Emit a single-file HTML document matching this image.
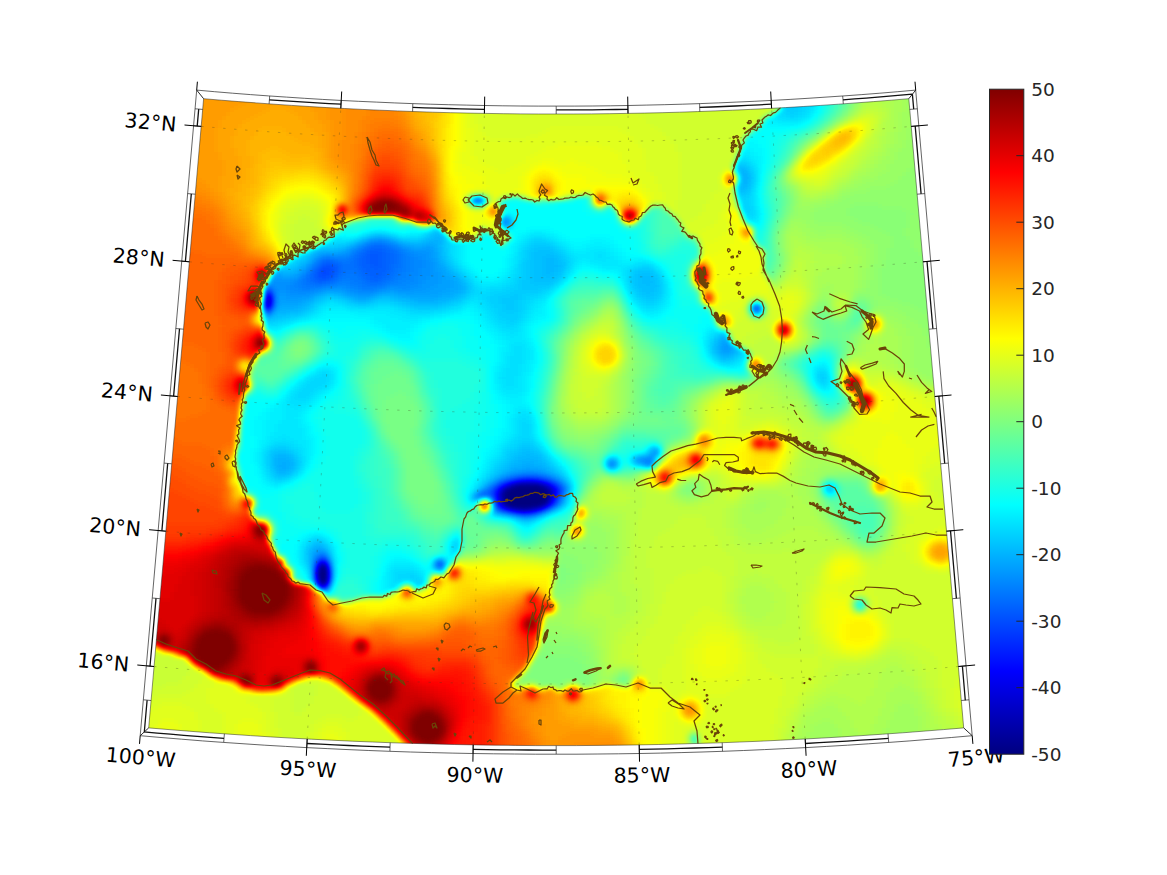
<!DOCTYPE html>
<html><head><meta charset="utf-8"><title>map</title><style>html,body{margin:0;padding:0;background:#fff;overflow:hidden}body{width:1167px;height:875px;position:relative}</style></head><body>
<svg width="1167" height="875" viewBox="0 0 1167 875" style="position:absolute;left:0;top:0">
<defs>
<filter id="jet" x="0" y="0" width="1167" height="875" filterUnits="userSpaceOnUse" color-interpolation-filters="sRGB">
<feGaussianBlur stdDeviation="2.6"/>
<feComponentTransfer>
<feFuncR type="table" tableValues="0 0 0 0 .5 1 1 1 .5"/>
<feFuncG type="table" tableValues="0 0 .5 1 1 1 .5 0 0"/>
<feFuncB type="table" tableValues=".5 1 1 1 .5 0 0 0 0"/>
<feFuncA type="linear" slope="100" intercept="0"/>
</feComponentTransfer>
</filter>
<clipPath id="mc"><path d="M203.6 98.7L221.2 100.2L238.8 101.6L256.4 102.9L274 104.2L291.6 105.4L309.2 106.5L326.9 107.6L344.5 108.5L362.1 109.4L379.7 110.2L397.4 110.9L415 111.6L432.7 112.2L450.3 112.7L468 113.1L485.6 113.4L503.2 113.7L520.9 113.9L538.5 114L556.2 114L573.9 114L591.5 113.9L609.2 113.7L626.8 113.4L644.4 113.1L662.1 112.7L679.7 112.2L697.4 111.6L715 110.9L732.7 110.2L750.3 109.4L767.9 108.5L785.5 107.6L803.2 106.5L820.8 105.4L838.4 104.2L856 102.9L873.6 101.6L891.2 100.2L908.8 98.7L963.7 727.9L943.4 729.6L923.1 731.2L902.7 732.8L882.4 734.2L862 735.6L841.7 736.9L821.3 738.1L800.9 739.2L780.5 740.2L760.2 741.2L739.8 742L719.4 742.8L699 743.4L678.6 744L658.2 744.5L637.8 744.9L617.4 745.2L597 745.4L576.6 745.6L556.2 745.6L535.8 745.6L515.4 745.4L495 745.2L474.6 744.9L454.2 744.5L433.8 744L413.4 743.4L393 742.8L372.6 742L352.2 741.2L331.9 740.2L311.5 739.2L291.1 738.1L270.7 736.9L250.4 735.6L230 734.2L209.7 732.8L189.3 731.2L169 729.6L148.7 727.9Z"/></clipPath>
<linearGradient id="cb" x1="0" y1="1" x2="0" y2="0">
<stop offset="0" stop-color="#000080"/><stop offset=".125" stop-color="#0000ff"/><stop offset=".375" stop-color="#00ffff"/>
<stop offset=".625" stop-color="#ffff00"/><stop offset=".875" stop-color="#ff0000"/><stop offset="1" stop-color="#800000"/>
</linearGradient>
</defs>
<rect width="1167" height="875" fill="#fff"/>
<g clip-path="url(#mc)"><g filter="url(#jet)" shape-rendering="crispEdges"><rect x="100" y="60" width="920" height="730" fill="#999"/>
<path fill="#000000" d="M516 484h24v4h-24zM508 488h40v4h-40zM504 492h44v4h-44zM504 496h44v4h-44zM504 500h44v4h-44zM508 504h32v4h-32zM320 564h4v4h-4zM320 568h8v4h-8zM320 572h8v4h-8zM320 576h8v4h-8zM320 580h8v4h-8z"/>
<path fill="#040404" d="M504 488h4v4h-4z"/>
<path fill="#060606" d="M512 484h4v4h-4zM540 484h4v4h-4zM540 504h4v4h-4zM316 572h4v4h-4z"/>
<path fill="#080808" d="M548 492h4v4h-4z"/>
<path fill="#0a0a0a" d="M548 488h4v4h-4zM500 492h4v4h-4zM504 504h4v4h-4zM520 508h8v4h-8zM316 576h4v4h-4z"/>
<path fill="#0c0c0c" d="M500 496h4v4h-4zM324 564h4v4h-4z"/>
<path fill="#0e0e0e" d="M508 484h4v4h-4zM544 484h4v4h-4zM548 496h4v4h-4zM516 508h4v4h-4zM528 508h4v4h-4zM316 568h4v4h-4z"/>
<path fill="#101010" d="M268 300h4v4h-4z"/>
<path fill="#121212" d="M268 296h4v4h-4zM264 304h4v4h-4zM500 488h4v4h-4zM500 500h4v4h-4zM548 500h4v4h-4zM320 584h4v4h-4z"/>
<path fill="#141414" d="M512 508h4v4h-4zM532 508h4v4h-4z"/>
<path fill="#161616" d="M264 300h4v4h-4zM524 480h8v4h-8zM552 492h4v4h-4zM544 504h4v4h-4z"/>
<path fill="#181818" d="M520 480h4v4h-4zM532 480h4v4h-4zM552 488h4v4h-4zM500 504h4v4h-4zM316 580h4v4h-4z"/>
<path fill="#1a1a1a" d="M264 296h4v4h-4zM268 304h4v4h-4zM536 480h4v4h-4zM504 484h4v4h-4zM548 484h4v4h-4z"/>
<path fill="#1c1c1c" d="M516 480h4v4h-4zM496 492h4v4h-4zM496 496h4v4h-4zM508 508h4v4h-4zM536 508h4v4h-4zM320 560h4v4h-4zM316 564h4v4h-4z"/>
<path fill="#1e1e1e" d="M324 584h4v4h-4z"/>
<path fill="#202020" d="M264 292h4v4h-4zM540 480h4v4h-4zM552 496h4v4h-4z"/>
<path fill="#222222" d="M512 480h4v4h-4zM496 488h4v4h-4zM496 500h4v4h-4z"/>
<path fill="#242424" d="M268 292h4v4h-4zM500 484h4v4h-4zM552 484h4v4h-4zM552 500h4v4h-4zM324 560h4v4h-4z"/>
<path fill="#262626" d="M544 480h4v4h-4zM556 488h4v4h-4zM556 492h4v4h-4zM496 504h4v4h-4zM548 504h4v4h-4zM504 508h4v4h-4zM328 572h4v4h-4z"/>
<path fill="#282828" d="M264 308h4v4h-4zM508 480h4v4h-4zM540 508h4v4h-4z"/>
<path fill="#2a2a2a" d="M328 576h4v4h-4z"/>
<path fill="#2c2c2c" d="M548 480h4v4h-4zM492 492h4v4h-4zM328 568h4v4h-4z"/>
<path fill="#2e2e2e" d="M556 484h4v4h-4zM492 488h4v4h-4zM492 496h4v4h-4zM500 508h4v4h-4zM520 512h8v4h-8zM316 560h4v4h-4zM316 584h4v4h-4z"/>
<path fill="#303030" d="M268 308h4v4h-4zM524 476h12v4h-12zM504 480h4v4h-4zM496 484h4v4h-4zM528 512h4v4h-4z"/>
<path fill="#323232" d="M320 268h12v4h-12zM320 272h8v4h-8zM520 476h4v4h-4zM536 476h4v4h-4zM556 496h4v4h-4zM516 512h4v4h-4zM320 556h4v4h-4z"/>
<path fill="#343434" d="M324 264h8v4h-8zM316 272h4v4h-4zM328 272h4v4h-4zM320 276h8v4h-8zM264 288h4v4h-4zM756 304h4v4h-4zM752 308h8v4h-8zM516 476h4v4h-4zM552 480h4v4h-4zM560 488h4v4h-4zM480 492h12v4h-12zM560 492h4v4h-4zM544 508h4v4h-4zM532 512h4v4h-4zM328 580h4v4h-4z"/>
<path fill="#363636" d="M368 252h12v4h-12zM368 256h12v4h-12zM368 260h12v4h-12zM320 264h4v4h-4zM332 264h4v4h-4zM372 264h8v4h-8zM316 268h4v4h-4zM332 268h4v4h-4zM332 272h4v4h-4zM316 276h4v4h-4zM328 276h4v4h-4zM268 288h4v4h-4zM540 476h4v4h-4zM500 480h4v4h-4zM556 500h4v4h-4zM552 504h4v4h-4zM328 564h4v4h-4z"/>
<path fill="#383838" d="M472 200h12v4h-12zM368 248h16v4h-16zM364 252h4v4h-4zM380 252h8v4h-8zM360 256h8v4h-8zM380 256h8v4h-8zM324 260h8v4h-8zM360 260h8v4h-8zM380 260h8v4h-8zM336 264h4v4h-4zM360 264h12v4h-12zM380 264h8v4h-8zM336 268h4v4h-4zM364 268h24v4h-24zM312 272h4v4h-4zM368 272h16v4h-16zM312 276h4v4h-4zM332 276h4v4h-4zM372 276h8v4h-8zM316 280h8v4h-8zM272 296h4v4h-4zM272 300h4v4h-4zM512 476h4v4h-4zM544 476h4v4h-4zM488 488h4v4h-4zM496 508h4v4h-4zM512 512h4v4h-4zM324 556h4v4h-4zM436 560h8v4h-8zM436 564h8v4h-8zM320 588h4v4h-4z"/>
<path fill="#3a3a3a" d="M372 244h12v4h-12zM364 248h4v4h-4zM384 248h8v4h-8zM360 252h4v4h-4zM388 252h8v4h-8zM356 256h4v4h-4zM388 256h8v4h-8zM320 260h4v4h-4zM332 260h4v4h-4zM356 260h4v4h-4zM388 260h8v4h-8zM316 264h4v4h-4zM356 264h4v4h-4zM388 264h4v4h-4zM312 268h4v4h-4zM340 268h4v4h-4zM360 268h4v4h-4zM388 268h4v4h-4zM336 272h4v4h-4zM360 272h8v4h-8zM384 272h4v4h-4zM308 276h4v4h-4zM364 276h8v4h-8zM380 276h8v4h-8zM312 280h4v4h-4zM324 280h8v4h-8zM368 280h12v4h-12zM492 484h4v4h-4zM560 484h4v4h-4zM492 500h4v4h-4zM316 556h4v4h-4z"/>
<path fill="#3c3c3c" d="M476 196h4v4h-4zM368 244h4v4h-4zM384 244h4v4h-4zM360 248h4v4h-4zM392 248h4v4h-4zM356 252h4v4h-4zM396 252h4v4h-4zM352 256h4v4h-4zM396 256h4v4h-4zM336 260h8v4h-8zM348 260h8v4h-8zM396 260h4v4h-4zM340 264h16v4h-16zM392 264h8v4h-8zM344 268h16v4h-16zM392 268h4v4h-4zM308 272h4v4h-4zM340 272h4v4h-4zM356 272h4v4h-4zM388 272h8v4h-8zM336 276h4v4h-4zM360 276h4v4h-4zM388 276h4v4h-4zM304 280h8v4h-8zM332 280h4v4h-4zM364 280h4v4h-4zM380 280h4v4h-4zM272 292h4v4h-4zM272 304h4v4h-4zM752 304h4v4h-4zM508 476h4v4h-4zM556 480h4v4h-4zM476 496h4v4h-4zM536 512h4v4h-4zM312 568h4v4h-4zM312 572h4v4h-4zM324 588h4v4h-4z"/>
<path fill="#3e3e3e" d="M364 244h4v4h-4zM388 244h4v4h-4zM356 248h4v4h-4zM396 248h4v4h-4zM352 252h4v4h-4zM400 252h4v4h-4zM324 256h8v4h-8zM348 256h4v4h-4zM400 256h4v4h-4zM316 260h4v4h-4zM344 260h4v4h-4zM400 260h4v4h-4zM312 264h4v4h-4zM400 264h4v4h-4zM396 268h8v4h-8zM344 272h12v4h-12zM396 272h4v4h-4zM304 276h4v4h-4zM340 276h20v4h-20zM392 276h4v4h-4zM300 280h4v4h-4zM336 280h4v4h-4zM352 280h12v4h-12zM384 280h8v4h-8zM304 284h20v4h-20zM360 284h24v4h-24zM548 476h4v4h-4zM496 480h4v4h-4zM508 512h4v4h-4zM312 564h4v4h-4zM312 576h4v4h-4z"/>
<path fill="#404040" d="M504 220h4v4h-4zM372 240h12v4h-12zM392 244h4v4h-4zM400 248h4v4h-4zM404 252h4v4h-4zM320 256h4v4h-4zM332 256h16v4h-16zM404 256h8v4h-8zM404 260h8v4h-8zM404 264h8v4h-8zM308 268h4v4h-4zM404 268h8v4h-8zM304 272h4v4h-4zM400 272h8v4h-8zM300 276h4v4h-4zM396 276h12v4h-12zM296 280h4v4h-4zM340 280h12v4h-12zM392 280h8v4h-8zM268 284h4v4h-4zM296 284h8v4h-8zM324 284h8v4h-8zM348 284h12v4h-12zM384 284h4v4h-4zM272 288h4v4h-4zM300 288h12v4h-12zM360 288h16v4h-16zM264 312h4v4h-4zM648 456h4v4h-4zM644 460h8v4h-8zM648 464h4v4h-4zM524 472h12v4h-12zM504 476h4v4h-4zM484 488h4v4h-4zM564 488h4v4h-4zM476 492h4v4h-4zM488 496h4v4h-4zM560 496h4v4h-4zM492 504h4v4h-4zM548 508h4v4h-4zM320 552h4v4h-4zM328 560h4v4h-4z"/>
<path fill="#424242" d="M368 240h4v4h-4zM384 240h4v4h-4zM360 244h4v4h-4zM396 244h4v4h-4zM352 248h4v4h-4zM404 248h4v4h-4zM348 252h4v4h-4zM408 252h8v4h-8zM412 256h8v4h-8zM412 260h12v4h-12zM412 264h12v4h-12zM412 268h8v4h-8zM408 272h12v4h-12zM408 276h8v4h-8zM292 280h4v4h-4zM400 280h16v4h-16zM264 284h4v4h-4zM288 284h8v4h-8zM332 284h16v4h-16zM388 284h20v4h-20zM288 288h12v4h-12zM312 288h8v4h-8zM352 288h8v4h-8zM376 288h4v4h-4zM268 312h4v4h-4zM644 456h4v4h-4zM608 460h8v4h-8zM608 464h8v4h-8zM516 472h8v4h-8zM536 472h8v4h-8zM552 476h4v4h-4zM488 484h4v4h-4zM556 504h4v4h-4zM312 560h4v4h-4z"/>
<path fill="#444444" d="M388 240h4v4h-4zM408 248h4v4h-4zM344 252h4v4h-4zM416 252h12v4h-12zM316 256h4v4h-4zM420 256h8v4h-8zM312 260h4v4h-4zM424 260h8v4h-8zM308 264h4v4h-4zM424 264h8v4h-8zM304 268h4v4h-4zM420 268h12v4h-12zM300 272h4v4h-4zM420 272h12v4h-12zM296 276h4v4h-4zM416 276h12v4h-12zM272 280h20v4h-20zM416 280h8v4h-8zM272 284h16v4h-16zM408 284h12v4h-12zM276 288h12v4h-12zM320 288h4v4h-4zM344 288h8v4h-8zM380 288h8v4h-8zM400 288h12v4h-12zM288 292h24v4h-24zM356 292h16v4h-16zM272 308h4v4h-4zM640 456h4v4h-4zM640 460h4v4h-4zM512 472h4v4h-4zM500 476h4v4h-4zM560 480h4v4h-4zM564 484h4v4h-4zM560 500h4v4h-4zM504 512h4v4h-4zM540 512h4v4h-4zM316 552h4v4h-4zM324 552h4v4h-4zM328 584h4v4h-4z"/>
<path fill="#464646" d="M504 216h4v4h-4zM500 220h4v4h-4zM508 220h4v4h-4zM504 224h4v4h-4zM364 240h4v4h-4zM392 240h4v4h-4zM356 244h4v4h-4zM400 244h4v4h-4zM348 248h4v4h-4zM412 248h20v4h-20zM324 252h8v4h-8zM336 252h8v4h-8zM428 252h4v4h-4zM428 256h4v4h-4zM432 260h4v4h-4zM432 264h4v4h-4zM432 268h4v4h-4zM432 272h8v4h-8zM272 276h12v4h-12zM288 276h8v4h-8zM428 276h12v4h-12zM268 280h4v4h-4zM424 280h16v4h-16zM420 284h16v4h-16zM324 288h20v4h-20zM388 288h12v4h-12zM412 288h16v4h-16zM276 292h12v4h-12zM312 292h4v4h-4zM348 292h8v4h-8zM372 292h4v4h-4zM276 296h4v4h-4zM284 296h20v4h-20zM724 340h4v4h-4zM724 344h8v4h-8zM724 348h4v4h-4zM652 452h8v4h-8zM636 456h4v4h-4zM636 460h4v4h-4zM644 464h4v4h-4zM508 472h4v4h-4zM544 472h4v4h-4zM492 480h4v4h-4zM524 516h4v4h-4zM312 556h4v4h-4zM312 580h4v4h-4z"/>
<path fill="#484848" d="M376 236h8v4h-8zM404 244h8v4h-8zM424 244h8v4h-8zM344 248h4v4h-4zM432 248h4v4h-4zM320 252h4v4h-4zM332 252h4v4h-4zM432 252h4v4h-4zM312 256h4v4h-4zM432 256h4v4h-4zM436 260h4v4h-4zM304 264h4v4h-4zM436 264h4v4h-4zM300 268h4v4h-4zM436 268h8v4h-8zM272 272h8v4h-8zM296 272h4v4h-4zM440 272h4v4h-4zM284 276h4v4h-4zM440 276h8v4h-8zM440 280h12v4h-12zM436 284h16v4h-16zM428 288h20v4h-20zM316 292h4v4h-4zM344 292h4v4h-4zM376 292h4v4h-4zM396 292h44v4h-44zM280 296h4v4h-4zM304 296h8v4h-8zM356 296h12v4h-12zM276 300h24v4h-24zM276 304h4v4h-4zM720 344h4v4h-4zM720 348h4v4h-4zM728 348h4v4h-4zM652 448h8v4h-8zM652 460h4v4h-4zM520 468h20v4h-20zM548 472h4v4h-4zM556 476h4v4h-4zM480 488h4v4h-4zM564 492h4v4h-4zM472 496h4v4h-4zM480 496h4v4h-4zM492 508h4v4h-4zM500 512h4v4h-4zM520 516h4v4h-4zM528 516h4v4h-4zM316 548h8v4h-8zM312 552h4v4h-4z"/>
<path fill="#4a4a4a" d="M372 236h4v4h-4zM384 236h4v4h-4zM360 240h4v4h-4zM396 240h4v4h-4zM352 244h4v4h-4zM412 244h12v4h-12zM432 244h4v4h-4zM316 252h4v4h-4zM436 252h4v4h-4zM436 256h4v4h-4zM308 260h4v4h-4zM440 264h4v4h-4zM444 268h4v4h-4zM280 272h4v4h-4zM292 272h4v4h-4zM444 272h8v4h-8zM448 276h8v4h-8zM452 280h8v4h-8zM452 284h8v4h-8zM448 288h12v4h-12zM320 292h4v4h-4zM340 292h4v4h-4zM380 292h16v4h-16zM440 292h12v4h-12zM352 296h4v4h-4zM368 296h4v4h-4zM408 296h32v4h-32zM300 300h8v4h-8zM280 304h20v4h-20zM756 312h4v4h-4zM724 336h4v4h-4zM720 340h4v4h-4zM732 348h4v4h-4zM720 352h12v4h-12zM652 456h4v4h-4zM280 464h8v4h-8zM524 464h8v4h-8zM512 468h8v4h-8zM540 468h4v4h-4zM504 472h4v4h-4zM496 476h4v4h-4zM484 484h4v4h-4zM552 508h4v4h-4zM328 556h4v4h-4zM436 568h8v4h-8z"/>
<path fill="#4c4c4c" d="M740 168h4v4h-4zM740 172h8v4h-8zM740 176h8v4h-8zM740 180h8v4h-8zM740 184h4v4h-4zM368 236h4v4h-4zM388 236h4v4h-4zM436 236h4v4h-4zM400 240h4v4h-4zM424 240h16v4h-16zM348 244h4v4h-4zM436 244h4v4h-4zM336 248h8v4h-8zM436 248h4v4h-4zM440 260h4v4h-4zM300 264h4v4h-4zM444 264h4v4h-4zM276 268h4v4h-4zM296 268h4v4h-4zM284 272h8v4h-8zM456 276h4v4h-4zM460 284h4v4h-4zM460 288h4v4h-4zM324 292h4v4h-4zM332 292h8v4h-8zM452 292h8v4h-8zM312 296h4v4h-4zM348 296h4v4h-4zM372 296h4v4h-4zM400 296h8v4h-8zM440 296h12v4h-12zM308 300h4v4h-4zM416 300h20v4h-20zM300 304h4v4h-4zM276 308h20v4h-20zM760 308h4v4h-4zM272 312h4v4h-4zM264 316h4v4h-4zM720 336h4v4h-4zM716 344h4v4h-4zM716 348h4v4h-4zM736 348h4v4h-4zM648 452h4v4h-4zM276 456h12v4h-12zM276 460h16v4h-16zM520 460h16v4h-16zM276 464h4v4h-4zM288 464h4v4h-4zM512 464h12v4h-12zM532 464h12v4h-12zM276 468h12v4h-12zM508 468h4v4h-4zM544 468h4v4h-4zM500 472h4v4h-4zM552 472h4v4h-4zM560 476h4v4h-4zM488 480h4v4h-4zM564 480h4v4h-4zM496 512h4v4h-4zM516 516h4v4h-4zM532 516h4v4h-4zM316 544h4v4h-4zM312 548h4v4h-4zM324 548h4v4h-4zM432 564h4v4h-4z"/>
<path fill="#4e4e4e" d="M736 168h4v4h-4zM744 168h4v4h-4zM748 176h4v4h-4zM744 184h4v4h-4zM740 188h4v4h-4zM472 196h4v4h-4zM480 196h4v4h-4zM436 228h4v4h-4zM436 232h8v4h-8zM428 236h8v4h-8zM440 236h4v4h-4zM356 240h4v4h-4zM404 240h4v4h-4zM420 240h4v4h-4zM440 240h4v4h-4zM316 248h20v4h-20zM440 248h4v4h-4zM312 252h4v4h-4zM440 252h4v4h-4zM308 256h4v4h-4zM440 256h4v4h-4zM544 256h12v4h-12zM304 260h4v4h-4zM544 260h12v4h-12zM544 264h16v4h-16zM292 268h4v4h-4zM448 268h4v4h-4zM544 268h12v4h-12zM452 272h4v4h-4zM544 272h8v4h-8zM644 276h4v4h-4zM460 280h4v4h-4zM644 280h8v4h-8zM464 284h4v4h-4zM464 288h4v4h-4zM328 292h4v4h-4zM460 292h4v4h-4zM316 296h4v4h-4zM344 296h4v4h-4zM376 296h4v4h-4zM392 296h8v4h-8zM452 296h4v4h-4zM356 300h12v4h-12zM408 300h8v4h-8zM436 300h12v4h-12zM304 304h4v4h-4zM296 308h8v4h-8zM276 312h12v4h-12zM268 316h4v4h-4zM724 332h4v4h-4zM716 340h4v4h-4zM732 344h4v4h-4zM716 352h4v4h-4zM732 352h4v4h-4zM720 356h8v4h-8zM276 452h12v4h-12zM524 452h8v4h-8zM272 456h4v4h-4zM288 456h4v4h-4zM516 456h24v4h-24zM272 460h4v4h-4zM292 460h4v4h-4zM512 460h8v4h-8zM536 460h8v4h-8zM632 460h4v4h-4zM272 464h4v4h-4zM292 464h4v4h-4zM508 464h4v4h-4zM544 464h4v4h-4zM288 468h4v4h-4zM504 468h4v4h-4zM548 468h4v4h-4zM276 472h12v4h-12zM556 472h4v4h-4zM492 476h4v4h-4zM568 488h4v4h-4zM484 496h4v4h-4zM564 496h4v4h-4zM560 504h4v4h-4zM544 512h4v4h-4zM312 544h4v4h-4zM320 544h4v4h-4zM308 548h4v4h-4zM308 552h4v4h-4zM308 556h4v4h-4zM308 560h4v4h-4z"/>
<path fill="#505050" d="M736 164h8v4h-8zM748 172h4v4h-4zM748 180h4v4h-4zM748 184h4v4h-4zM736 188h4v4h-4zM744 188h4v4h-4zM508 216h4v4h-4zM508 224h4v4h-4zM432 232h4v4h-4zM364 236h4v4h-4zM392 236h4v4h-4zM408 240h12v4h-12zM344 244h4v4h-4zM440 244h4v4h-4zM312 248h4v4h-4zM536 248h16v4h-16zM308 252h4v4h-4zM532 252h24v4h-24zM304 256h4v4h-4zM444 256h4v4h-4zM532 256h12v4h-12zM556 256h4v4h-4zM300 260h4v4h-4zM444 260h4v4h-4zM532 260h12v4h-12zM556 260h8v4h-8zM296 264h4v4h-4zM448 264h4v4h-4zM532 264h12v4h-12zM560 264h4v4h-4zM280 268h12v4h-12zM452 268h4v4h-4zM532 268h12v4h-12zM556 268h8v4h-8zM456 272h4v4h-4zM532 272h12v4h-12zM552 272h8v4h-8zM636 272h16v4h-16zM460 276h4v4h-4zM532 276h24v4h-24zM636 276h8v4h-8zM648 276h8v4h-8zM464 280h4v4h-4zM532 280h20v4h-20zM636 280h8v4h-8zM652 280h4v4h-4zM636 284h24v4h-24zM640 288h16v4h-16zM464 292h4v4h-4zM644 292h8v4h-8zM320 296h4v4h-4zM340 296h4v4h-4zM380 296h12v4h-12zM456 296h4v4h-4zM312 300h4v4h-4zM352 300h4v4h-4zM368 300h4v4h-4zM400 300h8v4h-8zM448 300h4v4h-4zM308 304h4v4h-4zM416 304h24v4h-24zM304 308h4v4h-4zM288 312h12v4h-12zM272 316h4v4h-4zM716 336h4v4h-4zM728 340h4v4h-4zM712 344h4v4h-4zM712 348h4v4h-4zM736 352h4v4h-4zM728 356h4v4h-4zM520 448h12v4h-12zM648 448h4v4h-4zM272 452h4v4h-4zM288 452h4v4h-4zM516 452h8v4h-8zM532 452h8v4h-8zM292 456h4v4h-4zM512 456h4v4h-4zM540 456h4v4h-4zM508 460h4v4h-4zM544 460h4v4h-4zM504 464h4v4h-4zM548 464h4v4h-4zM272 468h4v4h-4zM292 468h4v4h-4zM500 468h4v4h-4zM552 468h4v4h-4zM288 472h4v4h-4zM496 472h4v4h-4zM568 484h4v4h-4zM472 492h4v4h-4zM564 500h4v4h-4zM328 552h4v4h-4zM308 564h4v4h-4z"/>
<path fill="#525252" d="M784 80h8v4h-8zM784 84h8v4h-8zM784 88h12v4h-12zM784 92h12v4h-12zM784 96h12v4h-12zM784 100h12v4h-12zM784 104h12v4h-12zM744 164h4v4h-4zM748 168h4v4h-4zM736 184h4v4h-4zM748 188h4v4h-4zM736 192h12v4h-12zM500 224h4v4h-4zM428 232h4v4h-4zM424 236h4v4h-4zM444 236h4v4h-4zM352 240h4v4h-4zM444 240h4v4h-4zM320 244h4v4h-4zM336 244h8v4h-8zM444 244h4v4h-4zM532 244h20v4h-20zM444 248h4v4h-4zM528 248h8v4h-8zM552 248h4v4h-4zM444 252h4v4h-4zM528 252h4v4h-4zM556 252h8v4h-8zM528 256h4v4h-4zM560 256h4v4h-4zM296 260h4v4h-4zM448 260h4v4h-4zM524 260h8v4h-8zM564 260h4v4h-4zM292 264h4v4h-4zM524 264h8v4h-8zM564 264h4v4h-4zM524 268h8v4h-8zM636 268h16v4h-16zM524 272h8v4h-8zM560 272h4v4h-4zM632 272h4v4h-4zM652 272h4v4h-4zM524 276h8v4h-8zM556 276h4v4h-4zM632 276h4v4h-4zM656 276h4v4h-4zM520 280h12v4h-12zM552 280h4v4h-4zM632 280h4v4h-4zM656 280h4v4h-4zM468 284h4v4h-4zM520 284h32v4h-32zM632 284h4v4h-4zM468 288h4v4h-4zM520 288h20v4h-20zM636 288h4v4h-4zM656 288h4v4h-4zM512 292h8v4h-8zM636 292h8v4h-8zM652 292h8v4h-8zM324 296h4v4h-4zM332 296h8v4h-8zM460 296h4v4h-4zM500 296h20v4h-20zM644 296h12v4h-12zM316 300h4v4h-4zM348 300h4v4h-4zM372 300h4v4h-4zM392 300h8v4h-8zM452 300h8v4h-8zM500 300h16v4h-16zM312 304h4v4h-4zM408 304h8v4h-8zM440 304h8v4h-8zM504 304h12v4h-12zM308 308h4v4h-4zM504 308h12v4h-12zM300 312h4v4h-4zM276 316h12v4h-12zM720 332h4v4h-4zM712 340h4v4h-4zM712 352h4v4h-4zM716 356h4v4h-4zM732 356h4v4h-4zM520 444h12v4h-12zM272 448h16v4h-16zM516 448h4v4h-4zM532 448h8v4h-8zM268 452h4v4h-4zM292 452h4v4h-4zM508 452h8v4h-8zM540 452h4v4h-4zM268 456h4v4h-4zM508 456h4v4h-4zM612 456h4v4h-4zM632 456h4v4h-4zM268 460h4v4h-4zM296 460h4v4h-4zM504 460h4v4h-4zM616 460h4v4h-4zM268 464h4v4h-4zM296 464h4v4h-4zM500 464h4v4h-4zM616 464h4v4h-4zM640 464h4v4h-4zM496 468h4v4h-4zM272 472h4v4h-4zM492 472h4v4h-4zM276 476h8v4h-8zM488 476h4v4h-4zM484 480h4v4h-4zM480 484h4v4h-4zM828 484h4v4h-4zM476 488h4v4h-4zM824 488h12v4h-12zM492 512h4v4h-4zM512 516h4v4h-4zM536 516h4v4h-4zM312 540h12v4h-12zM308 544h4v4h-4zM324 544h4v4h-4zM456 544h4v4h-4zM304 552h4v4h-4zM432 560h4v4h-4zM444 560h4v4h-4zM444 564h4v4h-4zM308 568h4v4h-4zM332 568h4v4h-4zM332 572h4v4h-4z"/>
<path fill="#545454" d="M784 76h16v4h-16zM792 80h8v4h-8zM792 84h12v4h-12zM796 88h8v4h-8zM796 92h8v4h-8zM796 96h8v4h-8zM796 100h8v4h-8zM796 104h8v4h-8zM784 108h16v4h-16zM788 112h8v4h-8zM740 160h4v4h-4zM748 164h4v4h-4zM752 172h4v4h-4zM752 176h4v4h-4zM752 180h4v4h-4zM748 192h4v4h-4zM740 196h8v4h-8zM740 200h8v4h-8zM744 204h4v4h-4zM744 208h8v4h-8zM744 212h4v4h-4zM500 216h4v4h-4zM432 228h4v4h-4zM372 232h12v4h-12zM360 236h4v4h-4zM396 236h4v4h-4zM420 236h4v4h-4zM348 240h4v4h-4zM532 240h16v4h-16zM324 244h12v4h-12zM528 244h4v4h-4zM552 244h4v4h-4zM524 248h4v4h-4zM556 248h4v4h-4zM304 252h4v4h-4zM524 252h4v4h-4zM296 256h8v4h-8zM448 256h4v4h-4zM524 256h4v4h-4zM564 256h4v4h-4zM292 260h4v4h-4zM520 260h4v4h-4zM280 264h12v4h-12zM452 264h4v4h-4zM520 264h4v4h-4zM644 264h4v4h-4zM456 268h4v4h-4zM520 268h4v4h-4zM564 268h4v4h-4zM632 268h4v4h-4zM652 268h4v4h-4zM460 272h4v4h-4zM520 272h4v4h-4zM656 272h4v4h-4zM464 276h4v4h-4zM516 276h8v4h-8zM560 276h4v4h-4zM628 276h4v4h-4zM468 280h4v4h-4zM516 280h4v4h-4zM556 280h4v4h-4zM628 280h4v4h-4zM660 280h4v4h-4zM512 284h8v4h-8zM660 284h4v4h-4zM472 288h4v4h-4zM504 288h16v4h-16zM540 288h8v4h-8zM632 288h4v4h-4zM660 288h4v4h-4zM468 292h4v4h-4zM492 292h20v4h-20zM520 292h20v4h-20zM660 292h4v4h-4zM328 296h4v4h-4zM464 296h4v4h-4zM488 296h12v4h-12zM520 296h8v4h-8zM636 296h8v4h-8zM656 296h4v4h-4zM320 300h4v4h-4zM344 300h4v4h-4zM376 300h16v4h-16zM460 300h4v4h-4zM488 300h12v4h-12zM516 300h8v4h-8zM644 300h12v4h-12zM356 304h12v4h-12zM400 304h8v4h-8zM448 304h4v4h-4zM492 304h12v4h-12zM516 304h8v4h-8zM412 308h24v4h-24zM496 308h8v4h-8zM516 308h8v4h-8zM304 312h4v4h-4zM496 312h24v4h-24zM288 316h8v4h-8zM500 316h20v4h-20zM264 320h16v4h-16zM508 320h8v4h-8zM716 332h4v4h-4zM712 336h4v4h-4zM740 352h4v4h-4zM720 360h12v4h-12zM820 372h4v4h-4zM820 376h8v4h-8zM820 380h4v4h-4zM520 440h12v4h-12zM276 444h12v4h-12zM516 444h4v4h-4zM532 444h4v4h-4zM268 448h4v4h-4zM288 448h4v4h-4zM508 448h8v4h-8zM504 452h4v4h-4zM296 456h4v4h-4zM504 456h4v4h-4zM544 456h4v4h-4zM608 456h4v4h-4zM500 460h4v4h-4zM548 460h4v4h-4zM496 464h4v4h-4zM552 464h4v4h-4zM268 468h4v4h-4zM296 468h4v4h-4zM492 468h4v4h-4zM556 468h4v4h-4zM292 472h4v4h-4zM560 472h4v4h-4zM272 476h4v4h-4zM284 476h4v4h-4zM564 476h4v4h-4zM556 508h4v4h-4zM524 520h4v4h-4zM456 540h4v4h-4zM304 548h4v4h-4zM328 548h4v4h-4zM456 548h4v4h-4zM304 556h4v4h-4zM304 560h4v4h-4zM332 564h4v4h-4zM332 576h4v4h-4zM408 576h8v4h-8zM416 580h4v4h-4zM328 588h4v4h-4z"/>
<path fill="#565656" d="M800 76h8v4h-8zM800 80h8v4h-8zM804 84h4v4h-4zM804 88h4v4h-4zM804 92h4v4h-4zM804 96h4v4h-4zM804 100h4v4h-4zM804 104h4v4h-4zM780 108h4v4h-4zM800 108h8v4h-8zM776 112h12v4h-12zM796 112h8v4h-8zM788 116h8v4h-8zM736 160h4v4h-4zM744 160h4v4h-4zM752 168h4v4h-4zM752 184h4v4h-4zM748 196h4v4h-4zM748 200h4v4h-4zM740 204h4v4h-4zM748 204h4v4h-4zM740 208h4v4h-4zM752 208h4v4h-4zM748 212h8v4h-8zM744 216h8v4h-8zM384 232h4v4h-4zM424 232h4v4h-4zM400 236h20v4h-20zM532 236h12v4h-12zM336 240h12v4h-12zM448 240h4v4h-4zM528 240h4v4h-4zM548 240h4v4h-4zM448 244h4v4h-4zM524 244h4v4h-4zM556 244h4v4h-4zM448 248h4v4h-4zM520 248h4v4h-4zM560 248h4v4h-4zM300 252h4v4h-4zM448 252h4v4h-4zM520 252h4v4h-4zM564 252h4v4h-4zM520 256h4v4h-4zM568 256h4v4h-4zM288 260h4v4h-4zM452 260h4v4h-4zM568 260h4v4h-4zM456 264h4v4h-4zM516 264h4v4h-4zM568 264h4v4h-4zM636 264h8v4h-8zM648 264h4v4h-4zM460 268h4v4h-4zM516 268h4v4h-4zM628 268h4v4h-4zM464 272h4v4h-4zM516 272h4v4h-4zM564 272h4v4h-4zM628 272h4v4h-4zM468 276h4v4h-4zM512 276h4v4h-4zM660 276h4v4h-4zM512 280h4v4h-4zM472 284h4v4h-4zM504 284h8v4h-8zM552 284h4v4h-4zM628 284h4v4h-4zM476 288h4v4h-4zM488 288h16v4h-16zM548 288h4v4h-4zM628 288h4v4h-4zM472 292h20v4h-20zM540 292h4v4h-4zM632 292h4v4h-4zM468 296h4v4h-4zM480 296h8v4h-8zM528 296h8v4h-8zM660 296h4v4h-4zM324 300h4v4h-4zM336 300h8v4h-8zM484 300h4v4h-4zM524 300h8v4h-8zM640 300h4v4h-4zM656 300h4v4h-4zM316 304h4v4h-4zM348 304h8v4h-8zM368 304h8v4h-8zM392 304h8v4h-8zM452 304h8v4h-8zM488 304h4v4h-4zM524 304h4v4h-4zM644 304h12v4h-12zM312 308h4v4h-4zM404 308h8v4h-8zM436 308h8v4h-8zM488 308h8v4h-8zM524 308h4v4h-4zM308 312h4v4h-4zM492 312h4v4h-4zM520 312h4v4h-4zM296 316h4v4h-4zM496 316h4v4h-4zM520 316h4v4h-4zM280 320h8v4h-8zM496 320h12v4h-12zM516 320h4v4h-4zM504 324h12v4h-12zM708 340h4v4h-4zM708 344h4v4h-4zM708 348h4v4h-4zM740 348h4v4h-4zM712 356h4v4h-4zM736 356h4v4h-4zM732 360h4v4h-4zM320 372h8v4h-8zM816 372h4v4h-4zM824 372h4v4h-4zM312 376h16v4h-16zM816 376h4v4h-4zM308 380h20v4h-20zM824 380h4v4h-4zM304 384h20v4h-20zM300 388h16v4h-16zM296 392h16v4h-16zM296 396h12v4h-12zM520 420h8v4h-8zM520 424h12v4h-12zM520 428h12v4h-12zM520 432h12v4h-12zM516 436h16v4h-16zM512 440h8v4h-8zM532 440h4v4h-4zM272 444h4v4h-4zM288 444h4v4h-4zM508 444h8v4h-8zM536 444h4v4h-4zM292 448h8v4h-8zM504 448h4v4h-4zM540 448h4v4h-4zM264 452h4v4h-4zM296 452h4v4h-4zM544 452h4v4h-4zM644 452h4v4h-4zM264 456h4v4h-4zM300 456h4v4h-4zM500 456h4v4h-4zM548 456h4v4h-4zM264 460h4v4h-4zM300 460h4v4h-4zM496 460h4v4h-4zM604 460h4v4h-4zM264 464h4v4h-4zM300 464h4v4h-4zM492 464h4v4h-4zM604 464h4v4h-4zM636 464h4v4h-4zM612 468h4v4h-4zM268 472h4v4h-4zM488 472h4v4h-4zM288 476h4v4h-4zM484 476h4v4h-4zM480 480h4v4h-4zM568 480h4v4h-4zM468 496h4v4h-4zM548 512h4v4h-4zM508 516h4v4h-4zM520 520h4v4h-4zM528 520h4v4h-4zM316 536h4v4h-4zM308 540h4v4h-4zM324 540h4v4h-4zM304 544h4v4h-4zM452 544h4v4h-4zM452 548h4v4h-4zM440 556h4v4h-4zM332 560h4v4h-4zM308 572h4v4h-4zM396 572h20v4h-20zM396 576h12v4h-12zM416 576h4v4h-4zM396 580h4v4h-4zM412 580h4v4h-4zM420 580h4v4h-4zM416 584h8v4h-8z"/>
<path fill="#585858" d="M808 76h4v4h-4zM808 80h4v4h-4zM808 84h4v4h-4zM808 88h4v4h-4zM808 92h4v4h-4zM808 96h4v4h-4zM808 100h4v4h-4zM808 104h4v4h-4zM808 108h4v4h-4zM804 112h4v4h-4zM776 116h12v4h-12zM796 116h8v4h-8zM740 156h8v4h-8zM748 160h4v4h-4zM752 164h4v4h-4zM736 172h4v4h-4zM752 188h4v4h-4zM752 192h4v4h-4zM752 196h4v4h-4zM752 200h4v4h-4zM752 204h4v4h-4zM752 216h4v4h-4zM368 232h4v4h-4zM388 232h4v4h-4zM356 236h4v4h-4zM528 236h4v4h-4zM544 236h4v4h-4zM328 240h8v4h-8zM524 240h4v4h-4zM552 240h4v4h-4zM452 244h4v4h-4zM520 244h4v4h-4zM560 244h4v4h-4zM452 248h4v4h-4zM564 248h4v4h-4zM452 252h4v4h-4zM516 252h4v4h-4zM568 252h4v4h-4zM596 252h8v4h-8zM452 256h4v4h-4zM516 256h4v4h-4zM572 256h4v4h-4zM596 256h12v4h-12zM456 260h4v4h-4zM516 260h4v4h-4zM572 260h4v4h-4zM632 264h4v4h-4zM652 264h4v4h-4zM512 268h4v4h-4zM568 268h4v4h-4zM624 268h4v4h-4zM656 268h4v4h-4zM512 272h4v4h-4zM624 272h4v4h-4zM660 272h4v4h-4zM268 276h4v4h-4zM508 276h4v4h-4zM564 276h4v4h-4zM624 276h4v4h-4zM472 280h4v4h-4zM504 280h8v4h-8zM560 280h4v4h-4zM624 280h4v4h-4zM476 284h8v4h-8zM488 284h16v4h-16zM556 284h4v4h-4zM664 284h4v4h-4zM480 288h8v4h-8zM664 288h4v4h-4zM544 292h4v4h-4zM664 292h4v4h-4zM472 296h8v4h-8zM536 296h8v4h-8zM632 296h4v4h-4zM328 300h8v4h-8zM464 300h8v4h-8zM476 300h8v4h-8zM532 300h4v4h-4zM636 300h4v4h-4zM660 300h4v4h-4zM320 304h4v4h-4zM344 304h4v4h-4zM376 304h16v4h-16zM460 304h4v4h-4zM480 304h8v4h-8zM528 304h4v4h-4zM640 304h4v4h-4zM656 304h4v4h-4zM760 304h4v4h-4zM316 308h4v4h-4zM396 308h8v4h-8zM444 308h8v4h-8zM484 308h4v4h-4zM528 308h4v4h-4zM648 308h4v4h-4zM312 312h4v4h-4zM408 312h24v4h-24zM488 312h4v4h-4zM524 312h4v4h-4zM752 312h4v4h-4zM300 316h8v4h-8zM488 316h8v4h-8zM524 316h4v4h-4zM288 320h4v4h-4zM492 320h4v4h-4zM520 320h4v4h-4zM264 324h16v4h-16zM496 324h8v4h-8zM516 324h4v4h-4zM500 328h20v4h-20zM508 332h8v4h-8zM712 332h4v4h-4zM708 336h4v4h-4zM512 344h12v4h-12zM512 348h12v4h-12zM512 352h12v4h-12zM708 352h4v4h-4zM744 352h4v4h-4zM508 356h16v4h-16zM740 356h4v4h-4zM508 360h16v4h-16zM716 360h4v4h-4zM736 360h4v4h-4zM508 364h12v4h-12zM324 368h4v4h-4zM504 368h16v4h-16zM816 368h12v4h-12zM316 372h4v4h-4zM328 372h4v4h-4zM504 372h16v4h-16zM308 376h4v4h-4zM328 376h4v4h-4zM500 376h16v4h-16zM304 380h4v4h-4zM328 380h4v4h-4zM504 380h12v4h-12zM816 380h4v4h-4zM300 384h4v4h-4zM324 384h4v4h-4zM504 384h12v4h-12zM820 384h8v4h-8zM296 388h4v4h-4zM316 388h8v4h-8zM292 392h4v4h-4zM312 392h4v4h-4zM288 396h8v4h-8zM308 396h4v4h-4zM288 400h20v4h-20zM292 404h8v4h-8zM520 412h8v4h-8zM516 416h16v4h-16zM516 420h4v4h-4zM528 420h4v4h-4zM516 424h4v4h-4zM516 428h4v4h-4zM516 432h4v4h-4zM280 436h8v4h-8zM512 436h4v4h-4zM532 436h4v4h-4zM272 440h24v4h-24zM508 440h4v4h-4zM268 444h4v4h-4zM292 444h8v4h-8zM504 444h4v4h-4zM652 444h4v4h-4zM264 448h4v4h-4zM300 448h4v4h-4zM500 448h4v4h-4zM300 452h4v4h-4zM500 452h4v4h-4zM496 456h4v4h-4zM492 460h4v4h-4zM552 460h4v4h-4zM556 464h4v4h-4zM264 468h4v4h-4zM488 468h4v4h-4zM560 468h4v4h-4zM608 468h4v4h-4zM264 472h4v4h-4zM296 472h4v4h-4zM484 472h4v4h-4zM564 472h4v4h-4zM268 476h4v4h-4zM272 480h12v4h-12zM476 484h4v4h-4zM824 484h4v4h-4zM832 484h4v4h-4zM828 492h4v4h-4zM472 500h4v4h-4zM564 504h4v4h-4zM540 516h4v4h-4zM532 520h4v4h-4zM312 536h4v4h-4zM320 536h4v4h-4zM452 540h4v4h-4zM328 544h4v4h-4zM300 552h4v4h-4zM452 552h4v4h-4zM300 556h4v4h-4zM332 556h4v4h-4zM436 556h4v4h-4zM304 564h4v4h-4zM392 568h24v4h-24zM432 568h4v4h-4zM392 572h4v4h-4zM416 572h4v4h-4zM308 576h4v4h-4zM392 576h4v4h-4zM420 576h4v4h-4zM332 580h4v4h-4zM392 580h4v4h-4zM400 580h4v4h-4zM392 584h4v4h-4zM324 592h4v4h-4z"/>
<path fill="#5a5a5a" d="M812 76h4v4h-4zM812 80h4v4h-4zM812 84h4v4h-4zM812 88h4v4h-4zM812 92h4v4h-4zM812 96h4v4h-4zM812 100h4v4h-4zM812 104h4v4h-4zM808 112h4v4h-4zM772 116h4v4h-4zM804 116h4v4h-4zM780 120h20v4h-20zM740 152h8v4h-8zM748 156h4v4h-4zM752 160h4v4h-4zM756 168h4v4h-4zM756 172h4v4h-4zM756 176h4v4h-4zM756 180h4v4h-4zM756 208h4v4h-4zM756 212h4v4h-4zM756 216h4v4h-4zM752 220h4v4h-4zM364 232h4v4h-4zM392 232h4v4h-4zM420 232h4v4h-4zM532 232h12v4h-12zM332 236h8v4h-8zM352 236h4v4h-4zM524 236h4v4h-4zM548 236h8v4h-8zM452 240h8v4h-8zM520 240h4v4h-4zM556 240h4v4h-4zM456 244h4v4h-4zM516 244h4v4h-4zM564 244h4v4h-4zM456 248h4v4h-4zM516 248h4v4h-4zM568 248h4v4h-4zM588 248h20v4h-20zM456 252h4v4h-4zM572 252h24v4h-24zM604 252h8v4h-8zM292 256h4v4h-4zM456 256h4v4h-4zM512 256h4v4h-4zM576 256h20v4h-20zM608 256h8v4h-8zM512 260h4v4h-4zM576 260h4v4h-4zM588 260h32v4h-32zM636 260h12v4h-12zM460 264h4v4h-4zM512 264h4v4h-4zM572 264h4v4h-4zM600 264h32v4h-32zM464 268h4v4h-4zM508 268h4v4h-4zM620 268h4v4h-4zM468 272h4v4h-4zM508 272h4v4h-4zM568 272h4v4h-4zM620 272h4v4h-4zM472 276h4v4h-4zM504 276h4v4h-4zM476 280h4v4h-4zM496 280h8v4h-8zM664 280h4v4h-4zM484 284h4v4h-4zM624 284h4v4h-4zM552 288h4v4h-4zM548 292h4v4h-4zM628 292h4v4h-4zM544 296h4v4h-4zM664 296h4v4h-4zM472 300h4v4h-4zM536 300h8v4h-8zM632 300h4v4h-4zM664 300h4v4h-4zM324 304h20v4h-20zM464 304h4v4h-4zM476 304h4v4h-4zM532 304h8v4h-8zM636 304h4v4h-4zM660 304h4v4h-4zM320 308h4v4h-4zM348 308h48v4h-48zM452 308h8v4h-8zM480 308h4v4h-4zM532 308h4v4h-4zM640 308h8v4h-8zM652 308h8v4h-8zM316 312h4v4h-4zM388 312h20v4h-20zM432 312h12v4h-12zM484 312h4v4h-4zM528 312h4v4h-4zM308 316h4v4h-4zM400 316h20v4h-20zM484 316h4v4h-4zM528 316h4v4h-4zM292 320h4v4h-4zM488 320h4v4h-4zM524 320h4v4h-4zM280 324h4v4h-4zM492 324h4v4h-4zM520 324h4v4h-4zM496 328h4v4h-4zM520 328h4v4h-4zM712 328h4v4h-4zM500 332h8v4h-8zM516 332h8v4h-8zM708 332h4v4h-4zM504 336h20v4h-20zM508 340h20v4h-20zM704 340h4v4h-4zM508 344h4v4h-4zM524 344h4v4h-4zM704 344h4v4h-4zM508 348h4v4h-4zM524 348h8v4h-8zM504 352h8v4h-8zM524 352h8v4h-8zM504 356h4v4h-4zM524 356h8v4h-8zM504 360h4v4h-4zM524 360h4v4h-4zM740 360h4v4h-4zM500 364h8v4h-8zM520 364h8v4h-8zM724 364h12v4h-12zM820 364h4v4h-4zM316 368h8v4h-8zM328 368h4v4h-4zM500 368h4v4h-4zM520 368h8v4h-8zM312 372h4v4h-4zM332 372h4v4h-4zM496 372h8v4h-8zM520 372h4v4h-4zM304 376h4v4h-4zM332 376h4v4h-4zM496 376h4v4h-4zM516 376h8v4h-8zM828 376h4v4h-4zM300 380h4v4h-4zM496 380h8v4h-8zM516 380h8v4h-8zM828 380h4v4h-4zM296 384h4v4h-4zM328 384h4v4h-4zM500 384h4v4h-4zM516 384h8v4h-8zM292 388h4v4h-4zM324 388h4v4h-4zM500 388h24v4h-24zM288 392h4v4h-4zM316 392h4v4h-4zM504 392h16v4h-16zM312 396h4v4h-4zM284 400h4v4h-4zM308 400h4v4h-4zM284 404h8v4h-8zM300 404h8v4h-8zM284 408h20v4h-20zM516 408h12v4h-12zM284 412h16v4h-16zM516 412h4v4h-4zM528 412h4v4h-4zM284 416h12v4h-12zM512 416h4v4h-4zM280 420h20v4h-20zM512 420h4v4h-4zM532 420h4v4h-4zM276 424h24v4h-24zM512 424h4v4h-4zM532 424h4v4h-4zM276 428h28v4h-28zM512 428h4v4h-4zM532 428h4v4h-4zM272 432h32v4h-32zM512 432h4v4h-4zM532 432h4v4h-4zM268 436h12v4h-12zM288 436h16v4h-16zM508 436h4v4h-4zM268 440h4v4h-4zM296 440h12v4h-12zM504 440h4v4h-4zM536 440h4v4h-4zM264 444h4v4h-4zM300 444h8v4h-8zM500 444h4v4h-4zM540 444h4v4h-4zM260 448h4v4h-4zM304 448h4v4h-4zM544 448h4v4h-4zM260 452h4v4h-4zM304 452h4v4h-4zM496 452h4v4h-4zM640 452h4v4h-4zM260 456h4v4h-4zM304 456h4v4h-4zM492 456h4v4h-4zM260 460h4v4h-4zM304 460h4v4h-4zM488 460h4v4h-4zM260 464h4v4h-4zM488 464h4v4h-4zM300 468h4v4h-4zM484 468h4v4h-4zM264 476h4v4h-4zM292 476h4v4h-4zM480 476h4v4h-4zM568 476h4v4h-4zM268 480h4v4h-4zM284 480h4v4h-4zM476 480h4v4h-4zM472 488h4v4h-4zM568 492h4v4h-4zM568 496h4v4h-4zM568 500h4v4h-4zM560 508h4v4h-4zM504 516h4v4h-4zM516 520h4v4h-4zM308 536h4v4h-4zM456 536h4v4h-4zM304 540h4v4h-4zM328 540h4v4h-4zM300 544h4v4h-4zM300 548h4v4h-4zM332 548h4v4h-4zM332 552h4v4h-4zM300 560h4v4h-4zM392 564h20v4h-20zM304 568h4v4h-4zM388 568h4v4h-4zM416 568h4v4h-4zM388 572h4v4h-4zM420 572h4v4h-4zM388 576h4v4h-4zM388 580h4v4h-4zM404 580h8v4h-8zM388 584h4v4h-4zM396 584h4v4h-4zM388 588h8v4h-8z"/>
<path fill="#5c5c5c" d="M816 88h4v4h-4zM816 92h4v4h-4zM812 108h4v4h-4zM768 116h4v4h-4zM808 116h4v4h-4zM768 120h12v4h-12zM800 120h4v4h-4zM744 148h8v4h-8zM748 152h8v4h-8zM752 156h8v4h-8zM756 160h4v4h-4zM756 164h4v4h-4zM756 184h4v4h-4zM756 188h4v4h-4zM736 196h4v4h-4zM756 196h4v4h-4zM756 200h4v4h-4zM756 204h4v4h-4zM504 212h4v4h-4zM512 220h4v4h-4zM748 220h4v4h-4zM756 220h4v4h-4zM428 228h4v4h-4zM504 228h4v4h-4zM396 232h4v4h-4zM408 232h12v4h-12zM524 232h8v4h-8zM544 232h8v4h-8zM340 236h12v4h-12zM520 236h4v4h-4zM556 236h4v4h-4zM460 240h4v4h-4zM516 240h4v4h-4zM560 240h8v4h-8zM592 240h12v4h-12zM460 244h4v4h-4zM512 244h4v4h-4zM568 244h4v4h-4zM584 244h28v4h-28zM308 248h4v4h-4zM460 248h4v4h-4zM512 248h4v4h-4zM572 248h16v4h-16zM608 248h8v4h-8zM460 252h4v4h-4zM512 252h4v4h-4zM612 252h8v4h-8zM460 256h4v4h-4zM508 256h4v4h-4zM616 256h8v4h-8zM460 260h4v4h-4zM508 260h4v4h-4zM580 260h8v4h-8zM620 260h16v4h-16zM648 260h4v4h-4zM464 264h4v4h-4zM508 264h4v4h-4zM576 264h4v4h-4zM592 264h8v4h-8zM656 264h4v4h-4zM468 268h4v4h-4zM572 268h4v4h-4zM604 268h16v4h-16zM660 268h4v4h-4zM472 272h4v4h-4zM504 272h4v4h-4zM476 276h4v4h-4zM500 276h4v4h-4zM620 276h4v4h-4zM664 276h4v4h-4zM480 280h16v4h-16zM624 288h4v4h-4zM668 288h4v4h-4zM668 292h4v4h-4zM628 296h4v4h-4zM544 300h4v4h-4zM468 304h8v4h-8zM540 304h4v4h-4zM664 304h4v4h-4zM324 308h24v4h-24zM460 308h4v4h-4zM472 308h8v4h-8zM536 308h8v4h-8zM660 308h4v4h-4zM320 312h4v4h-4zM356 312h32v4h-32zM444 312h8v4h-8zM476 312h8v4h-8zM532 312h12v4h-12zM644 312h16v4h-16zM312 316h4v4h-4zM372 316h28v4h-28zM420 316h12v4h-12zM480 316h4v4h-4zM532 316h4v4h-4zM296 320h4v4h-4zM376 320h44v4h-44zM484 320h4v4h-4zM528 320h4v4h-4zM284 324h4v4h-4zM384 324h28v4h-28zM484 324h8v4h-8zM524 324h4v4h-4zM268 328h12v4h-12zM388 328h20v4h-20zM488 328h8v4h-8zM524 328h4v4h-4zM708 328h4v4h-4zM492 332h8v4h-8zM524 332h4v4h-4zM704 332h4v4h-4zM496 336h8v4h-8zM524 336h4v4h-4zM704 336h4v4h-4zM500 340h8v4h-8zM528 340h4v4h-4zM504 344h4v4h-4zM528 344h4v4h-4zM500 348h8v4h-8zM532 348h4v4h-4zM704 348h4v4h-4zM500 352h4v4h-4zM532 352h4v4h-4zM500 356h4v4h-4zM532 356h4v4h-4zM708 356h4v4h-4zM744 356h4v4h-4zM500 360h4v4h-4zM528 360h8v4h-8zM712 360h4v4h-4zM324 364h4v4h-4zM496 364h4v4h-4zM528 364h4v4h-4zM720 364h4v4h-4zM736 364h4v4h-4zM816 364h4v4h-4zM824 364h4v4h-4zM332 368h4v4h-4zM496 368h4v4h-4zM528 368h4v4h-4zM812 368h4v4h-4zM308 372h4v4h-4zM524 372h8v4h-8zM812 372h4v4h-4zM828 372h4v4h-4zM524 376h4v4h-4zM812 376h4v4h-4zM296 380h4v4h-4zM332 380h4v4h-4zM524 380h4v4h-4zM292 384h4v4h-4zM332 384h4v4h-4zM496 384h4v4h-4zM524 384h4v4h-4zM816 384h4v4h-4zM828 384h4v4h-4zM288 388h4v4h-4zM328 388h4v4h-4zM496 388h4v4h-4zM524 388h4v4h-4zM820 388h8v4h-8zM320 392h4v4h-4zM500 392h4v4h-4zM520 392h8v4h-8zM284 396h4v4h-4zM316 396h4v4h-4zM504 396h20v4h-20zM280 400h4v4h-4zM312 400h4v4h-4zM508 400h16v4h-16zM276 404h8v4h-8zM308 404h4v4h-4zM512 404h16v4h-16zM272 408h12v4h-12zM304 408h4v4h-4zM512 408h4v4h-4zM528 408h4v4h-4zM268 412h16v4h-16zM300 412h4v4h-4zM512 412h4v4h-4zM268 416h16v4h-16zM296 416h8v4h-8zM508 416h4v4h-4zM532 416h4v4h-4zM264 420h16v4h-16zM300 420h4v4h-4zM508 420h4v4h-4zM264 424h12v4h-12zM300 424h8v4h-8zM508 424h4v4h-4zM264 428h12v4h-12zM304 428h4v4h-4zM508 428h4v4h-4zM264 432h8v4h-8zM304 432h4v4h-4zM504 432h8v4h-8zM264 436h4v4h-4zM304 436h8v4h-8zM504 436h4v4h-4zM536 436h4v4h-4zM260 440h8v4h-8zM308 440h4v4h-4zM500 440h4v4h-4zM260 444h4v4h-4zM308 444h4v4h-4zM496 444h4v4h-4zM308 448h4v4h-4zM492 448h8v4h-8zM256 452h4v4h-4zM308 452h4v4h-4zM492 452h4v4h-4zM548 452h4v4h-4zM256 456h4v4h-4zM308 456h4v4h-4zM488 456h4v4h-4zM552 456h4v4h-4zM616 456h4v4h-4zM256 460h4v4h-4zM484 460h4v4h-4zM556 460h4v4h-4zM628 460h4v4h-4zM304 464h4v4h-4zM484 464h4v4h-4zM560 464h4v4h-4zM260 468h4v4h-4zM564 468h4v4h-4zM260 472h4v4h-4zM300 472h4v4h-4zM480 472h4v4h-4zM264 480h4v4h-4zM288 480h4v4h-4zM272 484h8v4h-8zM472 484h4v4h-4zM572 484h4v4h-4zM572 488h4v4h-4zM468 492h4v4h-4zM552 512h4v4h-4zM500 516h4v4h-4zM524 524h8v4h-8zM312 532h8v4h-8zM304 536h4v4h-4zM324 536h4v4h-4zM300 540h4v4h-4zM332 544h4v4h-4zM448 544h4v4h-4zM448 548h4v4h-4zM296 552h4v4h-4zM392 560h20v4h-20zM300 564h4v4h-4zM388 564h4v4h-4zM412 564h8v4h-8zM420 568h4v4h-4zM384 572h4v4h-4zM424 572h4v4h-4zM384 576h4v4h-4zM424 576h4v4h-4zM308 580h4v4h-4zM384 580h4v4h-4zM424 580h4v4h-4zM312 584h4v4h-4zM384 584h4v4h-4zM384 588h4v4h-4z"/>
<path fill="#5e5e5e" d="M816 76h4v4h-4zM816 80h4v4h-4zM816 84h4v4h-4zM816 96h4v4h-4zM816 100h4v4h-4zM816 104h4v4h-4zM816 108h4v4h-4zM812 112h4v4h-4zM764 120h4v4h-4zM804 120h4v4h-4zM768 124h32v4h-32zM748 136h4v4h-4zM744 140h12v4h-12zM744 144h16v4h-16zM752 148h12v4h-12zM756 152h8v4h-8zM760 156h4v4h-4zM760 160h4v4h-4zM760 164h4v4h-4zM760 168h4v4h-4zM756 192h4v4h-4zM508 212h4v4h-4zM760 212h4v4h-4zM512 216h4v4h-4zM512 224h4v4h-4zM756 224h4v4h-4zM372 228h16v4h-16zM508 228h4v4h-4zM528 228h24v4h-24zM336 232h4v4h-4zM360 232h4v4h-4zM400 232h8v4h-8zM444 232h4v4h-4zM516 232h8v4h-8zM552 232h8v4h-8zM512 236h8v4h-8zM560 236h8v4h-8zM588 236h24v4h-24zM464 240h8v4h-8zM512 240h4v4h-4zM568 240h24v4h-24zM604 240h12v4h-12zM464 244h4v4h-4zM508 244h4v4h-4zM572 244h12v4h-12zM612 244h8v4h-8zM464 248h4v4h-4zM508 248h4v4h-4zM616 248h8v4h-8zM464 252h4v4h-4zM508 252h4v4h-4zM620 252h8v4h-8zM464 256h4v4h-4zM504 256h4v4h-4zM624 256h24v4h-24zM464 260h4v4h-4zM504 260h4v4h-4zM652 260h4v4h-4zM468 264h4v4h-4zM504 264h4v4h-4zM580 264h12v4h-12zM472 268h4v4h-4zM500 268h8v4h-8zM576 268h4v4h-4zM596 268h8v4h-8zM476 272h4v4h-4zM496 272h8v4h-8zM572 272h4v4h-4zM612 272h8v4h-8zM664 272h4v4h-4zM480 276h20v4h-20zM568 276h4v4h-4zM564 280h4v4h-4zM620 280h4v4h-4zM668 280h4v4h-4zM560 284h4v4h-4zM668 284h4v4h-4zM556 288h4v4h-4zM552 292h4v4h-4zM548 296h4v4h-4zM668 296h4v4h-4zM668 300h4v4h-4zM544 304h4v4h-4zM632 304h4v4h-4zM668 304h4v4h-4zM464 308h8v4h-8zM544 308h4v4h-4zM636 308h4v4h-4zM664 308h4v4h-4zM324 312h32v4h-32zM452 312h12v4h-12zM468 312h8v4h-8zM544 312h4v4h-4zM640 312h4v4h-4zM660 312h4v4h-4zM316 316h56v4h-56zM432 316h12v4h-12zM472 316h8v4h-8zM536 316h12v4h-12zM648 316h8v4h-8zM300 320h8v4h-8zM368 320h8v4h-8zM420 320h8v4h-8zM476 320h8v4h-8zM532 320h8v4h-8zM288 324h4v4h-4zM372 324h12v4h-12zM412 324h8v4h-8zM480 324h4v4h-4zM528 324h4v4h-4zM708 324h4v4h-4zM380 328h8v4h-8zM408 328h8v4h-8zM484 328h4v4h-4zM528 328h4v4h-4zM704 328h4v4h-4zM716 328h4v4h-4zM388 332h24v4h-24zM488 332h4v4h-4zM528 332h4v4h-4zM396 336h16v4h-16zM492 336h4v4h-4zM528 336h4v4h-4zM700 336h4v4h-4zM492 340h8v4h-8zM532 340h4v4h-4zM496 344h8v4h-8zM532 344h4v4h-4zM496 348h4v4h-4zM496 352h4v4h-4zM704 352h4v4h-4zM496 356h4v4h-4zM496 360h4v4h-4zM820 360h8v4h-8zM320 364h4v4h-4zM328 364h8v4h-8zM492 364h4v4h-4zM532 364h4v4h-4zM716 364h4v4h-4zM740 364h4v4h-4zM812 364h4v4h-4zM312 368h4v4h-4zM336 368h4v4h-4zM492 368h4v4h-4zM532 368h4v4h-4zM828 368h4v4h-4zM336 372h4v4h-4zM492 372h4v4h-4zM300 376h4v4h-4zM336 376h4v4h-4zM492 376h4v4h-4zM528 376h4v4h-4zM336 380h4v4h-4zM492 380h4v4h-4zM528 380h4v4h-4zM812 380h4v4h-4zM492 384h4v4h-4zM528 384h4v4h-4zM492 388h4v4h-4zM528 388h4v4h-4zM828 388h4v4h-4zM284 392h4v4h-4zM324 392h4v4h-4zM496 392h4v4h-4zM280 396h4v4h-4zM320 396h4v4h-4zM496 396h8v4h-8zM524 396h4v4h-4zM276 400h4v4h-4zM316 400h4v4h-4zM500 400h8v4h-8zM524 400h4v4h-4zM268 404h8v4h-8zM312 404h4v4h-4zM504 404h8v4h-8zM528 404h4v4h-4zM264 408h8v4h-8zM308 408h4v4h-4zM504 408h8v4h-8zM260 412h8v4h-8zM304 412h4v4h-4zM504 412h8v4h-8zM532 412h4v4h-4zM256 416h12v4h-12zM304 416h4v4h-4zM504 416h4v4h-4zM252 420h12v4h-12zM304 420h4v4h-4zM504 420h4v4h-4zM252 424h12v4h-12zM308 424h4v4h-4zM504 424h4v4h-4zM536 424h4v4h-4zM252 428h12v4h-12zM308 428h4v4h-4zM500 428h8v4h-8zM536 428h4v4h-4zM252 432h12v4h-12zM308 432h4v4h-4zM500 432h4v4h-4zM536 432h4v4h-4zM256 436h8v4h-8zM312 436h4v4h-4zM496 436h8v4h-8zM256 440h4v4h-4zM312 440h4v4h-4zM492 440h8v4h-8zM540 440h4v4h-4zM256 444h4v4h-4zM312 444h4v4h-4zM492 444h4v4h-4zM656 444h4v4h-4zM252 448h8v4h-8zM312 448h4v4h-4zM488 448h4v4h-4zM252 452h4v4h-4zM312 452h4v4h-4zM484 452h8v4h-8zM636 452h4v4h-4zM252 456h4v4h-4zM484 456h4v4h-4zM628 456h4v4h-4zM656 456h4v4h-4zM252 460h4v4h-4zM308 460h4v4h-4zM256 464h4v4h-4zM308 464h4v4h-4zM480 464h4v4h-4zM632 464h4v4h-4zM256 468h4v4h-4zM304 468h4v4h-4zM480 468h4v4h-4zM256 472h4v4h-4zM476 472h4v4h-4zM260 476h4v4h-4zM296 476h4v4h-4zM476 476h4v4h-4zM260 480h4v4h-4zM472 480h4v4h-4zM264 484h8v4h-8zM280 484h4v4h-4zM468 488h4v4h-4zM468 500h4v4h-4zM488 512h4v4h-4zM496 516h4v4h-4zM544 516h4v4h-4zM536 520h4v4h-4zM520 524h4v4h-4zM308 532h4v4h-4zM320 532h4v4h-4zM300 536h4v4h-4zM328 536h4v4h-4zM452 536h4v4h-4zM448 540h4v4h-4zM296 544h4v4h-4zM296 548h4v4h-4zM448 552h4v4h-4zM296 556h4v4h-4zM336 556h4v4h-4zM392 556h16v4h-16zM444 556h4v4h-4zM452 556h4v4h-4zM296 560h4v4h-4zM336 560h4v4h-4zM388 560h4v4h-4zM412 560h4v4h-4zM384 564h4v4h-4zM384 568h4v4h-4zM424 568h4v4h-4zM304 572h4v4h-4zM380 576h4v4h-4zM380 580h4v4h-4zM332 584h4v4h-4zM380 584h4v4h-4zM412 584h4v4h-4zM380 588h4v4h-4zM380 592h4v4h-4z"/>
<path fill="#606060" d="M820 76h4v4h-4zM820 80h4v4h-4zM820 84h4v4h-4zM820 88h4v4h-4zM820 92h4v4h-4zM820 96h4v4h-4zM820 100h4v4h-4zM816 112h4v4h-4zM812 116h4v4h-4zM808 120h4v4h-4zM760 124h8v4h-8zM800 124h4v4h-4zM756 128h32v4h-32zM752 132h20v4h-20zM752 136h16v4h-16zM756 140h12v4h-12zM760 144h8v4h-8zM740 148h4v4h-4zM764 148h4v4h-4zM764 152h4v4h-4zM764 156h4v4h-4zM764 160h4v4h-4zM760 172h4v4h-4zM760 176h4v4h-4zM760 180h4v4h-4zM508 200h20v4h-20zM560 200h20v4h-20zM508 204h28v4h-28zM556 204h28v4h-28zM760 204h4v4h-4zM508 208h76v4h-76zM760 208h4v4h-4zM512 212h76v4h-76zM516 216h96v4h-96zM760 216h4v4h-4zM516 220h96v4h-96zM760 220h4v4h-4zM432 224h4v4h-4zM516 224h100v4h-100zM368 228h4v4h-4zM388 228h4v4h-4zM412 228h8v4h-8zM424 228h4v4h-4zM512 228h16v4h-16zM552 228h68v4h-68zM340 232h8v4h-8zM356 232h4v4h-4zM484 232h4v4h-4zM508 232h8v4h-8zM560 232h68v4h-68zM480 236h12v4h-12zM568 236h20v4h-20zM612 236h16v4h-16zM324 240h4v4h-4zM472 240h24v4h-24zM508 240h4v4h-4zM616 240h16v4h-16zM468 244h32v4h-32zM504 244h4v4h-4zM620 244h12v4h-12zM468 248h40v4h-40zM624 248h12v4h-12zM468 252h40v4h-40zM628 252h12v4h-12zM468 256h36v4h-36zM648 256h4v4h-4zM468 260h36v4h-36zM656 260h4v4h-4zM472 264h32v4h-32zM660 264h4v4h-4zM476 268h24v4h-24zM580 268h16v4h-16zM664 268h4v4h-4zM480 272h16v4h-16zM600 272h12v4h-12zM616 276h4v4h-4zM668 276h4v4h-4zM620 284h4v4h-4zM624 292h4v4h-4zM672 292h4v4h-4zM672 296h4v4h-4zM548 300h4v4h-4zM628 300h4v4h-4zM672 300h4v4h-4zM548 304h4v4h-4zM672 304h4v4h-4zM548 308h4v4h-4zM668 308h4v4h-4zM464 312h4v4h-4zM548 312h4v4h-4zM664 312h8v4h-8zM708 312h4v4h-4zM444 316h28v4h-28zM548 316h4v4h-4zM644 316h4v4h-4zM656 316h8v4h-8zM700 316h12v4h-12zM308 320h60v4h-60zM428 320h12v4h-12zM468 320h8v4h-8zM540 320h8v4h-8zM700 320h12v4h-12zM292 324h4v4h-4zM328 324h44v4h-44zM420 324h8v4h-8zM472 324h8v4h-8zM532 324h8v4h-8zM696 324h12v4h-12zM712 324h4v4h-4zM264 328h4v4h-4zM280 328h4v4h-4zM336 328h8v4h-8zM372 328h8v4h-8zM416 328h8v4h-8zM472 328h12v4h-12zM532 328h4v4h-4zM696 328h8v4h-8zM380 332h8v4h-8zM412 332h8v4h-8zM472 332h16v4h-16zM532 332h4v4h-4zM700 332h4v4h-4zM388 336h8v4h-8zM412 336h4v4h-4zM476 336h16v4h-16zM532 336h4v4h-4zM400 340h16v4h-16zM480 340h12v4h-12zM700 340h4v4h-4zM480 344h16v4h-16zM536 344h4v4h-4zM700 344h4v4h-4zM488 348h8v4h-8zM536 348h4v4h-4zM488 352h8v4h-8zM536 352h4v4h-4zM488 356h8v4h-8zM536 356h4v4h-4zM704 356h4v4h-4zM328 360h4v4h-4zM492 360h4v4h-4zM536 360h4v4h-4zM708 360h4v4h-4zM816 360h4v4h-4zM316 364h4v4h-4zM336 364h4v4h-4zM488 364h4v4h-4zM536 364h4v4h-4zM828 364h4v4h-4zM488 368h4v4h-4zM728 368h16v4h-16zM304 372h4v4h-4zM488 372h4v4h-4zM532 372h4v4h-4zM488 376h4v4h-4zM532 376h4v4h-4zM292 380h4v4h-4zM488 380h4v4h-4zM532 380h4v4h-4zM288 384h4v4h-4zM336 384h4v4h-4zM488 384h4v4h-4zM532 384h4v4h-4zM284 388h4v4h-4zM332 388h4v4h-4zM488 388h4v4h-4zM280 392h4v4h-4zM328 392h4v4h-4zM492 392h4v4h-4zM528 392h4v4h-4zM276 396h4v4h-4zM324 396h4v4h-4zM492 396h4v4h-4zM528 396h4v4h-4zM248 400h28v4h-28zM320 400h4v4h-4zM492 400h8v4h-8zM528 400h4v4h-4zM244 404h24v4h-24zM316 404h4v4h-4zM496 404h8v4h-8zM244 408h20v4h-20zM312 408h4v4h-4zM496 408h8v4h-8zM532 408h4v4h-4zM244 412h16v4h-16zM308 412h4v4h-4zM496 412h8v4h-8zM244 416h12v4h-12zM308 416h4v4h-4zM496 416h8v4h-8zM240 420h12v4h-12zM308 420h4v4h-4zM496 420h8v4h-8zM536 420h4v4h-4zM240 424h12v4h-12zM312 424h4v4h-4zM496 424h8v4h-8zM240 428h12v4h-12zM312 428h4v4h-4zM492 428h8v4h-8zM240 432h12v4h-12zM312 432h8v4h-8zM492 432h8v4h-8zM240 436h16v4h-16zM316 436h4v4h-4zM488 436h8v4h-8zM240 440h16v4h-16zM316 440h4v4h-4zM484 440h8v4h-8zM240 444h16v4h-16zM316 444h4v4h-4zM484 444h8v4h-8zM544 444h4v4h-4zM648 444h4v4h-4zM240 448h12v4h-12zM316 448h4v4h-4zM480 448h8v4h-8zM644 448h4v4h-4zM240 452h12v4h-12zM316 452h4v4h-4zM480 452h4v4h-4zM632 452h4v4h-4zM236 456h16v4h-16zM312 456h4v4h-4zM480 456h4v4h-4zM556 456h4v4h-4zM240 460h12v4h-12zM312 460h4v4h-4zM480 460h4v4h-4zM560 460h4v4h-4zM240 464h16v4h-16zM476 464h4v4h-4zM564 464h4v4h-4zM652 464h4v4h-4zM240 468h16v4h-16zM308 468h4v4h-4zM476 468h4v4h-4zM240 472h16v4h-16zM304 472h4v4h-4zM568 472h4v4h-4zM240 476h20v4h-20zM300 476h4v4h-4zM472 476h4v4h-4zM244 480h16v4h-16zM292 480h4v4h-4zM572 480h4v4h-4zM244 484h20v4h-20zM284 484h4v4h-4zM468 484h4v4h-4zM256 488h24v4h-24zM260 492h12v4h-12zM832 492h4v4h-4zM568 504h4v4h-4zM564 508h4v4h-4zM556 512h4v4h-4zM492 516h4v4h-4zM512 520h4v4h-4zM532 524h4v4h-4zM524 528h4v4h-4zM300 532h8v4h-8zM324 532h4v4h-4zM456 532h4v4h-4zM292 536h8v4h-8zM284 540h16v4h-16zM332 540h4v4h-4zM280 544h16v4h-16zM336 544h4v4h-4zM280 548h16v4h-16zM336 548h4v4h-4zM288 552h8v4h-8zM336 552h4v4h-4zM388 552h16v4h-16zM288 556h8v4h-8zM384 556h8v4h-8zM408 556h4v4h-4zM448 556h4v4h-4zM292 560h4v4h-4zM384 560h4v4h-4zM416 560h4v4h-4zM296 564h4v4h-4zM336 564h4v4h-4zM380 564h4v4h-4zM420 564h4v4h-4zM428 564h4v4h-4zM300 568h4v4h-4zM336 568h4v4h-4zM380 568h4v4h-4zM428 568h4v4h-4zM336 572h4v4h-4zM380 572h4v4h-4zM304 576h4v4h-4zM376 580h4v4h-4zM376 584h4v4h-4zM376 588h4v4h-4zM328 592h4v4h-4zM376 592h4v4h-4z"/>
<path fill="#626262" d="M820 104h4v4h-4zM820 108h4v4h-4zM804 124h4v4h-4zM788 128h8v4h-8zM772 132h12v4h-12zM768 136h8v4h-8zM768 140h4v4h-4zM768 144h4v4h-4zM768 148h4v4h-4zM768 152h4v4h-4zM768 156h4v4h-4zM764 164h4v4h-4zM764 168h4v4h-4zM760 184h4v4h-4zM760 188h4v4h-4zM580 196h8v4h-8zM760 196h4v4h-4zM504 200h4v4h-4zM528 200h4v4h-4zM556 200h4v4h-4zM580 200h8v4h-8zM760 200h4v4h-4zM504 204h4v4h-4zM536 204h20v4h-20zM584 204h4v4h-4zM504 208h4v4h-4zM584 208h8v4h-8zM608 208h4v4h-4zM588 212h28v4h-28zM612 216h4v4h-4zM612 220h4v4h-4zM616 224h4v4h-4zM760 224h4v4h-4zM340 228h4v4h-4zM364 228h4v4h-4zM392 228h8v4h-8zM404 228h8v4h-8zM420 228h4v4h-4zM620 228h8v4h-8zM756 228h4v4h-4zM348 232h8v4h-8zM628 232h8v4h-8zM448 236h4v4h-4zM492 236h4v4h-4zM628 236h8v4h-8zM632 240h8v4h-8zM632 244h8v4h-8zM636 248h4v4h-4zM640 252h4v4h-4zM664 264h4v4h-4zM576 272h4v4h-4zM592 272h8v4h-8zM668 272h4v4h-4zM572 276h4v4h-4zM612 276h4v4h-4zM568 280h4v4h-4zM616 280h4v4h-4zM672 280h4v4h-4zM564 284h4v4h-4zM672 284h4v4h-4zM672 288h4v4h-4zM556 292h4v4h-4zM552 296h4v4h-4zM676 300h4v4h-4zM260 304h4v4h-4zM552 304h4v4h-4zM676 304h4v4h-4zM692 304h4v4h-4zM552 308h4v4h-4zM632 308h4v4h-4zM672 308h36v4h-36zM552 312h4v4h-4zM636 312h4v4h-4zM672 312h36v4h-36zM552 316h4v4h-4zM640 316h4v4h-4zM664 316h36v4h-36zM440 320h28v4h-28zM548 320h4v4h-4zM648 320h20v4h-20zM680 320h20v4h-20zM320 324h8v4h-8zM428 324h12v4h-12zM456 324h16v4h-16zM540 324h4v4h-4zM684 324h12v4h-12zM284 328h4v4h-4zM328 328h8v4h-8zM344 328h28v4h-28zM424 328h4v4h-4zM460 328h12v4h-12zM536 328h4v4h-4zM688 328h8v4h-8zM272 332h8v4h-8zM332 332h28v4h-28zM368 332h12v4h-12zM420 332h4v4h-4zM460 332h12v4h-12zM692 332h8v4h-8zM336 336h16v4h-16zM384 336h4v4h-4zM416 336h8v4h-8zM464 336h12v4h-12zM536 336h4v4h-4zM696 336h4v4h-4zM392 340h8v4h-8zM416 340h4v4h-4zM464 340h16v4h-16zM536 340h4v4h-4zM696 340h4v4h-4zM404 344h16v4h-16zM464 344h16v4h-16zM468 348h20v4h-20zM700 348h4v4h-4zM472 352h16v4h-16zM540 352h4v4h-4zM700 352h4v4h-4zM480 356h8v4h-8zM540 356h4v4h-4zM820 356h8v4h-8zM324 360h4v4h-4zM332 360h8v4h-8zM484 360h8v4h-8zM540 360h4v4h-4zM812 360h4v4h-4zM828 360h4v4h-4zM340 364h4v4h-4zM712 364h4v4h-4zM808 364h4v4h-4zM308 368h4v4h-4zM340 368h4v4h-4zM536 368h4v4h-4zM724 368h4v4h-4zM808 368h4v4h-4zM340 372h4v4h-4zM536 372h4v4h-4zM808 372h4v4h-4zM296 376h4v4h-4zM340 376h4v4h-4zM536 376h4v4h-4zM340 380h4v4h-4zM340 384h4v4h-4zM812 384h4v4h-4zM832 384h4v4h-4zM336 388h4v4h-4zM532 388h4v4h-4zM816 388h4v4h-4zM832 388h4v4h-4zM256 392h4v4h-4zM332 392h8v4h-8zM488 392h4v4h-4zM532 392h4v4h-4zM824 392h8v4h-8zM248 396h28v4h-28zM328 396h8v4h-8zM488 396h4v4h-4zM532 396h4v4h-4zM244 400h4v4h-4zM324 400h4v4h-4zM488 400h4v4h-4zM532 400h4v4h-4zM320 404h4v4h-4zM488 404h8v4h-8zM532 404h4v4h-4zM316 408h4v4h-4zM488 408h8v4h-8zM312 412h8v4h-8zM488 412h8v4h-8zM312 416h4v4h-4zM484 416h12v4h-12zM536 416h4v4h-4zM312 420h8v4h-8zM484 420h12v4h-12zM316 424h4v4h-4zM484 424h12v4h-12zM316 428h8v4h-8zM484 428h8v4h-8zM320 432h4v4h-4zM480 432h12v4h-12zM320 436h8v4h-8zM476 436h12v4h-12zM540 436h4v4h-4zM320 440h8v4h-8zM476 440h8v4h-8zM320 444h8v4h-8zM476 444h8v4h-8zM320 448h8v4h-8zM476 448h4v4h-4zM548 448h4v4h-4zM236 452h4v4h-4zM320 452h8v4h-8zM476 452h4v4h-4zM552 452h4v4h-4zM316 456h8v4h-8zM476 456h4v4h-4zM316 460h8v4h-8zM472 460h8v4h-8zM620 460h4v4h-4zM312 464h8v4h-8zM472 464h4v4h-4zM312 468h4v4h-4zM472 468h4v4h-4zM568 468h4v4h-4zM308 472h4v4h-4zM472 472h4v4h-4zM304 476h4v4h-4zM468 476h4v4h-4zM572 476h4v4h-4zM296 480h4v4h-4zM468 480h4v4h-4zM288 484h8v4h-8zM244 488h12v4h-12zM280 488h8v4h-8zM464 488h4v4h-4zM256 492h4v4h-4zM272 492h8v4h-8zM464 492h4v4h-4zM572 492h4v4h-4zM260 496h20v4h-20zM464 496h4v4h-4zM260 500h20v4h-20zM260 504h20v4h-20zM260 508h20v4h-20zM272 512h12v4h-12zM276 516h8v4h-8zM280 520h8v4h-8zM540 520h4v4h-4zM280 524h16v4h-16zM516 524h4v4h-4zM280 528h48v4h-48zM520 528h4v4h-4zM528 528h4v4h-4zM280 532h20v4h-20zM328 532h4v4h-4zM276 536h16v4h-16zM332 536h4v4h-4zM276 540h8v4h-8zM336 540h4v4h-4zM276 544h4v4h-4zM276 548h4v4h-4zM388 548h16v4h-16zM284 552h4v4h-4zM340 552h4v4h-4zM384 552h4v4h-4zM404 552h8v4h-8zM444 552h4v4h-4zM340 556h4v4h-4zM380 556h4v4h-4zM412 556h4v4h-4zM432 556h4v4h-4zM288 560h4v4h-4zM340 560h4v4h-4zM380 560h4v4h-4zM420 560h4v4h-4zM428 560h4v4h-4zM448 560h4v4h-4zM292 564h4v4h-4zM424 564h4v4h-4zM296 568h4v4h-4zM376 568h4v4h-4zM300 572h4v4h-4zM376 572h4v4h-4zM336 576h4v4h-4zM376 576h4v4h-4zM304 580h4v4h-4zM372 580h4v4h-4zM372 584h4v4h-4zM372 588h4v4h-4zM372 592h4v4h-4zM384 592h4v4h-4z"/>
<path fill="#646464" d="M824 76h4v4h-4zM824 80h4v4h-4zM824 84h4v4h-4zM824 88h4v4h-4zM824 92h4v4h-4zM824 96h4v4h-4zM824 100h4v4h-4zM820 112h4v4h-4zM816 116h4v4h-4zM812 120h4v4h-4zM796 128h4v4h-4zM784 132h4v4h-4zM776 136h4v4h-4zM772 140h8v4h-8zM772 144h4v4h-4zM772 148h4v4h-4zM772 152h4v4h-4zM768 160h4v4h-4zM768 164h4v4h-4zM764 172h4v4h-4zM736 180h4v4h-4zM760 192h4v4h-4zM576 196h4v4h-4zM500 200h4v4h-4zM552 200h4v4h-4zM764 208h4v4h-4zM764 212h4v4h-4zM764 216h4v4h-4zM616 220h4v4h-4zM380 224h4v4h-4zM752 224h4v4h-4zM344 228h8v4h-8zM360 228h4v4h-4zM400 228h4v4h-4zM628 228h12v4h-12zM760 228h4v4h-4zM636 232h4v4h-4zM756 232h4v4h-4zM636 236h4v4h-4zM756 236h4v4h-4zM640 240h4v4h-4zM756 240h4v4h-4zM640 244h4v4h-4zM640 248h4v4h-4zM644 252h4v4h-4zM652 256h4v4h-4zM660 260h8v4h-8zM668 264h4v4h-4zM668 268h4v4h-4zM580 272h12v4h-12zM672 272h4v4h-4zM600 276h12v4h-12zM672 276h4v4h-4zM676 280h4v4h-4zM676 284h4v4h-4zM560 288h4v4h-4zM620 288h4v4h-4zM676 288h4v4h-4zM676 292h4v4h-4zM624 296h4v4h-4zM676 296h12v4h-12zM552 300h4v4h-4zM680 300h16v4h-16zM628 304h4v4h-4zM680 304h12v4h-12zM696 304h4v4h-4zM552 320h4v4h-4zM644 320h4v4h-4zM668 320h12v4h-12zM712 320h4v4h-4zM296 324h8v4h-8zM312 324h8v4h-8zM440 324h16v4h-16zM544 324h4v4h-4zM656 324h28v4h-28zM320 328h8v4h-8zM428 328h32v4h-32zM540 328h4v4h-4zM676 328h12v4h-12zM280 332h4v4h-4zM328 332h4v4h-4zM360 332h8v4h-8zM424 332h36v4h-36zM536 332h4v4h-4zM684 332h8v4h-8zM328 336h8v4h-8zM352 336h16v4h-16zM376 336h8v4h-8zM424 336h12v4h-12zM448 336h16v4h-16zM692 336h4v4h-4zM332 340h28v4h-28zM388 340h4v4h-4zM420 340h12v4h-12zM452 340h12v4h-12zM692 340h4v4h-4zM336 344h20v4h-20zM396 344h8v4h-8zM420 344h8v4h-8zM452 344h12v4h-12zM540 344h4v4h-4zM696 344h4v4h-4zM336 348h16v4h-16zM408 348h20v4h-20zM456 348h12v4h-12zM540 348h4v4h-4zM336 352h12v4h-12zM460 352h12v4h-12zM328 356h16v4h-16zM468 356h12v4h-12zM700 356h4v4h-4zM816 356h4v4h-4zM828 356h4v4h-4zM320 360h4v4h-4zM340 360h4v4h-4zM476 360h8v4h-8zM704 360h4v4h-4zM744 360h4v4h-4zM808 360h4v4h-4zM312 364h4v4h-4zM480 364h8v4h-8zM540 364h4v4h-4zM708 364h4v4h-4zM484 368h4v4h-4zM540 368h4v4h-4zM716 368h8v4h-8zM300 372h4v4h-4zM484 372h4v4h-4zM484 376h4v4h-4zM808 376h4v4h-4zM288 380h4v4h-4zM484 380h4v4h-4zM536 380h4v4h-4zM832 380h4v4h-4zM284 384h4v4h-4zM484 384h4v4h-4zM536 384h4v4h-4zM280 388h4v4h-4zM340 388h4v4h-4zM484 388h4v4h-4zM536 388h4v4h-4zM252 392h4v4h-4zM260 392h4v4h-4zM276 392h4v4h-4zM340 392h4v4h-4zM480 392h8v4h-8zM820 392h4v4h-4zM832 392h4v4h-4zM244 396h4v4h-4zM336 396h8v4h-8zM480 396h8v4h-8zM328 400h12v4h-12zM480 400h8v4h-8zM324 404h12v4h-12zM476 404h12v4h-12zM320 408h12v4h-12zM476 408h12v4h-12zM320 412h28v4h-28zM476 412h12v4h-12zM536 412h4v4h-4zM316 416h40v4h-40zM476 416h8v4h-8zM320 420h40v4h-40zM472 420h12v4h-12zM320 424h40v4h-40zM472 424h12v4h-12zM324 428h40v4h-40zM472 428h12v4h-12zM324 432h40v4h-40zM468 432h12v4h-12zM540 432h4v4h-4zM328 436h36v4h-36zM468 436h8v4h-8zM328 440h36v4h-36zM468 440h8v4h-8zM544 440h4v4h-4zM328 444h32v4h-32zM468 444h8v4h-8zM328 448h28v4h-28zM468 448h8v4h-8zM328 452h28v4h-28zM468 452h8v4h-8zM628 452h4v4h-4zM324 456h28v4h-28zM468 456h8v4h-8zM604 456h4v4h-4zM620 456h8v4h-8zM236 460h4v4h-4zM324 460h28v4h-28zM468 460h4v4h-4zM564 460h4v4h-4zM624 460h4v4h-4zM320 464h32v4h-32zM468 464h4v4h-4zM620 464h4v4h-4zM316 468h36v4h-36zM468 468h4v4h-4zM616 468h4v4h-4zM312 472h40v4h-40zM468 472h4v4h-4zM308 476h44v4h-44zM464 476h4v4h-4zM300 480h56v4h-56zM464 480h4v4h-4zM296 484h8v4h-8zM312 484h44v4h-44zM464 484h4v4h-4zM288 488h8v4h-8zM312 488h48v4h-48zM252 492h4v4h-4zM280 492h12v4h-12zM316 492h44v4h-44zM824 492h4v4h-4zM256 496h4v4h-4zM280 496h8v4h-8zM316 496h44v4h-44zM280 500h8v4h-8zM320 500h40v4h-40zM464 500h4v4h-4zM476 500h4v4h-4zM572 500h4v4h-4zM280 504h12v4h-12zM320 504h36v4h-36zM468 504h8v4h-8zM256 508h4v4h-4zM280 508h12v4h-12zM324 508h28v4h-28zM268 512h4v4h-4zM284 512h8v4h-8zM560 512h4v4h-4zM272 516h4v4h-4zM284 516h16v4h-16zM488 516h4v4h-4zM548 516h4v4h-4zM276 520h4v4h-4zM288 520h24v4h-24zM276 524h4v4h-4zM296 524h32v4h-32zM536 524h4v4h-4zM328 528h8v4h-8zM532 528h4v4h-4zM276 532h4v4h-4zM332 532h8v4h-8zM452 532h4v4h-4zM524 532h4v4h-4zM336 536h4v4h-4zM448 536h4v4h-4zM272 540h4v4h-4zM340 540h4v4h-4zM340 544h4v4h-4zM384 544h20v4h-20zM444 544h4v4h-4zM340 548h8v4h-8zM380 548h8v4h-8zM404 548h8v4h-8zM444 548h4v4h-4zM344 552h4v4h-4zM376 552h8v4h-8zM412 552h4v4h-4zM344 556h4v4h-4zM372 556h8v4h-8zM416 556h4v4h-4zM344 560h4v4h-4zM372 560h8v4h-8zM424 560h4v4h-4zM340 564h8v4h-8zM372 564h8v4h-8zM340 568h4v4h-4zM372 568h4v4h-4zM296 572h4v4h-4zM340 572h4v4h-4zM372 572h4v4h-4zM296 576h8v4h-8zM368 576h8v4h-8zM336 580h4v4h-4zM368 580h4v4h-4zM368 584h4v4h-4zM332 588h4v4h-4zM368 588h4v4h-4zM368 592h4v4h-4z"/>
<path fill="#666666" d="M824 104h4v4h-4zM824 108h4v4h-4zM808 124h4v4h-4zM800 128h4v4h-4zM788 132h4v4h-4zM780 136h8v4h-8zM780 140h4v4h-4zM776 144h4v4h-4zM776 148h4v4h-4zM776 152h4v4h-4zM772 156h4v4h-4zM772 160h4v4h-4zM768 168h4v4h-4zM764 176h4v4h-4zM764 180h4v4h-4zM468 200h4v4h-4zM484 200h4v4h-4zM548 200h4v4h-4zM764 200h4v4h-4zM588 204h4v4h-4zM764 204h4v4h-4zM592 208h4v4h-4zM604 208h4v4h-4zM744 220h4v4h-4zM764 220h4v4h-4zM344 224h4v4h-4zM364 224h16v4h-16zM384 224h12v4h-12zM408 224h4v4h-4zM620 224h4v4h-4zM640 224h4v4h-4zM352 228h8v4h-8zM640 228h4v4h-4zM488 232h4v4h-4zM640 232h4v4h-4zM760 232h4v4h-4zM640 236h4v4h-4zM760 236h4v4h-4zM644 244h4v4h-4zM644 248h4v4h-4zM648 252h4v4h-4zM676 252h16v4h-16zM656 256h32v4h-32zM284 260h4v4h-4zM668 260h20v4h-20zM672 264h12v4h-12zM672 268h12v4h-12zM676 272h8v4h-8zM576 276h4v4h-4zM592 276h8v4h-8zM676 276h8v4h-8zM572 280h4v4h-4zM612 280h4v4h-4zM680 280h4v4h-4zM616 284h4v4h-4zM680 284h8v4h-8zM680 288h8v4h-8zM680 292h12v4h-12zM556 296h4v4h-4zM688 296h8v4h-8zM260 300h4v4h-4zM556 308h4v4h-4zM556 312h4v4h-4zM632 312h4v4h-4zM556 316h4v4h-4zM636 316h4v4h-4zM640 320h4v4h-4zM304 324h8v4h-8zM548 324h4v4h-4zM648 324h8v4h-8zM288 328h4v4h-4zM544 328h4v4h-4zM660 328h16v4h-16zM720 328h4v4h-4zM324 332h4v4h-4zM540 332h4v4h-4zM668 332h16v4h-16zM276 336h4v4h-4zM368 336h8v4h-8zM436 336h12v4h-12zM540 336h4v4h-4zM680 336h12v4h-12zM328 340h4v4h-4zM360 340h8v4h-8zM384 340h4v4h-4zM432 340h20v4h-20zM540 340h4v4h-4zM688 340h4v4h-4zM332 344h4v4h-4zM356 344h4v4h-4zM428 344h24v4h-24zM692 344h4v4h-4zM332 348h4v4h-4zM352 348h4v4h-4zM404 348h4v4h-4zM428 348h28v4h-28zM696 348h4v4h-4zM328 352h8v4h-8zM348 352h8v4h-8zM412 352h48v4h-48zM696 352h4v4h-4zM820 352h8v4h-8zM324 356h4v4h-4zM344 356h8v4h-8zM420 356h48v4h-48zM812 356h4v4h-4zM316 360h4v4h-4zM344 360h4v4h-4zM460 360h16v4h-16zM700 360h4v4h-4zM344 364h4v4h-4zM468 364h12v4h-12zM704 364h4v4h-4zM804 364h4v4h-4zM304 368h4v4h-4zM344 368h4v4h-4zM476 368h8v4h-8zM712 368h4v4h-4zM744 368h4v4h-4zM344 372h4v4h-4zM480 372h4v4h-4zM540 372h4v4h-4zM736 372h8v4h-8zM292 376h4v4h-4zM344 376h4v4h-4zM480 376h4v4h-4zM540 376h4v4h-4zM832 376h4v4h-4zM344 380h4v4h-4zM480 380h4v4h-4zM808 380h4v4h-4zM344 384h4v4h-4zM476 384h8v4h-8zM256 388h4v4h-4zM344 388h4v4h-4zM476 388h8v4h-8zM264 392h12v4h-12zM344 392h4v4h-4zM472 392h8v4h-8zM536 392h4v4h-4zM344 396h4v4h-4zM472 396h8v4h-8zM536 396h4v4h-4zM824 396h12v4h-12zM340 400h12v4h-12zM464 400h16v4h-16zM536 400h4v4h-4zM336 404h16v4h-16zM460 404h16v4h-16zM536 404h4v4h-4zM332 408h24v4h-24zM452 408h24v4h-24zM536 408h4v4h-4zM348 412h12v4h-12zM448 412h28v4h-28zM356 416h4v4h-4zM448 416h28v4h-28zM360 420h4v4h-4zM444 420h28v4h-28zM360 424h4v4h-4zM444 424h28v4h-28zM540 424h4v4h-4zM364 428h4v4h-4zM448 428h24v4h-24zM540 428h4v4h-4zM364 432h4v4h-4zM448 432h20v4h-20zM364 436h4v4h-4zM452 436h16v4h-16zM364 440h4v4h-4zM452 440h16v4h-16zM360 444h8v4h-8zM456 444h12v4h-12zM548 444h4v4h-4zM356 448h8v4h-8zM456 448h12v4h-12zM632 448h12v4h-12zM660 448h4v4h-4zM356 452h4v4h-4zM460 452h8v4h-8zM612 452h8v4h-8zM624 452h4v4h-4zM352 456h8v4h-8zM460 456h8v4h-8zM560 456h4v4h-4zM352 460h4v4h-4zM460 460h8v4h-8zM352 464h4v4h-4zM460 464h8v4h-8zM568 464h4v4h-4zM628 464h4v4h-4zM352 468h4v4h-4zM460 468h8v4h-8zM352 472h4v4h-4zM460 472h8v4h-8zM572 472h4v4h-4zM352 476h8v4h-8zM460 476h4v4h-4zM356 480h4v4h-4zM460 480h4v4h-4zM304 484h8v4h-8zM356 484h8v4h-8zM460 484h4v4h-4zM296 488h16v4h-16zM360 488h4v4h-4zM460 488h4v4h-4zM292 492h24v4h-24zM360 492h8v4h-8zM460 492h4v4h-4zM288 496h28v4h-28zM360 496h8v4h-8zM572 496h4v4h-4zM288 500h32v4h-32zM360 500h8v4h-8zM256 504h4v4h-4zM292 504h28v4h-28zM356 504h8v4h-8zM572 504h4v4h-4zM292 508h32v4h-32zM352 508h12v4h-12zM568 508h4v4h-4zM256 512h4v4h-4zM264 512h4v4h-4zM292 512h72v4h-72zM300 516h64v4h-64zM552 516h4v4h-4zM312 520h52v4h-52zM508 520h4v4h-4zM328 524h36v4h-36zM276 528h4v4h-4zM336 528h28v4h-28zM516 528h4v4h-4zM340 532h24v4h-24zM520 532h4v4h-4zM528 532h4v4h-4zM340 536h28v4h-28zM344 540h28v4h-28zM384 540h24v4h-24zM444 540h4v4h-4zM272 544h4v4h-4zM344 544h40v4h-40zM404 544h8v4h-8zM348 548h32v4h-32zM412 548h4v4h-4zM280 552h4v4h-4zM348 552h28v4h-28zM416 552h4v4h-4zM440 552h4v4h-4zM348 556h24v4h-24zM420 556h4v4h-4zM348 560h24v4h-24zM348 564h24v4h-24zM344 568h28v4h-28zM344 572h28v4h-28zM428 572h4v4h-4zM340 576h4v4h-4zM360 576h8v4h-8zM300 580h4v4h-4zM360 580h8v4h-8zM364 584h4v4h-4zM364 588h4v4h-4zM364 592h4v4h-4zM856 600h8v4h-8zM856 604h8v4h-8zM692 736h4v4h-4z"/>
<path fill="#686868" d="M828 80h4v4h-4zM828 84h4v4h-4zM828 88h4v4h-4zM828 92h4v4h-4zM828 96h4v4h-4zM828 100h4v4h-4zM780 104h4v4h-4zM772 112h4v4h-4zM820 116h4v4h-4zM816 120h4v4h-4zM804 128h4v4h-4zM792 132h4v4h-4zM788 136h4v4h-4zM784 140h4v4h-4zM780 144h4v4h-4zM780 148h4v4h-4zM776 156h4v4h-4zM772 164h4v4h-4zM768 172h4v4h-4zM764 184h4v4h-4zM764 188h4v4h-4zM764 192h4v4h-4zM512 196h4v4h-4zM764 196h4v4h-4zM532 200h4v4h-4zM540 200h8v4h-8zM500 204h4v4h-4zM612 208h4v4h-4zM616 216h4v4h-4zM644 216h4v4h-4zM368 220h24v4h-24zM640 220h8v4h-8zM348 224h16v4h-16zM396 224h4v4h-4zM404 224h4v4h-4zM412 224h4v4h-4zM636 224h4v4h-4zM644 224h4v4h-4zM764 224h4v4h-4zM480 228h4v4h-4zM644 228h4v4h-4zM764 228h4v4h-4zM644 232h4v4h-4zM644 236h4v4h-4zM644 240h4v4h-4zM760 240h4v4h-4zM316 244h4v4h-4zM680 244h12v4h-12zM760 244h4v4h-4zM648 248h4v4h-4zM672 248h24v4h-24zM652 252h4v4h-4zM664 252h12v4h-12zM692 252h4v4h-4zM688 256h4v4h-4zM684 264h4v4h-4zM684 268h4v4h-4zM684 272h4v4h-4zM580 276h12v4h-12zM684 276h4v4h-4zM600 280h12v4h-12zM684 280h4v4h-4zM568 284h4v4h-4zM564 288h4v4h-4zM688 288h4v4h-4zM560 292h4v4h-4zM620 292h4v4h-4zM692 292h4v4h-4zM556 300h4v4h-4zM624 300h4v4h-4zM696 300h4v4h-4zM556 304h4v4h-4zM700 304h4v4h-4zM628 308h4v4h-4zM556 320h4v4h-4zM552 324h4v4h-4zM644 324h4v4h-4zM292 328h4v4h-4zM316 328h4v4h-4zM548 328h4v4h-4zM652 328h8v4h-8zM284 332h4v4h-4zM320 332h4v4h-4zM544 332h4v4h-4zM660 332h8v4h-8zM324 336h4v4h-4zM668 336h12v4h-12zM368 340h16v4h-16zM676 340h12v4h-12zM328 344h4v4h-4zM360 344h4v4h-4zM392 344h4v4h-4zM688 344h4v4h-4zM328 348h4v4h-4zM356 348h4v4h-4zM400 348h4v4h-4zM544 348h4v4h-4zM692 348h4v4h-4zM324 352h4v4h-4zM356 352h4v4h-4zM408 352h4v4h-4zM544 352h4v4h-4zM692 352h4v4h-4zM816 352h4v4h-4zM828 352h4v4h-4zM320 356h4v4h-4zM352 356h4v4h-4zM416 356h4v4h-4zM544 356h4v4h-4zM696 356h4v4h-4zM808 356h4v4h-4zM348 360h4v4h-4zM420 360h40v4h-40zM544 360h4v4h-4zM696 360h4v4h-4zM804 360h4v4h-4zM308 364h4v4h-4zM348 364h4v4h-4zM424 364h44v4h-44zM544 364h4v4h-4zM700 364h4v4h-4zM744 364h4v4h-4zM348 368h4v4h-4zM428 368h48v4h-48zM704 368h8v4h-8zM804 368h4v4h-4zM296 372h4v4h-4zM432 372h48v4h-48zM728 372h8v4h-8zM744 372h4v4h-4zM804 372h4v4h-4zM432 376h48v4h-48zM284 380h4v4h-4zM436 380h44v4h-44zM540 380h4v4h-4zM280 384h4v4h-4zM348 384h4v4h-4zM436 384h40v4h-40zM540 384h4v4h-4zM260 388h4v4h-4zM276 388h4v4h-4zM348 388h4v4h-4zM440 388h36v4h-36zM812 388h4v4h-4zM348 392h4v4h-4zM440 392h32v4h-32zM816 392h4v4h-4zM836 392h4v4h-4zM348 396h4v4h-4zM440 396h32v4h-32zM820 396h4v4h-4zM352 400h4v4h-4zM440 400h24v4h-24zM352 404h4v4h-4zM440 404h20v4h-20zM356 408h4v4h-4zM440 408h12v4h-12zM440 412h8v4h-8zM360 416h4v4h-4zM440 416h8v4h-8zM540 416h4v4h-4zM440 420h4v4h-4zM540 420h4v4h-4zM364 424h4v4h-4zM440 424h4v4h-4zM440 428h8v4h-8zM368 432h4v4h-4zM440 432h8v4h-8zM368 436h4v4h-4zM444 436h8v4h-8zM544 436h4v4h-4zM368 440h4v4h-4zM444 440h8v4h-8zM368 444h4v4h-4zM448 444h8v4h-8zM644 444h4v4h-4zM364 448h4v4h-4zM448 448h8v4h-8zM552 448h4v4h-4zM624 448h8v4h-8zM360 452h8v4h-8zM452 452h8v4h-8zM556 452h4v4h-4zM620 452h4v4h-4zM360 456h4v4h-4zM452 456h8v4h-8zM356 460h8v4h-8zM456 460h4v4h-4zM568 460h4v4h-4zM356 464h4v4h-4zM456 464h4v4h-4zM624 464h4v4h-4zM356 468h4v4h-4zM456 468h4v4h-4zM572 468h4v4h-4zM356 472h8v4h-8zM456 472h4v4h-4zM360 476h4v4h-4zM456 476h4v4h-4zM360 480h8v4h-8zM576 480h4v4h-4zM828 480h4v4h-4zM364 484h4v4h-4zM576 484h4v4h-4zM364 488h8v4h-8zM368 492h4v4h-4zM368 496h4v4h-4zM460 496h4v4h-4zM256 500h4v4h-4zM368 500h4v4h-4zM460 500h4v4h-4zM364 504h8v4h-8zM464 504h4v4h-4zM364 508h8v4h-8zM260 512h4v4h-4zM364 512h4v4h-4zM564 512h4v4h-4zM364 516h4v4h-4zM484 516h4v4h-4zM364 520h4v4h-4zM504 520h4v4h-4zM544 520h4v4h-4zM364 524h8v4h-8zM512 524h4v4h-4zM364 528h8v4h-8zM456 528h4v4h-4zM364 532h8v4h-8zM368 536h40v4h-40zM460 536h4v4h-4zM372 540h12v4h-12zM408 540h4v4h-4zM460 540h4v4h-4zM412 544h4v4h-4zM416 548h4v4h-4zM276 552h4v4h-4zM420 552h4v4h-4zM456 552h4v4h-4zM424 556h8v4h-8zM292 576h4v4h-4zM344 576h16v4h-16zM340 580h8v4h-8zM352 580h8v4h-8zM336 584h4v4h-4zM356 584h8v4h-8zM360 588h4v4h-4zM332 592h4v4h-4zM360 592h4v4h-4z"/>
<path fill="#6a6a6a" d="M828 76h4v4h-4zM780 88h4v4h-4zM780 92h4v4h-4zM780 96h4v4h-4zM828 104h4v4h-4zM824 112h4v4h-4zM812 124h4v4h-4zM796 132h4v4h-4zM784 144h4v4h-4zM780 152h4v4h-4zM776 160h4v4h-4zM736 176h4v4h-4zM768 176h4v4h-4zM476 204h4v4h-4zM768 204h4v4h-4zM768 208h4v4h-4zM768 212h4v4h-4zM372 216h20v4h-20zM768 216h4v4h-4zM356 220h12v4h-12zM392 220h4v4h-4zM400 224h4v4h-4zM440 228h4v4h-4zM480 232h4v4h-4zM648 232h4v4h-4zM764 232h4v4h-4zM648 236h4v4h-4zM496 240h4v4h-4zM648 240h4v4h-4zM680 240h8v4h-8zM500 244h4v4h-4zM648 244h4v4h-4zM676 244h4v4h-4zM692 244h4v4h-4zM652 248h4v4h-4zM668 248h4v4h-4zM696 248h4v4h-4zM656 252h8v4h-8zM696 252h4v4h-4zM692 256h4v4h-4zM688 260h4v4h-4zM576 280h24v4h-24zM560 308h4v4h-4zM560 312h4v4h-4zM632 316h4v4h-4zM636 320h4v4h-4zM640 324h4v4h-4zM312 328h4v4h-4zM648 328h4v4h-4zM724 328h4v4h-4zM268 332h4v4h-4zM316 332h4v4h-4zM656 332h4v4h-4zM272 336h4v4h-4zM280 336h4v4h-4zM320 336h4v4h-4zM544 336h4v4h-4zM660 336h8v4h-8zM324 340h4v4h-4zM544 340h4v4h-4zM668 340h8v4h-8zM324 344h4v4h-4zM364 344h8v4h-8zM388 344h4v4h-4zM544 344h4v4h-4zM676 344h12v4h-12zM324 348h4v4h-4zM360 348h4v4h-4zM396 348h4v4h-4zM680 348h12v4h-12zM404 352h4v4h-4zM688 352h4v4h-4zM356 356h4v4h-4zM412 356h4v4h-4zM688 356h8v4h-8zM832 356h4v4h-4zM312 360h4v4h-4zM352 360h4v4h-4zM416 360h4v4h-4zM688 360h8v4h-8zM832 360h4v4h-4zM352 364h4v4h-4zM420 364h4v4h-4zM692 364h8v4h-8zM800 364h4v4h-4zM832 364h4v4h-4zM300 368h4v4h-4zM424 368h4v4h-4zM544 368h4v4h-4zM692 368h12v4h-12zM832 368h4v4h-4zM348 372h4v4h-4zM424 372h8v4h-8zM544 372h4v4h-4zM724 372h4v4h-4zM832 372h4v4h-4zM288 376h4v4h-4zM348 376h4v4h-4zM428 376h4v4h-4zM348 380h4v4h-4zM428 380h8v4h-8zM256 384h4v4h-4zM428 384h8v4h-8zM252 388h4v4h-4zM264 388h12v4h-12zM432 388h8v4h-8zM540 388h4v4h-4zM352 392h4v4h-4zM432 392h8v4h-8zM540 392h4v4h-4zM352 396h4v4h-4zM436 396h4v4h-4zM836 396h4v4h-4zM436 400h4v4h-4zM824 400h12v4h-12zM356 404h4v4h-4zM436 404h4v4h-4zM436 408h4v4h-4zM360 412h4v4h-4zM436 412h4v4h-4zM540 412h4v4h-4zM436 416h4v4h-4zM364 420h4v4h-4zM436 420h4v4h-4zM436 424h4v4h-4zM368 428h4v4h-4zM436 428h4v4h-4zM436 432h4v4h-4zM440 436h4v4h-4zM440 440h4v4h-4zM652 440h4v4h-4zM444 444h4v4h-4zM624 444h20v4h-20zM368 448h4v4h-4zM444 448h4v4h-4zM620 448h4v4h-4zM368 452h4v4h-4zM448 452h4v4h-4zM608 452h4v4h-4zM660 452h4v4h-4zM364 456h4v4h-4zM448 456h4v4h-4zM564 456h4v4h-4zM364 460h4v4h-4zM448 460h8v4h-8zM360 464h8v4h-8zM452 464h4v4h-4zM572 464h4v4h-4zM360 468h8v4h-8zM452 468h4v4h-4zM604 468h4v4h-4zM364 472h4v4h-4zM452 472h4v4h-4zM576 472h4v4h-4zM364 476h4v4h-4zM576 476h4v4h-4zM368 480h4v4h-4zM456 480h4v4h-4zM368 484h4v4h-4zM456 484h4v4h-4zM372 488h4v4h-4zM456 488h4v4h-4zM576 488h4v4h-4zM836 488h4v4h-4zM372 492h4v4h-4zM456 492h4v4h-4zM372 496h4v4h-4zM372 500h4v4h-4zM372 504h4v4h-4zM460 504h4v4h-4zM372 508h4v4h-4zM464 508h8v4h-8zM572 508h4v4h-4zM368 512h8v4h-8zM568 512h4v4h-4zM268 516h4v4h-4zM368 516h8v4h-8zM556 516h8v4h-8zM272 520h4v4h-4zM368 520h8v4h-8zM496 520h8v4h-8zM548 520h4v4h-4zM372 524h4v4h-4zM540 524h4v4h-4zM372 528h8v4h-8zM536 528h4v4h-4zM372 532h36v4h-36zM448 532h4v4h-4zM532 532h4v4h-4zM272 536h4v4h-4zM408 536h8v4h-8zM444 536h4v4h-4zM524 536h4v4h-4zM412 540h8v4h-8zM416 544h8v4h-8zM440 544h4v4h-4zM420 548h4v4h-4zM440 548h4v4h-4zM424 552h4v4h-4zM436 552h4v4h-4zM284 556h4v4h-4zM292 568h4v4h-4zM440 572h4v4h-4zM348 580h4v4h-4zM340 584h16v4h-16zM336 588h24v4h-24zM336 592h24v4h-24zM352 596h4v4h-4zM692 740h4v4h-4z"/>
<path fill="#6c6c6c" d="M780 76h4v4h-4zM780 80h4v4h-4zM780 84h4v4h-4zM832 84h4v4h-4zM832 88h4v4h-4zM832 92h4v4h-4zM832 96h4v4h-4zM780 100h4v4h-4zM832 100h4v4h-4zM828 108h4v4h-4zM764 116h4v4h-4zM808 128h4v4h-4zM748 132h4v4h-4zM800 132h4v4h-4zM792 136h4v4h-4zM788 140h4v4h-4zM784 148h4v4h-4zM736 156h4v4h-4zM780 156h4v4h-4zM776 164h4v4h-4zM772 168h4v4h-4zM768 180h4v4h-4zM516 196h4v4h-4zM768 196h4v4h-4zM736 200h4v4h-4zM768 200h4v4h-4zM608 204h4v4h-4zM644 212h8v4h-8zM368 216h4v4h-4zM640 216h4v4h-4zM648 216h4v4h-4zM352 220h4v4h-4zM648 220h4v4h-4zM768 220h4v4h-4zM648 224h4v4h-4zM648 228h4v4h-4zM328 236h4v4h-4zM764 236h4v4h-4zM676 240h4v4h-4zM688 240h4v4h-4zM764 240h4v4h-4zM652 244h4v4h-4zM668 244h8v4h-8zM656 248h12v4h-12zM572 284h8v4h-8zM596 284h4v4h-4zM608 284h8v4h-8zM688 284h4v4h-4zM568 288h4v4h-4zM616 288h4v4h-4zM564 292h4v4h-4zM560 296h4v4h-4zM620 296h4v4h-4zM696 296h4v4h-4zM560 300h4v4h-4zM756 300h4v4h-4zM560 304h4v4h-4zM624 304h4v4h-4zM260 308h4v4h-4zM748 308h4v4h-4zM628 312h4v4h-4zM760 312h4v4h-4zM560 316h4v4h-4zM560 320h4v4h-4zM556 324h4v4h-4zM296 328h16v4h-16zM552 328h4v4h-4zM644 328h4v4h-4zM288 332h4v4h-4zM548 332h4v4h-4zM652 332h4v4h-4zM656 336h4v4h-4zM276 340h4v4h-4zM320 340h4v4h-4zM664 340h4v4h-4zM372 344h16v4h-16zM668 344h8v4h-8zM364 348h4v4h-4zM392 348h4v4h-4zM672 348h8v4h-8zM820 348h8v4h-8zM320 352h4v4h-4zM360 352h4v4h-4zM400 352h4v4h-4zM548 352h4v4h-4zM676 352h12v4h-12zM812 352h4v4h-4zM832 352h4v4h-4zM316 356h4v4h-4zM408 356h4v4h-4zM548 356h4v4h-4zM680 356h8v4h-8zM804 356h4v4h-4zM356 360h4v4h-4zM412 360h4v4h-4zM548 360h4v4h-4zM680 360h8v4h-8zM800 360h4v4h-4zM304 364h4v4h-4zM416 364h4v4h-4zM680 364h12v4h-12zM352 368h4v4h-4zM420 368h4v4h-4zM684 368h8v4h-8zM800 368h4v4h-4zM292 372h4v4h-4zM352 372h4v4h-4zM692 372h32v4h-32zM424 376h4v4h-4zM544 376h4v4h-4zM804 376h4v4h-4zM424 380h4v4h-4zM544 380h4v4h-4zM260 384h4v4h-4zM276 384h4v4h-4zM352 384h4v4h-4zM808 384h4v4h-4zM352 388h4v4h-4zM428 388h4v4h-4zM836 388h4v4h-4zM248 392h4v4h-4zM428 392h4v4h-4zM356 396h4v4h-4zM432 396h4v4h-4zM540 396h4v4h-4zM356 400h4v4h-4zM432 400h4v4h-4zM540 400h4v4h-4zM836 400h4v4h-4zM432 404h4v4h-4zM540 404h4v4h-4zM828 404h8v4h-8zM360 408h4v4h-4zM540 408h4v4h-4zM240 416h4v4h-4zM364 416h4v4h-4zM432 420h4v4h-4zM368 424h4v4h-4zM432 424h4v4h-4zM432 428h4v4h-4zM544 428h4v4h-4zM544 432h4v4h-4zM372 436h4v4h-4zM436 436h4v4h-4zM372 440h4v4h-4zM548 440h4v4h-4zM624 440h28v4h-28zM372 444h4v4h-4zM440 444h4v4h-4zM620 444h4v4h-4zM372 448h4v4h-4zM440 448h4v4h-4zM616 448h4v4h-4zM372 452h4v4h-4zM444 452h4v4h-4zM560 452h4v4h-4zM368 456h8v4h-8zM444 456h4v4h-4zM368 460h8v4h-8zM572 460h4v4h-4zM368 464h8v4h-8zM448 464h4v4h-4zM576 464h4v4h-4zM368 468h8v4h-8zM448 468h4v4h-4zM576 468h4v4h-4zM620 468h4v4h-4zM368 472h8v4h-8zM368 476h12v4h-12zM452 476h4v4h-4zM372 480h8v4h-8zM452 480h4v4h-4zM372 484h8v4h-8zM376 488h8v4h-8zM248 492h4v4h-4zM376 492h8v4h-8zM376 496h8v4h-8zM456 496h4v4h-4zM376 500h8v4h-8zM376 504h8v4h-8zM252 508h4v4h-4zM376 508h8v4h-8zM252 512h4v4h-4zM376 512h8v4h-8zM376 516h8v4h-8zM564 516h4v4h-4zM376 520h12v4h-12zM492 520h4v4h-4zM552 520h4v4h-4zM376 524h24v4h-24zM544 524h4v4h-4zM380 528h28v4h-28zM452 528h4v4h-4zM512 528h4v4h-4zM408 532h8v4h-8zM460 532h4v4h-4zM516 532h4v4h-4zM416 536h4v4h-4zM520 536h4v4h-4zM528 536h4v4h-4zM420 540h4v4h-4zM440 540h4v4h-4zM424 544h4v4h-4zM424 548h4v4h-4zM428 552h8v4h-8zM444 568h4v4h-4zM400 584h4v4h-4zM340 596h12v4h-12z"/>
<path fill="#6e6e6e" d="M832 76h4v4h-4zM832 80h4v4h-4zM832 104h4v4h-4zM828 112h4v4h-4zM824 116h4v4h-4zM820 120h4v4h-4zM816 124h4v4h-4zM744 136h4v4h-4zM796 136h4v4h-4zM788 144h4v4h-4zM784 152h4v4h-4zM780 160h4v4h-4zM772 172h4v4h-4zM768 184h4v4h-4zM768 188h4v4h-4zM768 192h4v4h-4zM508 196h4v4h-4zM572 196h4v4h-4zM588 196h4v4h-4zM588 200h4v4h-4zM772 204h4v4h-4zM596 208h8v4h-8zM652 208h4v4h-4zM772 208h4v4h-4zM652 212h4v4h-4zM740 212h4v4h-4zM772 212h4v4h-4zM652 216h4v4h-4zM652 220h4v4h-4zM624 224h4v4h-4zM652 224h4v4h-4zM768 224h4v4h-4zM652 228h4v4h-4zM652 232h4v4h-4zM652 236h4v4h-4zM676 236h12v4h-12zM652 240h8v4h-8zM668 240h8v4h-8zM692 240h4v4h-4zM656 244h12v4h-12zM764 244h4v4h-4zM764 248h4v4h-4zM296 252h4v4h-4zM688 264h4v4h-4zM580 284h16v4h-16zM600 284h8v4h-8zM572 288h4v4h-4zM692 288h4v4h-4zM696 292h4v4h-4zM712 316h4v4h-4zM632 320h4v4h-4zM636 324h4v4h-4zM640 328h4v4h-4zM312 332h4v4h-4zM648 332h4v4h-4zM284 336h4v4h-4zM316 336h4v4h-4zM548 336h4v4h-4zM652 336h4v4h-4zM656 340h8v4h-8zM320 344h4v4h-4zM548 344h4v4h-4zM664 344h4v4h-4zM320 348h4v4h-4zM368 348h4v4h-4zM388 348h4v4h-4zM548 348h4v4h-4zM668 348h4v4h-4zM816 348h4v4h-4zM828 348h4v4h-4zM364 352h4v4h-4zM672 352h4v4h-4zM360 356h4v4h-4zM404 356h4v4h-4zM672 356h8v4h-8zM748 356h4v4h-4zM672 360h8v4h-8zM356 364h4v4h-4zM548 364h4v4h-4zM676 364h4v4h-4zM796 364h4v4h-4zM296 368h4v4h-4zM548 368h4v4h-4zM676 368h8v4h-8zM420 372h4v4h-4zM676 372h16v4h-16zM284 376h4v4h-4zM352 376h4v4h-4zM692 376h12v4h-12zM256 380h4v4h-4zM280 380h4v4h-4zM352 380h4v4h-4zM264 384h4v4h-4zM424 384h4v4h-4zM544 384h4v4h-4zM424 388h4v4h-4zM544 388h4v4h-4zM356 392h4v4h-4zM812 392h4v4h-4zM428 396h4v4h-4zM816 396h4v4h-4zM840 396h4v4h-4zM820 400h4v4h-4zM360 404h4v4h-4zM824 404h4v4h-4zM432 408h4v4h-4zM364 412h4v4h-4zM432 412h4v4h-4zM432 416h4v4h-4zM368 420h4v4h-4zM544 424h4v4h-4zM372 428h4v4h-4zM372 432h4v4h-4zM432 432h4v4h-4zM432 436h4v4h-4zM376 440h4v4h-4zM436 440h4v4h-4zM620 440h4v4h-4zM656 440h4v4h-4zM376 444h4v4h-4zM436 444h4v4h-4zM552 444h4v4h-4zM616 444h4v4h-4zM660 444h4v4h-4zM376 448h4v4h-4zM556 448h4v4h-4zM612 448h4v4h-4zM376 452h4v4h-4zM440 452h4v4h-4zM376 456h8v4h-8zM568 456h4v4h-4zM376 460h8v4h-8zM444 460h4v4h-4zM600 460h4v4h-4zM236 464h4v4h-4zM376 464h8v4h-8zM444 464h4v4h-4zM376 468h12v4h-12zM580 468h4v4h-4zM376 472h12v4h-12zM448 472h4v4h-4zM580 472h4v4h-4zM380 476h8v4h-8zM448 476h4v4h-4zM580 476h4v4h-4zM380 480h8v4h-8zM832 480h4v4h-4zM380 484h8v4h-8zM452 484h4v4h-4zM836 484h4v4h-4zM384 488h4v4h-4zM452 488h4v4h-4zM384 492h4v4h-4zM576 492h4v4h-4zM836 492h4v4h-4zM384 496h8v4h-8zM384 500h8v4h-8zM456 500h4v4h-4zM384 504h8v4h-8zM384 508h12v4h-12zM460 508h4v4h-4zM384 512h16v4h-16zM384 516h16v4h-16zM480 516h4v4h-4zM568 516h4v4h-4zM388 520h16v4h-16zM488 520h4v4h-4zM556 520h12v4h-12zM400 524h8v4h-8zM508 524h4v4h-4zM408 528h8v4h-8zM540 528h4v4h-4zM416 532h4v4h-4zM444 532h4v4h-4zM536 532h4v4h-4zM420 536h4v4h-4zM440 536h4v4h-4zM424 540h4v4h-4zM428 544h4v4h-4zM436 544h4v4h-4zM460 544h4v4h-4zM428 548h12v4h-12zM288 564h4v4h-4zM316 588h4v4h-4zM396 588h4v4h-4z"/>
<path fill="#707070" d="M836 88h4v4h-4zM836 92h4v4h-4zM836 96h4v4h-4zM836 100h4v4h-4zM832 108h4v4h-4zM752 128h4v4h-4zM812 128h4v4h-4zM804 132h4v4h-4zM792 140h4v4h-4zM788 148h4v4h-4zM784 156h4v4h-4zM732 168h4v4h-4zM776 168h4v4h-4zM772 176h4v4h-4zM772 192h4v4h-4zM772 196h4v4h-4zM772 200h4v4h-4zM648 208h4v4h-4zM656 208h4v4h-4zM656 212h4v4h-4zM392 216h4v4h-4zM656 216h4v4h-4zM772 216h4v4h-4zM656 220h4v4h-4zM632 224h4v4h-4zM656 224h4v4h-4zM656 228h4v4h-4zM768 228h4v4h-4zM656 232h4v4h-4zM676 232h8v4h-8zM768 232h4v4h-4zM476 236h4v4h-4zM656 236h20v4h-20zM504 240h4v4h-4zM660 240h8v4h-8zM696 244h4v4h-4zM696 256h4v4h-4zM764 256h4v4h-4zM576 288h24v4h-24zM612 288h4v4h-4zM568 292h4v4h-4zM616 292h4v4h-4zM564 296h4v4h-4zM564 300h4v4h-4zM564 304h4v4h-4zM564 308h4v4h-4zM708 308h4v4h-4zM564 312h4v4h-4zM564 316h4v4h-4zM560 324h4v4h-4zM556 328h4v4h-4zM292 332h4v4h-4zM552 332h4v4h-4zM644 332h4v4h-4zM648 336h4v4h-4zM280 340h4v4h-4zM548 340h4v4h-4zM652 340h4v4h-4zM276 344h4v4h-4zM660 344h4v4h-4zM372 348h8v4h-8zM384 348h4v4h-4zM664 348h4v4h-4zM832 348h4v4h-4zM316 352h4v4h-4zM368 352h4v4h-4zM396 352h4v4h-4zM664 352h8v4h-8zM808 352h4v4h-4zM312 356h4v4h-4zM364 356h4v4h-4zM668 356h4v4h-4zM800 356h4v4h-4zM308 360h4v4h-4zM360 360h4v4h-4zM408 360h4v4h-4zM668 360h4v4h-4zM796 360h4v4h-4zM412 364h4v4h-4zM668 364h8v4h-8zM356 368h4v4h-4zM416 368h4v4h-4zM668 368h8v4h-8zM288 372h4v4h-4zM356 372h4v4h-4zM548 372h4v4h-4zM668 372h8v4h-8zM748 372h4v4h-4zM800 372h4v4h-4zM420 376h4v4h-4zM668 376h24v4h-24zM704 376h8v4h-8zM736 376h8v4h-8zM260 380h4v4h-4zM276 380h4v4h-4zM420 380h4v4h-4zM804 380h4v4h-4zM268 384h8v4h-8zM356 384h4v4h-4zM836 384h4v4h-4zM356 388h4v4h-4zM808 388h4v4h-4zM424 392h4v4h-4zM544 392h4v4h-4zM360 396h4v4h-4zM360 400h4v4h-4zM428 400h4v4h-4zM840 400h4v4h-4zM428 404h4v4h-4zM836 404h4v4h-4zM364 408h4v4h-4zM828 408h4v4h-4zM368 416h4v4h-4zM544 416h4v4h-4zM428 420h4v4h-4zM544 420h4v4h-4zM372 424h4v4h-4zM428 424h4v4h-4zM428 428h4v4h-4zM428 432h4v4h-4zM376 436h4v4h-4zM548 436h4v4h-4zM624 436h24v4h-24zM432 440h4v4h-4zM236 448h4v4h-4zM380 448h4v4h-4zM436 448h4v4h-4zM380 452h4v4h-4zM564 452h4v4h-4zM384 456h4v4h-4zM440 456h4v4h-4zM572 456h4v4h-4zM384 460h4v4h-4zM440 460h4v4h-4zM576 460h4v4h-4zM384 464h8v4h-8zM580 464h4v4h-4zM600 464h4v4h-4zM388 468h4v4h-4zM444 468h4v4h-4zM624 468h12v4h-12zM388 472h4v4h-4zM388 476h4v4h-4zM388 480h4v4h-4zM448 480h4v4h-4zM580 480h4v4h-4zM824 480h4v4h-4zM388 484h4v4h-4zM388 488h4v4h-4zM820 488h4v4h-4zM388 492h4v4h-4zM452 492h4v4h-4zM392 496h4v4h-4zM452 496h4v4h-4zM828 496h8v4h-8zM392 500h4v4h-4zM392 504h8v4h-8zM456 504h4v4h-4zM396 508h4v4h-4zM400 512h4v4h-4zM460 512h8v4h-8zM484 512h4v4h-4zM572 512h4v4h-4zM400 516h4v4h-4zM460 516h4v4h-4zM404 520h4v4h-4zM484 520h4v4h-4zM568 520h4v4h-4zM864 520h4v4h-4zM408 524h8v4h-8zM456 524h4v4h-4zM548 524h20v4h-20zM864 524h4v4h-4zM416 528h4v4h-4zM448 528h4v4h-4zM460 528h4v4h-4zM420 532h4v4h-4zM424 536h8v4h-8zM516 536h4v4h-4zM532 536h4v4h-4zM428 540h12v4h-12zM432 544h4v4h-4zM292 572h4v4h-4zM424 584h4v4h-4z"/>
<path fill="#727272" d="M836 84h4v4h-4zM836 104h4v4h-4zM832 112h4v4h-4zM828 116h4v4h-4zM760 120h4v4h-4zM824 120h4v4h-4zM800 136h4v4h-4zM792 144h4v4h-4zM788 152h4v4h-4zM780 164h4v4h-4zM772 180h4v4h-4zM772 184h4v4h-4zM772 188h4v4h-4zM536 200h4v4h-4zM776 200h4v4h-4zM776 204h4v4h-4zM660 208h4v4h-4zM500 212h4v4h-4zM660 212h8v4h-8zM660 216h12v4h-12zM396 220h4v4h-4zM660 220h16v4h-16zM772 220h4v4h-4zM660 224h20v4h-20zM660 228h20v4h-20zM660 232h16v4h-16zM752 236h4v4h-4zM768 236h4v4h-4zM768 240h4v4h-4zM768 244h4v4h-4zM768 248h4v4h-4zM768 252h4v4h-4zM768 256h4v4h-4zM768 260h4v4h-4zM764 264h4v4h-4zM764 268h4v4h-4zM688 280h4v4h-4zM600 288h12v4h-12zM572 292h16v4h-16zM568 296h4v4h-4zM620 300h4v4h-4zM624 308h4v4h-4zM628 316h4v4h-4zM564 320h4v4h-4zM636 328h4v4h-4zM308 332h4v4h-4zM640 332h4v4h-4zM552 336h4v4h-4zM644 336h4v4h-4zM728 336h4v4h-4zM316 340h4v4h-4zM280 344h4v4h-4zM656 344h4v4h-4zM736 344h4v4h-4zM824 344h8v4h-8zM276 348h4v4h-4zM380 348h4v4h-4zM660 348h4v4h-4zM812 348h4v4h-4zM372 352h4v4h-4zM392 352h4v4h-4zM552 352h4v4h-4zM836 352h4v4h-4zM368 356h4v4h-4zM400 356h4v4h-4zM552 356h4v4h-4zM664 356h4v4h-4zM836 356h4v4h-4zM364 360h4v4h-4zM404 360h4v4h-4zM552 360h4v4h-4zM664 360h4v4h-4zM300 364h4v4h-4zM360 364h4v4h-4zM664 364h4v4h-4zM792 364h4v4h-4zM292 368h4v4h-4zM360 368h4v4h-4zM664 368h4v4h-4zM796 368h4v4h-4zM284 372h4v4h-4zM416 372h4v4h-4zM664 372h4v4h-4zM256 376h4v4h-4zM280 376h4v4h-4zM356 376h4v4h-4zM548 376h4v4h-4zM660 376h8v4h-8zM712 376h4v4h-4zM732 376h4v4h-4zM744 376h4v4h-4zM264 380h4v4h-4zM272 380h4v4h-4zM356 380h4v4h-4zM548 380h4v4h-4zM660 380h40v4h-40zM252 384h4v4h-4zM420 384h4v4h-4zM660 384h16v4h-16zM420 388h4v4h-4zM656 388h16v4h-16zM360 392h4v4h-4zM660 392h8v4h-8zM840 392h4v4h-4zM424 396h4v4h-4zM544 396h4v4h-4zM544 400h4v4h-4zM364 404h4v4h-4zM544 404h4v4h-4zM820 404h4v4h-4zM428 408h4v4h-4zM544 408h4v4h-4zM824 408h4v4h-4zM832 408h4v4h-4zM368 412h4v4h-4zM428 412h4v4h-4zM544 412h4v4h-4zM428 416h4v4h-4zM376 432h4v4h-4zM548 432h4v4h-4zM428 436h4v4h-4zM620 436h4v4h-4zM648 436h8v4h-8zM552 440h4v4h-4zM616 440h4v4h-4zM660 440h4v4h-4zM380 444h4v4h-4zM432 444h4v4h-4zM612 444h4v4h-4zM384 448h4v4h-4zM560 448h4v4h-4zM608 448h4v4h-4zM384 452h4v4h-4zM436 452h4v4h-4zM604 452h4v4h-4zM388 456h4v4h-4zM576 456h4v4h-4zM388 460h4v4h-4zM580 460h4v4h-4zM440 464h4v4h-4zM584 464h4v4h-4zM392 468h4v4h-4zM584 468h4v4h-4zM636 468h4v4h-4zM644 468h4v4h-4zM392 472h4v4h-4zM444 472h4v4h-4zM584 472h4v4h-4zM392 476h4v4h-4zM444 476h4v4h-4zM240 480h4v4h-4zM392 480h4v4h-4zM392 484h4v4h-4zM448 484h4v4h-4zM580 484h4v4h-4zM392 488h4v4h-4zM448 488h4v4h-4zM392 492h4v4h-4zM396 500h4v4h-4zM452 500h4v4h-4zM488 500h4v4h-4zM400 508h4v4h-4zM456 508h4v4h-4zM472 508h4v4h-4zM404 512h4v4h-4zM456 512h4v4h-4zM476 512h8v4h-8zM860 512h12v4h-12zM404 516h4v4h-4zM860 516h16v4h-16zM408 520h4v4h-4zM460 520h4v4h-4zM856 520h8v4h-8zM868 520h8v4h-8zM272 524h4v4h-4zM416 524h4v4h-4zM452 524h4v4h-4zM460 524h4v4h-4zM500 524h8v4h-8zM860 524h4v4h-4zM868 524h8v4h-8zM420 528h4v4h-4zM444 528h4v4h-4zM508 528h4v4h-4zM544 528h8v4h-8zM556 528h8v4h-8zM860 528h12v4h-12zM272 532h4v4h-4zM424 532h8v4h-8zM440 532h4v4h-4zM512 532h4v4h-4zM432 536h8v4h-8zM520 540h12v4h-12zM452 560h4v4h-4zM416 588h4v4h-4zM336 596h4v4h-4zM356 596h4v4h-4z"/>
<path fill="#747474" d="M836 76h4v4h-4zM836 80h4v4h-4zM840 92h4v4h-4zM840 96h4v4h-4zM840 100h4v4h-4zM836 108h4v4h-4zM820 124h4v4h-4zM808 132h4v4h-4zM796 140h4v4h-4zM784 160h4v4h-4zM776 172h4v4h-4zM776 192h4v4h-4zM484 196h4v4h-4zM776 196h4v4h-4zM472 204h4v4h-4zM480 204h4v4h-4zM500 208h4v4h-4zM776 208h4v4h-4zM776 212h4v4h-4zM416 224h4v4h-4zM628 224h4v4h-4zM772 224h4v4h-4zM752 228h4v4h-4zM692 260h4v4h-4zM764 260h4v4h-4zM768 264h4v4h-4zM272 268h4v4h-4zM688 268h4v4h-4zM588 292h12v4h-12zM572 296h8v4h-8zM568 300h4v4h-4zM752 300h4v4h-4zM568 304h4v4h-4zM704 304h4v4h-4zM748 304h4v4h-4zM568 308h4v4h-4zM568 312h4v4h-4zM856 316h4v4h-4zM564 324h4v4h-4zM632 324h4v4h-4zM560 328h4v4h-4zM296 332h12v4h-12zM556 332h4v4h-4zM288 336h4v4h-4zM312 336h4v4h-4zM272 340h4v4h-4zM284 340h4v4h-4zM552 340h4v4h-4zM648 340h4v4h-4zM316 344h4v4h-4zM552 344h4v4h-4zM652 344h4v4h-4zM820 344h4v4h-4zM832 344h4v4h-4zM272 348h4v4h-4zM316 348h4v4h-4zM552 348h4v4h-4zM656 348h4v4h-4zM836 348h4v4h-4zM272 352h8v4h-8zM376 352h16v4h-16zM660 352h4v4h-4zM804 352h4v4h-4zM260 356h16v4h-16zM372 356h4v4h-4zM396 356h4v4h-4zM660 356h4v4h-4zM796 356h4v4h-4zM256 360h12v4h-12zM304 360h4v4h-4zM368 360h4v4h-4zM660 360h4v4h-4zM792 360h4v4h-4zM836 360h4v4h-4zM296 364h4v4h-4zM364 364h4v4h-4zM408 364h4v4h-4zM552 364h4v4h-4zM660 364h4v4h-4zM288 368h4v4h-4zM412 368h4v4h-4zM552 368h4v4h-4zM660 368h4v4h-4zM252 372h8v4h-8zM280 372h4v4h-4zM360 372h4v4h-4zM660 372h4v4h-4zM252 376h4v4h-4zM260 376h8v4h-8zM272 376h8v4h-8zM360 376h4v4h-4zM416 376h4v4h-4zM656 376h4v4h-4zM716 376h16v4h-16zM800 376h4v4h-4zM252 380h4v4h-4zM268 380h4v4h-4zM360 380h4v4h-4zM416 380h4v4h-4zM656 380h4v4h-4zM700 380h8v4h-8zM360 384h4v4h-4zM548 384h4v4h-4zM652 384h8v4h-8zM676 384h8v4h-8zM804 384h4v4h-4zM360 388h4v4h-4zM652 388h4v4h-4zM672 388h4v4h-4zM420 392h4v4h-4zM652 392h8v4h-8zM668 392h8v4h-8zM656 396h16v4h-16zM812 396h4v4h-4zM844 396h4v4h-4zM364 400h4v4h-4zM424 400h4v4h-4zM660 400h8v4h-8zM816 400h4v4h-4zM844 400h4v4h-4zM840 404h4v4h-4zM368 408h4v4h-4zM836 408h4v4h-4zM372 420h4v4h-4zM424 424h4v4h-4zM376 428h4v4h-4zM424 428h4v4h-4zM548 428h4v4h-4zM424 432h4v4h-4zM624 432h24v4h-24zM656 436h4v4h-4zM380 440h4v4h-4zM428 440h4v4h-4zM384 444h4v4h-4zM556 444h4v4h-4zM432 448h4v4h-4zM388 452h4v4h-4zM568 452h4v4h-4zM436 456h4v4h-4zM580 456h4v4h-4zM600 456h4v4h-4zM392 460h4v4h-4zM436 460h4v4h-4zM584 460h4v4h-4zM656 460h4v4h-4zM392 464h4v4h-4zM588 464h4v4h-4zM440 468h4v4h-4zM588 468h4v4h-4zM640 468h4v4h-4zM612 472h4v4h-4zM584 476h4v4h-4zM444 480h4v4h-4zM820 484h4v4h-4zM580 488h4v4h-4zM840 488h4v4h-4zM396 492h4v4h-4zM448 492h4v4h-4zM840 492h4v4h-4zM396 496h4v4h-4zM836 496h4v4h-4zM400 500h4v4h-4zM400 504h4v4h-4zM452 504h4v4h-4zM856 504h12v4h-12zM404 508h4v4h-4zM852 508h24v4h-24zM852 512h8v4h-8zM872 512h4v4h-4zM408 516h4v4h-4zM456 516h4v4h-4zM476 516h4v4h-4zM852 516h8v4h-8zM412 520h4v4h-4zM456 520h4v4h-4zM480 520h4v4h-4zM852 520h4v4h-4zM420 524h4v4h-4zM448 524h4v4h-4zM488 524h12v4h-12zM856 524h4v4h-4zM424 528h8v4h-8zM440 528h4v4h-4zM552 528h4v4h-4zM856 528h4v4h-4zM872 528h4v4h-4zM432 532h8v4h-8zM540 532h4v4h-4zM860 532h12v4h-12zM536 536h4v4h-4zM328 596h4v4h-4z"/>
<path fill="#767676" d="M840 84h4v4h-4zM840 88h4v4h-4zM840 104h4v4h-4zM816 128h4v4h-4zM804 136h4v4h-4zM792 148h4v4h-4zM788 156h4v4h-4zM776 188h4v4h-4zM468 196h4v4h-4zM780 196h4v4h-4zM780 200h4v4h-4zM780 204h4v4h-4zM776 216h4v4h-4zM620 220h4v4h-4zM636 220h4v4h-4zM680 228h4v4h-4zM772 228h4v4h-4zM332 232h4v4h-4zM752 232h4v4h-4zM304 248h4v4h-4zM772 252h4v4h-4zM772 256h4v4h-4zM772 260h4v4h-4zM768 268h4v4h-4zM688 276h4v4h-4zM600 292h8v4h-8zM612 292h4v4h-4zM580 296h16v4h-16zM616 296h4v4h-4zM572 300h8v4h-8zM572 304h4v4h-4zM620 304h4v4h-4zM572 308h4v4h-4zM856 308h4v4h-4zM624 312h4v4h-4zM856 312h8v4h-8zM568 316h4v4h-4zM852 316h4v4h-4zM568 320h4v4h-4zM628 320h4v4h-4zM852 320h8v4h-8zM716 324h4v4h-4zM632 328h4v4h-4zM636 332h4v4h-4zM292 336h4v4h-4zM308 336h4v4h-4zM556 336h4v4h-4zM640 336h4v4h-4zM312 340h4v4h-4zM644 340h4v4h-4zM824 340h8v4h-8zM272 344h4v4h-4zM648 344h4v4h-4zM816 344h4v4h-4zM836 344h4v4h-4zM280 348h4v4h-4zM652 348h4v4h-4zM268 352h4v4h-4zM312 352h4v4h-4zM656 352h4v4h-4zM748 352h4v4h-4zM276 356h4v4h-4zM308 356h4v4h-4zM376 356h20v4h-20zM656 356h4v4h-4zM268 360h12v4h-12zM372 360h4v4h-4zM396 360h8v4h-8zM788 360h4v4h-4zM256 364h24v4h-24zM292 364h4v4h-4zM368 364h4v4h-4zM404 364h4v4h-4zM788 364h4v4h-4zM252 368h36v4h-36zM364 368h4v4h-4zM408 368h4v4h-4zM656 368h4v4h-4zM792 368h4v4h-4zM260 372h20v4h-20zM364 372h4v4h-4zM412 372h4v4h-4zM552 372h4v4h-4zM656 372h4v4h-4zM796 372h4v4h-4zM268 376h4v4h-4zM364 376h4v4h-4zM412 376h4v4h-4zM652 376h4v4h-4zM748 376h4v4h-4zM652 380h4v4h-4zM708 380h4v4h-4zM836 380h4v4h-4zM416 384h4v4h-4zM648 384h4v4h-4zM684 384h12v4h-12zM364 388h4v4h-4zM548 388h4v4h-4zM648 388h4v4h-4zM676 388h8v4h-8zM364 392h4v4h-4zM548 392h4v4h-4zM648 392h4v4h-4zM676 392h4v4h-4zM808 392h4v4h-4zM364 396h4v4h-4zM420 396h4v4h-4zM648 396h8v4h-8zM672 396h4v4h-4zM652 400h8v4h-8zM668 400h4v4h-4zM368 404h4v4h-4zM424 404h4v4h-4zM656 404h12v4h-12zM424 408h4v4h-4zM820 408h4v4h-4zM424 412h4v4h-4zM824 412h8v4h-8zM372 416h4v4h-4zM424 416h4v4h-4zM424 420h4v4h-4zM376 424h4v4h-4zM548 424h4v4h-4zM620 432h4v4h-4zM648 432h20v4h-20zM380 436h4v4h-4zM424 436h4v4h-4zM552 436h4v4h-4zM616 436h4v4h-4zM660 436h8v4h-8zM384 440h4v4h-4zM424 440h4v4h-4zM612 440h4v4h-4zM428 444h4v4h-4zM608 444h4v4h-4zM388 448h4v4h-4zM564 448h4v4h-4zM392 452h4v4h-4zM432 452h4v4h-4zM572 452h8v4h-8zM392 456h4v4h-4zM432 456h4v4h-4zM584 456h4v4h-4zM588 460h4v4h-4zM396 464h4v4h-4zM436 464h4v4h-4zM592 464h4v4h-4zM396 468h4v4h-4zM648 468h4v4h-4zM396 472h4v4h-4zM440 472h4v4h-4zM588 472h4v4h-4zM608 472h4v4h-4zM616 472h4v4h-4zM396 476h4v4h-4zM440 476h4v4h-4zM396 480h4v4h-4zM584 480h4v4h-4zM396 484h4v4h-4zM444 484h4v4h-4zM840 484h4v4h-4zM396 488h4v4h-4zM444 488h4v4h-4zM844 488h16v4h-16zM820 492h4v4h-4zM844 492h20v4h-20zM400 496h4v4h-4zM448 496h4v4h-4zM576 496h4v4h-4zM824 496h4v4h-4zM840 496h28v4h-28zM448 500h4v4h-4zM832 500h40v4h-40zM404 504h4v4h-4zM836 504h20v4h-20zM868 504h8v4h-8zM408 508h4v4h-4zM452 508h4v4h-4zM840 508h12v4h-12zM408 512h4v4h-4zM452 512h4v4h-4zM472 512h4v4h-4zM844 512h8v4h-8zM876 512h4v4h-4zM264 516h4v4h-4zM412 516h4v4h-4zM848 516h4v4h-4zM876 516h4v4h-4zM416 520h8v4h-8zM452 520h4v4h-4zM848 520h4v4h-4zM876 520h4v4h-4zM424 524h8v4h-8zM444 524h4v4h-4zM484 524h4v4h-4zM852 524h4v4h-4zM876 524h4v4h-4zM272 528h4v4h-4zM432 528h8v4h-8zM504 528h4v4h-4zM544 532h4v4h-4zM552 532h12v4h-12zM856 532h4v4h-4zM872 532h4v4h-4zM512 536h4v4h-4zM860 536h12v4h-12zM516 540h4v4h-4zM532 540h4v4h-4zM432 572h8v4h-8zM856 608h8v4h-8z"/>
<path fill="#787878" d="M840 80h4v4h-4zM844 92h4v4h-4zM844 96h4v4h-4zM844 100h4v4h-4zM776 108h4v4h-4zM840 108h4v4h-4zM836 112h4v4h-4zM832 116h4v4h-4zM828 120h4v4h-4zM812 132h4v4h-4zM800 140h4v4h-4zM740 144h4v4h-4zM796 144h4v4h-4zM732 164h4v4h-4zM780 168h4v4h-4zM776 176h4v4h-4zM776 180h4v4h-4zM776 184h4v4h-4zM780 192h4v4h-4zM520 196h4v4h-4zM780 208h4v4h-4zM616 212h4v4h-4zM780 212h4v4h-4zM672 216h4v4h-4zM496 220h4v4h-4zM776 220h4v4h-4zM772 232h4v4h-4zM688 236h4v4h-4zM772 236h4v4h-4zM772 240h4v4h-4zM772 244h4v4h-4zM772 248h4v4h-4zM764 252h4v4h-4zM772 264h4v4h-4zM688 272h4v4h-4zM768 272h4v4h-4zM608 292h4v4h-4zM596 296h4v4h-4zM580 300h12v4h-12zM576 304h8v4h-8zM576 308h4v4h-4zM860 308h4v4h-4zM260 312h4v4h-4zM572 312h4v4h-4zM852 312h4v4h-4zM860 316h4v4h-4zM848 320h4v4h-4zM628 324h4v4h-4zM852 324h4v4h-4zM564 328h4v4h-4zM560 332h4v4h-4zM636 336h4v4h-4zM288 340h4v4h-4zM556 340h4v4h-4zM640 340h4v4h-4zM820 340h4v4h-4zM832 340h8v4h-8zM284 344h4v4h-4zM312 344h4v4h-4zM644 344h4v4h-4zM312 348h4v4h-4zM648 348h4v4h-4zM808 348h4v4h-4zM840 348h4v4h-4zM280 352h4v4h-4zM556 352h4v4h-4zM652 352h4v4h-4zM800 352h4v4h-4zM840 352h4v4h-4zM280 356h4v4h-4zM556 356h4v4h-4zM652 356h4v4h-4zM792 356h4v4h-4zM280 360h8v4h-8zM300 360h4v4h-4zM376 360h20v4h-20zM656 360h4v4h-4zM280 364h12v4h-12zM372 364h8v4h-8zM396 364h8v4h-8zM656 364h4v4h-4zM836 364h4v4h-4zM368 368h8v4h-8zM404 368h4v4h-4zM652 368h4v4h-4zM368 372h4v4h-4zM408 372h4v4h-4zM652 372h4v4h-4zM368 376h4v4h-4zM552 376h4v4h-4zM648 376h4v4h-4zM364 380h8v4h-8zM412 380h4v4h-4zM648 380h4v4h-4zM800 380h4v4h-4zM364 384h4v4h-4zM644 384h4v4h-4zM696 384h4v4h-4zM416 388h4v4h-4zM644 388h4v4h-4zM684 388h4v4h-4zM416 392h4v4h-4zM644 392h4v4h-4zM368 396h4v4h-4zM548 396h4v4h-4zM644 396h4v4h-4zM676 396h4v4h-4zM368 400h4v4h-4zM420 400h4v4h-4zM548 400h4v4h-4zM648 400h4v4h-4zM672 400h4v4h-4zM420 404h4v4h-4zM648 404h8v4h-8zM668 404h8v4h-8zM816 404h4v4h-4zM844 404h4v4h-4zM372 408h4v4h-4zM652 408h20v4h-20zM840 408h4v4h-4zM372 412h4v4h-4zM832 412h4v4h-4zM548 416h4v4h-4zM376 420h4v4h-4zM420 420h4v4h-4zM548 420h4v4h-4zM420 424h4v4h-4zM420 428h4v4h-4zM628 428h52v4h-52zM380 432h4v4h-4zM420 432h4v4h-4zM552 432h4v4h-4zM668 432h12v4h-12zM384 436h4v4h-4zM420 436h4v4h-4zM612 436h4v4h-4zM668 436h4v4h-4zM556 440h4v4h-4zM664 440h4v4h-4zM388 444h4v4h-4zM424 444h4v4h-4zM560 444h4v4h-4zM392 448h4v4h-4zM428 448h4v4h-4zM568 448h4v4h-4zM604 448h4v4h-4zM428 452h4v4h-4zM580 452h4v4h-4zM600 452h4v4h-4zM396 456h4v4h-4zM588 456h12v4h-12zM396 460h4v4h-4zM432 460h4v4h-4zM592 460h8v4h-8zM596 464h4v4h-4zM400 468h4v4h-4zM436 468h4v4h-4zM592 468h4v4h-4zM600 468h4v4h-4zM400 472h4v4h-4zM436 472h4v4h-4zM620 472h12v4h-12zM400 476h4v4h-4zM588 476h4v4h-4zM400 480h4v4h-4zM440 480h4v4h-4zM836 480h4v4h-4zM400 484h4v4h-4zM844 484h16v4h-16zM400 488h4v4h-4zM860 488h4v4h-4zM400 492h4v4h-4zM444 492h4v4h-4zM864 492h4v4h-4zM444 496h4v4h-4zM868 496h4v4h-4zM404 500h4v4h-4zM576 500h4v4h-4zM828 500h4v4h-4zM872 500h4v4h-4zM408 504h4v4h-4zM448 504h4v4h-4zM832 504h4v4h-4zM448 508h4v4h-4zM476 508h4v4h-4zM836 508h4v4h-4zM876 508h4v4h-4zM412 512h4v4h-4zM840 512h4v4h-4zM416 516h8v4h-8zM452 516h4v4h-4zM472 516h4v4h-4zM844 516h4v4h-4zM424 520h8v4h-8zM448 520h4v4h-4zM476 520h4v4h-4zM844 520h4v4h-4zM432 524h12v4h-12zM480 524h4v4h-4zM848 524h4v4h-4zM500 528h4v4h-4zM564 528h4v4h-4zM852 528h4v4h-4zM876 528h4v4h-4zM508 532h4v4h-4zM548 532h4v4h-4zM464 536h8v4h-8zM540 536h4v4h-4zM872 536h4v4h-4zM464 540h4v4h-4zM460 548h4v4h-4zM448 564h4v4h-4zM412 588h4v4h-4z"/>
<path fill="#7a7a7a" d="M840 76h4v4h-4zM844 88h4v4h-4zM844 104h4v4h-4zM824 124h4v4h-4zM792 152h4v4h-4zM784 164h4v4h-4zM780 188h4v4h-4zM504 196h4v4h-4zM568 196h4v4h-4zM784 196h4v4h-4zM784 200h4v4h-4zM668 212h4v4h-4zM780 216h4v4h-4zM748 224h4v4h-4zM776 224h4v4h-4zM508 236h4v4h-4zM692 236h4v4h-4zM772 268h4v4h-4zM696 288h4v4h-4zM600 296h4v4h-4zM612 296h4v4h-4zM592 300h4v4h-4zM616 300h4v4h-4zM584 304h4v4h-4zM856 304h8v4h-8zM580 308h4v4h-4zM620 308h4v4h-4zM852 308h4v4h-4zM864 308h4v4h-4zM576 312h4v4h-4zM572 316h4v4h-4zM624 316h4v4h-4zM848 316h4v4h-4zM824 320h4v4h-4zM568 324h4v4h-4zM824 324h8v4h-8zM844 324h8v4h-8zM856 324h4v4h-4zM824 328h16v4h-16zM844 328h8v4h-8zM632 332h4v4h-4zM824 332h16v4h-16zM296 336h12v4h-12zM560 336h4v4h-4zM824 336h16v4h-16zM308 340h4v4h-4zM636 340h4v4h-4zM840 340h4v4h-4zM556 344h4v4h-4zM640 344h4v4h-4zM812 344h4v4h-4zM840 344h4v4h-4zM284 348h4v4h-4zM556 348h4v4h-4zM644 348h4v4h-4zM744 348h4v4h-4zM284 352h4v4h-4zM308 352h4v4h-4zM648 352h4v4h-4zM284 356h4v4h-4zM304 356h4v4h-4zM840 356h4v4h-4zM288 360h12v4h-12zM556 360h4v4h-4zM652 360h4v4h-4zM784 360h4v4h-4zM252 364h4v4h-4zM380 364h16v4h-16zM556 364h4v4h-4zM652 364h4v4h-4zM784 364h4v4h-4zM376 368h28v4h-28zM648 368h4v4h-4zM788 368h4v4h-4zM372 372h20v4h-20zM400 372h8v4h-8zM648 372h4v4h-4zM792 372h4v4h-4zM372 376h12v4h-12zM408 376h4v4h-4zM644 376h4v4h-4zM796 376h4v4h-4zM836 376h4v4h-4zM372 380h8v4h-8zM408 380h4v4h-4zM552 380h4v4h-4zM644 380h4v4h-4zM712 380h4v4h-4zM368 384h8v4h-8zM412 384h4v4h-4zM552 384h4v4h-4zM700 384h4v4h-4zM368 388h8v4h-8zM412 388h4v4h-4zM688 388h4v4h-4zM804 388h4v4h-4zM368 392h8v4h-8zM412 392h4v4h-4zM680 392h4v4h-4zM372 396h4v4h-4zM416 396h4v4h-4zM372 400h4v4h-4zM416 400h4v4h-4zM644 400h4v4h-4zM676 400h4v4h-4zM812 400h4v4h-4zM372 404h4v4h-4zM548 404h4v4h-4zM644 404h4v4h-4zM420 408h4v4h-4zM548 408h4v4h-4zM644 408h8v4h-8zM672 408h4v4h-4zM240 412h4v4h-4zM376 412h4v4h-4zM420 412h4v4h-4zM548 412h4v4h-4zM648 412h28v4h-28zM820 412h4v4h-4zM836 412h4v4h-4zM376 416h4v4h-4zM420 416h4v4h-4zM660 416h12v4h-12zM664 420h12v4h-12zM380 424h4v4h-4zM632 424h52v4h-52zM380 428h4v4h-4zM416 428h4v4h-4zM552 428h4v4h-4zM620 428h8v4h-8zM680 428h4v4h-4zM384 432h4v4h-4zM416 432h4v4h-4zM616 432h4v4h-4zM680 432h4v4h-4zM556 436h4v4h-4zM672 436h8v4h-8zM388 440h4v4h-4zM420 440h4v4h-4zM608 440h4v4h-4zM668 440h4v4h-4zM392 444h4v4h-4zM420 444h4v4h-4zM604 444h4v4h-4zM664 444h4v4h-4zM424 448h4v4h-4zM572 448h8v4h-8zM600 448h4v4h-4zM396 452h4v4h-4zM424 452h4v4h-4zM584 452h8v4h-8zM596 452h4v4h-4zM428 456h4v4h-4zM400 460h4v4h-4zM428 460h4v4h-4zM400 464h4v4h-4zM432 464h4v4h-4zM236 468h4v4h-4zM432 468h4v4h-4zM596 468h4v4h-4zM592 472h4v4h-4zM436 476h4v4h-4zM840 480h20v4h-20zM440 484h4v4h-4zM584 484h4v4h-4zM860 484h4v4h-4zM440 488h4v4h-4zM864 488h4v4h-4zM244 492h4v4h-4zM404 492h4v4h-4zM580 492h4v4h-4zM252 496h4v4h-4zM404 496h4v4h-4zM408 500h4v4h-4zM444 500h4v4h-4zM412 504h4v4h-4zM444 504h4v4h-4zM876 504h4v4h-4zM412 508h8v4h-8zM444 508h4v4h-4zM488 508h4v4h-4zM832 508h4v4h-4zM416 512h8v4h-8zM444 512h8v4h-8zM468 512h4v4h-4zM836 512h4v4h-4zM880 512h4v4h-4zM424 516h28v4h-28zM464 516h8v4h-8zM840 516h4v4h-4zM880 516h4v4h-4zM432 520h16v4h-16zM472 520h4v4h-4zM880 520h4v4h-4zM464 524h16v4h-16zM880 524h4v4h-4zM464 528h36v4h-36zM848 528h4v4h-4zM464 532h16v4h-16zM852 532h4v4h-4zM876 532h4v4h-4zM472 536h8v4h-8zM544 536h4v4h-4zM556 536h4v4h-4zM856 536h4v4h-4zM468 540h8v4h-8zM536 540h4v4h-4zM864 540h8v4h-8zM464 544h12v4h-12zM520 544h12v4h-12zM284 560h4v4h-4zM332 596h4v4h-4z"/>
<path fill="#7c7c7c" d="M844 84h4v4h-4zM848 96h4v4h-4zM844 108h4v4h-4zM840 112h4v4h-4zM836 116h4v4h-4zM820 128h4v4h-4zM808 136h4v4h-4zM796 148h4v4h-4zM788 160h4v4h-4zM780 172h4v4h-4zM780 184h4v4h-4zM784 192h4v4h-4zM592 204h4v4h-4zM604 204h4v4h-4zM784 204h4v4h-4zM784 208h4v4h-4zM676 220h4v4h-4zM428 224h4v4h-4zM776 228h4v4h-4zM776 252h4v4h-4zM288 256h4v4h-4zM776 256h4v4h-4zM776 260h4v4h-4zM776 264h4v4h-4zM772 272h4v4h-4zM692 284h4v4h-4zM604 296h8v4h-8zM596 300h4v4h-4zM588 304h8v4h-8zM864 304h4v4h-4zM584 308h4v4h-4zM580 312h4v4h-4zM820 312h4v4h-4zM864 312h4v4h-4zM576 316h4v4h-4zM816 316h12v4h-12zM572 320h4v4h-4zM624 320h4v4h-4zM816 320h8v4h-8zM828 320h4v4h-4zM844 320h4v4h-4zM860 320h4v4h-4zM820 324h4v4h-4zM832 324h12v4h-12zM628 328h4v4h-4zM820 328h4v4h-4zM840 328h4v4h-4zM852 328h4v4h-4zM564 332h4v4h-4zM820 332h4v4h-4zM840 332h8v4h-8zM632 336h4v4h-4zM820 336h4v4h-4zM840 336h8v4h-8zM292 340h4v4h-4zM816 340h4v4h-4zM844 340h4v4h-4zM288 344h4v4h-4zM308 344h4v4h-4zM636 344h4v4h-4zM844 344h4v4h-4zM288 348h4v4h-4zM308 348h4v4h-4zM640 348h4v4h-4zM804 348h4v4h-4zM844 348h4v4h-4zM288 352h4v4h-4zM644 352h4v4h-4zM796 352h4v4h-4zM288 356h8v4h-8zM300 356h4v4h-4zM644 356h8v4h-8zM788 356h4v4h-4zM648 360h4v4h-4zM780 360h4v4h-4zM648 364h4v4h-4zM780 364h4v4h-4zM556 368h4v4h-4zM644 368h4v4h-4zM784 368h4v4h-4zM836 368h4v4h-4zM392 372h8v4h-8zM644 372h4v4h-4zM788 372h4v4h-4zM836 372h4v4h-4zM384 376h24v4h-24zM640 376h4v4h-4zM380 380h28v4h-28zM640 380h4v4h-4zM716 380h4v4h-4zM376 384h36v4h-36zM640 384h4v4h-4zM704 384h4v4h-4zM800 384h4v4h-4zM376 388h36v4h-36zM552 388h4v4h-4zM640 388h4v4h-4zM692 388h4v4h-4zM244 392h4v4h-4zM376 392h20v4h-20zM404 392h8v4h-8zM552 392h4v4h-4zM640 392h4v4h-4zM684 392h4v4h-4zM376 396h12v4h-12zM408 396h8v4h-8zM640 396h4v4h-4zM680 396h4v4h-4zM808 396h4v4h-4zM376 400h8v4h-8zM412 400h4v4h-4zM640 400h4v4h-4zM680 400h4v4h-4zM376 404h8v4h-8zM416 404h4v4h-4zM640 404h4v4h-4zM676 404h4v4h-4zM376 408h8v4h-8zM416 408h4v4h-4zM640 408h4v4h-4zM676 408h4v4h-4zM816 408h4v4h-4zM380 412h4v4h-4zM416 412h4v4h-4zM640 412h8v4h-8zM676 412h4v4h-4zM380 416h4v4h-4zM416 416h4v4h-4zM640 416h20v4h-20zM672 416h8v4h-8zM824 416h8v4h-8zM380 420h4v4h-4zM416 420h4v4h-4zM636 420h28v4h-28zM676 420h8v4h-8zM384 424h4v4h-4zM416 424h4v4h-4zM552 424h4v4h-4zM624 424h8v4h-8zM384 428h4v4h-4zM412 428h4v4h-4zM684 428h4v4h-4zM412 432h4v4h-4zM612 432h4v4h-4zM684 432h4v4h-4zM388 436h4v4h-4zM412 436h8v4h-8zM608 436h4v4h-4zM392 440h4v4h-4zM416 440h4v4h-4zM560 440h4v4h-4zM604 440h4v4h-4zM396 444h4v4h-4zM416 444h4v4h-4zM564 444h8v4h-8zM600 444h4v4h-4zM396 448h8v4h-8zM420 448h4v4h-4zM580 448h8v4h-8zM596 448h4v4h-4zM400 452h4v4h-4zM420 452h4v4h-4zM592 452h4v4h-4zM400 456h4v4h-4zM424 456h4v4h-4zM404 460h4v4h-4zM424 460h4v4h-4zM404 464h4v4h-4zM428 464h4v4h-4zM404 468h4v4h-4zM428 468h4v4h-4zM404 472h4v4h-4zM432 472h4v4h-4zM604 472h4v4h-4zM632 472h4v4h-4zM404 476h4v4h-4zM432 476h4v4h-4zM404 480h4v4h-4zM436 480h4v4h-4zM588 480h4v4h-4zM860 480h4v4h-4zM404 484h4v4h-4zM436 484h4v4h-4zM864 484h4v4h-4zM404 488h4v4h-4zM436 488h4v4h-4zM408 492h4v4h-4zM436 492h8v4h-8zM868 492h4v4h-4zM408 496h8v4h-8zM436 496h8v4h-8zM872 496h4v4h-4zM412 500h8v4h-8zM436 500h8v4h-8zM824 500h4v4h-4zM876 500h4v4h-4zM416 504h12v4h-12zM432 504h12v4h-12zM828 504h4v4h-4zM420 508h24v4h-24zM880 508h4v4h-4zM424 512h20v4h-20zM832 512h4v4h-4zM256 516h4v4h-4zM836 516h4v4h-4zM464 520h8v4h-8zM840 520h4v4h-4zM844 524h4v4h-4zM880 528h4v4h-4zM480 532h12v4h-12zM500 532h8v4h-8zM480 536h4v4h-4zM508 536h4v4h-4zM548 536h8v4h-8zM876 536h4v4h-4zM476 540h4v4h-4zM512 540h4v4h-4zM540 540h4v4h-4zM860 540h4v4h-4zM872 540h4v4h-4zM476 544h4v4h-4zM532 544h4v4h-4zM464 548h8v4h-8zM428 576h4v4h-4zM408 584h4v4h-4zM340 600h4v4h-4zM864 604h4v4h-4zM620 680h8v4h-8zM692 732h4v4h-4zM696 740h4v4h-4z"/>
<path fill="#7e7e7e" d="M844 80h4v4h-4zM848 88h4v4h-4zM848 92h4v4h-4zM848 100h4v4h-4zM848 104h4v4h-4zM832 120h4v4h-4zM816 132h4v4h-4zM804 140h4v4h-4zM800 144h4v4h-4zM780 176h4v4h-4zM780 180h4v4h-4zM784 188h4v4h-4zM788 196h4v4h-4zM788 200h4v4h-4zM656 204h4v4h-4zM736 204h4v4h-4zM664 208h4v4h-4zM784 212h4v4h-4zM364 216h4v4h-4zM780 220h4v4h-4zM436 224h4v4h-4zM684 232h4v4h-4zM776 232h4v4h-4zM756 244h4v4h-4zM776 244h4v4h-4zM776 248h4v4h-4zM776 268h4v4h-4zM768 276h4v4h-4zM600 300h4v4h-4zM856 300h12v4h-12zM852 304h4v4h-4zM588 308h4v4h-4zM820 308h4v4h-4zM584 312h4v4h-4zM620 312h4v4h-4zM748 312h4v4h-4zM816 312h4v4h-4zM824 312h4v4h-4zM848 312h4v4h-4zM828 316h4v4h-4zM832 320h12v4h-12zM572 324h4v4h-4zM816 324h4v4h-4zM568 328h4v4h-4zM856 328h4v4h-4zM628 332h4v4h-4zM848 332h4v4h-4zM848 336h4v4h-4zM296 340h12v4h-12zM560 340h4v4h-4zM632 340h4v4h-4zM292 344h4v4h-4zM304 344h4v4h-4zM560 344h4v4h-4zM304 348h4v4h-4zM560 348h4v4h-4zM636 348h4v4h-4zM264 352h4v4h-4zM292 352h4v4h-4zM300 352h8v4h-8zM640 352h4v4h-4zM844 352h4v4h-4zM256 356h4v4h-4zM296 356h4v4h-4zM640 356h4v4h-4zM784 356h4v4h-4zM644 360h4v4h-4zM640 364h8v4h-8zM640 368h4v4h-4zM780 368h4v4h-4zM556 372h4v4h-4zM640 372h4v4h-4zM556 376h4v4h-4zM636 376h4v4h-4zM752 376h4v4h-4zM792 376h4v4h-4zM636 380h4v4h-4zM720 380h4v4h-4zM732 380h16v4h-16zM796 380h4v4h-4zM636 384h4v4h-4zM708 384h4v4h-4zM636 388h4v4h-4zM696 388h4v4h-4zM840 388h4v4h-4zM396 392h8v4h-8zM636 392h4v4h-4zM688 392h4v4h-4zM804 392h4v4h-4zM388 396h20v4h-20zM552 396h4v4h-4zM636 396h4v4h-4zM684 396h4v4h-4zM384 400h28v4h-28zM552 400h4v4h-4zM636 400h4v4h-4zM384 404h32v4h-32zM636 404h4v4h-4zM680 404h4v4h-4zM812 404h4v4h-4zM384 408h32v4h-32zM636 408h4v4h-4zM680 408h4v4h-4zM844 408h4v4h-4zM384 412h32v4h-32zM636 412h4v4h-4zM680 412h4v4h-4zM384 416h32v4h-32zM552 416h4v4h-4zM632 416h8v4h-8zM680 416h4v4h-4zM832 416h4v4h-4zM384 420h32v4h-32zM552 420h4v4h-4zM628 420h8v4h-8zM684 420h4v4h-4zM388 424h28v4h-28zM620 424h4v4h-4zM684 424h4v4h-4zM388 428h24v4h-24zM556 428h4v4h-4zM616 428h4v4h-4zM388 432h24v4h-24zM556 432h4v4h-4zM392 436h20v4h-20zM560 436h4v4h-4zM604 436h4v4h-4zM680 436h4v4h-4zM396 440h20v4h-20zM564 440h4v4h-4zM600 440h4v4h-4zM672 440h4v4h-4zM400 444h16v4h-16zM572 444h12v4h-12zM596 444h4v4h-4zM404 448h16v4h-16zM588 448h8v4h-8zM664 448h4v4h-4zM404 452h16v4h-16zM404 456h20v4h-20zM660 456h4v4h-4zM408 460h16v4h-16zM408 464h20v4h-20zM408 468h20v4h-20zM408 472h24v4h-24zM596 472h4v4h-4zM408 476h24v4h-24zM592 476h4v4h-4zM828 476h32v4h-32zM408 480h28v4h-28zM820 480h4v4h-4zM408 484h28v4h-28zM408 488h28v4h-28zM584 488h4v4h-4zM412 492h24v4h-24zM416 496h20v4h-20zM820 496h4v4h-4zM420 500h16v4h-16zM428 504h4v4h-4zM476 504h4v4h-4zM824 504h4v4h-4zM880 504h4v4h-4zM828 508h4v4h-4zM260 516h4v4h-4zM832 516h4v4h-4zM268 520h4v4h-4zM836 520h4v4h-4zM840 524h4v4h-4zM844 528h4v4h-4zM492 532h8v4h-8zM848 532h4v4h-4zM880 532h4v4h-4zM484 536h4v4h-4zM504 536h4v4h-4zM560 536h4v4h-4zM852 536h4v4h-4zM480 540h4v4h-4zM544 540h4v4h-4zM556 540h4v4h-4zM856 540h4v4h-4zM480 544h4v4h-4zM516 544h4v4h-4zM536 544h4v4h-4zM472 548h4v4h-4zM852 604h4v4h-4zM620 676h8v4h-8zM616 680h4v4h-4zM696 736h4v4h-4z"/>
<path fill="#808080" d="M844 76h4v4h-4zM848 84h4v4h-4zM844 112h4v4h-4zM828 124h4v4h-4zM812 136h4v4h-4zM792 156h4v4h-4zM784 168h4v4h-4zM784 184h4v4h-4zM788 192h4v4h-4zM652 204h4v4h-4zM788 204h4v4h-4zM788 208h4v4h-4zM784 216h4v4h-4zM348 220h4v4h-4zM400 220h4v4h-4zM408 220h4v4h-4zM780 224h4v4h-4zM500 228h4v4h-4zM776 236h4v4h-4zM696 240h4v4h-4zM776 240h4v4h-4zM780 256h4v4h-4zM780 260h4v4h-4zM772 276h4v4h-4zM860 296h4v4h-4zM604 300h4v4h-4zM612 300h4v4h-4zM760 300h4v4h-4zM596 304h4v4h-4zM616 304h4v4h-4zM820 304h4v4h-4zM868 304h4v4h-4zM592 308h4v4h-4zM816 308h4v4h-4zM824 308h4v4h-4zM868 308h4v4h-4zM588 312h4v4h-4zM828 312h4v4h-4zM580 316h4v4h-4zM756 316h4v4h-4zM812 316h4v4h-4zM844 316h4v4h-4zM576 320h4v4h-4zM812 320h4v4h-4zM624 324h4v4h-4zM812 324h4v4h-4zM860 324h4v4h-4zM816 328h4v4h-4zM568 332h4v4h-4zM816 332h4v4h-4zM852 332h4v4h-4zM564 336h4v4h-4zM628 336h4v4h-4zM816 336h4v4h-4zM812 340h4v4h-4zM848 340h4v4h-4zM296 344h8v4h-8zM632 344h4v4h-4zM808 344h4v4h-4zM848 344h4v4h-4zM292 348h12v4h-12zM848 348h4v4h-4zM296 352h4v4h-4zM560 352h4v4h-4zM636 352h4v4h-4zM792 352h4v4h-4zM560 356h4v4h-4zM636 356h4v4h-4zM780 356h4v4h-4zM560 360h4v4h-4zM636 360h8v4h-8zM776 360h4v4h-4zM840 360h4v4h-4zM636 364h4v4h-4zM776 364h4v4h-4zM636 368h4v4h-4zM636 372h4v4h-4zM784 372h4v4h-4zM632 376h4v4h-4zM788 376h4v4h-4zM556 380h4v4h-4zM632 380h4v4h-4zM724 380h8v4h-8zM632 384h4v4h-4zM796 384h4v4h-4zM632 388h4v4h-4zM700 388h4v4h-4zM800 388h4v4h-4zM632 392h4v4h-4zM692 392h4v4h-4zM632 396h4v4h-4zM688 396h4v4h-4zM848 396h4v4h-4zM632 400h4v4h-4zM684 400h4v4h-4zM808 400h4v4h-4zM848 400h4v4h-4zM552 404h4v4h-4zM632 404h4v4h-4zM684 404h4v4h-4zM552 408h4v4h-4zM632 408h4v4h-4zM552 412h4v4h-4zM632 412h4v4h-4zM816 412h4v4h-4zM840 412h4v4h-4zM628 416h4v4h-4zM684 416h4v4h-4zM820 416h4v4h-4zM624 420h4v4h-4zM556 424h4v4h-4zM688 424h4v4h-4zM612 428h4v4h-4zM688 428h4v4h-4zM560 432h4v4h-4zM608 432h4v4h-4zM688 432h4v4h-4zM564 436h4v4h-4zM600 436h4v4h-4zM684 436h4v4h-4zM568 440h8v4h-8zM596 440h4v4h-4zM676 440h4v4h-4zM236 444h4v4h-4zM584 444h12v4h-12zM668 444h4v4h-4zM600 472h4v4h-4zM636 472h4v4h-4zM624 476h8v4h-8zM824 476h4v4h-4zM860 476h4v4h-4zM864 480h4v4h-4zM588 484h4v4h-4zM688 484h8v4h-8zM684 488h12v4h-12zM580 496h4v4h-4zM880 500h4v4h-4zM576 504h4v4h-4zM824 508h4v4h-4zM828 512h4v4h-4zM884 512h4v4h-4zM572 516h4v4h-4zM884 516h4v4h-4zM884 520h4v4h-4zM884 524h4v4h-4zM488 536h16v4h-16zM484 540h4v4h-4zM508 540h4v4h-4zM548 540h8v4h-8zM876 540h4v4h-4zM540 544h4v4h-4zM864 544h8v4h-8zM476 548h4v4h-4zM460 552h4v4h-4zM560 564h4v4h-4zM556 568h12v4h-12zM556 572h16v4h-16zM556 576h12v4h-12zM556 580h8v4h-8zM388 592h4v4h-4zM360 596h4v4h-4zM344 600h4v4h-4zM864 600h4v4h-4zM544 652h8v4h-8zM536 656h36v4h-36zM532 660h48v4h-48zM532 664h52v4h-52zM528 668h56v4h-56zM528 672h60v4h-60zM528 676h60v4h-60zM616 676h4v4h-4zM536 680h28v4h-28zM580 680h8v4h-8zM544 684h4v4h-4zM556 684h4v4h-4z"/>
<path fill="#828282" d="M848 80h4v4h-4zM852 92h4v4h-4zM852 96h4v4h-4zM852 100h4v4h-4zM848 108h4v4h-4zM840 116h4v4h-4zM824 128h4v4h-4zM796 152h4v4h-4zM788 188h4v4h-4zM496 200h4v4h-4zM792 200h4v4h-4zM852 204h28v4h-28zM848 208h56v4h-56zM788 212h4v4h-4zM848 212h64v4h-64zM852 216h56v4h-56zM784 220h4v4h-4zM860 220h48v4h-48zM420 224h4v4h-4zM872 224h36v4h-36zM780 228h4v4h-4zM880 228h24v4h-24zM504 232h4v4h-4zM888 232h16v4h-16zM892 236h16v4h-16zM892 240h20v4h-20zM312 244h4v4h-4zM892 244h20v4h-20zM780 248h4v4h-4zM888 248h28v4h-28zM780 252h4v4h-4zM888 252h32v4h-32zM888 256h36v4h-36zM884 260h44v4h-44zM780 264h4v4h-4zM884 264h52v4h-52zM880 268h60v4h-60zM776 272h4v4h-4zM880 272h64v4h-64zM880 276h68v4h-68zM880 280h72v4h-72zM880 284h76v4h-76zM880 288h80v4h-80zM880 292h80v4h-80zM260 296h4v4h-4zM856 296h4v4h-4zM864 296h8v4h-8zM888 296h76v4h-76zM608 300h4v4h-4zM700 300h4v4h-4zM852 300h4v4h-4zM868 300h8v4h-8zM900 300h64v4h-64zM600 304h4v4h-4zM816 304h4v4h-4zM824 304h4v4h-4zM872 304h4v4h-4zM912 304h48v4h-48zM596 308h4v4h-4zM764 308h4v4h-4zM848 308h4v4h-4zM920 308h32v4h-32zM812 312h4v4h-4zM260 316h4v4h-4zM584 316h4v4h-4zM620 316h4v4h-4zM832 316h4v4h-4zM580 320h4v4h-4zM576 324h4v4h-4zM572 328h4v4h-4zM624 328h4v4h-4zM812 328h4v4h-4zM860 328h4v4h-4zM856 332h4v4h-4zM852 336h4v4h-4zM564 340h4v4h-4zM628 340h4v4h-4zM852 340h4v4h-4zM632 348h4v4h-4zM800 348h4v4h-4zM260 352h4v4h-4zM632 352h4v4h-4zM788 352h4v4h-4zM632 356h4v4h-4zM844 356h4v4h-4zM560 364h4v4h-4zM632 364h4v4h-4zM560 368h4v4h-4zM632 368h4v4h-4zM748 368h4v4h-4zM776 368h4v4h-4zM632 372h4v4h-4zM780 372h4v4h-4zM248 376h4v4h-4zM784 376h4v4h-4zM748 380h4v4h-4zM792 380h4v4h-4zM556 384h4v4h-4zM712 384h4v4h-4zM556 388h4v4h-4zM704 388h4v4h-4zM696 392h4v4h-4zM800 392h4v4h-4zM844 392h4v4h-4zM804 396h4v4h-4zM628 400h4v4h-4zM688 400h4v4h-4zM628 404h4v4h-4zM848 404h4v4h-4zM628 408h4v4h-4zM684 408h4v4h-4zM812 408h4v4h-4zM628 412h4v4h-4zM684 412h4v4h-4zM556 416h4v4h-4zM624 416h4v4h-4zM836 416h4v4h-4zM556 420h4v4h-4zM620 420h4v4h-4zM688 420h4v4h-4zM616 424h4v4h-4zM560 428h4v4h-4zM608 428h4v4h-4zM564 432h4v4h-4zM604 432h4v4h-4zM568 436h8v4h-8zM592 436h8v4h-8zM576 440h20v4h-20zM840 472h12v4h-12zM596 476h4v4h-4zM616 476h8v4h-8zM632 476h4v4h-4zM592 480h4v4h-4zM684 484h4v4h-4zM696 484h4v4h-4zM816 484h4v4h-4zM680 488h4v4h-4zM696 488h4v4h-4zM816 488h4v4h-4zM584 492h4v4h-4zM684 492h12v4h-12zM816 492h4v4h-4zM876 496h4v4h-4zM820 500h4v4h-4zM820 504h4v4h-4zM884 508h4v4h-4zM828 516h4v4h-4zM832 520h4v4h-4zM568 524h4v4h-4zM836 524h4v4h-4zM840 528h4v4h-4zM884 528h4v4h-4zM844 532h4v4h-4zM268 536h4v4h-4zM848 536h4v4h-4zM880 536h4v4h-4zM488 540h8v4h-8zM504 540h4v4h-4zM560 540h4v4h-4zM484 544h4v4h-4zM512 544h4v4h-4zM544 544h16v4h-16zM860 544h4v4h-4zM872 544h4v4h-4zM480 548h4v4h-4zM524 548h12v4h-12zM464 552h8v4h-8zM560 552h8v4h-8zM560 556h16v4h-16zM560 560h20v4h-20zM556 564h4v4h-4zM564 564h20v4h-20zM568 568h16v4h-16zM572 572h8v4h-8zM568 576h12v4h-12zM564 580h12v4h-12zM556 584h16v4h-16zM552 588h16v4h-16zM852 600h4v4h-4zM540 644h36v4h-36zM540 648h40v4h-40zM536 652h8v4h-8zM552 652h32v4h-32zM572 656h16v4h-16zM580 660h8v4h-8zM528 664h4v4h-4zM584 664h8v4h-8zM584 668h8v4h-8zM524 672h4v4h-4zM588 672h4v4h-4zM620 672h8v4h-8zM520 676h8v4h-8zM588 676h4v4h-4zM628 676h4v4h-4zM520 680h8v4h-8zM532 680h4v4h-4zM564 680h4v4h-4zM576 680h4v4h-4zM588 680h4v4h-4zM612 680h4v4h-4zM540 684h4v4h-4zM548 684h4v4h-4zM560 684h4v4h-4zM584 684h8v4h-8zM688 736h4v4h-4z"/>
<path fill="#848484" d="M848 76h4v4h-4zM852 84h4v4h-4zM852 88h4v4h-4zM852 104h4v4h-4zM956 116h36v4h-36zM836 120h4v4h-4zM948 120h52v4h-52zM940 124h60v4h-60zM936 128h64v4h-64zM932 132h68v4h-68zM928 136h72v4h-72zM808 140h4v4h-4zM928 140h72v4h-72zM804 144h4v4h-4zM924 144h76v4h-76zM800 148h4v4h-4zM920 148h80v4h-80zM736 152h4v4h-4zM920 152h80v4h-80zM916 156h84v4h-84zM912 160h88v4h-88zM788 164h4v4h-4zM912 164h88v4h-88zM908 168h92v4h-92zM904 172h96v4h-96zM900 176h100v4h-100zM784 180h4v4h-4zM896 180h104v4h-104zM788 184h4v4h-4zM888 184h112v4h-112zM868 188h132v4h-132zM792 192h4v4h-4zM852 192h148v4h-148zM792 196h4v4h-4zM844 196h156v4h-156zM836 200h164v4h-164zM792 204h4v4h-4zM828 204h24v4h-24zM880 204h120v4h-120zM792 208h4v4h-4zM816 208h32v4h-32zM904 208h96v4h-96zM792 212h4v4h-4zM812 212h36v4h-36zM912 212h88v4h-88zM788 216h4v4h-4zM812 216h40v4h-40zM908 216h92v4h-92zM404 220h4v4h-4zM816 220h44v4h-44zM908 220h92v4h-92zM784 224h4v4h-4zM844 224h28v4h-28zM908 224h92v4h-92zM852 228h28v4h-28zM904 228h96v4h-96zM492 232h4v4h-4zM780 232h4v4h-4zM860 232h28v4h-28zM904 232h96v4h-96zM780 236h4v4h-4zM868 236h24v4h-24zM908 236h92v4h-92zM320 240h4v4h-4zM780 240h4v4h-4zM872 240h20v4h-20zM912 240h88v4h-88zM780 244h4v4h-4zM876 244h16v4h-16zM912 244h88v4h-88zM876 248h12v4h-12zM916 248h84v4h-84zM876 252h12v4h-12zM920 252h80v4h-80zM876 256h12v4h-12zM924 256h76v4h-76zM876 260h8v4h-8zM928 260h72v4h-72zM872 264h12v4h-12zM936 264h64v4h-64zM780 268h4v4h-4zM872 268h8v4h-8zM940 268h60v4h-60zM764 272h4v4h-4zM872 272h8v4h-8zM944 272h56v4h-56zM776 276h4v4h-4zM872 276h8v4h-8zM948 276h52v4h-52zM772 280h4v4h-4zM868 280h12v4h-12zM952 280h48v4h-48zM868 284h12v4h-12zM956 284h44v4h-44zM864 288h16v4h-16zM960 288h40v4h-40zM856 292h24v4h-24zM960 292h40v4h-40zM852 296h4v4h-4zM872 296h16v4h-16zM964 296h36v4h-36zM820 300h8v4h-8zM876 300h24v4h-24zM964 300h36v4h-36zM612 304h4v4h-4zM876 304h36v4h-36zM960 304h40v4h-40zM616 308h4v4h-4zM812 308h4v4h-4zM828 308h4v4h-4zM872 308h4v4h-4zM896 308h24v4h-24zM952 308h48v4h-48zM592 312h4v4h-4zM844 312h4v4h-4zM868 312h4v4h-4zM904 312h96v4h-96zM588 316h4v4h-4zM752 316h4v4h-4zM808 316h4v4h-4zM836 316h8v4h-8zM864 316h4v4h-4zM908 316h92v4h-92zM584 320h4v4h-4zM620 320h4v4h-4zM808 320h4v4h-4zM916 320h84v4h-84zM808 324h4v4h-4zM920 324h80v4h-80zM924 328h76v4h-76zM624 332h4v4h-4zM812 332h4v4h-4zM860 332h4v4h-4zM924 332h76v4h-76zM568 336h4v4h-4zM812 336h4v4h-4zM856 336h4v4h-4zM928 336h68v4h-68zM928 340h64v4h-64zM564 344h4v4h-4zM628 344h4v4h-4zM852 344h4v4h-4zM928 344h64v4h-64zM268 348h4v4h-4zM564 348h4v4h-4zM852 348h4v4h-4zM932 348h56v4h-56zM564 352h4v4h-4zM848 352h4v4h-4zM932 352h52v4h-52zM932 356h52v4h-52zM632 360h4v4h-4zM932 360h48v4h-48zM932 364h44v4h-44zM628 368h4v4h-4zM772 368h4v4h-4zM936 368h36v4h-36zM560 372h4v4h-4zM628 372h4v4h-4zM776 372h4v4h-4zM628 376h4v4h-4zM780 376h4v4h-4zM628 380h4v4h-4zM788 380h4v4h-4zM628 384h4v4h-4zM716 384h4v4h-4zM792 384h4v4h-4zM628 388h4v4h-4zM796 388h4v4h-4zM556 392h4v4h-4zM628 392h4v4h-4zM700 392h4v4h-4zM556 396h4v4h-4zM628 396h4v4h-4zM692 396h4v4h-4zM556 400h4v4h-4zM804 400h4v4h-4zM556 404h4v4h-4zM688 404h4v4h-4zM808 404h4v4h-4zM556 408h4v4h-4zM624 408h4v4h-4zM688 408h4v4h-4zM556 412h4v4h-4zM624 412h4v4h-4zM688 412h4v4h-4zM812 412h4v4h-4zM620 416h4v4h-4zM688 416h4v4h-4zM816 416h4v4h-4zM560 420h4v4h-4zM616 420h4v4h-4zM820 420h12v4h-12zM560 424h4v4h-4zM612 424h4v4h-4zM692 424h4v4h-4zM564 428h8v4h-8zM604 428h4v4h-4zM692 428h4v4h-4zM568 432h8v4h-8zM592 432h12v4h-12zM576 436h16v4h-16zM688 436h4v4h-4zM680 440h4v4h-4zM828 472h12v4h-12zM852 472h8v4h-8zM612 476h4v4h-4zM820 476h4v4h-4zM864 476h4v4h-4zM692 480h4v4h-4zM588 488h4v4h-4zM868 488h4v4h-4zM680 492h4v4h-4zM816 496h4v4h-4zM884 504h4v4h-4zM820 508h4v4h-4zM824 512h4v4h-4zM832 524h4v4h-4zM564 532h4v4h-4zM884 532h4v4h-4zM564 536h4v4h-4zM496 540h8v4h-8zM564 540h8v4h-8zM584 540h4v4h-4zM852 540h4v4h-4zM488 544h4v4h-4zM508 544h4v4h-4zM560 544h36v4h-36zM856 544h4v4h-4zM520 548h4v4h-4zM536 548h60v4h-60zM472 552h4v4h-4zM568 552h32v4h-32zM576 556h24v4h-24zM556 560h4v4h-4zM580 560h16v4h-16zM584 564h12v4h-12zM584 568h8v4h-8zM580 572h8v4h-8zM580 576h8v4h-8zM576 580h8v4h-8zM572 584h8v4h-8zM568 588h8v4h-8zM552 592h20v4h-20zM556 596h12v4h-12zM860 596h4v4h-4zM552 632h8v4h-8zM544 636h32v4h-32zM540 640h44v4h-44zM576 644h12v4h-12zM580 648h8v4h-8zM584 652h8v4h-8zM588 656h4v4h-4zM588 660h8v4h-8zM592 664h4v4h-4zM592 668h4v4h-4zM592 672h4v4h-4zM616 672h4v4h-4zM592 676h4v4h-4zM612 676h4v4h-4zM516 680h4v4h-4zM528 680h4v4h-4zM568 680h8v4h-8zM592 680h4v4h-4zM628 680h4v4h-4zM516 684h4v4h-4zM552 684h4v4h-4zM580 684h4v4h-4z"/>
<path fill="#868686" d="M852 80h4v4h-4zM856 92h4v4h-4zM856 96h4v4h-4zM972 96h28v4h-28zM856 100h4v4h-4zM932 100h68v4h-68zM924 104h76v4h-76zM852 108h4v4h-4zM920 108h80v4h-80zM848 112h4v4h-4zM916 112h84v4h-84zM844 116h4v4h-4zM916 116h40v4h-40zM992 116h8v4h-8zM912 120h36v4h-36zM832 124h4v4h-4zM912 124h28v4h-28zM908 128h28v4h-28zM820 132h4v4h-4zM908 132h24v4h-24zM908 136h20v4h-20zM904 140h24v4h-24zM904 144h20v4h-20zM900 148h20v4h-20zM896 152h24v4h-24zM896 156h20v4h-20zM892 160h20v4h-20zM888 164h24v4h-24zM888 168h20v4h-20zM784 172h4v4h-4zM880 172h24v4h-24zM784 176h4v4h-4zM876 176h24v4h-24zM864 180h32v4h-32zM856 184h32v4h-32zM732 188h4v4h-4zM792 188h4v4h-4zM848 188h20v4h-20zM840 192h12v4h-12zM540 196h4v4h-4zM796 196h4v4h-4zM836 196h8v4h-8zM796 200h4v4h-4zM824 200h12v4h-12zM660 204h4v4h-4zM796 204h4v4h-4zM812 204h16v4h-16zM796 208h20v4h-20zM796 212h16v4h-16zM792 216h20v4h-20zM788 220h4v4h-4zM804 220h12v4h-12zM808 224h36v4h-36zM784 228h4v4h-4zM812 228h40v4h-40zM820 232h4v4h-4zM844 232h16v4h-16zM472 236h4v4h-4zM852 236h16v4h-16zM860 240h12v4h-12zM864 244h12v4h-12zM868 248h8v4h-8zM784 252h4v4h-4zM868 252h8v4h-8zM784 256h4v4h-4zM868 256h8v4h-8zM784 260h4v4h-4zM868 260h8v4h-8zM868 264h4v4h-4zM864 268h8v4h-8zM780 272h4v4h-4zM864 272h8v4h-8zM864 276h8v4h-8zM860 280h8v4h-8zM860 284h8v4h-8zM856 288h8v4h-8zM824 292h4v4h-4zM852 292h4v4h-4zM820 296h8v4h-8zM816 300h4v4h-4zM828 300h4v4h-4zM604 304h8v4h-8zM764 304h4v4h-4zM812 304h4v4h-4zM828 304h4v4h-4zM848 304h4v4h-4zM600 308h4v4h-4zM876 308h20v4h-20zM596 312h4v4h-4zM616 312h4v4h-4zM808 312h4v4h-4zM832 312h4v4h-4zM884 312h20v4h-20zM592 316h4v4h-4zM892 316h16v4h-16zM900 320h16v4h-16zM580 324h4v4h-4zM620 324h4v4h-4zM904 324h16v4h-16zM576 328h4v4h-4zM808 328h4v4h-4zM908 328h16v4h-16zM264 332h4v4h-4zM572 332h4v4h-4zM908 332h16v4h-16zM268 336h4v4h-4zM624 336h4v4h-4zM912 336h16v4h-16zM996 336h4v4h-4zM568 340h4v4h-4zM624 340h4v4h-4zM808 340h4v4h-4zM856 340h4v4h-4zM912 340h16v4h-16zM992 340h8v4h-8zM804 344h4v4h-4zM912 344h16v4h-16zM992 344h8v4h-8zM628 348h4v4h-4zM796 348h4v4h-4zM912 348h20v4h-20zM988 348h12v4h-12zM628 352h4v4h-4zM780 352h8v4h-8zM912 352h20v4h-20zM984 352h16v4h-16zM564 356h4v4h-4zM628 356h4v4h-4zM912 356h20v4h-20zM984 356h16v4h-16zM564 360h4v4h-4zM628 360h4v4h-4zM912 360h20v4h-20zM980 360h20v4h-20zM628 364h4v4h-4zM912 364h20v4h-20zM976 364h24v4h-24zM916 368h20v4h-20zM972 368h28v4h-28zM624 372h4v4h-4zM768 372h8v4h-8zM920 372h72v4h-72zM560 376h4v4h-4zM624 376h4v4h-4zM776 376h4v4h-4zM928 376h60v4h-60zM560 380h4v4h-4zM624 380h4v4h-4zM752 380h4v4h-4zM780 380h8v4h-8zM948 380h28v4h-28zM624 384h4v4h-4zM784 384h8v4h-8zM248 388h4v4h-4zM624 388h4v4h-4zM708 388h4v4h-4zM792 388h4v4h-4zM624 392h4v4h-4zM796 392h4v4h-4zM624 396h4v4h-4zM696 396h4v4h-4zM800 396h4v4h-4zM624 400h4v4h-4zM692 400h4v4h-4zM624 404h4v4h-4zM804 404h4v4h-4zM240 408h4v4h-4zM808 408h4v4h-4zM848 408h4v4h-4zM620 412h4v4h-4zM844 412h4v4h-4zM560 416h4v4h-4zM616 416h4v4h-4zM564 420h4v4h-4zM612 420h4v4h-4zM692 420h4v4h-4zM832 420h4v4h-4zM564 424h8v4h-8zM608 424h4v4h-4zM572 428h4v4h-4zM596 428h8v4h-8zM576 432h16v4h-16zM684 440h4v4h-4zM672 444h4v4h-4zM664 452h4v4h-4zM832 468h8v4h-8zM824 472h4v4h-4zM600 476h4v4h-4zM608 476h4v4h-4zM596 480h4v4h-4zM688 480h4v4h-4zM696 480h4v4h-4zM816 480h4v4h-4zM592 484h4v4h-4zM680 484h4v4h-4zM700 484h4v4h-4zM676 488h4v4h-4zM700 488h4v4h-4zM812 488h4v4h-4zM676 492h4v4h-4zM696 492h4v4h-4zM812 492h4v4h-4zM584 496h4v4h-4zM684 496h12v4h-12zM880 496h4v4h-4zM580 500h4v4h-4zM816 500h4v4h-4zM884 500h4v4h-4zM816 504h4v4h-4zM820 512h4v4h-4zM888 512h4v4h-4zM824 516h4v4h-4zM888 516h4v4h-4zM828 520h4v4h-4zM888 520h4v4h-4zM588 524h12v4h-12zM888 524h4v4h-4zM588 528h16v4h-16zM836 528h4v4h-4zM588 532h20v4h-20zM840 532h4v4h-4zM584 536h24v4h-24zM844 536h4v4h-4zM884 536h4v4h-4zM572 540h12v4h-12zM588 540h20v4h-20zM880 540h4v4h-4zM492 544h16v4h-16zM596 544h12v4h-12zM876 544h4v4h-4zM484 548h4v4h-4zM516 548h4v4h-4zM596 548h12v4h-12zM864 548h8v4h-8zM476 552h4v4h-4zM556 552h4v4h-4zM600 552h8v4h-8zM556 556h4v4h-4zM600 556h8v4h-8zM596 560h12v4h-12zM596 564h8v4h-8zM592 568h12v4h-12zM588 572h12v4h-12zM588 576h8v4h-8zM584 580h4v4h-4zM552 584h4v4h-4zM580 584h4v4h-4zM576 588h4v4h-4zM572 592h8v4h-8zM364 596h4v4h-4zM568 596h8v4h-8zM856 596h4v4h-4zM560 600h12v4h-12zM560 604h8v4h-8zM548 624h16v4h-16zM544 628h28v4h-28zM540 632h12v4h-12zM560 632h20v4h-20zM540 636h4v4h-4zM576 636h12v4h-12zM584 640h8v4h-8zM588 644h4v4h-4zM536 648h4v4h-4zM588 648h8v4h-8zM592 652h4v4h-4zM532 656h4v4h-4zM592 656h4v4h-4zM596 660h4v4h-4zM596 664h4v4h-4zM596 668h4v4h-4zM596 672h4v4h-4zM628 672h4v4h-4zM596 676h4v4h-4zM596 680h4v4h-4zM608 680h4v4h-4zM512 684h4v4h-4zM592 684h4v4h-4zM624 684h4v4h-4zM900 732h8v4h-8zM900 736h12v4h-12zM896 740h20v4h-20zM896 744h24v4h-24zM892 748h32v4h-32zM892 752h36v4h-36zM888 756h84v4h-84zM888 760h88v4h-88zM888 764h88v4h-88zM888 768h84v4h-84z"/>
<path fill="#888888" d="M852 76h4v4h-4zM856 84h4v4h-4zM912 84h16v4h-16zM856 88h4v4h-4zM908 88h36v4h-36zM984 88h16v4h-16zM904 92h96v4h-96zM904 96h68v4h-68zM904 100h28v4h-28zM856 104h4v4h-4zM904 104h20v4h-20zM904 108h16v4h-16zM900 112h16v4h-16zM900 116h16v4h-16zM900 120h12v4h-12zM756 124h4v4h-4zM900 124h12v4h-12zM900 128h8v4h-8zM896 132h12v4h-12zM816 136h4v4h-4zM896 136h12v4h-12zM740 140h4v4h-4zM896 140h8v4h-8zM892 144h12v4h-12zM888 148h12v4h-12zM888 152h8v4h-8zM884 156h12v4h-12zM792 160h4v4h-4zM880 160h12v4h-12zM876 164h12v4h-12zM872 168h16v4h-16zM868 172h12v4h-12zM860 176h16v4h-16zM852 180h12v4h-12zM732 184h4v4h-4zM792 184h4v4h-4zM848 184h8v4h-8zM840 188h8v4h-8zM796 192h4v4h-4zM836 192h4v4h-4zM824 196h12v4h-12zM800 200h24v4h-24zM468 204h4v4h-4zM800 204h12v4h-12zM792 220h12v4h-12zM788 224h20v4h-20zM484 228h4v4h-4zM788 228h4v4h-4zM800 228h12v4h-12zM784 232h4v4h-4zM804 232h16v4h-16zM824 232h20v4h-20zM784 236h4v4h-4zM808 236h44v4h-44zM784 240h4v4h-4zM844 240h16v4h-16zM784 244h4v4h-4zM852 244h12v4h-12zM784 248h4v4h-4zM856 248h12v4h-12zM856 252h12v4h-12zM860 256h8v4h-8zM696 260h4v4h-4zM860 260h8v4h-8zM692 264h4v4h-4zM784 264h4v4h-4zM856 264h12v4h-12zM784 268h4v4h-4zM856 268h8v4h-8zM856 272h8v4h-8zM856 276h8v4h-8zM264 280h4v4h-4zM776 280h4v4h-4zM852 280h8v4h-8zM824 284h8v4h-8zM852 284h8v4h-8zM820 288h12v4h-12zM852 288h4v4h-4zM820 292h4v4h-4zM828 292h4v4h-4zM816 296h4v4h-4zM828 296h4v4h-4zM848 300h4v4h-4zM604 308h4v4h-4zM612 308h4v4h-4zM808 308h4v4h-4zM832 308h4v4h-4zM880 312h4v4h-4zM616 316h4v4h-4zM804 316h4v4h-4zM884 316h8v4h-8zM588 320h4v4h-4zM804 320h4v4h-4zM888 320h12v4h-12zM584 324h4v4h-4zM892 324h12v4h-12zM620 328h4v4h-4zM896 328h12v4h-12zM620 332h4v4h-4zM808 332h4v4h-4zM864 332h4v4h-4zM896 332h12v4h-12zM572 336h4v4h-4zM808 336h4v4h-4zM860 336h4v4h-4zM900 336h12v4h-12zM860 340h4v4h-4zM900 340h12v4h-12zM568 344h4v4h-4zM624 344h4v4h-4zM856 344h4v4h-4zM900 344h12v4h-12zM792 348h4v4h-4zM856 348h4v4h-4zM900 348h12v4h-12zM852 352h4v4h-4zM900 352h12v4h-12zM848 356h4v4h-4zM900 356h12v4h-12zM900 360h12v4h-12zM564 364h4v4h-4zM624 364h4v4h-4zM772 364h4v4h-4zM840 364h4v4h-4zM904 364h8v4h-8zM564 368h4v4h-4zM624 368h4v4h-4zM908 368h8v4h-8zM248 372h4v4h-4zM912 372h8v4h-8zM992 372h8v4h-8zM620 376h4v4h-4zM756 376h4v4h-4zM764 376h12v4h-12zM920 376h8v4h-8zM988 376h12v4h-12zM620 380h4v4h-4zM756 380h4v4h-4zM776 380h4v4h-4zM928 380h20v4h-20zM976 380h24v4h-24zM560 384h4v4h-4zM620 384h4v4h-4zM720 384h4v4h-4zM780 384h4v4h-4zM952 384h48v4h-48zM560 388h4v4h-4zM620 388h4v4h-4zM712 388h4v4h-4zM784 388h8v4h-8zM560 392h4v4h-4zM620 392h4v4h-4zM704 392h4v4h-4zM788 392h8v4h-8zM620 396h4v4h-4zM792 396h8v4h-8zM620 400h4v4h-4zM800 400h4v4h-4zM620 404h4v4h-4zM692 404h4v4h-4zM560 408h4v4h-4zM620 408h4v4h-4zM692 408h4v4h-4zM560 412h4v4h-4zM616 412h4v4h-4zM692 412h4v4h-4zM808 412h4v4h-4zM564 416h4v4h-4zM612 416h4v4h-4zM692 416h4v4h-4zM812 416h4v4h-4zM840 416h4v4h-4zM568 420h4v4h-4zM608 420h4v4h-4zM816 420h4v4h-4zM572 424h4v4h-4zM600 424h8v4h-8zM576 428h20v4h-20zM692 432h4v4h-4zM668 448h4v4h-4zM820 464h12v4h-12zM816 468h16v4h-16zM840 468h12v4h-12zM640 472h4v4h-4zM812 472h12v4h-12zM860 472h4v4h-4zM604 476h4v4h-4zM636 476h4v4h-4zM812 476h8v4h-8zM620 480h16v4h-16zM684 480h4v4h-4zM700 480h4v4h-4zM808 480h8v4h-8zM808 484h8v4h-8zM868 484h4v4h-4zM808 488h4v4h-4zM588 492h4v4h-4zM700 492h4v4h-4zM808 492h4v4h-4zM872 492h4v4h-4zM680 496h4v4h-4zM696 496h4v4h-4zM812 496h4v4h-4zM584 500h4v4h-4zM756 500h12v4h-12zM812 500h4v4h-4zM752 504h16v4h-16zM812 504h4v4h-4zM752 508h12v4h-12zM816 508h4v4h-4zM888 508h4v4h-4zM592 516h8v4h-8zM820 516h4v4h-4zM584 520h24v4h-24zM824 520h4v4h-4zM584 524h4v4h-4zM600 524h12v4h-12zM828 524h4v4h-4zM604 528h12v4h-12zM832 528h4v4h-4zM888 528h4v4h-4zM608 532h8v4h-8zM836 532h4v4h-4zM568 536h4v4h-4zM608 536h8v4h-8zM608 540h8v4h-8zM848 540h4v4h-4zM608 544h8v4h-8zM852 544h4v4h-4zM488 548h4v4h-4zM512 548h4v4h-4zM608 548h8v4h-8zM860 548h4v4h-4zM872 548h4v4h-4zM480 552h4v4h-4zM536 552h20v4h-20zM608 552h8v4h-8zM608 556h8v4h-8zM608 560h4v4h-4zM284 564h4v4h-4zM604 564h8v4h-8zM604 568h4v4h-4zM600 572h8v4h-8zM596 576h8v4h-8zM428 580h4v4h-4zM588 580h8v4h-8zM404 584h4v4h-4zM584 584h8v4h-8zM580 588h4v4h-4zM580 592h4v4h-4zM552 596h4v4h-4zM576 596h4v4h-4zM572 600h8v4h-8zM568 604h8v4h-8zM560 608h12v4h-12zM560 612h12v4h-12zM552 616h20v4h-20zM544 620h28v4h-28zM544 624h4v4h-4zM564 624h12v4h-12zM572 628h16v4h-16zM580 632h12v4h-12zM588 636h4v4h-4zM592 640h4v4h-4zM592 644h4v4h-4zM596 648h4v4h-4zM596 652h4v4h-4zM596 656h4v4h-4zM600 664h4v4h-4zM600 668h4v4h-4zM620 668h8v4h-8zM600 672h4v4h-4zM612 672h4v4h-4zM600 676h12v4h-12zM600 680h8v4h-8zM536 684h4v4h-4zM904 700h4v4h-4zM896 704h16v4h-16zM896 708h20v4h-20zM892 712h24v4h-24zM892 716h28v4h-28zM820 720h12v4h-12zM888 720h32v4h-32zM812 724h24v4h-24zM888 724h32v4h-32zM812 728h28v4h-28zM884 728h36v4h-36zM808 732h32v4h-32zM884 732h16v4h-16zM908 732h16v4h-16zM808 736h32v4h-32zM884 736h16v4h-16zM912 736h12v4h-12zM688 740h4v4h-4zM804 740h40v4h-40zM880 740h16v4h-16zM916 740h12v4h-12zM804 744h40v4h-40zM880 744h16v4h-16zM920 744h12v4h-12zM804 748h40v4h-40zM876 748h16v4h-16zM924 748h56v4h-56zM800 752h44v4h-44zM876 752h16v4h-16zM928 752h60v4h-60zM800 756h44v4h-44zM872 756h16v4h-16zM972 756h16v4h-16zM800 760h44v4h-44zM872 760h16v4h-16zM976 760h12v4h-12zM800 764h44v4h-44zM872 764h16v4h-16zM976 764h12v4h-12zM804 768h40v4h-40zM868 768h20v4h-20zM972 768h12v4h-12z"/>
<path fill="#8a8a8a" d="M856 76h4v4h-4zM888 76h52v4h-52zM996 76h4v4h-4zM856 80h4v4h-4zM888 80h56v4h-56zM988 80h12v4h-12zM888 84h24v4h-24zM928 84h28v4h-28zM976 84h24v4h-24zM860 88h4v4h-4zM888 88h20v4h-20zM944 88h40v4h-40zM860 92h4v4h-4zM888 92h16v4h-16zM860 96h4v4h-4zM888 96h16v4h-16zM860 100h4v4h-4zM892 100h12v4h-12zM892 104h12v4h-12zM856 108h4v4h-4zM892 108h12v4h-12zM768 112h4v4h-4zM852 112h4v4h-4zM892 112h8v4h-8zM892 116h8v4h-8zM840 120h4v4h-4zM892 120h8v4h-8zM892 124h8v4h-8zM828 128h4v4h-4zM892 128h8v4h-8zM888 132h8v4h-8zM888 136h8v4h-8zM812 140h4v4h-4zM888 140h8v4h-8zM884 144h8v4h-8zM884 148h4v4h-4zM880 152h8v4h-8zM796 156h4v4h-4zM876 156h8v4h-8zM872 160h8v4h-8zM868 164h8v4h-8zM864 168h8v4h-8zM856 172h12v4h-12zM852 176h8v4h-8zM788 180h4v4h-4zM848 180h4v4h-4zM840 184h8v4h-8zM796 188h4v4h-4zM836 188h4v4h-4zM476 192h4v4h-4zM588 192h4v4h-4zM828 192h8v4h-8zM564 196h4v4h-4zM800 196h8v4h-8zM816 196h8v4h-8zM484 204h4v4h-4zM496 204h4v4h-4zM424 224h4v4h-4zM496 224h4v4h-4zM680 224h4v4h-4zM336 228h4v4h-4zM792 228h8v4h-8zM788 232h16v4h-16zM788 236h4v4h-4zM796 236h12v4h-12zM788 240h4v4h-4zM804 240h40v4h-40zM788 244h4v4h-4zM812 244h40v4h-40zM788 248h4v4h-4zM820 248h36v4h-36zM788 252h4v4h-4zM840 252h16v4h-16zM788 256h4v4h-4zM844 256h16v4h-16zM788 260h4v4h-4zM844 260h16v4h-16zM276 264h4v4h-4zM840 264h16v4h-16zM824 268h32v4h-32zM820 272h36v4h-36zM780 276h4v4h-4zM816 276h40v4h-40zM816 280h36v4h-36zM772 284h4v4h-4zM816 284h8v4h-8zM832 284h20v4h-20zM816 288h4v4h-4zM832 288h20v4h-20zM816 292h4v4h-4zM832 292h4v4h-4zM848 292h4v4h-4zM832 296h4v4h-4zM848 296h4v4h-4zM748 300h4v4h-4zM812 300h4v4h-4zM608 308h4v4h-4zM844 308h4v4h-4zM600 312h4v4h-4zM612 312h4v4h-4zM712 312h4v4h-4zM764 312h4v4h-4zM804 312h4v4h-4zM836 312h8v4h-8zM872 312h8v4h-8zM596 316h4v4h-4zM760 316h4v4h-4zM592 320h4v4h-4zM616 320h4v4h-4zM884 320h4v4h-4zM804 324h4v4h-4zM888 324h4v4h-4zM580 328h4v4h-4zM884 328h12v4h-12zM576 332h4v4h-4zM884 332h12v4h-12zM620 336h4v4h-4zM864 336h8v4h-8zM880 336h20v4h-20zM572 340h4v4h-4zM804 340h4v4h-4zM864 340h8v4h-8zM880 340h20v4h-20zM800 344h4v4h-4zM860 344h8v4h-8zM884 344h16v4h-16zM568 348h4v4h-4zM624 348h4v4h-4zM860 348h8v4h-8zM884 348h16v4h-16zM568 352h4v4h-4zM856 352h8v4h-8zM888 352h12v4h-12zM568 356h4v4h-4zM776 356h4v4h-4zM888 356h12v4h-12zM624 360h4v4h-4zM844 360h4v4h-4zM892 360h8v4h-8zM896 364h8v4h-8zM900 368h8v4h-8zM564 372h4v4h-4zM620 372h4v4h-4zM752 372h4v4h-4zM904 372h8v4h-8zM564 376h4v4h-4zM760 376h4v4h-4zM912 376h8v4h-8zM616 380h4v4h-4zM760 380h4v4h-4zM768 380h8v4h-8zM920 380h8v4h-8zM616 384h4v4h-4zM724 384h28v4h-28zM772 384h8v4h-8zM932 384h20v4h-20zM616 388h4v4h-4zM776 388h8v4h-8zM964 388h36v4h-36zM616 392h4v4h-4zM780 392h8v4h-8zM984 392h16v4h-16zM560 396h4v4h-4zM616 396h4v4h-4zM700 396h4v4h-4zM784 396h8v4h-8zM992 396h8v4h-8zM560 400h4v4h-4zM616 400h4v4h-4zM696 400h4v4h-4zM792 400h8v4h-8zM560 404h4v4h-4zM616 404h4v4h-4zM796 404h8v4h-8zM616 408h4v4h-4zM800 408h8v4h-8zM564 412h4v4h-4zM612 412h4v4h-4zM804 412h4v4h-4zM568 416h4v4h-4zM608 416h4v4h-4zM808 416h4v4h-4zM572 420h4v4h-4zM604 420h4v4h-4zM812 420h4v4h-4zM836 420h4v4h-4zM576 424h24v4h-24zM696 424h4v4h-4zM820 424h8v4h-8zM688 440h4v4h-4zM676 444h4v4h-4zM812 456h16v4h-16zM808 460h24v4h-24zM656 464h4v4h-4zM808 464h12v4h-12zM832 464h8v4h-8zM652 468h4v4h-4zM804 468h12v4h-12zM852 468h4v4h-4zM804 472h8v4h-8zM864 472h4v4h-4zM800 476h12v4h-12zM868 476h4v4h-4zM600 480h4v4h-4zM616 480h4v4h-4zM704 480h4v4h-4zM800 480h8v4h-8zM868 480h4v4h-4zM240 484h4v4h-4zM596 484h4v4h-4zM676 484h4v4h-4zM704 484h4v4h-4zM800 484h8v4h-8zM592 488h4v4h-4zM704 488h4v4h-4zM796 488h12v4h-12zM672 492h4v4h-4zM704 492h4v4h-4zM756 492h24v4h-24zM796 492h12v4h-12zM588 496h4v4h-4zM676 496h4v4h-4zM700 496h4v4h-4zM752 496h36v4h-36zM800 496h12v4h-12zM884 496h4v4h-4zM684 500h8v4h-8zM748 500h8v4h-8zM768 500h20v4h-20zM804 500h8v4h-8zM744 504h8v4h-8zM768 504h20v4h-20zM808 504h4v4h-4zM888 504h4v4h-4zM740 508h12v4h-12zM764 508h20v4h-20zM812 508h4v4h-4zM592 512h12v4h-12zM740 512h44v4h-44zM812 512h8v4h-8zM588 516h4v4h-4zM600 516h16v4h-16zM740 516h40v4h-40zM816 516h4v4h-4zM572 520h4v4h-4zM608 520h12v4h-12zM740 520h36v4h-36zM820 520h4v4h-4zM612 524h8v4h-8zM744 524h28v4h-28zM824 524h4v4h-4zM616 528h4v4h-4zM748 528h16v4h-16zM828 528h4v4h-4zM584 532h4v4h-4zM616 532h4v4h-4zM832 532h4v4h-4zM888 532h4v4h-4zM616 536h4v4h-4zM836 536h8v4h-8zM616 540h4v4h-4zM844 540h4v4h-4zM884 540h4v4h-4zM616 544h4v4h-4zM880 544h4v4h-4zM492 548h20v4h-20zM616 548h4v4h-4zM876 548h4v4h-4zM484 552h4v4h-4zM524 552h12v4h-12zM616 552h4v4h-4zM456 556h12v4h-12zM616 556h4v4h-4zM612 560h8v4h-8zM612 564h4v4h-4zM608 568h8v4h-8zM608 572h4v4h-4zM604 576h8v4h-8zM296 580h4v4h-4zM596 580h12v4h-12zM592 584h8v4h-8zM584 588h8v4h-8zM584 592h4v4h-4zM580 596h4v4h-4zM348 600h4v4h-4zM556 600h4v4h-4zM580 600h4v4h-4zM576 604h4v4h-4zM572 608h8v4h-8zM556 612h4v4h-4zM572 612h8v4h-8zM544 616h8v4h-8zM572 616h8v4h-8zM572 620h16v4h-16zM576 624h20v4h-20zM588 628h12v4h-12zM592 632h8v4h-8zM592 636h8v4h-8zM596 640h4v4h-4zM596 644h4v4h-4zM600 648h4v4h-4zM600 652h4v4h-4zM600 656h4v4h-4zM600 660h4v4h-4zM604 664h4v4h-4zM604 668h4v4h-4zM612 668h8v4h-8zM628 668h4v4h-4zM604 672h8v4h-8zM632 672h4v4h-4zM524 684h4v4h-4zM564 684h4v4h-4zM896 684h8v4h-8zM892 688h20v4h-20zM888 692h28v4h-28zM888 696h32v4h-32zM884 700h20v4h-20zM908 700h12v4h-12zM824 704h12v4h-12zM884 704h12v4h-12zM912 704h12v4h-12zM816 708h24v4h-24zM880 708h16v4h-16zM916 708h8v4h-8zM812 712h32v4h-32zM880 712h12v4h-12zM916 712h12v4h-12zM808 716h40v4h-40zM876 716h16v4h-16zM920 716h8v4h-8zM804 720h16v4h-16zM832 720h20v4h-20zM876 720h12v4h-12zM920 720h8v4h-8zM804 724h8v4h-8zM836 724h16v4h-16zM872 724h16v4h-16zM920 724h8v4h-8zM800 728h12v4h-12zM840 728h16v4h-16zM872 728h12v4h-12zM920 728h12v4h-12zM800 732h8v4h-8zM840 732h20v4h-20zM864 732h20v4h-20zM924 732h8v4h-8zM796 736h12v4h-12zM840 736h44v4h-44zM924 736h12v4h-12zM796 740h8v4h-8zM844 740h36v4h-36zM928 740h28v4h-28zM692 744h4v4h-4zM796 744h8v4h-8zM844 744h36v4h-36zM932 744h60v4h-60zM796 748h8v4h-8zM844 748h32v4h-32zM980 748h20v4h-20zM796 752h4v4h-4zM844 752h32v4h-32zM988 752h12v4h-12zM792 756h8v4h-8zM844 756h28v4h-28zM988 756h12v4h-12zM792 760h8v4h-8zM844 760h28v4h-28zM988 760h12v4h-12zM796 764h4v4h-4zM844 764h28v4h-28zM988 764h8v4h-8zM796 768h8v4h-8zM844 768h24v4h-24zM984 768h12v4h-12z"/>
<path fill="#8c8c8c" d="M860 76h28v4h-28zM940 76h12v4h-12zM980 76h16v4h-16zM860 80h28v4h-28zM944 80h44v4h-44zM860 84h28v4h-28zM956 84h20v4h-20zM864 88h24v4h-24zM864 92h24v4h-24zM864 96h4v4h-4zM876 96h12v4h-12zM864 100h4v4h-4zM880 100h12v4h-12zM860 104h4v4h-4zM884 104h8v4h-8zM888 108h4v4h-4zM888 112h4v4h-4zM848 116h4v4h-4zM888 116h4v4h-4zM884 120h8v4h-8zM884 124h8v4h-8zM884 128h8v4h-8zM884 132h4v4h-4zM880 136h8v4h-8zM880 140h8v4h-8zM808 144h4v4h-4zM880 144h4v4h-4zM876 148h8v4h-8zM800 152h4v4h-4zM872 152h8v4h-8zM868 156h8v4h-8zM864 160h8v4h-8zM860 164h8v4h-8zM788 168h4v4h-4zM856 168h8v4h-8zM852 172h4v4h-4zM848 176h4v4h-4zM840 180h8v4h-8zM796 184h4v4h-4zM836 184h4v4h-4zM800 188h4v4h-4zM832 188h4v4h-4zM480 192h4v4h-4zM584 192h4v4h-4zM800 192h8v4h-8zM820 192h8v4h-8zM524 196h4v4h-4zM808 196h8v4h-8zM464 200h4v4h-4zM488 200h4v4h-4zM740 216h4v4h-4zM496 236h4v4h-4zM792 236h4v4h-4zM792 240h12v4h-12zM792 244h20v4h-20zM300 248h4v4h-4zM760 248h4v4h-4zM792 248h4v4h-4zM804 248h16v4h-16zM792 252h4v4h-4zM812 252h28v4h-28zM812 256h32v4h-32zM816 260h28v4h-28zM788 264h4v4h-4zM812 264h28v4h-28zM788 268h4v4h-4zM812 268h12v4h-12zM784 272h4v4h-4zM812 272h8v4h-8zM812 276h4v4h-4zM812 280h4v4h-4zM812 284h4v4h-4zM812 288h4v4h-4zM812 292h4v4h-4zM836 292h12v4h-12zM812 296h4v4h-4zM832 300h4v4h-4zM808 304h4v4h-4zM832 304h4v4h-4zM844 304h4v4h-4zM604 312h8v4h-8zM600 316h4v4h-4zM612 316h4v4h-4zM800 320h4v4h-4zM588 324h4v4h-4zM616 324h4v4h-4zM884 324h4v4h-4zM584 328h4v4h-4zM616 328h4v4h-4zM804 328h4v4h-4zM864 328h4v4h-4zM728 332h4v4h-4zM880 332h4v4h-4zM576 336h4v4h-4zM872 336h8v4h-8zM620 340h4v4h-4zM872 340h8v4h-8zM572 344h4v4h-4zM868 344h16v4h-16zM784 348h8v4h-8zM868 348h16v4h-16zM624 352h4v4h-4zM864 352h24v4h-24zM624 356h4v4h-4zM852 356h36v4h-36zM568 360h4v4h-4zM868 360h24v4h-24zM568 364h4v4h-4zM884 364h12v4h-12zM620 368h4v4h-4zM768 368h4v4h-4zM840 368h4v4h-4zM892 368h8v4h-8zM616 372h4v4h-4zM764 372h4v4h-4zM900 372h4v4h-4zM616 376h4v4h-4zM908 376h4v4h-4zM564 380h4v4h-4zM612 380h4v4h-4zM764 380h4v4h-4zM916 380h4v4h-4zM564 384h4v4h-4zM612 384h4v4h-4zM752 384h8v4h-8zM764 384h8v4h-8zM840 384h4v4h-4zM924 384h8v4h-8zM564 388h4v4h-4zM612 388h4v4h-4zM716 388h4v4h-4zM768 388h8v4h-8zM944 388h20v4h-20zM564 392h4v4h-4zM612 392h4v4h-4zM708 392h4v4h-4zM772 392h8v4h-8zM972 392h12v4h-12zM564 396h4v4h-4zM612 396h4v4h-4zM704 396h4v4h-4zM776 396h8v4h-8zM980 396h12v4h-12zM564 400h4v4h-4zM612 400h4v4h-4zM700 400h4v4h-4zM780 400h12v4h-12zM988 400h12v4h-12zM564 404h4v4h-4zM612 404h4v4h-4zM696 404h4v4h-4zM788 404h8v4h-8zM992 404h8v4h-8zM564 408h4v4h-4zM612 408h4v4h-4zM696 408h4v4h-4zM792 408h8v4h-8zM996 408h4v4h-4zM568 412h4v4h-4zM608 412h4v4h-4zM696 412h4v4h-4zM800 412h4v4h-4zM848 412h4v4h-4zM572 416h4v4h-4zM604 416h4v4h-4zM696 416h4v4h-4zM804 416h4v4h-4zM844 416h4v4h-4zM576 420h28v4h-28zM696 420h4v4h-4zM808 420h4v4h-4zM812 424h8v4h-8zM828 424h4v4h-4zM696 428h4v4h-4zM236 440h4v4h-4zM808 448h16v4h-16zM808 452h20v4h-20zM804 456h8v4h-8zM828 456h4v4h-4zM800 460h8v4h-8zM832 460h4v4h-4zM800 464h8v4h-8zM840 464h4v4h-4zM796 468h8v4h-8zM856 468h4v4h-4zM796 472h8v4h-8zM692 476h12v4h-12zM792 476h8v4h-8zM604 480h12v4h-12zM636 480h4v4h-4zM680 480h4v4h-4zM708 480h4v4h-4zM792 480h8v4h-8zM620 484h16v4h-16zM708 484h4v4h-4zM788 484h12v4h-12zM596 488h4v4h-4zM672 488h4v4h-4zM708 488h4v4h-4zM756 488h40v4h-40zM592 492h4v4h-4zM708 492h4v4h-4zM748 492h8v4h-8zM780 492h16v4h-16zM592 496h4v4h-4zM672 496h4v4h-4zM704 496h4v4h-4zM744 496h8v4h-8zM788 496h12v4h-12zM588 500h4v4h-4zM676 500h8v4h-8zM692 500h8v4h-8zM740 500h8v4h-8zM788 500h16v4h-16zM888 500h4v4h-4zM252 504h4v4h-4zM588 504h8v4h-8zM736 504h8v4h-8zM788 504h20v4h-20zM588 508h24v4h-24zM732 508h8v4h-8zM784 508h28v4h-28zM892 508h4v4h-4zM588 512h4v4h-4zM604 512h20v4h-20zM732 512h8v4h-8zM784 512h28v4h-28zM892 512h4v4h-4zM616 516h8v4h-8zM732 516h8v4h-8zM780 516h36v4h-36zM892 516h4v4h-4zM620 520h8v4h-8zM732 520h8v4h-8zM776 520h44v4h-44zM892 520h4v4h-4zM620 524h8v4h-8zM732 524h12v4h-12zM772 524h52v4h-52zM892 524h4v4h-4zM584 528h4v4h-4zM620 528h8v4h-8zM736 528h12v4h-12zM764 528h28v4h-28zM816 528h12v4h-12zM620 532h8v4h-8zM736 532h48v4h-48zM820 532h12v4h-12zM580 536h4v4h-4zM620 536h8v4h-8zM740 536h36v4h-36zM828 536h8v4h-8zM888 536h4v4h-4zM620 540h8v4h-8zM748 540h16v4h-16zM836 540h8v4h-8zM620 544h8v4h-8zM848 544h4v4h-4zM884 544h4v4h-4zM620 548h8v4h-8zM856 548h4v4h-4zM880 548h4v4h-4zM488 552h4v4h-4zM520 552h4v4h-4zM620 552h8v4h-8zM864 552h12v4h-12zM468 556h8v4h-8zM620 556h4v4h-4zM620 560h4v4h-4zM616 564h8v4h-8zM616 568h8v4h-8zM444 572h4v4h-4zM612 572h8v4h-8zM612 576h8v4h-8zM552 580h4v4h-4zM608 580h12v4h-12zM600 584h20v4h-20zM748 584h16v4h-16zM592 588h28v4h-28zM744 588h24v4h-24zM588 592h8v4h-8zM608 592h16v4h-16zM744 592h28v4h-28zM368 596h4v4h-4zM584 596h8v4h-8zM612 596h16v4h-16zM740 596h32v4h-32zM584 600h4v4h-4zM612 600h16v4h-16zM740 600h36v4h-36zM580 604h8v4h-8zM612 604h16v4h-16zM744 604h28v4h-28zM580 608h8v4h-8zM612 608h16v4h-16zM744 608h28v4h-28zM852 608h4v4h-4zM864 608h4v4h-4zM580 612h12v4h-12zM612 612h12v4h-12zM748 612h20v4h-20zM580 616h24v4h-24zM752 616h12v4h-12zM588 620h20v4h-20zM596 624h12v4h-12zM600 628h8v4h-8zM600 632h8v4h-8zM600 636h8v4h-8zM600 640h8v4h-8zM600 644h8v4h-8zM604 648h4v4h-4zM604 652h4v4h-4zM604 656h4v4h-4zM604 660h4v4h-4zM608 664h4v4h-4zM888 664h12v4h-12zM608 668h4v4h-4zM632 668h4v4h-4zM884 668h20v4h-20zM880 672h28v4h-28zM880 676h32v4h-32zM876 680h40v4h-40zM620 684h4v4h-4zM876 684h20v4h-20zM904 684h12v4h-12zM872 688h20v4h-20zM912 688h8v4h-8zM832 692h4v4h-4zM872 692h16v4h-16zM916 692h8v4h-8zM824 696h24v4h-24zM868 696h20v4h-20zM920 696h4v4h-4zM816 700h40v4h-40zM864 700h20v4h-20zM920 700h8v4h-8zM812 704h12v4h-12zM836 704h48v4h-48zM924 704h4v4h-4zM808 708h8v4h-8zM840 708h40v4h-40zM924 708h8v4h-8zM804 712h8v4h-8zM844 712h36v4h-36zM928 712h4v4h-4zM800 716h8v4h-8zM848 716h28v4h-28zM928 716h8v4h-8zM800 720h4v4h-4zM852 720h24v4h-24zM928 720h8v4h-8zM796 724h8v4h-8zM852 724h20v4h-20zM928 724h12v4h-12zM796 728h4v4h-4zM856 728h16v4h-16zM932 728h12v4h-12zM696 732h4v4h-4zM792 732h8v4h-8zM860 732h4v4h-4zM932 732h20v4h-20zM792 736h4v4h-4zM936 736h32v4h-32zM792 740h4v4h-4zM956 740h44v4h-44zM792 744h4v4h-4zM992 744h8v4h-8zM788 748h8v4h-8zM788 752h8v4h-8zM788 756h4v4h-4zM788 760h4v4h-4zM788 764h8v4h-8zM996 764h4v4h-4zM788 768h8v4h-8zM996 768h4v4h-4z"/>
<path fill="#8e8e8e" d="M952 76h28v4h-28zM868 96h8v4h-8zM868 100h12v4h-12zM864 104h20v4h-20zM860 108h4v4h-4zM880 108h8v4h-8zM856 112h4v4h-4zM884 112h4v4h-4zM884 116h4v4h-4zM844 120h4v4h-4zM880 120h4v4h-4zM836 124h4v4h-4zM880 124h4v4h-4zM880 128h4v4h-4zM824 132h4v4h-4zM876 132h8v4h-8zM876 136h4v4h-4zM876 140h4v4h-4zM872 144h8v4h-8zM804 148h4v4h-4zM868 148h8v4h-8zM868 152h4v4h-4zM864 156h4v4h-4zM860 160h4v4h-4zM856 164h4v4h-4zM852 168h4v4h-4zM788 172h4v4h-4zM848 172h4v4h-4zM788 176h4v4h-4zM844 176h4v4h-4zM792 180h4v4h-4zM836 180h4v4h-4zM800 184h4v4h-4zM832 184h4v4h-4zM824 188h8v4h-8zM472 192h4v4h-4zM808 192h12v4h-12zM488 196h4v4h-4zM500 196h4v4h-4zM468 236h4v4h-4zM752 240h4v4h-4zM796 248h8v4h-8zM292 252h4v4h-4zM796 252h16v4h-16zM792 256h20v4h-20zM792 260h4v4h-4zM804 260h12v4h-12zM792 264h4v4h-4zM804 264h8v4h-8zM804 268h8v4h-8zM788 272h4v4h-4zM804 272h8v4h-8zM784 276h4v4h-4zM804 276h8v4h-8zM768 280h4v4h-4zM780 280h4v4h-4zM808 280h4v4h-4zM776 284h4v4h-4zM808 284h4v4h-4zM808 288h4v4h-4zM260 292h4v4h-4zM836 296h12v4h-12zM808 300h4v4h-4zM844 300h4v4h-4zM744 308h4v4h-4zM804 308h4v4h-4zM836 308h8v4h-8zM604 316h8v4h-8zM748 316h4v4h-4zM800 316h4v4h-4zM880 316h4v4h-4zM596 320h4v4h-4zM612 320h4v4h-4zM592 324h4v4h-4zM800 324h4v4h-4zM580 332h4v4h-4zM616 332h4v4h-4zM804 332h4v4h-4zM868 332h4v4h-4zM804 336h4v4h-4zM576 340h4v4h-4zM800 340h4v4h-4zM796 344h4v4h-4zM572 348h4v4h-4zM780 348h4v4h-4zM572 352h4v4h-4zM776 352h4v4h-4zM772 356h4v4h-4zM772 360h4v4h-4zM860 360h8v4h-8zM620 364h4v4h-4zM864 364h20v4h-20zM568 368h4v4h-4zM884 368h8v4h-8zM568 372h4v4h-4zM840 372h4v4h-4zM896 372h4v4h-4zM568 376h4v4h-4zM612 376h4v4h-4zM904 376h4v4h-4zM568 380h4v4h-4zM912 380h4v4h-4zM608 384h4v4h-4zM760 384h4v4h-4zM920 384h4v4h-4zM608 388h4v4h-4zM720 388h4v4h-4zM748 388h20v4h-20zM932 388h12v4h-12zM608 392h4v4h-4zM712 392h4v4h-4zM760 392h12v4h-12zM956 392h16v4h-16zM608 396h4v4h-4zM760 396h16v4h-16zM972 396h8v4h-8zM608 400h4v4h-4zM768 400h12v4h-12zM980 400h8v4h-8zM568 404h4v4h-4zM608 404h4v4h-4zM700 404h4v4h-4zM772 404h16v4h-16zM984 404h8v4h-8zM568 408h4v4h-4zM608 408h4v4h-4zM780 408h12v4h-12zM988 408h8v4h-8zM572 412h4v4h-4zM604 412h4v4h-4zM788 412h12v4h-12zM992 412h8v4h-8zM576 416h28v4h-28zM792 416h12v4h-12zM992 416h8v4h-8zM800 420h8v4h-8zM840 420h4v4h-4zM996 420h4v4h-4zM804 424h8v4h-8zM832 424h4v4h-4zM996 424h4v4h-4zM808 428h20v4h-20zM812 432h8v4h-8zM692 436h4v4h-4zM812 436h4v4h-4zM808 440h12v4h-12zM680 444h4v4h-4zM804 444h20v4h-20zM804 448h4v4h-4zM824 448h4v4h-4zM800 452h8v4h-8zM828 452h4v4h-4zM800 456h4v4h-4zM832 456h4v4h-4zM796 460h4v4h-4zM836 460h4v4h-4zM796 464h4v4h-4zM844 464h8v4h-8zM792 468h4v4h-4zM860 468h4v4h-4zM792 472h4v4h-4zM868 472h4v4h-4zM640 476h4v4h-4zM688 476h4v4h-4zM704 476h8v4h-8zM788 476h4v4h-4zM712 480h4v4h-4zM788 480h4v4h-4zM600 484h8v4h-8zM612 484h8v4h-8zM636 484h4v4h-4zM712 484h4v4h-4zM780 484h8v4h-8zM600 488h4v4h-4zM620 488h20v4h-20zM712 488h4v4h-4zM752 488h4v4h-4zM596 492h4v4h-4zM628 492h16v4h-16zM668 492h4v4h-4zM712 492h4v4h-4zM744 492h4v4h-4zM596 496h4v4h-4zM632 496h12v4h-12zM668 496h4v4h-4zM708 496h8v4h-8zM740 496h4v4h-4zM888 496h4v4h-4zM592 500h12v4h-12zM628 500h16v4h-16zM668 500h8v4h-8zM700 500h12v4h-12zM736 500h4v4h-4zM584 504h4v4h-4zM596 504h48v4h-48zM676 504h24v4h-24zM728 504h8v4h-8zM892 504h4v4h-4zM612 508h28v4h-28zM724 508h8v4h-8zM624 512h16v4h-16zM724 512h8v4h-8zM624 516h16v4h-16zM724 516h8v4h-8zM580 520h4v4h-4zM628 520h8v4h-8zM724 520h8v4h-8zM628 524h8v4h-8zM724 524h8v4h-8zM628 528h8v4h-8zM728 528h8v4h-8zM792 528h24v4h-24zM892 528h4v4h-4zM628 532h8v4h-8zM728 532h8v4h-8zM784 532h36v4h-36zM892 532h4v4h-4zM628 536h8v4h-8zM732 536h8v4h-8zM776 536h52v4h-52zM628 540h4v4h-4zM732 540h16v4h-16zM764 540h72v4h-72zM888 540h4v4h-4zM628 544h4v4h-4zM736 544h100v4h-100zM840 544h8v4h-8zM628 548h4v4h-4zM744 548h40v4h-40zM788 548h36v4h-36zM852 548h4v4h-4zM492 552h8v4h-8zM512 552h8v4h-8zM628 552h4v4h-4zM860 552h4v4h-4zM876 552h4v4h-4zM476 556h4v4h-4zM540 556h16v4h-16zM624 556h8v4h-8zM624 560h8v4h-8zM624 564h8v4h-8zM624 568h8v4h-8zM620 572h12v4h-12zM752 572h8v4h-8zM620 576h12v4h-12zM744 576h28v4h-28zM620 580h12v4h-12zM740 580h36v4h-36zM620 584h16v4h-16zM740 584h8v4h-8zM764 584h16v4h-16zM620 588h20v4h-20zM736 588h8v4h-8zM768 588h16v4h-16zM596 592h12v4h-12zM624 592h16v4h-16zM736 592h8v4h-8zM772 592h16v4h-16zM376 596h8v4h-8zM592 596h20v4h-20zM628 596h12v4h-12zM736 596h4v4h-4zM772 596h16v4h-16zM864 596h4v4h-4zM588 600h24v4h-24zM628 600h12v4h-12zM736 600h4v4h-4zM776 600h12v4h-12zM556 604h4v4h-4zM588 604h24v4h-24zM628 604h12v4h-12zM736 604h8v4h-8zM772 604h16v4h-16zM556 608h4v4h-4zM588 608h24v4h-24zM628 608h12v4h-12zM736 608h8v4h-8zM772 608h16v4h-16zM592 612h20v4h-20zM624 612h12v4h-12zM740 612h8v4h-8zM768 612h20v4h-20zM604 616h28v4h-28zM744 616h8v4h-8zM764 616h24v4h-24zM608 620h20v4h-20zM748 620h36v4h-36zM608 624h16v4h-16zM752 624h28v4h-28zM540 628h4v4h-4zM608 628h12v4h-12zM608 632h8v4h-8zM608 636h8v4h-8zM608 640h4v4h-4zM608 644h4v4h-4zM608 648h4v4h-4zM608 652h4v4h-4zM892 652h4v4h-4zM608 656h4v4h-4zM884 656h20v4h-20zM608 660h8v4h-8zM876 660h32v4h-32zM612 664h20v4h-20zM868 664h20v4h-20zM900 664h12v4h-12zM860 668h24v4h-24zM904 668h12v4h-12zM844 672h36v4h-36zM908 672h8v4h-8zM840 676h40v4h-40zM912 676h8v4h-8zM836 680h40v4h-40zM916 680h8v4h-8zM828 684h48v4h-48zM916 684h8v4h-8zM824 688h48v4h-48zM920 688h8v4h-8zM816 692h16v4h-16zM836 692h36v4h-36zM924 692h4v4h-4zM812 696h12v4h-12zM848 696h20v4h-20zM924 696h8v4h-8zM808 700h8v4h-8zM856 700h8v4h-8zM928 700h4v4h-4zM804 704h8v4h-8zM928 704h8v4h-8zM800 708h8v4h-8zM932 708h4v4h-4zM800 712h4v4h-4zM932 712h8v4h-8zM796 716h4v4h-4zM936 716h8v4h-8zM796 720h4v4h-4zM936 720h12v4h-12zM792 724h4v4h-4zM940 724h12v4h-12zM792 728h4v4h-4zM944 728h12v4h-12zM688 732h4v4h-4zM788 732h4v4h-4zM952 732h16v4h-16zM996 732h4v4h-4zM788 736h4v4h-4zM968 736h32v4h-32zM788 740h4v4h-4zM788 744h4v4h-4zM784 748h4v4h-4zM784 752h4v4h-4zM784 756h4v4h-4zM784 760h4v4h-4zM784 764h4v4h-4zM784 768h4v4h-4z"/>
<path fill="#909090" d="M864 108h16v4h-16zM860 112h4v4h-4zM876 112h8v4h-8zM852 116h4v4h-4zM880 116h4v4h-4zM876 124h4v4h-4zM876 128h4v4h-4zM872 132h4v4h-4zM820 136h4v4h-4zM872 136h4v4h-4zM868 140h8v4h-8zM868 144h4v4h-4zM864 148h4v4h-4zM860 152h8v4h-8zM856 156h8v4h-8zM732 160h4v4h-4zM856 160h4v4h-4zM792 164h4v4h-4zM852 164h4v4h-4zM848 168h4v4h-4zM844 172h4v4h-4zM836 176h8v4h-8zM796 180h4v4h-4zM832 180h4v4h-4zM828 184h4v4h-4zM804 188h20v4h-20zM732 192h4v4h-4zM360 216h4v4h-4zM496 216h4v4h-4zM324 236h4v4h-4zM796 260h8v4h-8zM796 264h8v4h-8zM792 268h12v4h-12zM792 272h12v4h-12zM788 276h4v4h-4zM800 276h4v4h-4zM784 280h4v4h-4zM804 280h4v4h-4zM780 284h4v4h-4zM804 284h4v4h-4zM808 292h4v4h-4zM756 296h4v4h-4zM808 296h4v4h-4zM836 300h8v4h-8zM804 304h4v4h-4zM836 304h8v4h-8zM800 312h4v4h-4zM600 320h12v4h-12zM864 320h4v4h-4zM596 324h4v4h-4zM612 324h4v4h-4zM588 328h4v4h-4zM612 328h4v4h-4zM800 328h4v4h-4zM880 328h4v4h-4zM584 332h4v4h-4zM800 332h4v4h-4zM876 332h4v4h-4zM580 336h4v4h-4zM616 336h4v4h-4zM764 336h8v4h-8zM800 336h4v4h-4zM756 340h20v4h-20zM576 344h4v4h-4zM620 344h4v4h-4zM740 344h4v4h-4zM752 344h28v4h-28zM792 344h4v4h-4zM748 348h32v4h-32zM756 352h20v4h-20zM572 356h4v4h-4zM764 356h8v4h-8zM572 360h4v4h-4zM620 360h4v4h-4zM764 360h8v4h-8zM848 360h4v4h-4zM856 360h4v4h-4zM572 364h4v4h-4zM764 364h8v4h-8zM572 368h4v4h-4zM616 368h4v4h-4zM764 368h4v4h-4zM864 368h20v4h-20zM572 372h4v4h-4zM612 372h4v4h-4zM760 372h4v4h-4zM888 372h8v4h-8zM608 376h4v4h-4zM896 376h8v4h-8zM608 380h4v4h-4zM908 380h4v4h-4zM568 384h4v4h-4zM604 384h4v4h-4zM916 384h4v4h-4zM568 388h4v4h-4zM604 388h4v4h-4zM724 388h4v4h-4zM740 388h8v4h-8zM924 388h8v4h-8zM568 392h4v4h-4zM604 392h4v4h-4zM748 392h12v4h-12zM944 392h12v4h-12zM568 396h4v4h-4zM604 396h4v4h-4zM708 396h4v4h-4zM748 396h12v4h-12zM964 396h8v4h-8zM568 400h8v4h-8zM604 400h4v4h-4zM704 400h4v4h-4zM752 400h16v4h-16zM976 400h4v4h-4zM572 404h4v4h-4zM604 404h4v4h-4zM752 404h20v4h-20zM980 404h4v4h-4zM572 408h8v4h-8zM600 408h8v4h-8zM700 408h4v4h-4zM752 408h28v4h-28zM984 408h4v4h-4zM576 412h28v4h-28zM700 412h4v4h-4zM772 412h16v4h-16zM984 412h8v4h-8zM700 416h4v4h-4zM784 416h8v4h-8zM848 416h4v4h-4zM988 416h4v4h-4zM700 420h4v4h-4zM788 420h12v4h-12zM988 420h8v4h-8zM700 424h4v4h-4zM792 424h12v4h-12zM836 424h4v4h-4zM992 424h4v4h-4zM800 428h8v4h-8zM828 428h4v4h-4zM992 428h8v4h-8zM800 432h12v4h-12zM820 432h4v4h-4zM992 432h8v4h-8zM804 436h8v4h-8zM816 436h8v4h-8zM996 436h4v4h-4zM800 440h8v4h-8zM820 440h4v4h-4zM996 440h4v4h-4zM684 444h4v4h-4zM800 444h4v4h-4zM824 444h4v4h-4zM996 444h4v4h-4zM672 448h4v4h-4zM800 448h4v4h-4zM828 448h4v4h-4zM996 448h4v4h-4zM796 452h4v4h-4zM832 452h4v4h-4zM996 452h4v4h-4zM796 456h4v4h-4zM836 456h4v4h-4zM996 456h4v4h-4zM660 460h4v4h-4zM792 460h4v4h-4zM840 460h4v4h-4zM992 460h8v4h-8zM792 464h4v4h-4zM852 464h4v4h-4zM992 464h8v4h-8zM788 468h4v4h-4zM864 468h4v4h-4zM992 468h8v4h-8zM644 472h4v4h-4zM788 472h4v4h-4zM992 472h8v4h-8zM712 476h8v4h-8zM784 476h4v4h-4zM988 476h12v4h-12zM640 480h4v4h-4zM716 480h4v4h-4zM780 480h8v4h-8zM988 480h12v4h-12zM608 484h4v4h-4zM640 484h4v4h-4zM716 484h4v4h-4zM756 484h24v4h-24zM988 484h12v4h-12zM604 488h16v4h-16zM640 488h8v4h-8zM716 488h4v4h-4zM744 488h8v4h-8zM984 488h16v4h-16zM600 492h28v4h-28zM644 492h24v4h-24zM716 492h8v4h-8zM740 492h4v4h-4zM984 492h16v4h-16zM600 496h32v4h-32zM644 496h24v4h-24zM716 496h8v4h-8zM736 496h4v4h-4zM984 496h16v4h-16zM604 500h24v4h-24zM644 500h24v4h-24zM712 500h24v4h-24zM892 500h4v4h-4zM984 500h16v4h-16zM644 504h32v4h-32zM700 504h28v4h-28zM984 504h16v4h-16zM640 508h84v4h-84zM896 508h4v4h-4zM984 508h16v4h-16zM640 512h84v4h-84zM896 512h4v4h-4zM984 512h16v4h-16zM640 516h40v4h-40zM704 516h20v4h-20zM896 516h4v4h-4zM984 516h16v4h-16zM576 520h4v4h-4zM636 520h40v4h-40zM708 520h16v4h-16zM896 520h4v4h-4zM984 520h16v4h-16zM636 524h36v4h-36zM708 524h16v4h-16zM896 524h4v4h-4zM984 524h16v4h-16zM636 528h32v4h-32zM712 528h16v4h-16zM980 528h20v4h-20zM636 532h24v4h-24zM712 532h16v4h-16zM980 532h20v4h-20zM572 536h4v4h-4zM636 536h20v4h-20zM716 536h16v4h-16zM892 536h4v4h-4zM980 536h20v4h-20zM632 540h20v4h-20zM720 540h12v4h-12zM980 540h20v4h-20zM632 544h20v4h-20zM720 544h16v4h-16zM836 544h4v4h-4zM888 544h4v4h-4zM976 544h24v4h-24zM632 548h16v4h-16zM724 548h20v4h-20zM784 548h4v4h-4zM824 548h12v4h-12zM848 548h4v4h-4zM884 548h4v4h-4zM976 548h24v4h-24zM500 552h12v4h-12zM632 552h16v4h-16zM728 552h100v4h-100zM856 552h4v4h-4zM880 552h4v4h-4zM976 552h24v4h-24zM280 556h4v4h-4zM480 556h4v4h-4zM532 556h8v4h-8zM632 556h16v4h-16zM732 556h92v4h-92zM864 556h16v4h-16zM976 556h24v4h-24zM632 560h16v4h-16zM736 560h84v4h-84zM976 560h24v4h-24zM632 564h16v4h-16zM736 564h80v4h-80zM980 564h20v4h-20zM632 568h20v4h-20zM736 568h76v4h-76zM984 568h16v4h-16zM632 572h20v4h-20zM736 572h16v4h-16zM760 572h52v4h-52zM988 572h12v4h-12zM552 576h4v4h-4zM632 576h20v4h-20zM732 576h12v4h-12zM772 576h36v4h-36zM988 576h12v4h-12zM632 580h20v4h-20zM732 580h8v4h-8zM776 580h28v4h-28zM992 580h8v4h-8zM636 584h16v4h-16zM732 584h8v4h-8zM780 584h24v4h-24zM996 584h4v4h-4zM640 588h12v4h-12zM732 588h4v4h-4zM784 588h20v4h-20zM640 592h12v4h-12zM728 592h8v4h-8zM788 592h12v4h-12zM372 596h4v4h-4zM640 596h12v4h-12zM728 596h8v4h-8zM788 596h12v4h-12zM852 596h4v4h-4zM336 600h4v4h-4zM640 600h12v4h-12zM728 600h8v4h-8zM788 600h12v4h-12zM640 604h8v4h-8zM732 604h4v4h-4zM788 604h12v4h-12zM640 608h8v4h-8zM732 608h4v4h-4zM788 608h12v4h-12zM636 612h12v4h-12zM732 612h8v4h-8zM788 612h12v4h-12zM632 616h12v4h-12zM736 616h8v4h-8zM788 616h12v4h-12zM628 620h12v4h-12zM740 620h8v4h-8zM784 620h16v4h-16zM624 624h12v4h-12zM744 624h8v4h-8zM780 624h20v4h-20zM620 628h12v4h-12zM748 628h52v4h-52zM616 632h12v4h-12zM756 632h44v4h-44zM616 636h8v4h-8zM760 636h40v4h-40zM120 640h4v4h-4zM612 640h12v4h-12zM776 640h16v4h-16zM612 644h8v4h-8zM612 648h8v4h-8zM888 648h16v4h-16zM612 652h8v4h-8zM884 652h8v4h-8zM896 652h16v4h-16zM612 656h8v4h-8zM876 656h8v4h-8zM904 656h12v4h-12zM616 660h12v4h-12zM868 660h8v4h-8zM908 660h12v4h-12zM632 664h4v4h-4zM836 664h32v4h-32zM912 664h12v4h-12zM524 668h4v4h-4zM636 668h4v4h-4zM832 668h28v4h-28zM916 668h8v4h-8zM636 672h4v4h-4zM828 672h16v4h-16zM916 672h12v4h-12zM632 676h4v4h-4zM824 676h16v4h-16zM920 676h8v4h-8zM820 680h16v4h-16zM924 680h8v4h-8zM596 684h4v4h-4zM816 684h12v4h-12zM924 684h8v4h-8zM556 688h4v4h-4zM812 688h12v4h-12zM928 688h8v4h-8zM808 692h8v4h-8zM928 692h8v4h-8zM804 696h8v4h-8zM932 696h4v4h-4zM800 700h8v4h-8zM932 700h8v4h-8zM800 704h4v4h-4zM936 704h4v4h-4zM796 708h4v4h-4zM936 708h8v4h-8zM792 712h8v4h-8zM940 712h8v4h-8zM792 716h4v4h-4zM944 716h8v4h-8zM788 720h8v4h-8zM948 720h8v4h-8zM788 724h4v4h-4zM952 724h8v4h-8zM788 728h4v4h-4zM956 728h16v4h-16zM992 728h8v4h-8zM784 732h4v4h-4zM968 732h28v4h-28zM784 736h4v4h-4zM784 740h4v4h-4zM696 744h4v4h-4zM784 744h4v4h-4zM780 748h4v4h-4zM780 752h4v4h-4zM780 756h4v4h-4zM780 760h4v4h-4zM780 764h4v4h-4zM780 768h4v4h-4z"/>
<path fill="#929292" d="M864 112h12v4h-12zM760 116h4v4h-4zM856 116h4v4h-4zM876 116h4v4h-4zM876 120h4v4h-4zM748 128h4v4h-4zM832 128h4v4h-4zM872 128h4v4h-4zM744 132h4v4h-4zM868 136h4v4h-4zM816 140h4v4h-4zM864 140h4v4h-4zM864 144h4v4h-4zM860 148h4v4h-4zM856 152h4v4h-4zM852 156h4v4h-4zM848 160h8v4h-8zM844 164h8v4h-8zM840 168h8v4h-8zM732 172h4v4h-4zM836 172h8v4h-8zM792 176h4v4h-4zM832 176h4v4h-4zM800 180h4v4h-4zM828 180h4v4h-4zM804 184h8v4h-8zM824 184h4v4h-4zM464 196h4v4h-4zM672 212h4v4h-4zM300 216h8v4h-8zM676 216h4v4h-4zM296 220h20v4h-20zM292 224h24v4h-24zM340 224h4v4h-4zM292 228h28v4h-28zM292 232h32v4h-32zM292 236h32v4h-32zM696 236h4v4h-4zM292 240h28v4h-28zM292 244h20v4h-20zM292 248h8v4h-8zM700 248h4v4h-4zM700 252h4v4h-4zM792 276h8v4h-8zM788 280h16v4h-16zM800 284h4v4h-4zM772 288h8v4h-8zM804 288h4v4h-4zM700 292h4v4h-4zM804 292h4v4h-4zM752 296h4v4h-4zM804 296h4v4h-4zM764 300h4v4h-4zM804 300h4v4h-4zM744 304h4v4h-4zM800 308h4v4h-4zM744 312h4v4h-4zM764 316h4v4h-4zM796 316h4v4h-4zM752 320h12v4h-12zM796 320h4v4h-4zM600 324h12v4h-12zM796 324h4v4h-4zM864 324h4v4h-4zM592 328h4v4h-4zM608 328h4v4h-4zM756 328h12v4h-12zM588 332h4v4h-4zM612 332h4v4h-4zM748 332h24v4h-24zM872 332h4v4h-4zM584 336h4v4h-4zM744 336h20v4h-20zM580 340h4v4h-4zM732 340h4v4h-4zM740 340h16v4h-16zM776 340h4v4h-4zM796 340h4v4h-4zM744 344h8v4h-8zM780 344h12v4h-12zM576 348h4v4h-4zM620 348h4v4h-4zM576 352h4v4h-4zM752 352h4v4h-4zM576 356h4v4h-4zM760 356h4v4h-4zM576 360h4v4h-4zM852 360h4v4h-4zM576 364h4v4h-4zM844 364h4v4h-4zM860 364h4v4h-4zM576 372h4v4h-4zM864 372h24v4h-24zM572 376h8v4h-8zM604 376h4v4h-4zM840 376h4v4h-4zM892 376h4v4h-4zM572 380h8v4h-8zM600 380h8v4h-8zM900 380h8v4h-8zM572 384h8v4h-8zM600 384h4v4h-4zM908 384h8v4h-8zM572 388h8v4h-8zM596 388h8v4h-8zM728 388h12v4h-12zM920 388h4v4h-4zM572 392h12v4h-12zM596 392h8v4h-8zM716 392h4v4h-4zM744 392h4v4h-4zM932 392h12v4h-12zM572 396h12v4h-12zM592 396h12v4h-12zM712 396h4v4h-4zM744 396h4v4h-4zM956 396h8v4h-8zM576 400h28v4h-28zM744 400h8v4h-8zM968 400h8v4h-8zM576 404h28v4h-28zM704 404h4v4h-4zM744 404h8v4h-8zM976 404h4v4h-4zM580 408h20v4h-20zM744 408h8v4h-8zM852 408h4v4h-4zM980 408h4v4h-4zM744 412h28v4h-28zM852 412h4v4h-4zM980 412h4v4h-4zM748 416h36v4h-36zM984 416h4v4h-4zM780 420h8v4h-8zM844 420h4v4h-4zM984 420h4v4h-4zM788 424h4v4h-4zM840 424h4v4h-4zM988 424h4v4h-4zM792 428h8v4h-8zM832 428h4v4h-4zM988 428h4v4h-4zM796 432h4v4h-4zM824 432h4v4h-4zM988 432h4v4h-4zM796 436h8v4h-8zM824 436h4v4h-4zM988 436h8v4h-8zM796 440h4v4h-4zM824 440h4v4h-4zM988 440h8v4h-8zM688 444h4v4h-4zM796 444h4v4h-4zM828 444h4v4h-4zM988 444h8v4h-8zM796 448h4v4h-4zM832 448h4v4h-4zM988 448h8v4h-8zM836 452h4v4h-4zM988 452h8v4h-8zM664 456h4v4h-4zM792 456h4v4h-4zM840 456h4v4h-4zM988 456h8v4h-8zM844 460h4v4h-4zM988 460h4v4h-4zM788 464h4v4h-4zM856 464h4v4h-4zM988 464h4v4h-4zM984 468h8v4h-8zM236 472h4v4h-4zM704 472h16v4h-16zM784 472h4v4h-4zM984 472h8v4h-8zM684 476h4v4h-4zM720 476h4v4h-4zM980 476h8v4h-8zM676 480h4v4h-4zM720 480h4v4h-4zM776 480h4v4h-4zM980 480h8v4h-8zM644 484h4v4h-4zM672 484h4v4h-4zM720 484h8v4h-8zM748 484h8v4h-8zM976 484h12v4h-12zM648 488h8v4h-8zM668 488h4v4h-4zM720 488h8v4h-8zM740 488h4v4h-4zM976 488h8v4h-8zM724 492h4v4h-4zM736 492h4v4h-4zM888 492h4v4h-4zM976 492h8v4h-8zM724 496h12v4h-12zM972 496h12v4h-12zM972 500h12v4h-12zM896 504h4v4h-4zM976 504h8v4h-8zM976 508h8v4h-8zM900 512h4v4h-4zM976 512h8v4h-8zM584 516h4v4h-4zM680 516h24v4h-24zM900 516h4v4h-4zM976 516h8v4h-8zM676 520h32v4h-32zM900 520h4v4h-4zM976 520h8v4h-8zM672 524h36v4h-36zM900 524h4v4h-4zM976 524h8v4h-8zM668 528h44v4h-44zM896 528h4v4h-4zM972 528h8v4h-8zM568 532h4v4h-4zM660 532h52v4h-52zM896 532h4v4h-4zM972 532h8v4h-8zM656 536h60v4h-60zM896 536h4v4h-4zM972 536h8v4h-8zM652 540h68v4h-68zM892 540h4v4h-4zM972 540h8v4h-8zM652 544h68v4h-68zM892 544h4v4h-4zM972 544h4v4h-4zM648 548h76v4h-76zM836 548h12v4h-12zM888 548h4v4h-4zM968 548h8v4h-8zM648 552h80v4h-80zM828 552h4v4h-4zM884 552h8v4h-8zM968 552h8v4h-8zM484 556h4v4h-4zM524 556h8v4h-8zM648 556h84v4h-84zM824 556h4v4h-4zM860 556h4v4h-4zM880 556h8v4h-8zM968 556h8v4h-8zM648 560h88v4h-88zM820 560h4v4h-4zM868 560h16v4h-16zM968 560h8v4h-8zM648 564h88v4h-88zM816 564h4v4h-4zM872 564h8v4h-8zM964 564h16v4h-16zM652 568h48v4h-48zM712 568h24v4h-24zM812 568h8v4h-8zM964 568h20v4h-20zM652 572h32v4h-32zM720 572h16v4h-16zM812 572h8v4h-8zM968 572h20v4h-20zM652 576h24v4h-24zM724 576h8v4h-8zM808 576h8v4h-8zM972 576h16v4h-16zM652 580h20v4h-20zM724 580h8v4h-8zM804 580h12v4h-12zM976 580h16v4h-16zM652 584h16v4h-16zM724 584h8v4h-8zM804 584h8v4h-8zM980 584h16v4h-16zM420 588h4v4h-4zM652 588h16v4h-16zM724 588h8v4h-8zM804 588h8v4h-8zM980 588h20v4h-20zM652 592h12v4h-12zM724 592h4v4h-4zM800 592h8v4h-8zM984 592h16v4h-16zM324 596h4v4h-4zM652 596h12v4h-12zM724 596h4v4h-4zM800 596h8v4h-8zM984 596h16v4h-16zM652 600h12v4h-12zM724 600h4v4h-4zM800 600h8v4h-8zM868 600h4v4h-4zM988 600h12v4h-12zM648 604h12v4h-12zM724 604h8v4h-8zM800 604h4v4h-4zM868 604h4v4h-4zM988 604h12v4h-12zM648 608h12v4h-12zM724 608h8v4h-8zM800 608h4v4h-4zM988 608h12v4h-12zM552 612h4v4h-4zM648 612h12v4h-12zM728 612h4v4h-4zM800 612h4v4h-4zM988 612h12v4h-12zM644 616h12v4h-12zM732 616h4v4h-4zM800 616h4v4h-4zM992 616h8v4h-8zM640 620h16v4h-16zM736 620h4v4h-4zM800 620h8v4h-8zM992 620h8v4h-8zM636 624h16v4h-16zM736 624h8v4h-8zM800 624h8v4h-8zM992 624h8v4h-8zM632 628h16v4h-16zM744 628h4v4h-4zM800 628h8v4h-8zM988 628h12v4h-12zM628 632h20v4h-20zM748 632h8v4h-8zM800 632h8v4h-8zM988 632h12v4h-12zM624 636h20v4h-20zM752 636h8v4h-8zM800 636h12v4h-12zM988 636h12v4h-12zM124 640h16v4h-16zM624 640h16v4h-16zM756 640h20v4h-20zM792 640h20v4h-20zM892 640h20v4h-20zM992 640h8v4h-8zM120 644h32v4h-32zM620 644h16v4h-16zM760 644h56v4h-56zM888 644h32v4h-32zM992 644h8v4h-8zM120 648h32v4h-32zM620 648h16v4h-16zM764 648h52v4h-52zM884 648h4v4h-4zM904 648h24v4h-24zM992 648h8v4h-8zM120 652h40v4h-40zM168 652h4v4h-4zM620 652h12v4h-12zM772 652h44v4h-44zM876 652h8v4h-8zM912 652h20v4h-20zM996 652h4v4h-4zM120 656h64v4h-64zM620 656h16v4h-16zM820 656h8v4h-8zM868 656h8v4h-8zM916 656h20v4h-20zM120 660h68v4h-68zM628 660h12v4h-12zM820 660h48v4h-48zM920 660h20v4h-20zM120 664h72v4h-72zM636 664h4v4h-4zM820 664h16v4h-16zM924 664h16v4h-16zM120 668h72v4h-72zM640 668h4v4h-4zM816 668h16v4h-16zM924 668h16v4h-16zM120 672h68v4h-68zM520 672h4v4h-4zM640 672h4v4h-4zM816 672h12v4h-12zM928 672h12v4h-12zM120 676h64v4h-64zM516 676h4v4h-4zM812 676h12v4h-12zM928 676h12v4h-12zM120 680h60v4h-60zM300 680h4v4h-4zM512 680h4v4h-4zM812 680h8v4h-8zM932 680h8v4h-8zM120 684h44v4h-44zM292 684h24v4h-24zM576 684h4v4h-4zM808 684h8v4h-8zM932 684h8v4h-8zM292 688h24v4h-24zM804 688h8v4h-8zM936 688h8v4h-8zM292 692h24v4h-24zM800 692h8v4h-8zM936 692h8v4h-8zM292 696h20v4h-20zM796 696h8v4h-8zM936 696h8v4h-8zM292 700h20v4h-20zM796 700h4v4h-4zM940 700h8v4h-8zM292 704h16v4h-16zM792 704h8v4h-8zM940 704h8v4h-8zM292 708h12v4h-12zM788 708h8v4h-8zM944 708h8v4h-8zM296 712h4v4h-4zM788 712h4v4h-4zM948 712h8v4h-8zM784 716h8v4h-8zM952 716h8v4h-8zM784 720h4v4h-4zM956 720h8v4h-8zM784 724h4v4h-4zM960 724h16v4h-16zM988 724h12v4h-12zM692 728h4v4h-4zM780 728h8v4h-8zM972 728h20v4h-20zM780 732h4v4h-4zM780 736h4v4h-4zM780 740h4v4h-4zM688 744h4v4h-4zM776 744h8v4h-8zM776 748h4v4h-4zM776 752h4v4h-4zM776 756h4v4h-4zM776 760h4v4h-4zM776 764h4v4h-4zM120 768h4v4h-4zM776 768h4v4h-4z"/>
<path fill="#949494" d="M472 76h308v4h-308zM476 80h304v4h-304zM480 84h300v4h-300zM488 88h292v4h-292zM492 92h288v4h-288zM496 96h284v4h-284zM500 100h280v4h-280zM504 104h276v4h-276zM508 108h40v4h-40zM628 108h148v4h-148zM520 112h12v4h-12zM636 112h132v4h-132zM644 116h116v4h-116zM872 116h4v4h-4zM648 120h112v4h-112zM848 120h4v4h-4zM872 120h4v4h-4zM652 124h104v4h-104zM840 124h4v4h-4zM872 124h4v4h-4zM660 128h88v4h-88zM664 132h80v4h-80zM868 132h4v4h-4zM668 136h76v4h-76zM864 136h4v4h-4zM672 140h68v4h-68zM676 144h64v4h-64zM860 144h4v4h-4zM676 148h64v4h-64zM856 148h4v4h-4zM680 152h56v4h-56zM852 152h4v4h-4zM680 156h56v4h-56zM848 156h4v4h-4zM680 160h52v4h-52zM796 160h4v4h-4zM844 160h4v4h-4zM680 164h52v4h-52zM840 164h4v4h-4zM680 168h44v4h-44zM836 168h4v4h-4zM680 172h40v4h-40zM832 172h4v4h-4zM680 176h40v4h-40zM828 176h4v4h-4zM680 180h40v4h-40zM804 180h8v4h-8zM824 180h4v4h-4zM680 184h40v4h-40zM812 184h12v4h-12zM680 188h40v4h-40zM484 192h4v4h-4zM680 192h32v4h-32zM544 196h4v4h-4zM680 196h32v4h-32zM676 200h32v4h-32zM648 204h4v4h-4zM676 204h28v4h-28zM296 208h20v4h-20zM668 208h4v4h-4zM676 208h28v4h-28zM292 212h28v4h-28zM676 212h24v4h-24zM288 216h12v4h-12zM308 216h12v4h-12zM680 216h16v4h-16zM288 220h8v4h-8zM316 220h4v4h-4zM680 220h8v4h-8zM284 224h8v4h-8zM316 224h4v4h-4zM284 228h8v4h-8zM320 228h4v4h-4zM684 228h4v4h-4zM284 232h8v4h-8zM324 232h4v4h-4zM284 236h8v4h-8zM288 240h4v4h-4zM288 244h4v4h-4zM288 248h4v4h-4zM288 252h4v4h-4zM280 260h4v4h-4zM692 280h4v4h-4zM784 284h16v4h-16zM780 288h4v4h-4zM800 288h4v4h-4zM776 292h4v4h-4zM760 296h4v4h-4zM800 304h4v4h-4zM768 308h4v4h-4zM768 312h4v4h-4zM796 312h4v4h-4zM744 316h4v4h-4zM768 316h8v4h-8zM260 320h4v4h-4zM736 320h16v4h-16zM764 320h8v4h-8zM736 324h36v4h-36zM596 328h12v4h-12zM732 328h24v4h-24zM768 328h4v4h-4zM796 328h4v4h-4zM592 332h4v4h-4zM608 332h4v4h-4zM732 332h16v4h-16zM796 332h4v4h-4zM612 336h4v4h-4zM732 336h12v4h-12zM772 336h4v4h-4zM796 336h4v4h-4zM584 340h4v4h-4zM616 340h4v4h-4zM736 340h4v4h-4zM792 340h4v4h-4zM580 344h4v4h-4zM580 348h4v4h-4zM620 352h4v4h-4zM620 356h4v4h-4zM616 364h4v4h-4zM856 364h4v4h-4zM576 368h8v4h-8zM612 368h4v4h-4zM860 368h4v4h-4zM580 372h4v4h-4zM608 372h4v4h-4zM756 372h4v4h-4zM580 376h24v4h-24zM868 376h24v4h-24zM580 380h20v4h-20zM840 380h4v4h-4zM868 380h4v4h-4zM896 380h4v4h-4zM580 384h20v4h-20zM904 384h4v4h-4zM580 388h16v4h-16zM912 388h8v4h-8zM584 392h12v4h-12zM720 392h4v4h-4zM740 392h4v4h-4zM924 392h8v4h-8zM584 396h8v4h-8zM740 396h4v4h-4zM940 396h16v4h-16zM708 400h4v4h-4zM740 400h4v4h-4zM960 400h8v4h-8zM740 404h4v4h-4zM968 404h8v4h-8zM704 408h4v4h-4zM740 408h4v4h-4zM972 408h8v4h-8zM704 412h4v4h-4zM740 412h4v4h-4zM976 412h4v4h-4zM704 416h4v4h-4zM740 416h8v4h-8zM852 416h4v4h-4zM980 416h4v4h-4zM704 420h4v4h-4zM740 420h24v4h-24zM772 420h8v4h-8zM848 420h4v4h-4zM980 420h4v4h-4zM704 424h4v4h-4zM740 424h12v4h-12zM780 424h8v4h-8zM980 424h8v4h-8zM700 428h4v4h-4zM788 428h4v4h-4zM836 428h4v4h-4zM984 428h4v4h-4zM792 432h4v4h-4zM828 432h4v4h-4zM984 432h4v4h-4zM792 436h4v4h-4zM828 436h4v4h-4zM984 436h4v4h-4zM692 440h4v4h-4zM828 440h4v4h-4zM984 440h4v4h-4zM832 444h4v4h-4zM984 444h4v4h-4zM792 448h4v4h-4zM984 448h4v4h-4zM668 452h4v4h-4zM792 452h4v4h-4zM984 452h4v4h-4zM844 456h4v4h-4zM984 456h4v4h-4zM788 460h4v4h-4zM848 460h8v4h-8zM980 460h8v4h-8zM860 464h4v4h-4zM980 464h8v4h-8zM712 468h4v4h-4zM784 468h4v4h-4zM868 468h4v4h-4zM976 468h8v4h-8zM700 472h4v4h-4zM720 472h4v4h-4zM872 472h4v4h-4zM976 472h8v4h-8zM724 476h4v4h-4zM780 476h4v4h-4zM872 476h4v4h-4zM936 476h28v4h-28zM968 476h12v4h-12zM724 480h8v4h-8zM772 480h4v4h-4zM932 480h48v4h-48zM728 484h4v4h-4zM740 484h8v4h-8zM932 484h44v4h-44zM656 488h4v4h-4zM728 488h12v4h-12zM932 488h44v4h-44zM728 492h8v4h-8zM876 492h4v4h-4zM884 492h4v4h-4zM936 492h40v4h-40zM892 496h4v4h-4zM936 496h36v4h-36zM896 500h4v4h-4zM960 500h12v4h-12zM580 504h4v4h-4zM964 504h12v4h-12zM900 508h4v4h-4zM964 508h12v4h-12zM904 512h4v4h-4zM968 512h8v4h-8zM904 516h8v4h-8zM968 516h8v4h-8zM904 520h8v4h-8zM968 520h8v4h-8zM904 524h4v4h-4zM968 524h8v4h-8zM568 528h4v4h-4zM900 528h8v4h-8zM964 528h8v4h-8zM900 532h8v4h-8zM964 532h8v4h-8zM576 536h4v4h-4zM900 536h8v4h-8zM964 536h8v4h-8zM896 540h12v4h-12zM964 540h8v4h-8zM896 544h8v4h-8zM968 544h4v4h-4zM892 548h12v4h-12zM832 552h4v4h-4zM852 552h4v4h-4zM892 552h16v4h-16zM964 552h4v4h-4zM488 556h36v4h-36zM828 556h4v4h-4zM888 556h20v4h-20zM964 556h4v4h-4zM544 560h12v4h-12zM824 560h4v4h-4zM864 560h4v4h-4zM884 560h28v4h-28zM964 560h4v4h-4zM820 564h4v4h-4zM868 564h4v4h-4zM880 564h40v4h-40zM960 564h4v4h-4zM700 568h12v4h-12zM820 568h4v4h-4zM868 568h56v4h-56zM956 568h8v4h-8zM684 572h36v4h-36zM868 572h100v4h-100zM676 576h48v4h-48zM816 576h4v4h-4zM868 576h104v4h-104zM672 580h52v4h-52zM816 580h4v4h-4zM868 580h108v4h-108zM668 584h56v4h-56zM812 584h8v4h-8zM868 584h112v4h-112zM668 588h56v4h-56zM812 588h4v4h-4zM872 588h108v4h-108zM664 592h60v4h-60zM808 592h8v4h-8zM856 592h8v4h-8zM872 592h112v4h-112zM664 596h60v4h-60zM808 596h4v4h-4zM868 596h4v4h-4zM876 596h108v4h-108zM664 600h60v4h-60zM808 600h4v4h-4zM880 600h108v4h-108zM660 604h64v4h-64zM804 604h8v4h-8zM880 604h108v4h-108zM660 608h40v4h-40zM712 608h12v4h-12zM804 608h8v4h-8zM884 608h104v4h-104zM660 612h36v4h-36zM720 612h8v4h-8zM804 612h8v4h-8zM888 612h100v4h-100zM656 616h36v4h-36zM724 616h8v4h-8zM804 616h8v4h-8zM888 616h104v4h-104zM656 620h32v4h-32zM728 620h8v4h-8zM808 620h4v4h-4zM892 620h100v4h-100zM652 624h32v4h-32zM732 624h4v4h-4zM808 624h4v4h-4zM892 624h100v4h-100zM648 628h36v4h-36zM736 628h8v4h-8zM808 628h4v4h-4zM892 628h96v4h-96zM648 632h32v4h-32zM740 632h8v4h-8zM808 632h8v4h-8zM892 632h96v4h-96zM644 636h32v4h-32zM744 636h8v4h-8zM812 636h4v4h-4zM892 636h96v4h-96zM640 640h36v4h-36zM748 640h8v4h-8zM812 640h8v4h-8zM888 640h4v4h-4zM912 640h80v4h-80zM636 644h36v4h-36zM752 644h8v4h-8zM816 644h8v4h-8zM884 644h4v4h-4zM920 644h72v4h-72zM152 648h4v4h-4zM636 648h36v4h-36zM752 648h12v4h-12zM816 648h12v4h-12zM880 648h4v4h-4zM928 648h64v4h-64zM160 652h8v4h-8zM632 652h40v4h-40zM756 652h16v4h-16zM816 652h16v4h-16zM872 652h4v4h-4zM932 652h64v4h-64zM636 656h32v4h-32zM756 656h64v4h-64zM828 656h20v4h-20zM860 656h8v4h-8zM936 656h64v4h-64zM640 660h28v4h-28zM760 660h60v4h-60zM940 660h60v4h-60zM640 664h24v4h-24zM764 664h56v4h-56zM940 664h60v4h-60zM192 668h8v4h-8zM644 668h16v4h-16zM768 668h48v4h-48zM940 668h60v4h-60zM188 672h16v4h-16zM644 672h16v4h-16zM772 672h44v4h-44zM940 672h28v4h-28zM988 672h12v4h-12zM184 676h20v4h-20zM648 676h12v4h-12zM780 676h32v4h-32zM940 676h20v4h-20zM996 676h4v4h-4zM180 680h20v4h-20zM304 680h24v4h-24zM648 680h8v4h-8zM784 680h28v4h-28zM940 680h16v4h-16zM164 684h32v4h-32zM288 684h4v4h-4zM316 684h20v4h-20zM520 684h4v4h-4zM616 684h4v4h-4zM628 684h4v4h-4zM652 684h4v4h-4zM784 684h24v4h-24zM940 684h16v4h-16zM120 688h72v4h-72zM288 688h4v4h-4zM316 688h24v4h-24zM784 688h20v4h-20zM944 688h8v4h-8zM120 692h64v4h-64zM284 692h8v4h-8zM316 692h32v4h-32zM784 692h16v4h-16zM944 692h8v4h-8zM120 696h36v4h-36zM272 696h20v4h-20zM312 696h40v4h-40zM780 696h16v4h-16zM944 696h8v4h-8zM120 700h24v4h-24zM272 700h20v4h-20zM312 700h44v4h-44zM780 700h16v4h-16zM948 700h8v4h-8zM120 704h16v4h-16zM272 704h20v4h-20zM308 704h52v4h-52zM780 704h12v4h-12zM948 704h8v4h-8zM120 708h12v4h-12zM272 708h20v4h-20zM304 708h60v4h-60zM776 708h12v4h-12zM952 708h8v4h-8zM120 712h8v4h-8zM276 712h20v4h-20zM300 712h60v4h-60zM776 712h12v4h-12zM956 712h8v4h-8zM996 712h4v4h-4zM120 716h8v4h-8zM276 716h48v4h-48zM344 716h12v4h-12zM776 716h8v4h-8zM960 716h12v4h-12zM988 716h12v4h-12zM120 720h8v4h-8zM276 720h40v4h-40zM776 720h8v4h-8zM964 720h36v4h-36zM120 724h4v4h-4zM276 724h36v4h-36zM772 724h12v4h-12zM976 724h12v4h-12zM120 728h4v4h-4zM280 728h32v4h-32zM772 728h8v4h-8zM120 732h8v4h-8zM280 732h28v4h-28zM772 732h8v4h-8zM120 736h8v4h-8zM280 736h28v4h-28zM684 736h4v4h-4zM772 736h8v4h-8zM120 740h8v4h-8zM284 740h24v4h-24zM772 740h8v4h-8zM120 744h8v4h-8zM284 744h24v4h-24zM772 744h4v4h-4zM120 748h12v4h-12zM288 748h20v4h-20zM772 748h4v4h-4zM120 752h16v4h-16zM292 752h16v4h-16zM768 752h8v4h-8zM120 756h16v4h-16zM292 756h20v4h-20zM768 756h8v4h-8zM120 760h20v4h-20zM296 760h20v4h-20zM408 760h4v4h-4zM768 760h8v4h-8zM120 764h24v4h-24zM296 764h28v4h-28zM408 764h4v4h-4zM768 764h8v4h-8zM124 768h24v4h-24zM200 768h4v4h-4zM296 768h48v4h-48zM404 768h8v4h-8zM768 768h8v4h-8z"/>
<path fill="#969696" d="M456 76h16v4h-16zM456 80h20v4h-20zM460 84h20v4h-20zM460 88h28v4h-28zM464 92h28v4h-28zM468 96h28v4h-28zM468 100h32v4h-32zM472 104h32v4h-32zM472 108h36v4h-36zM548 108h80v4h-80zM472 112h48v4h-48zM532 112h104v4h-104zM476 116h168v4h-168zM860 116h12v4h-12zM476 120h172v4h-172zM868 120h4v4h-4zM480 124h172v4h-172zM868 124h4v4h-4zM480 128h68v4h-68zM620 128h40v4h-40zM868 128h4v4h-4zM484 132h56v4h-56zM628 132h36v4h-36zM828 132h4v4h-4zM488 136h40v4h-40zM632 136h36v4h-36zM636 140h36v4h-36zM860 140h4v4h-4zM640 144h36v4h-36zM812 144h4v4h-4zM856 144h4v4h-4zM644 148h32v4h-32zM808 148h4v4h-4zM852 148h4v4h-4zM644 152h36v4h-36zM848 152h4v4h-4zM644 156h36v4h-36zM800 156h4v4h-4zM844 156h4v4h-4zM648 160h32v4h-32zM840 160h4v4h-4zM648 164h32v4h-32zM836 164h4v4h-4zM648 168h32v4h-32zM724 168h4v4h-4zM792 168h4v4h-4zM832 168h4v4h-4zM652 172h28v4h-28zM720 172h4v4h-4zM792 172h4v4h-4zM828 172h4v4h-4zM656 176h24v4h-24zM796 176h8v4h-8zM824 176h4v4h-4zM656 180h24v4h-24zM812 180h12v4h-12zM660 184h20v4h-20zM720 184h4v4h-4zM660 188h20v4h-20zM720 188h12v4h-12zM468 192h4v4h-4zM580 192h4v4h-4zM664 192h16v4h-16zM712 192h20v4h-20zM560 196h4v4h-4zM664 196h16v4h-16zM712 196h24v4h-24zM300 200h12v4h-12zM664 200h12v4h-12zM708 200h20v4h-20zM292 204h28v4h-28zM612 204h4v4h-4zM664 204h12v4h-12zM704 204h20v4h-20zM288 208h8v4h-8zM316 208h4v4h-4zM672 208h4v4h-4zM704 208h20v4h-20zM284 212h8v4h-8zM320 212h4v4h-4zM700 212h20v4h-20zM284 216h4v4h-4zM320 216h4v4h-4zM696 216h24v4h-24zM280 220h8v4h-8zM320 220h4v4h-4zM688 220h28v4h-28zM280 224h4v4h-4zM320 224h4v4h-4zM684 224h28v4h-28zM280 228h4v4h-4zM324 228h4v4h-4zM688 228h16v4h-16zM280 232h4v4h-4zM328 232h4v4h-4zM688 232h8v4h-8zM284 240h4v4h-4zM284 244h4v4h-4zM284 248h4v4h-4zM784 288h16v4h-16zM780 292h4v4h-4zM796 292h8v4h-8zM700 296h4v4h-4zM748 296h4v4h-4zM800 296h4v4h-4zM744 300h4v4h-4zM800 300h4v4h-4zM768 304h4v4h-4zM740 308h4v4h-4zM772 308h8v4h-8zM796 308h4v4h-4zM732 312h12v4h-12zM772 312h8v4h-8zM792 312h4v4h-4zM736 316h8v4h-8zM776 316h4v4h-4zM792 316h4v4h-4zM772 320h4v4h-4zM792 320h4v4h-4zM732 324h4v4h-4zM728 328h4v4h-4zM596 332h12v4h-12zM588 336h4v4h-4zM780 340h4v4h-4zM788 340h4v4h-4zM584 344h4v4h-4zM580 352h4v4h-4zM580 356h4v4h-4zM580 360h4v4h-4zM748 360h4v4h-4zM580 364h8v4h-8zM848 364h4v4h-4zM584 368h4v4h-4zM760 368h4v4h-4zM584 372h24v4h-24zM864 376h4v4h-4zM872 380h8v4h-8zM884 380h12v4h-12zM900 384h4v4h-4zM908 388h4v4h-4zM724 392h16v4h-16zM848 392h4v4h-4zM916 392h8v4h-8zM716 396h8v4h-8zM736 396h4v4h-4zM924 396h16v4h-16zM712 400h4v4h-4zM736 400h4v4h-4zM940 400h20v4h-20zM240 404h4v4h-4zM708 404h4v4h-4zM736 404h4v4h-4zM852 404h4v4h-4zM956 404h12v4h-12zM708 408h4v4h-4zM736 408h4v4h-4zM964 408h8v4h-8zM708 412h4v4h-4zM736 412h4v4h-4zM968 412h8v4h-8zM708 416h4v4h-4zM736 416h4v4h-4zM972 416h8v4h-8zM708 420h4v4h-4zM736 420h4v4h-4zM764 420h8v4h-8zM852 420h4v4h-4zM972 420h8v4h-8zM708 424h4v4h-4zM736 424h4v4h-4zM752 424h8v4h-8zM776 424h4v4h-4zM844 424h4v4h-4zM976 424h4v4h-4zM736 428h16v4h-16zM784 428h4v4h-4zM840 428h4v4h-4zM976 428h8v4h-8zM696 432h4v4h-4zM788 432h4v4h-4zM832 432h8v4h-8zM976 432h8v4h-8zM236 436h4v4h-4zM832 436h4v4h-4zM976 436h8v4h-8zM792 440h4v4h-4zM832 440h4v4h-4zM976 440h8v4h-8zM792 444h4v4h-4zM836 444h4v4h-4zM976 444h8v4h-8zM676 448h4v4h-4zM836 448h8v4h-8zM976 448h8v4h-8zM788 452h4v4h-4zM840 452h8v4h-8zM976 452h8v4h-8zM788 456h4v4h-4zM848 456h4v4h-4zM976 456h8v4h-8zM856 460h4v4h-4zM940 460h12v4h-12zM972 460h8v4h-8zM784 464h4v4h-4zM864 464h4v4h-4zM932 464h48v4h-48zM708 468h4v4h-4zM716 468h4v4h-4zM872 468h4v4h-4zM928 468h48v4h-48zM696 472h4v4h-4zM724 472h4v4h-4zM780 472h4v4h-4zM924 472h52v4h-52zM644 476h4v4h-4zM680 476h4v4h-4zM728 476h4v4h-4zM776 476h4v4h-4zM924 476h12v4h-12zM964 476h4v4h-4zM644 480h4v4h-4zM732 480h40v4h-40zM928 480h4v4h-4zM648 484h4v4h-4zM732 484h8v4h-8zM928 484h4v4h-4zM660 488h8v4h-8zM928 488h4v4h-4zM892 492h4v4h-4zM928 492h8v4h-8zM928 496h8v4h-8zM924 500h36v4h-36zM900 504h8v4h-8zM920 504h44v4h-44zM904 508h60v4h-60zM908 512h60v4h-60zM912 516h56v4h-56zM912 520h56v4h-56zM580 524h4v4h-4zM908 524h60v4h-60zM908 528h28v4h-28zM948 528h16v4h-16zM908 532h16v4h-16zM956 532h8v4h-8zM908 536h12v4h-12zM960 536h4v4h-4zM908 540h8v4h-8zM904 544h12v4h-12zM964 544h4v4h-4zM904 548h12v4h-12zM964 548h4v4h-4zM836 552h16v4h-16zM908 552h8v4h-8zM856 556h4v4h-4zM908 556h8v4h-8zM960 556h4v4h-4zM460 560h16v4h-16zM532 560h12v4h-12zM860 560h4v4h-4zM912 560h8v4h-8zM960 560h4v4h-4zM824 564h4v4h-4zM864 564h4v4h-4zM920 564h4v4h-4zM956 564h4v4h-4zM864 568h4v4h-4zM924 568h12v4h-12zM948 568h8v4h-8zM552 572h4v4h-4zM820 572h4v4h-4zM864 572h4v4h-4zM820 576h4v4h-4zM860 576h8v4h-8zM820 580h4v4h-4zM856 580h12v4h-12zM820 584h4v4h-4zM852 584h16v4h-16zM816 588h4v4h-4zM856 588h16v4h-16zM816 592h4v4h-4zM852 592h4v4h-4zM864 592h8v4h-8zM812 596h4v4h-4zM872 596h4v4h-4zM812 600h4v4h-4zM848 600h4v4h-4zM872 600h8v4h-8zM812 604h4v4h-4zM848 604h4v4h-4zM872 604h8v4h-8zM700 608h12v4h-12zM812 608h4v4h-4zM880 608h4v4h-4zM696 612h24v4h-24zM812 612h4v4h-4zM856 612h8v4h-8zM880 612h8v4h-8zM692 616h32v4h-32zM812 616h4v4h-4zM884 616h4v4h-4zM688 620h40v4h-40zM812 620h4v4h-4zM884 620h8v4h-8zM684 624h20v4h-20zM724 624h8v4h-8zM812 624h4v4h-4zM888 624h4v4h-4zM684 628h16v4h-16zM728 628h8v4h-8zM812 628h8v4h-8zM888 628h4v4h-4zM680 632h16v4h-16zM736 632h4v4h-4zM816 632h4v4h-4zM888 632h4v4h-4zM676 636h16v4h-16zM740 636h4v4h-4zM816 636h8v4h-8zM888 636h4v4h-4zM676 640h12v4h-12zM740 640h8v4h-8zM820 640h4v4h-4zM884 640h4v4h-4zM672 644h16v4h-16zM744 644h8v4h-8zM824 644h4v4h-4zM880 644h4v4h-4zM672 648h12v4h-12zM744 648h8v4h-8zM828 648h4v4h-4zM876 648h4v4h-4zM672 652h12v4h-12zM748 652h8v4h-8zM832 652h8v4h-8zM868 652h4v4h-4zM668 656h16v4h-16zM748 656h8v4h-8zM848 656h12v4h-12zM668 660h16v4h-16zM748 660h12v4h-12zM664 664h20v4h-20zM748 664h16v4h-16zM660 668h24v4h-24zM748 668h20v4h-20zM204 672h4v4h-4zM660 672h24v4h-24zM748 672h24v4h-24zM968 672h20v4h-20zM204 676h8v4h-8zM644 676h4v4h-4zM660 676h24v4h-24zM744 676h36v4h-36zM960 676h36v4h-36zM200 680h16v4h-16zM296 680h4v4h-4zM328 680h4v4h-4zM656 680h32v4h-32zM744 680h40v4h-40zM956 680h44v4h-44zM196 684h16v4h-16zM648 684h4v4h-4zM656 684h32v4h-32zM740 684h44v4h-44zM956 684h44v4h-44zM192 688h16v4h-16zM560 688h4v4h-4zM664 688h24v4h-24zM732 688h52v4h-52zM952 688h48v4h-48zM184 692h24v4h-24zM252 692h20v4h-20zM280 692h4v4h-4zM668 692h12v4h-12zM728 692h56v4h-56zM952 692h48v4h-48zM156 696h52v4h-52zM244 696h28v4h-28zM672 696h4v4h-4zM708 696h72v4h-72zM952 696h48v4h-48zM144 700h64v4h-64zM248 700h24v4h-24zM708 700h72v4h-72zM956 700h44v4h-44zM136 704h24v4h-24zM184 704h28v4h-28zM256 704h16v4h-16zM360 704h4v4h-4zM708 704h72v4h-72zM956 704h44v4h-44zM132 708h20v4h-20zM192 708h24v4h-24zM260 708h12v4h-12zM364 708h4v4h-4zM708 708h68v4h-68zM960 708h40v4h-40zM128 712h16v4h-16zM196 712h28v4h-28zM264 712h12v4h-12zM360 712h12v4h-12zM708 712h68v4h-68zM964 712h32v4h-32zM128 716h16v4h-16zM196 716h28v4h-28zM264 716h12v4h-12zM324 716h20v4h-20zM356 716h20v4h-20zM708 716h68v4h-68zM972 716h16v4h-16zM128 720h12v4h-12zM200 720h24v4h-24zM268 720h8v4h-8zM316 720h64v4h-64zM704 720h72v4h-72zM124 724h16v4h-16zM200 724h24v4h-24zM268 724h8v4h-8zM312 724h12v4h-12zM340 724h44v4h-44zM700 724h72v4h-72zM124 728h16v4h-16zM200 728h24v4h-24zM268 728h12v4h-12zM312 728h8v4h-8zM344 728h44v4h-44zM684 728h8v4h-8zM696 728h76v4h-76zM128 732h12v4h-12zM200 732h24v4h-24zM272 732h8v4h-8zM308 732h8v4h-8zM348 732h44v4h-44zM684 732h4v4h-4zM700 732h72v4h-72zM128 736h12v4h-12zM200 736h24v4h-24zM272 736h8v4h-8zM308 736h8v4h-8zM348 736h48v4h-48zM700 736h72v4h-72zM128 740h12v4h-12zM196 740h28v4h-28zM272 740h12v4h-12zM308 740h8v4h-8zM348 740h52v4h-52zM684 740h4v4h-4zM700 740h72v4h-72zM128 744h16v4h-16zM196 744h28v4h-28zM272 744h12v4h-12zM308 744h8v4h-8zM348 744h56v4h-56zM684 744h4v4h-4zM700 744h72v4h-72zM132 748h16v4h-16zM192 748h36v4h-36zM272 748h16v4h-16zM308 748h8v4h-8zM348 748h60v4h-60zM688 748h84v4h-84zM136 752h12v4h-12zM188 752h40v4h-40zM272 752h20v4h-20zM308 752h12v4h-12zM344 752h64v4h-64zM700 752h68v4h-68zM136 756h20v4h-20zM184 756h48v4h-48zM268 756h24v4h-24zM312 756h100v4h-100zM700 756h68v4h-68zM140 760h92v4h-92zM264 760h32v4h-32zM316 760h92v4h-92zM700 760h68v4h-68zM144 764h96v4h-96zM260 764h36v4h-36zM324 764h84v4h-84zM700 764h68v4h-68zM148 768h52v4h-52zM204 768h92v4h-92zM344 768h60v4h-60zM700 768h68v4h-68z"/>
<path fill="#989898" d="M452 76h4v4h-4zM452 80h4v4h-4zM456 84h4v4h-4zM456 88h4v4h-4zM460 92h4v4h-4zM460 96h8v4h-8zM464 100h4v4h-4zM464 104h8v4h-8zM464 108h8v4h-8zM468 112h4v4h-4zM468 116h8v4h-8zM468 120h8v4h-8zM852 120h4v4h-4zM864 120h4v4h-4zM468 124h12v4h-12zM472 128h8v4h-8zM548 128h72v4h-72zM472 132h12v4h-12zM540 132h88v4h-88zM864 132h4v4h-4zM472 136h16v4h-16zM528 136h104v4h-104zM472 140h164v4h-164zM472 144h84v4h-84zM600 144h40v4h-40zM472 148h72v4h-72zM612 148h32v4h-32zM472 152h64v4h-64zM620 152h24v4h-24zM804 152h4v4h-4zM476 156h52v4h-52zM620 156h24v4h-24zM480 160h44v4h-44zM624 160h24v4h-24zM836 160h4v4h-4zM488 164h28v4h-28zM628 164h20v4h-20zM832 164h4v4h-4zM496 168h12v4h-12zM628 168h20v4h-20zM728 168h4v4h-4zM828 168h4v4h-4zM632 172h20v4h-20zM824 172h4v4h-4zM636 176h20v4h-20zM804 176h20v4h-20zM640 180h16v4h-16zM720 180h4v4h-4zM644 184h16v4h-16zM648 188h12v4h-12zM488 192h4v4h-4zM652 192h12v4h-12zM300 196h12v4h-12zM492 196h4v4h-4zM652 196h12v4h-12zM288 200h12v4h-12zM312 200h8v4h-8zM652 200h12v4h-12zM728 200h8v4h-8zM284 204h8v4h-8zM320 204h4v4h-4zM464 204h4v4h-4zM724 204h8v4h-8zM280 208h8v4h-8zM320 208h4v4h-4zM472 208h12v4h-12zM644 208h4v4h-4zM724 208h4v4h-4zM736 208h4v4h-4zM280 212h4v4h-4zM720 212h4v4h-4zM280 216h4v4h-4zM720 216h4v4h-4zM276 220h4v4h-4zM716 220h12v4h-12zM276 224h4v4h-4zM480 224h4v4h-4zM712 224h16v4h-16zM276 228h4v4h-4zM476 228h4v4h-4zM704 228h24v4h-24zM696 232h28v4h-28zM280 236h4v4h-4zM464 236h4v4h-4zM700 236h20v4h-20zM280 240h4v4h-4zM700 240h12v4h-12zM700 244h4v4h-4zM284 252h4v4h-4zM284 256h4v4h-4zM760 256h4v4h-4zM760 268h4v4h-4zM764 276h4v4h-4zM768 284h4v4h-4zM260 288h4v4h-4zM752 292h24v4h-24zM784 292h12v4h-12zM740 296h8v4h-8zM764 296h20v4h-20zM792 296h8v4h-8zM728 300h16v4h-16zM768 300h12v4h-12zM796 300h4v4h-4zM708 304h4v4h-4zM720 304h24v4h-24zM772 304h8v4h-8zM792 304h8v4h-8zM716 308h24v4h-24zM780 308h4v4h-4zM792 308h4v4h-4zM780 312h4v4h-4zM788 312h4v4h-4zM732 316h4v4h-4zM788 316h4v4h-4zM716 320h4v4h-4zM732 320h4v4h-4zM880 320h4v4h-4zM880 324h4v4h-4zM592 336h4v4h-4zM608 336h4v4h-4zM792 336h4v4h-4zM588 340h4v4h-4zM616 344h4v4h-4zM584 348h4v4h-4zM584 352h4v4h-4zM584 356h4v4h-4zM584 360h4v4h-4zM588 364h4v4h-4zM852 364h4v4h-4zM588 368h8v4h-8zM608 368h4v4h-4zM844 368h4v4h-4zM880 380h4v4h-4zM868 384h12v4h-12zM884 384h16v4h-16zM896 388h12v4h-12zM904 392h12v4h-12zM724 396h12v4h-12zM852 396h4v4h-4zM912 396h12v4h-12zM716 400h8v4h-8zM732 400h4v4h-4zM852 400h4v4h-4zM920 400h20v4h-20zM712 404h8v4h-8zM732 404h4v4h-4zM924 404h32v4h-32zM712 408h4v4h-4zM732 408h4v4h-4zM928 408h36v4h-36zM712 412h4v4h-4zM732 412h4v4h-4zM856 412h4v4h-4zM932 412h36v4h-36zM712 416h4v4h-4zM728 416h8v4h-8zM856 416h4v4h-4zM936 416h36v4h-36zM712 420h8v4h-8zM728 420h8v4h-8zM856 420h4v4h-4zM940 420h32v4h-32zM712 424h8v4h-8zM724 424h12v4h-12zM760 424h16v4h-16zM848 424h8v4h-8zM940 424h36v4h-36zM704 428h16v4h-16zM724 428h12v4h-12zM752 428h4v4h-4zM780 428h4v4h-4zM844 428h8v4h-8zM940 428h36v4h-36zM716 432h4v4h-4zM732 432h16v4h-16zM784 432h4v4h-4zM840 432h12v4h-12zM944 432h32v4h-32zM788 436h4v4h-4zM836 436h12v4h-12zM944 436h32v4h-32zM788 440h4v4h-4zM836 440h12v4h-12zM940 440h36v4h-36zM692 444h4v4h-4zM788 444h4v4h-4zM840 444h12v4h-12zM936 444h40v4h-40zM788 448h4v4h-4zM844 448h12v4h-12zM932 448h44v4h-44zM848 452h12v4h-12zM928 452h48v4h-48zM852 456h12v4h-12zM924 456h52v4h-52zM784 460h4v4h-4zM860 460h8v4h-8zM924 460h16v4h-16zM952 460h20v4h-20zM712 464h8v4h-8zM868 464h8v4h-8zM920 464h12v4h-12zM704 468h4v4h-4zM720 468h8v4h-8zM780 468h4v4h-4zM876 468h4v4h-4zM920 468h8v4h-8zM648 472h4v4h-4zM692 472h4v4h-4zM728 472h4v4h-4zM876 472h4v4h-4zM920 472h4v4h-4zM732 476h8v4h-8zM772 476h4v4h-4zM920 476h4v4h-4zM924 480h4v4h-4zM652 484h4v4h-4zM924 484h4v4h-4zM888 488h4v4h-4zM924 488h4v4h-4zM880 492h4v4h-4zM924 492h4v4h-4zM896 496h4v4h-4zM924 496h4v4h-4zM252 500h4v4h-4zM900 500h4v4h-4zM920 500h4v4h-4zM488 504h4v4h-4zM908 504h12v4h-12zM936 528h12v4h-12zM924 532h12v4h-12zM948 532h8v4h-8zM920 536h4v4h-4zM956 536h4v4h-4zM916 540h4v4h-4zM960 540h4v4h-4zM916 544h4v4h-4zM960 544h4v4h-4zM916 548h4v4h-4zM960 548h4v4h-4zM916 552h4v4h-4zM960 552h4v4h-4zM832 556h4v4h-4zM852 556h4v4h-4zM916 556h4v4h-4zM456 560h4v4h-4zM476 560h12v4h-12zM492 560h16v4h-16zM524 560h8v4h-8zM828 560h4v4h-4zM856 560h4v4h-4zM920 560h4v4h-4zM956 560h4v4h-4zM860 564h4v4h-4zM924 564h4v4h-4zM952 564h4v4h-4zM552 568h4v4h-4zM824 568h4v4h-4zM860 568h4v4h-4zM936 568h12v4h-12zM824 572h4v4h-4zM860 572h4v4h-4zM824 576h4v4h-4zM852 576h8v4h-8zM824 580h4v4h-4zM844 580h12v4h-12zM824 584h8v4h-8zM836 584h16v4h-16zM820 588h12v4h-12zM836 588h20v4h-20zM820 592h4v4h-4zM840 592h12v4h-12zM816 596h8v4h-8zM848 596h4v4h-4zM352 600h4v4h-4zM816 600h4v4h-4zM816 604h4v4h-4zM816 608h4v4h-4zM868 608h12v4h-12zM816 612h4v4h-4zM876 612h4v4h-4zM816 616h4v4h-4zM880 616h4v4h-4zM816 620h4v4h-4zM704 624h20v4h-20zM816 624h8v4h-8zM884 624h4v4h-4zM700 628h28v4h-28zM820 628h4v4h-4zM884 628h4v4h-4zM696 632h12v4h-12zM724 632h12v4h-12zM820 632h4v4h-4zM884 632h4v4h-4zM692 636h12v4h-12zM732 636h8v4h-8zM824 636h4v4h-4zM884 636h4v4h-4zM688 640h12v4h-12zM736 640h4v4h-4zM824 640h8v4h-8zM880 640h4v4h-4zM688 644h8v4h-8zM736 644h8v4h-8zM828 644h8v4h-8zM876 644h4v4h-4zM684 648h8v4h-8zM740 648h4v4h-4zM832 648h8v4h-8zM872 648h4v4h-4zM684 652h8v4h-8zM740 652h8v4h-8zM840 652h12v4h-12zM860 652h8v4h-8zM684 656h8v4h-8zM740 656h8v4h-8zM684 660h8v4h-8zM740 660h8v4h-8zM684 664h12v4h-12zM736 664h12v4h-12zM684 668h12v4h-12zM736 668h12v4h-12zM684 672h16v4h-16zM732 672h16v4h-16zM316 676h4v4h-4zM684 676h20v4h-20zM724 676h20v4h-20zM216 680h8v4h-8zM688 680h56v4h-56zM212 684h20v4h-20zM528 684h8v4h-8zM688 684h52v4h-52zM208 688h28v4h-28zM284 688h4v4h-4zM340 688h4v4h-4zM688 688h44v4h-44zM208 692h44v4h-44zM272 692h8v4h-8zM680 692h48v4h-48zM208 696h36v4h-36zM676 696h4v4h-4zM700 696h8v4h-8zM208 700h40v4h-40zM704 700h4v4h-4zM160 704h24v4h-24zM212 704h44v4h-44zM704 704h4v4h-4zM152 708h40v4h-40zM216 708h44v4h-44zM704 708h4v4h-4zM144 712h52v4h-52zM224 712h40v4h-40zM704 712h4v4h-4zM144 716h52v4h-52zM224 716h40v4h-40zM704 716h4v4h-4zM140 720h20v4h-20zM176 720h24v4h-24zM224 720h16v4h-16zM256 720h12v4h-12zM672 720h8v4h-8zM700 720h4v4h-4zM140 724h16v4h-16zM180 724h20v4h-20zM224 724h12v4h-12zM260 724h8v4h-8zM324 724h16v4h-16zM672 724h28v4h-28zM140 728h16v4h-16zM180 728h20v4h-20zM224 728h12v4h-12zM260 728h8v4h-8zM320 728h24v4h-24zM672 728h12v4h-12zM140 732h16v4h-16zM180 732h20v4h-20zM224 732h12v4h-12zM264 732h8v4h-8zM316 732h8v4h-8zM336 732h12v4h-12zM672 732h12v4h-12zM140 736h20v4h-20zM180 736h20v4h-20zM224 736h12v4h-12zM264 736h8v4h-8zM316 736h8v4h-8zM340 736h8v4h-8zM672 736h12v4h-12zM140 740h24v4h-24zM176 740h20v4h-20zM224 740h12v4h-12zM260 740h12v4h-12zM316 740h8v4h-8zM340 740h8v4h-8zM672 740h12v4h-12zM144 744h52v4h-52zM224 744h12v4h-12zM260 744h12v4h-12zM316 744h8v4h-8zM336 744h12v4h-12zM672 744h12v4h-12zM148 748h44v4h-44zM228 748h12v4h-12zM256 748h16v4h-16zM316 748h32v4h-32zM672 748h16v4h-16zM148 752h40v4h-40zM228 752h44v4h-44zM320 752h24v4h-24zM672 752h28v4h-28zM156 756h28v4h-28zM232 756h36v4h-36zM676 756h24v4h-24zM232 760h32v4h-32zM684 760h8v4h-8zM696 760h4v4h-4zM240 764h20v4h-20z"/>
<path fill="#9a9a9a" d="M448 76h4v4h-4zM448 80h4v4h-4zM452 84h4v4h-4zM452 88h4v4h-4zM456 92h4v4h-4zM456 96h4v4h-4zM460 100h4v4h-4zM460 104h4v4h-4zM460 108h4v4h-4zM464 112h4v4h-4zM464 116h4v4h-4zM464 120h4v4h-4zM856 120h8v4h-8zM464 124h4v4h-4zM864 124h4v4h-4zM464 128h8v4h-8zM864 128h4v4h-4zM464 132h8v4h-8zM464 136h8v4h-8zM824 136h4v4h-4zM860 136h4v4h-4zM464 140h8v4h-8zM856 140h4v4h-4zM464 144h8v4h-8zM556 144h44v4h-44zM852 144h4v4h-4zM464 148h8v4h-8zM544 148h68v4h-68zM848 148h4v4h-4zM460 152h12v4h-12zM536 152h84v4h-84zM844 152h4v4h-4zM460 156h16v4h-16zM528 156h92v4h-92zM840 156h4v4h-4zM460 160h20v4h-20zM524 160h16v4h-16zM556 160h12v4h-12zM576 160h48v4h-48zM464 164h24v4h-24zM516 164h16v4h-16zM588 164h40v4h-40zM796 164h4v4h-4zM828 164h4v4h-4zM472 168h24v4h-24zM508 168h20v4h-20zM596 168h32v4h-32zM824 168h4v4h-4zM480 172h44v4h-44zM604 172h28v4h-28zM796 172h4v4h-4zM816 172h8v4h-8zM484 176h36v4h-36zM624 176h12v4h-12zM720 176h4v4h-4zM484 180h36v4h-36zM632 180h8v4h-8zM488 184h32v4h-32zM636 184h8v4h-8zM484 188h32v4h-32zM640 188h8v4h-8zM492 192h24v4h-24zM644 192h8v4h-8zM288 196h12v4h-12zM312 196h8v4h-8zM496 196h4v4h-4zM528 196h4v4h-4zM648 196h4v4h-4zM284 200h4v4h-4zM320 200h4v4h-4zM492 200h4v4h-4zM648 200h4v4h-4zM280 204h4v4h-4zM324 204h4v4h-4zM732 204h4v4h-4zM276 208h4v4h-4zM324 208h4v4h-4zM276 212h4v4h-4zM324 212h4v4h-4zM640 212h4v4h-4zM724 212h4v4h-4zM276 216h4v4h-4zM724 216h4v4h-4zM484 220h8v4h-8zM728 220h4v4h-4zM324 224h4v4h-4zM484 224h12v4h-12zM728 224h4v4h-4zM744 224h4v4h-4zM488 228h12v4h-12zM728 228h8v4h-8zM276 232h4v4h-4zM496 232h8v4h-8zM724 232h12v4h-12zM276 236h4v4h-4zM452 236h4v4h-4zM460 236h4v4h-4zM504 236h4v4h-4zM720 236h16v4h-16zM712 240h20v4h-20zM280 244h4v4h-4zM704 244h24v4h-24zM704 248h20v4h-20zM708 252h8v4h-8zM268 272h4v4h-4zM756 272h8v4h-8zM748 276h16v4h-16zM720 280h48v4h-48zM716 284h52v4h-52zM716 288h56v4h-56zM720 292h32v4h-32zM720 296h20v4h-20zM784 296h8v4h-8zM720 300h8v4h-8zM780 300h16v4h-16zM716 304h4v4h-4zM780 304h12v4h-12zM712 308h4v4h-4zM784 308h8v4h-8zM716 312h4v4h-4zM728 312h4v4h-4zM784 312h4v4h-4zM780 316h4v4h-4zM868 316h4v4h-4zM772 332h4v4h-4zM596 336h12v4h-12zM592 340h4v4h-4zM612 340h4v4h-4zM784 340h4v4h-4zM268 344h4v4h-4zM588 344h4v4h-4zM756 356h4v4h-4zM588 360h4v4h-4zM616 360h4v4h-4zM760 360h4v4h-4zM596 368h4v4h-4zM604 368h4v4h-4zM856 368h4v4h-4zM860 372h4v4h-4zM864 380h4v4h-4zM880 384h4v4h-4zM876 388h20v4h-20zM884 392h20v4h-20zM888 396h24v4h-24zM724 400h8v4h-8zM896 400h24v4h-24zM720 404h12v4h-12zM896 404h28v4h-28zM716 408h16v4h-16zM896 408h32v4h-32zM716 412h16v4h-16zM892 412h40v4h-40zM716 416h12v4h-12zM860 416h8v4h-8zM892 416h44v4h-44zM720 420h8v4h-8zM860 420h24v4h-24zM888 420h52v4h-52zM720 424h4v4h-4zM856 424h84v4h-84zM720 428h4v4h-4zM756 428h8v4h-8zM772 428h8v4h-8zM852 428h88v4h-88zM712 432h4v4h-4zM720 432h12v4h-12zM748 432h4v4h-4zM780 432h4v4h-4zM852 432h36v4h-36zM896 432h48v4h-48zM716 436h28v4h-28zM784 436h4v4h-4zM848 436h36v4h-36zM900 436h44v4h-44zM716 440h8v4h-8zM848 440h32v4h-32zM904 440h36v4h-36zM852 444h28v4h-28zM908 444h28v4h-28zM680 448h4v4h-4zM856 448h20v4h-20zM912 448h20v4h-20zM784 452h4v4h-4zM860 452h16v4h-16zM912 452h16v4h-16zM784 456h4v4h-4zM864 456h12v4h-12zM912 456h12v4h-12zM712 460h8v4h-8zM868 460h8v4h-8zM912 460h12v4h-12zM708 464h4v4h-4zM720 464h8v4h-8zM780 464h4v4h-4zM876 464h4v4h-4zM912 464h8v4h-8zM728 468h4v4h-4zM880 468h4v4h-4zM912 468h8v4h-8zM688 472h4v4h-4zM732 472h8v4h-8zM776 472h4v4h-4zM880 472h4v4h-4zM916 472h4v4h-4zM236 476h4v4h-4zM740 476h12v4h-12zM768 476h4v4h-4zM916 476h4v4h-4zM648 480h4v4h-4zM920 480h4v4h-4zM920 484h4v4h-4zM872 488h4v4h-4zM892 488h4v4h-4zM896 492h4v4h-4zM920 492h4v4h-4zM920 496h4v4h-4zM904 500h16v4h-16zM584 508h4v4h-4zM268 524h4v4h-4zM268 532h4v4h-4zM936 532h12v4h-12zM924 536h4v4h-4zM952 536h4v4h-4zM920 540h4v4h-4zM956 540h4v4h-4zM836 556h16v4h-16zM920 556h4v4h-4zM488 560h4v4h-4zM508 560h16v4h-16zM832 560h4v4h-4zM852 560h4v4h-4zM540 564h16v4h-16zM828 564h4v4h-4zM856 564h4v4h-4zM928 564h4v4h-4zM948 564h4v4h-4zM828 568h4v4h-4zM856 568h4v4h-4zM828 572h4v4h-4zM852 572h8v4h-8zM828 576h4v4h-4zM844 576h8v4h-8zM828 580h16v4h-16zM832 584h4v4h-4zM832 588h4v4h-4zM824 592h16v4h-16zM824 596h24v4h-24zM820 600h8v4h-8zM820 604h8v4h-8zM820 608h4v4h-4zM848 608h4v4h-4zM820 612h4v4h-4zM852 612h4v4h-4zM864 612h4v4h-4zM820 616h4v4h-4zM876 616h4v4h-4zM820 620h8v4h-8zM880 620h4v4h-4zM824 624h4v4h-4zM880 624h4v4h-4zM824 628h4v4h-4zM708 632h16v4h-16zM824 632h8v4h-8zM704 636h28v4h-28zM828 636h4v4h-4zM880 636h4v4h-4zM700 640h36v4h-36zM832 640h4v4h-4zM696 644h12v4h-12zM728 644h8v4h-8zM836 644h4v4h-4zM156 648h4v4h-4zM692 648h12v4h-12zM728 648h12v4h-12zM840 648h4v4h-4zM868 648h4v4h-4zM692 652h12v4h-12zM728 652h12v4h-12zM852 652h8v4h-8zM692 656h12v4h-12zM728 656h12v4h-12zM692 660h12v4h-12zM728 660h12v4h-12zM696 664h12v4h-12zM724 664h12v4h-12zM696 668h40v4h-40zM700 672h32v4h-32zM308 676h8v4h-8zM704 676h20v4h-20zM224 680h4v4h-4zM232 684h4v4h-4zM568 684h4v4h-4zM600 684h4v4h-4zM612 684h4v4h-4zM668 696h4v4h-4zM680 696h4v4h-4zM696 696h4v4h-4zM672 700h8v4h-8zM700 700h4v4h-4zM668 704h8v4h-8zM668 708h8v4h-8zM664 712h12v4h-12zM664 716h16v4h-16zM700 716h4v4h-4zM160 720h16v4h-16zM240 720h16v4h-16zM380 720h4v4h-4zM664 720h8v4h-8zM680 720h4v4h-4zM696 720h4v4h-4zM156 724h24v4h-24zM236 724h24v4h-24zM384 724h4v4h-4zM664 724h8v4h-8zM156 728h24v4h-24zM236 728h24v4h-24zM388 728h4v4h-4zM664 728h8v4h-8zM156 732h24v4h-24zM236 732h28v4h-28zM324 732h12v4h-12zM392 732h4v4h-4zM664 732h8v4h-8zM160 736h20v4h-20zM236 736h28v4h-28zM324 736h16v4h-16zM664 736h8v4h-8zM164 740h12v4h-12zM236 740h24v4h-24zM324 740h16v4h-16zM664 740h8v4h-8zM236 744h24v4h-24zM324 744h12v4h-12zM664 744h8v4h-8zM240 748h16v4h-16zM664 748h8v4h-8zM664 752h8v4h-8zM668 756h8v4h-8zM672 760h12v4h-12zM692 760h4v4h-4zM676 764h24v4h-24zM696 768h4v4h-4z"/>
<path fill="#9c9c9c" d="M444 76h4v4h-4zM448 84h4v4h-4zM452 92h4v4h-4zM456 100h4v4h-4zM456 104h4v4h-4zM460 112h4v4h-4zM460 116h4v4h-4zM460 120h4v4h-4zM460 124h4v4h-4zM844 124h4v4h-4zM460 128h4v4h-4zM836 128h4v4h-4zM460 132h4v4h-4zM860 132h4v4h-4zM460 136h4v4h-4zM460 140h4v4h-4zM820 140h4v4h-4zM460 144h4v4h-4zM456 148h8v4h-8zM456 152h4v4h-4zM456 156h4v4h-4zM836 156h4v4h-4zM452 160h8v4h-8zM540 160h16v4h-16zM568 160h8v4h-8zM832 160h4v4h-4zM456 164h8v4h-8zM532 164h8v4h-8zM548 164h40v4h-40zM456 168h16v4h-16zM528 168h4v4h-4zM560 168h36v4h-36zM796 168h4v4h-4zM820 168h4v4h-4zM460 172h20v4h-20zM524 172h4v4h-4zM564 172h40v4h-40zM800 172h16v4h-16zM464 176h20v4h-20zM520 176h8v4h-8zM584 176h40v4h-40zM468 180h16v4h-16zM520 180h4v4h-4zM588 180h44v4h-44zM472 184h16v4h-16zM520 184h4v4h-4zM632 184h4v4h-4zM724 184h4v4h-4zM472 188h12v4h-12zM516 188h8v4h-8zM636 188h4v4h-4zM292 192h24v4h-24zM464 192h4v4h-4zM516 192h12v4h-12zM640 192h4v4h-4zM284 196h4v4h-4zM320 196h4v4h-4zM460 196h4v4h-4zM556 196h4v4h-4zM592 196h4v4h-4zM644 196h4v4h-4zM280 200h4v4h-4zM324 200h4v4h-4zM460 200h4v4h-4zM592 200h4v4h-4zM276 204h4v4h-4zM596 204h8v4h-8zM468 208h4v4h-4zM728 208h4v4h-4zM272 212h4v4h-4zM472 212h12v4h-12zM728 212h4v4h-4zM272 216h4v4h-4zM324 216h4v4h-4zM472 216h16v4h-16zM728 216h4v4h-4zM272 220h4v4h-4zM324 220h4v4h-4zM344 220h4v4h-4zM472 220h12v4h-12zM492 220h4v4h-4zM272 224h4v4h-4zM472 224h8v4h-8zM732 224h8v4h-8zM272 228h4v4h-4zM328 228h4v4h-4zM472 228h4v4h-4zM476 232h4v4h-4zM500 236h4v4h-4zM736 236h4v4h-4zM276 240h4v4h-4zM500 240h4v4h-4zM732 240h12v4h-12zM748 240h4v4h-4zM728 244h28v4h-28zM280 248h4v4h-4zM724 248h36v4h-36zM704 252h4v4h-4zM716 252h48v4h-48zM708 256h52v4h-52zM712 260h52v4h-52zM716 264h48v4h-48zM716 268h44v4h-44zM716 272h40v4h-40zM716 276h32v4h-32zM716 280h4v4h-4zM712 284h4v4h-4zM716 292h4v4h-4zM716 296h4v4h-4zM716 300h4v4h-4zM712 304h4v4h-4zM784 316h4v4h-4zM772 324h4v4h-4zM792 324h4v4h-4zM588 348h4v4h-4zM616 348h4v4h-4zM588 352h4v4h-4zM588 356h4v4h-4zM252 360h4v4h-4zM592 364h4v4h-4zM612 364h4v4h-4zM248 368h4v4h-4zM600 368h4v4h-4zM248 380h4v4h-4zM864 384h4v4h-4zM872 388h4v4h-4zM880 392h4v4h-4zM880 396h8v4h-8zM880 400h16v4h-16zM880 404h16v4h-16zM880 408h16v4h-16zM872 412h20v4h-20zM868 416h24v4h-24zM884 420h4v4h-4zM764 428h8v4h-8zM888 432h8v4h-8zM744 436h4v4h-4zM884 436h16v4h-16zM724 440h20v4h-20zM784 440h4v4h-4zM880 440h24v4h-24zM716 444h12v4h-12zM880 444h28v4h-28zM712 448h12v4h-12zM784 448h4v4h-4zM876 448h36v4h-36zM672 452h4v4h-4zM712 452h12v4h-12zM876 452h36v4h-36zM712 456h12v4h-12zM876 456h36v4h-36zM720 460h8v4h-8zM780 460h4v4h-4zM876 460h36v4h-36zM728 464h8v4h-8zM880 464h32v4h-32zM732 468h8v4h-8zM776 468h4v4h-4zM884 468h28v4h-28zM740 472h4v4h-4zM772 472h4v4h-4zM884 472h12v4h-12zM908 472h8v4h-8zM676 476h4v4h-4zM752 476h16v4h-16zM888 476h8v4h-8zM888 480h8v4h-8zM916 480h4v4h-4zM888 484h8v4h-8zM920 488h4v4h-4zM900 496h4v4h-4zM916 496h4v4h-4zM480 500h4v4h-4zM928 536h4v4h-4zM948 536h4v4h-4zM924 540h4v4h-4zM920 544h4v4h-4zM956 544h4v4h-4zM272 548h4v4h-4zM920 548h4v4h-4zM920 552h4v4h-4zM956 556h4v4h-4zM836 560h8v4h-8zM848 560h4v4h-4zM924 560h4v4h-4zM952 560h4v4h-4zM488 564h52v4h-52zM832 564h4v4h-4zM852 564h4v4h-4zM932 564h4v4h-4zM944 564h4v4h-4zM832 568h4v4h-4zM848 568h8v4h-8zM832 572h4v4h-4zM840 572h12v4h-12zM832 576h12v4h-12zM392 592h4v4h-4zM384 596h4v4h-4zM828 600h20v4h-20zM828 604h20v4h-20zM824 608h12v4h-12zM544 612h4v4h-4zM824 612h12v4h-12zM868 612h8v4h-8zM824 616h12v4h-12zM872 616h4v4h-4zM828 620h8v4h-8zM876 620h4v4h-4zM540 624h4v4h-4zM828 624h8v4h-8zM828 628h8v4h-8zM880 628h4v4h-4zM832 632h4v4h-4zM880 632h4v4h-4zM832 636h4v4h-4zM140 640h4v4h-4zM836 640h4v4h-4zM876 640h4v4h-4zM708 644h20v4h-20zM840 644h4v4h-4zM872 644h4v4h-4zM704 648h24v4h-24zM844 648h24v4h-24zM704 652h24v4h-24zM704 656h24v4h-24zM704 660h24v4h-24zM708 664h16v4h-16zM236 688h4v4h-4zM584 688h4v4h-4zM660 688h4v4h-4zM664 692h4v4h-4zM664 696h4v4h-4zM684 696h4v4h-4zM692 696h4v4h-4zM660 700h12v4h-12zM660 704h8v4h-8zM700 704h4v4h-4zM656 708h12v4h-12zM656 712h8v4h-8zM700 712h4v4h-4zM656 716h8v4h-8zM656 720h8v4h-8zM684 720h4v4h-4zM692 720h4v4h-4zM656 724h8v4h-8zM656 728h8v4h-8zM656 732h8v4h-8zM396 736h4v4h-4zM656 736h8v4h-8zM656 740h8v4h-8zM656 744h8v4h-8zM656 748h8v4h-8zM656 752h8v4h-8zM660 756h8v4h-8zM664 760h8v4h-8zM668 764h8v4h-8zM672 768h24v4h-24z"/>
<path fill="#9e9e9e" d="M440 76h4v4h-4zM444 80h4v4h-4zM448 88h4v4h-4zM452 96h4v4h-4zM452 100h4v4h-4zM456 108h4v4h-4zM456 112h4v4h-4zM456 116h4v4h-4zM456 120h4v4h-4zM456 124h4v4h-4zM860 124h4v4h-4zM456 128h4v4h-4zM860 128h4v4h-4zM456 132h4v4h-4zM456 136h4v4h-4zM456 140h4v4h-4zM456 144h4v4h-4zM816 144h4v4h-4zM452 148h4v4h-4zM452 152h4v4h-4zM840 152h4v4h-4zM452 156h4v4h-4zM800 160h4v4h-4zM452 164h4v4h-4zM540 164h8v4h-8zM824 164h4v4h-4zM452 168h4v4h-4zM532 168h4v4h-4zM552 168h8v4h-8zM816 168h4v4h-4zM452 172h8v4h-8zM528 172h4v4h-4zM556 172h8v4h-8zM456 176h8v4h-8zM560 176h24v4h-24zM456 180h12v4h-12zM524 180h4v4h-4zM564 180h24v4h-24zM460 184h12v4h-12zM524 184h4v4h-4zM564 184h68v4h-68zM292 188h24v4h-24zM460 188h12v4h-12zM524 188h4v4h-4zM564 188h28v4h-28zM632 188h4v4h-4zM284 192h8v4h-8zM316 192h8v4h-8zM460 192h4v4h-4zM528 192h4v4h-4zM560 192h20v4h-20zM280 196h4v4h-4zM324 196h4v4h-4zM276 200h4v4h-4zM328 200h4v4h-4zM644 200h4v4h-4zM272 204h4v4h-4zM328 204h4v4h-4zM272 208h4v4h-4zM328 208h4v4h-4zM464 208h4v4h-4zM732 208h4v4h-4zM268 212h4v4h-4zM468 212h4v4h-4zM268 216h4v4h-4zM464 216h8v4h-8zM268 220h4v4h-4zM464 220h8v4h-8zM732 220h12v4h-12zM268 224h4v4h-4zM464 224h8v4h-8zM468 228h4v4h-4zM736 228h4v4h-4zM272 232h4v4h-4zM468 232h8v4h-8zM736 232h4v4h-4zM272 236h4v4h-4zM744 240h4v4h-4zM280 252h4v4h-4zM700 256h4v4h-4zM712 264h4v4h-4zM712 268h4v4h-4zM712 280h4v4h-4zM712 288h4v4h-4zM720 312h8v4h-8zM876 316h4v4h-4zM772 328h4v4h-4zM868 328h4v4h-4zM792 332h4v4h-4zM776 336h4v4h-4zM596 340h4v4h-4zM608 340h4v4h-4zM592 344h4v4h-4zM616 352h4v4h-4zM616 356h4v4h-4zM752 356h4v4h-4zM596 364h4v4h-4zM760 364h4v4h-4zM848 368h8v4h-8zM876 392h4v4h-4zM876 408h4v4h-4zM860 412h4v4h-4zM752 432h4v4h-4zM776 432h4v4h-4zM712 436h4v4h-4zM712 444h4v4h-4zM728 444h12v4h-12zM784 444h4v4h-4zM684 448h4v4h-4zM708 448h4v4h-4zM724 448h12v4h-12zM708 452h4v4h-4zM724 452h12v4h-12zM668 456h4v4h-4zM708 456h4v4h-4zM724 456h12v4h-12zM780 456h4v4h-4zM664 460h4v4h-4zM708 460h4v4h-4zM728 460h8v4h-8zM736 464h4v4h-4zM776 464h4v4h-4zM740 468h4v4h-4zM684 472h4v4h-4zM744 472h8v4h-8zM768 472h4v4h-4zM896 472h12v4h-12zM648 476h4v4h-4zM876 476h4v4h-4zM884 476h4v4h-4zM896 476h8v4h-8zM908 476h8v4h-8zM872 480h4v4h-4zM896 480h4v4h-4zM896 484h4v4h-4zM916 484h4v4h-4zM240 488h4v4h-4zM896 488h4v4h-4zM916 492h4v4h-4zM904 496h12v4h-12zM932 536h4v4h-4zM944 536h4v4h-4zM952 540h4v4h-4zM956 548h4v4h-4zM956 552h4v4h-4zM844 560h4v4h-4zM464 564h24v4h-24zM836 564h16v4h-16zM936 564h8v4h-8zM492 568h60v4h-60zM836 568h12v4h-12zM500 572h16v4h-16zM836 572h4v4h-4zM428 584h4v4h-4zM548 592h4v4h-4zM388 596h8v4h-8zM372 600h12v4h-12zM552 600h4v4h-4zM836 608h12v4h-12zM836 612h16v4h-16zM836 616h8v4h-8zM868 616h4v4h-4zM836 620h8v4h-8zM872 620h4v4h-4zM836 624h4v4h-4zM876 624h4v4h-4zM836 628h4v4h-4zM876 628h4v4h-4zM836 632h4v4h-4zM876 632h4v4h-4zM836 636h4v4h-4zM876 636h4v4h-4zM840 640h4v4h-4zM872 640h4v4h-4zM844 644h8v4h-8zM864 644h8v4h-8zM640 676h4v4h-4zM644 680h4v4h-4zM572 684h4v4h-4zM516 688h4v4h-4zM580 688h4v4h-4zM648 688h12v4h-12zM648 692h16v4h-16zM644 696h20v4h-20zM688 696h4v4h-4zM640 700h20v4h-20zM680 700h4v4h-4zM640 704h20v4h-20zM676 704h4v4h-4zM640 708h16v4h-16zM676 708h4v4h-4zM700 708h4v4h-4zM372 712h4v4h-4zM640 712h16v4h-16zM676 712h4v4h-4zM376 716h4v4h-4zM640 716h16v4h-16zM696 716h4v4h-4zM640 720h16v4h-16zM688 720h4v4h-4zM640 724h16v4h-16zM644 728h12v4h-12zM644 732h12v4h-12zM644 736h12v4h-12zM400 740h4v4h-4zM648 740h8v4h-8zM404 744h4v4h-4zM648 744h8v4h-8zM648 748h8v4h-8zM408 752h4v4h-4zM648 752h8v4h-8zM652 756h8v4h-8zM652 760h12v4h-12zM656 764h12v4h-12zM660 768h12v4h-12z"/>
<path fill="#a0a0a0" d="M444 84h4v4h-4zM448 92h4v4h-4zM452 104h4v4h-4zM452 108h4v4h-4zM452 112h4v4h-4zM452 116h4v4h-4zM452 120h4v4h-4zM452 124h4v4h-4zM848 124h12v4h-12zM452 128h4v4h-4zM452 132h4v4h-4zM452 136h4v4h-4zM856 136h4v4h-4zM452 140h4v4h-4zM452 144h4v4h-4zM448 148h4v4h-4zM812 148h4v4h-4zM844 148h4v4h-4zM448 152h4v4h-4zM448 156h4v4h-4zM804 156h4v4h-4zM832 156h4v4h-4zM448 160h4v4h-4zM828 160h4v4h-4zM448 164h4v4h-4zM820 164h4v4h-4zM448 168h4v4h-4zM536 168h16v4h-16zM812 168h4v4h-4zM448 172h4v4h-4zM532 172h4v4h-4zM552 172h4v4h-4zM452 176h4v4h-4zM528 176h4v4h-4zM556 176h4v4h-4zM452 180h4v4h-4zM528 180h4v4h-4zM560 180h4v4h-4zM296 184h16v4h-16zM452 184h8v4h-8zM528 184h4v4h-4zM560 184h4v4h-4zM284 188h8v4h-8zM316 188h4v4h-4zM456 188h4v4h-4zM528 188h4v4h-4zM560 188h4v4h-4zM592 188h4v4h-4zM604 188h28v4h-28zM280 192h4v4h-4zM324 192h4v4h-4zM456 192h4v4h-4zM556 192h4v4h-4zM592 192h4v4h-4zM612 192h4v4h-4zM636 192h4v4h-4zM276 196h4v4h-4zM328 196h4v4h-4zM456 196h4v4h-4zM532 196h4v4h-4zM640 196h4v4h-4zM272 200h4v4h-4zM460 204h4v4h-4zM644 204h4v4h-4zM268 208h4v4h-4zM460 208h4v4h-4zM484 208h4v4h-4zM328 212h4v4h-4zM464 212h4v4h-4zM484 212h4v4h-4zM732 212h4v4h-4zM356 216h4v4h-4zM396 216h4v4h-4zM488 216h4v4h-4zM732 216h4v4h-4zM328 224h4v4h-4zM460 224h4v4h-4zM268 228h4v4h-4zM332 228h4v4h-4zM464 228h4v4h-4zM464 232h4v4h-4zM276 244h4v4h-4zM280 256h4v4h-4zM704 256h4v4h-4zM708 260h4v4h-4zM712 272h4v4h-4zM712 276h4v4h-4zM776 320h4v4h-4zM876 328h4v4h-4zM268 340h4v4h-4zM600 340h8v4h-8zM612 344h4v4h-4zM592 348h4v4h-4zM592 360h4v4h-4zM608 364h4v4h-4zM844 372h4v4h-4zM876 404h4v4h-4zM868 412h4v4h-4zM236 432h4v4h-4zM708 432h4v4h-4zM772 432h4v4h-4zM780 436h4v4h-4zM712 440h4v4h-4zM744 440h4v4h-4zM740 444h4v4h-4zM736 448h8v4h-8zM736 452h4v4h-4zM780 452h4v4h-4zM736 456h4v4h-4zM736 460h8v4h-8zM776 460h4v4h-4zM660 464h4v4h-4zM740 464h4v4h-4zM700 468h4v4h-4zM744 468h4v4h-4zM772 468h4v4h-4zM752 472h16v4h-16zM232 476h4v4h-4zM904 476h4v4h-4zM232 480h4v4h-4zM672 480h4v4h-4zM900 480h4v4h-4zM912 480h4v4h-4zM656 484h4v4h-4zM668 484h4v4h-4zM916 488h4v4h-4zM900 492h4v4h-4zM584 512h4v4h-4zM572 524h4v4h-4zM580 532h4v4h-4zM936 536h8v4h-8zM928 540h4v4h-4zM924 544h4v4h-4zM924 556h4v4h-4zM928 560h4v4h-4zM460 564h4v4h-4zM480 568h12v4h-12zM488 572h12v4h-12zM516 572h36v4h-36zM492 576h32v4h-32zM528 576h24v4h-24zM548 580h4v4h-4zM424 588h4v4h-4zM548 588h4v4h-4zM420 592h8v4h-8zM396 596h4v4h-4zM416 596h8v4h-8zM548 596h4v4h-4zM356 600h16v4h-16zM384 600h16v4h-16zM364 604h28v4h-28zM548 612h4v4h-4zM844 616h24v4h-24zM844 620h8v4h-8zM868 620h4v4h-4zM840 624h8v4h-8zM872 624h4v4h-4zM840 628h8v4h-8zM872 628h4v4h-4zM840 632h8v4h-8zM872 632h4v4h-4zM120 636h4v4h-4zM840 636h8v4h-8zM868 636h8v4h-8zM844 640h28v4h-28zM852 644h12v4h-12zM528 660h4v4h-4zM192 664h4v4h-4zM212 676h4v4h-4zM636 676h4v4h-4zM336 684h4v4h-4zM608 684h4v4h-4zM628 692h4v4h-4zM640 692h8v4h-8zM628 696h16v4h-16zM356 700h4v4h-4zM628 700h12v4h-12zM696 700h4v4h-4zM628 704h12v4h-12zM632 708h8v4h-8zM632 712h8v4h-8zM632 716h8v4h-8zM680 716h4v4h-4zM636 720h4v4h-4zM636 724h4v4h-4zM636 728h8v4h-8zM640 732h4v4h-4zM640 736h4v4h-4zM640 740h8v4h-8zM644 744h4v4h-4zM644 748h4v4h-4zM644 752h4v4h-4zM648 756h4v4h-4zM648 760h4v4h-4zM648 764h8v4h-8zM652 768h8v4h-8z"/>
<path fill="#a2a2a2" d="M436 76h4v4h-4zM440 80h4v4h-4zM444 88h4v4h-4zM448 96h4v4h-4zM448 100h4v4h-4zM448 124h4v4h-4zM448 128h4v4h-4zM448 132h4v4h-4zM832 132h4v4h-4zM448 136h4v4h-4zM448 140h4v4h-4zM852 140h4v4h-4zM448 144h4v4h-4zM848 144h4v4h-4zM808 152h4v4h-4zM800 164h4v4h-4zM800 168h12v4h-12zM536 172h4v4h-4zM548 172h4v4h-4zM724 172h4v4h-4zM448 176h4v4h-4zM532 176h4v4h-4zM552 176h4v4h-4zM304 180h4v4h-4zM448 180h4v4h-4zM556 180h4v4h-4zM284 184h12v4h-12zM312 184h8v4h-8zM448 184h4v4h-4zM556 184h4v4h-4zM728 184h4v4h-4zM280 188h4v4h-4zM320 188h4v4h-4zM452 188h4v4h-4zM556 188h4v4h-4zM596 188h8v4h-8zM276 192h4v4h-4zM328 192h4v4h-4zM452 192h4v4h-4zM532 192h4v4h-4zM608 192h4v4h-4zM616 192h8v4h-8zM632 192h4v4h-4zM272 196h4v4h-4zM332 196h4v4h-4zM552 196h4v4h-4zM612 196h4v4h-4zM636 196h4v4h-4zM268 200h4v4h-4zM332 200h4v4h-4zM456 200h4v4h-4zM640 200h4v4h-4zM268 204h4v4h-4zM456 204h4v4h-4zM264 208h4v4h-4zM616 208h4v4h-4zM264 212h4v4h-4zM460 212h4v4h-4zM736 212h4v4h-4zM264 216h4v4h-4zM328 216h4v4h-4zM460 216h4v4h-4zM736 216h4v4h-4zM264 220h4v4h-4zM328 220h4v4h-4zM460 220h4v4h-4zM632 220h4v4h-4zM264 224h4v4h-4zM740 224h4v4h-4zM460 228h4v4h-4zM268 232h4v4h-4zM448 232h4v4h-4zM460 232h4v4h-4zM456 236h4v4h-4zM740 236h4v4h-4zM272 240h4v4h-4zM276 248h4v4h-4zM692 268h4v4h-4zM708 284h4v4h-4zM716 316h4v4h-4zM728 316h4v4h-4zM788 320h4v4h-4zM728 324h4v4h-4zM792 328h4v4h-4zM788 336h4v4h-4zM596 344h4v4h-4zM592 352h4v4h-4zM592 356h4v4h-4zM612 360h4v4h-4zM600 364h8v4h-8zM844 388h4v4h-4zM868 388h4v4h-4zM876 396h4v4h-4zM876 400h4v4h-4zM856 408h4v4h-4zM864 412h4v4h-4zM764 432h8v4h-8zM744 444h4v4h-4zM688 448h4v4h-4zM744 448h4v4h-4zM676 452h4v4h-4zM704 452h4v4h-4zM740 452h8v4h-8zM740 456h8v4h-8zM776 456h4v4h-4zM744 460h4v4h-4zM772 460h4v4h-4zM704 464h4v4h-4zM744 464h4v4h-4zM772 464h4v4h-4zM656 468h4v4h-4zM748 468h8v4h-8zM768 468h4v4h-4zM680 472h4v4h-4zM880 476h4v4h-4zM236 480h4v4h-4zM652 480h4v4h-4zM904 480h8v4h-8zM900 484h4v4h-4zM912 484h4v4h-4zM884 488h4v4h-4zM900 488h4v4h-4zM912 488h4v4h-4zM904 492h12v4h-12zM576 508h4v4h-4zM264 520h4v4h-4zM268 540h4v4h-4zM948 560h4v4h-4zM452 564h4v4h-4zM468 568h12v4h-12zM476 572h12v4h-12zM480 576h12v4h-12zM524 576h4v4h-4zM488 580h20v4h-20zM532 580h16v4h-16zM444 584h4v4h-4zM544 584h8v4h-8zM428 588h4v4h-4zM440 588h8v4h-8zM416 592h4v4h-4zM428 592h20v4h-20zM424 596h16v4h-16zM400 600h4v4h-4zM408 600h20v4h-20zM348 604h16v4h-16zM392 604h16v4h-16zM368 608h16v4h-16zM852 620h16v4h-16zM848 624h24v4h-24zM848 628h24v4h-24zM848 632h24v4h-24zM848 636h20v4h-20zM536 644h4v4h-4zM188 660h4v4h-4zM200 668h4v4h-4zM604 684h4v4h-4zM644 684h4v4h-4zM612 688h20v4h-20zM644 688h4v4h-4zM612 692h16v4h-16zM632 692h8v4h-8zM616 696h12v4h-12zM616 700h12v4h-12zM620 704h8v4h-8zM624 708h8v4h-8zM628 712h4v4h-4zM628 716h4v4h-4zM632 720h4v4h-4zM632 724h4v4h-4zM636 732h4v4h-4zM636 736h4v4h-4zM640 744h4v4h-4zM640 748h4v4h-4zM644 756h4v4h-4zM644 760h4v4h-4zM648 768h4v4h-4z"/>
<path fill="#a4a4a4" d="M436 80h4v4h-4zM440 84h4v4h-4zM444 92h4v4h-4zM448 104h4v4h-4zM448 108h4v4h-4zM448 112h4v4h-4zM448 116h4v4h-4zM448 120h4v4h-4zM444 128h4v4h-4zM840 128h4v4h-4zM856 128h4v4h-4zM444 132h4v4h-4zM856 132h4v4h-4zM444 136h4v4h-4zM828 136h4v4h-4zM444 140h4v4h-4zM444 144h4v4h-4zM444 148h4v4h-4zM444 152h4v4h-4zM836 152h4v4h-4zM444 156h4v4h-4zM444 160h4v4h-4zM824 160h4v4h-4zM444 164h4v4h-4zM816 164h4v4h-4zM444 168h4v4h-4zM540 172h8v4h-8zM288 180h16v4h-16zM308 180h8v4h-8zM532 180h4v4h-4zM552 180h4v4h-4zM280 184h4v4h-4zM320 184h4v4h-4zM532 184h4v4h-4zM276 188h4v4h-4zM324 188h4v4h-4zM448 188h4v4h-4zM532 188h4v4h-4zM272 192h4v4h-4zM332 192h4v4h-4zM448 192h4v4h-4zM624 192h8v4h-8zM268 196h4v4h-4zM452 196h4v4h-4zM536 196h4v4h-4zM616 196h4v4h-4zM452 200h4v4h-4zM608 200h8v4h-8zM264 204h4v4h-4zM332 204h4v4h-4zM488 204h4v4h-4zM640 204h4v4h-4zM456 208h4v4h-4zM456 212h4v4h-4zM456 216h4v4h-4zM492 216h4v4h-4zM456 220h4v4h-4zM456 224h4v4h-4zM264 228h4v4h-4zM456 228h4v4h-4zM456 232h4v4h-4zM268 236h4v4h-4zM256 316h4v4h-4zM256 320h4v4h-4zM264 348h4v4h-4zM596 360h4v4h-4zM240 364h8v4h-8zM248 384h4v4h-4zM872 408h4v4h-4zM756 432h8v4h-8zM748 436h4v4h-4zM704 448h4v4h-4zM780 448h4v4h-4zM748 452h4v4h-4zM776 452h4v4h-4zM748 456h4v4h-4zM772 456h4v4h-4zM232 460h4v4h-4zM748 460h4v4h-4zM768 460h4v4h-4zM228 464h8v4h-8zM748 464h8v4h-8zM768 464h4v4h-4zM756 468h12v4h-12zM652 472h4v4h-4zM904 484h8v4h-8zM904 488h8v4h-8zM480 508h4v4h-4zM948 540h4v4h-4zM952 544h4v4h-4zM924 548h4v4h-4zM924 552h4v4h-4zM952 556h4v4h-4zM932 560h4v4h-4zM464 568h4v4h-4zM468 572h8v4h-8zM440 576h4v4h-4zM472 576h8v4h-8zM444 580h4v4h-4zM476 580h12v4h-12zM508 580h24v4h-24zM448 584h4v4h-4zM536 584h8v4h-8zM432 588h8v4h-8zM448 588h4v4h-4zM396 592h4v4h-4zM448 592h4v4h-4zM412 596h4v4h-4zM440 596h8v4h-8zM404 600h4v4h-4zM428 600h12v4h-12zM344 604h4v4h-4zM408 604h20v4h-20zM352 608h16v4h-16zM384 608h12v4h-12zM184 656h4v4h-4zM632 680h4v4h-4zM240 688h4v4h-4zM280 688h4v4h-4zM536 688h4v4h-4zM588 688h4v4h-4zM608 688h4v4h-4zM608 692h4v4h-4zM608 696h8v4h-8zM612 700h4v4h-4zM612 704h8v4h-8zM368 708h4v4h-4zM616 708h8v4h-8zM620 712h8v4h-8zM624 716h4v4h-4zM628 720h4v4h-4zM632 728h4v4h-4zM632 732h4v4h-4zM636 740h4v4h-4zM640 752h4v4h-4zM640 756h4v4h-4zM644 764h4v4h-4zM644 768h4v4h-4z"/>
<path fill="#a6a6a6" d="M432 76h4v4h-4zM440 88h4v4h-4zM444 96h4v4h-4zM444 100h4v4h-4zM444 112h4v4h-4zM444 116h4v4h-4zM444 120h4v4h-4zM444 124h4v4h-4zM824 140h4v4h-4zM840 148h4v4h-4zM828 156h4v4h-4zM804 160h4v4h-4zM812 164h4v4h-4zM444 172h4v4h-4zM292 176h24v4h-24zM444 176h4v4h-4zM536 176h16v4h-16zM280 180h8v4h-8zM316 180h8v4h-8zM444 180h4v4h-4zM276 184h4v4h-4zM324 184h4v4h-4zM272 188h4v4h-4zM328 188h4v4h-4zM268 192h4v4h-4zM552 192h4v4h-4zM264 196h4v4h-4zM336 196h4v4h-4zM448 196h4v4h-4zM548 196h4v4h-4zM608 196h4v4h-4zM620 196h16v4h-16zM264 200h4v4h-4zM616 200h4v4h-4zM636 200h4v4h-4zM260 204h4v4h-4zM452 204h4v4h-4zM260 208h4v4h-4zM332 208h4v4h-4zM640 208h4v4h-4zM260 212h4v4h-4zM332 212h4v4h-4zM260 216h4v4h-4zM636 216h4v4h-4zM260 220h4v4h-4zM412 220h4v4h-4zM260 224h4v4h-4zM332 224h4v4h-4zM264 232h4v4h-4zM452 232h4v4h-4zM748 236h4v4h-4zM268 240h4v4h-4zM272 244h4v4h-4zM276 252h4v4h-4zM708 264h4v4h-4zM696 284h4v4h-4zM700 288h4v4h-4zM708 288h4v4h-4zM600 344h4v4h-4zM608 344h4v4h-4zM612 348h4v4h-4zM244 360h4v4h-4zM748 364h4v4h-4zM244 368h4v4h-4zM860 376h4v4h-4zM852 392h4v4h-4zM700 432h4v4h-4zM696 444h4v4h-4zM692 448h4v4h-4zM700 448h4v4h-4zM748 448h4v4h-4zM680 452h4v4h-4zM752 452h4v4h-4zM672 456h4v4h-4zM752 456h20v4h-20zM668 460h4v4h-4zM752 460h16v4h-16zM756 464h12v4h-12zM676 472h4v4h-4zM884 480h4v4h-4zM872 484h4v4h-4zM576 516h8v4h-8zM932 540h4v4h-4zM944 560h4v4h-4zM464 572h4v4h-4zM444 576h4v4h-4zM464 576h8v4h-8zM448 580h4v4h-4zM468 580h8v4h-8zM440 584h4v4h-4zM452 584h8v4h-8zM472 584h36v4h-36zM532 584h4v4h-4zM400 588h4v4h-4zM452 588h4v4h-4zM544 588h4v4h-4zM452 592h4v4h-4zM448 596h4v4h-4zM440 600h8v4h-8zM428 604h8v4h-8zM344 608h8v4h-8zM396 608h24v4h-24zM368 612h12v4h-12zM540 688h4v4h-4zM600 688h8v4h-8zM632 688h4v4h-4zM604 692h4v4h-4zM604 696h4v4h-4zM604 700h8v4h-8zM684 700h4v4h-4zM608 704h4v4h-4zM696 704h4v4h-4zM612 708h4v4h-4zM616 712h4v4h-4zM620 716h4v4h-4zM624 720h4v4h-4zM628 724h4v4h-4zM632 736h4v4h-4zM636 744h4v4h-4zM408 748h4v4h-4zM636 748h4v4h-4zM640 760h4v4h-4zM640 764h4v4h-4z"/>
<path fill="#a8a8a8" d="M428 76h4v4h-4zM432 80h4v4h-4zM436 84h4v4h-4zM440 92h4v4h-4zM444 104h4v4h-4zM444 108h4v4h-4zM440 116h4v4h-4zM440 120h4v4h-4zM440 124h4v4h-4zM440 128h4v4h-4zM844 128h4v4h-4zM852 128h4v4h-4zM440 132h4v4h-4zM440 136h4v4h-4zM852 136h4v4h-4zM440 140h4v4h-4zM440 144h4v4h-4zM820 144h4v4h-4zM844 144h4v4h-4zM440 148h4v4h-4zM816 148h4v4h-4zM440 152h4v4h-4zM832 152h4v4h-4zM808 156h4v4h-4zM820 160h4v4h-4zM804 164h8v4h-8zM296 172h16v4h-16zM280 176h12v4h-12zM316 176h4v4h-4zM272 180h8v4h-8zM324 180h4v4h-4zM536 180h4v4h-4zM272 184h4v4h-4zM328 184h4v4h-4zM444 184h4v4h-4zM552 184h4v4h-4zM268 188h4v4h-4zM332 188h4v4h-4zM444 188h4v4h-4zM552 188h4v4h-4zM264 192h4v4h-4zM336 192h4v4h-4zM260 200h4v4h-4zM336 200h4v4h-4zM448 200h4v4h-4zM620 200h4v4h-4zM616 204h4v4h-4zM452 208h4v4h-4zM256 212h4v4h-4zM452 212h4v4h-4zM332 216h4v4h-4zM452 220h4v4h-4zM452 224h4v4h-4zM260 228h4v4h-4zM452 228h4v4h-4zM264 236h4v4h-4zM872 316h4v4h-4zM720 324h4v4h-4zM604 344h4v4h-4zM596 348h4v4h-4zM596 356h4v4h-4zM612 356h4v4h-4zM756 368h4v4h-4zM856 372h4v4h-4zM864 388h4v4h-4zM872 392h4v4h-4zM704 432h4v4h-4zM696 436h4v4h-4zM780 440h4v4h-4zM708 444h4v4h-4zM696 448h4v4h-4zM756 452h20v4h-20zM232 456h4v4h-4zM704 456h4v4h-4zM228 460h4v4h-4zM704 460h4v4h-4zM232 468h4v4h-4zM696 468h4v4h-4zM652 476h4v4h-4zM236 488h4v4h-4zM236 492h4v4h-4zM248 496h4v4h-4zM576 524h4v4h-4zM268 528h4v4h-4zM580 528h4v4h-4zM944 540h4v4h-4zM928 544h4v4h-4zM952 548h4v4h-4zM952 552h4v4h-4zM928 556h4v4h-4zM936 560h4v4h-4zM288 568h4v4h-4zM460 580h8v4h-8zM460 584h12v4h-12zM508 584h24v4h-24zM456 588h8v4h-8zM472 588h20v4h-20zM540 588h4v4h-4zM456 592h4v4h-4zM400 596h4v4h-4zM452 596h4v4h-4zM448 600h4v4h-4zM340 604h4v4h-4zM436 604h8v4h-8zM420 608h12v4h-12zM352 612h16v4h-16zM380 612h12v4h-12zM172 652h4v4h-4zM532 652h4v4h-4zM304 676h4v4h-4zM320 676h4v4h-4zM228 680h4v4h-4zM236 684h4v4h-4zM592 688h8v4h-8zM596 692h8v4h-8zM600 696h4v4h-4zM600 700h4v4h-4zM692 700h4v4h-4zM604 704h4v4h-4zM680 704h4v4h-4zM608 708h4v4h-4zM612 712h4v4h-4zM680 712h4v4h-4zM696 712h4v4h-4zM616 716h4v4h-4zM684 716h4v4h-4zM692 716h4v4h-4zM624 724h4v4h-4zM628 728h4v4h-4zM632 740h4v4h-4zM636 752h4v4h-4zM636 756h4v4h-4zM640 768h4v4h-4z"/>
<path fill="#aaaaaa" d="M424 76h4v4h-4zM428 80h4v4h-4zM432 84h4v4h-4zM436 88h4v4h-4zM440 96h4v4h-4zM440 100h4v4h-4zM440 104h4v4h-4zM440 108h4v4h-4zM440 112h4v4h-4zM436 120h4v4h-4zM436 124h4v4h-4zM436 128h4v4h-4zM848 128h4v4h-4zM436 132h4v4h-4zM836 132h4v4h-4zM852 132h4v4h-4zM436 136h4v4h-4zM436 140h4v4h-4zM848 140h4v4h-4zM812 152h12v4h-12zM440 156h4v4h-4zM812 156h16v4h-16zM440 160h4v4h-4zM808 160h12v4h-12zM304 168h4v4h-4zM280 172h16v4h-16zM312 172h8v4h-8zM272 176h8v4h-8zM320 176h4v4h-4zM268 180h4v4h-4zM328 180h4v4h-4zM548 180h4v4h-4zM268 184h4v4h-4zM332 184h4v4h-4zM264 188h4v4h-4zM336 188h4v4h-4zM444 192h4v4h-4zM604 192h4v4h-4zM260 196h4v4h-4zM444 196h4v4h-4zM256 200h4v4h-4zM624 200h4v4h-4zM632 200h4v4h-4zM256 204h4v4h-4zM448 204h4v4h-4zM636 204h4v4h-4zM256 208h4v4h-4zM256 216h4v4h-4zM452 216h4v4h-4zM256 220h4v4h-4zM332 220h4v4h-4zM336 224h4v4h-4zM444 228h4v4h-4zM260 232h4v4h-4zM744 236h4v4h-4zM264 240h4v4h-4zM268 244h4v4h-4zM272 248h4v4h-4zM276 256h4v4h-4zM704 260h4v4h-4zM708 280h4v4h-4zM704 288h4v4h-4zM712 292h4v4h-4zM712 300h4v4h-4zM728 320h4v4h-4zM872 328h4v4h-4zM600 348h12v4h-12zM596 352h20v4h-20zM600 356h12v4h-12zM600 360h12v4h-12zM248 364h4v4h-4zM240 400h4v4h-4zM236 428h4v4h-4zM780 444h4v4h-4zM684 452h4v4h-4zM676 456h4v4h-4zM664 464h4v4h-4zM684 468h8v4h-8zM232 484h8v4h-8zM660 484h4v4h-4zM240 492h4v4h-4zM936 540h8v4h-8zM940 560h4v4h-4zM456 564h4v4h-4zM460 568h4v4h-4zM460 576h4v4h-4zM452 580h8v4h-8zM464 588h8v4h-8zM492 588h12v4h-12zM320 592h4v4h-4zM460 592h12v4h-12zM456 596h8v4h-8zM452 600h8v4h-8zM444 604h8v4h-8zM340 608h4v4h-4zM432 608h8v4h-8zM344 612h8v4h-8zM392 612h12v4h-12zM540 620h4v4h-4zM152 644h4v4h-4zM244 688h4v4h-4zM640 688h4v4h-4zM592 692h4v4h-4zM596 696h4v4h-4zM596 700h4v4h-4zM600 704h4v4h-4zM600 708h8v4h-8zM608 712h4v4h-4zM612 716h4v4h-4zM620 720h4v4h-4zM628 732h4v4h-4zM632 744h4v4h-4zM636 760h4v4h-4z"/>
<path fill="#acacac" d="M420 76h4v4h-4zM424 80h4v4h-4zM428 84h4v4h-4zM432 88h4v4h-4zM436 92h4v4h-4zM436 96h4v4h-4zM436 100h4v4h-4zM436 104h4v4h-4zM436 108h4v4h-4zM436 112h4v4h-4zM436 116h4v4h-4zM432 120h4v4h-4zM432 124h4v4h-4zM832 136h4v4h-4zM828 140h4v4h-4zM436 144h4v4h-4zM824 144h8v4h-8zM436 148h4v4h-4zM820 148h20v4h-20zM824 152h8v4h-8zM440 164h4v4h-4zM272 168h32v4h-32zM308 168h8v4h-8zM440 168h4v4h-4zM268 172h12v4h-12zM320 172h4v4h-4zM440 172h4v4h-4zM268 176h4v4h-4zM324 176h4v4h-4zM440 176h4v4h-4zM264 180h4v4h-4zM540 180h8v4h-8zM724 180h4v4h-4zM264 184h4v4h-4zM336 184h4v4h-4zM536 184h4v4h-4zM260 188h4v4h-4zM260 192h4v4h-4zM536 192h4v4h-4zM256 196h4v4h-4zM340 196h4v4h-4zM444 200h4v4h-4zM604 200h4v4h-4zM628 200h4v4h-4zM252 204h4v4h-4zM620 204h4v4h-4zM252 208h4v4h-4zM448 208h4v4h-4zM252 212h4v4h-4zM252 216h4v4h-4zM620 216h4v4h-4zM336 220h8v4h-8zM624 220h4v4h-4zM256 224h4v4h-4zM448 224h4v4h-4zM256 228h4v4h-4zM448 228h4v4h-4zM260 236h4v4h-4zM692 276h4v4h-4zM776 436h4v4h-4zM672 460h4v4h-4zM668 464h4v4h-4zM676 468h8v4h-8zM692 468h4v4h-4zM672 476h4v4h-4zM664 484h4v4h-4zM884 484h4v4h-4zM252 516h4v4h-4zM948 544h4v4h-4zM928 548h4v4h-4zM928 552h4v4h-4zM948 556h4v4h-4zM504 588h12v4h-12zM536 588h4v4h-4zM412 592h4v4h-4zM472 592h20v4h-20zM544 592h4v4h-4zM464 596h8v4h-8zM460 600h4v4h-4zM452 604h4v4h-4zM440 608h8v4h-8zM340 612h4v4h-4zM404 612h32v4h-32zM356 616h20v4h-20zM564 688h4v4h-4zM636 688h4v4h-4zM588 692h4v4h-4zM352 696h4v4h-4zM588 696h8v4h-8zM592 700h4v4h-4zM688 700h4v4h-4zM592 704h8v4h-8zM596 708h4v4h-4zM680 708h4v4h-4zM696 708h4v4h-4zM600 712h8v4h-8zM608 716h4v4h-4zM688 716h4v4h-4zM616 720h4v4h-4zM620 724h4v4h-4zM624 728h4v4h-4zM628 736h4v4h-4zM632 748h4v4h-4zM636 764h4v4h-4zM636 768h4v4h-4z"/>
<path fill="#aeaeae" d="M416 76h4v4h-4zM420 80h4v4h-4zM424 84h4v4h-4zM424 88h8v4h-8zM428 92h8v4h-8zM432 96h4v4h-4zM432 100h4v4h-4zM432 104h4v4h-4zM432 108h4v4h-4zM428 112h8v4h-8zM428 116h8v4h-8zM428 120h4v4h-4zM432 128h4v4h-4zM432 132h4v4h-4zM848 132h4v4h-4zM432 136h4v4h-4zM848 136h4v4h-4zM432 140h4v4h-4zM832 144h12v4h-12zM436 152h4v4h-4zM268 160h16v4h-16zM304 160h4v4h-4zM268 164h48v4h-48zM264 168h8v4h-8zM316 168h4v4h-4zM264 172h4v4h-4zM324 172h4v4h-4zM260 176h8v4h-8zM328 176h4v4h-4zM260 180h4v4h-4zM332 180h4v4h-4zM440 180h4v4h-4zM260 184h4v4h-4zM440 184h4v4h-4zM540 184h4v4h-4zM256 188h4v4h-4zM340 188h4v4h-4zM440 188h4v4h-4zM536 188h4v4h-4zM256 192h4v4h-4zM340 192h4v4h-4zM252 196h4v4h-4zM252 200h4v4h-4zM248 204h4v4h-4zM444 204h4v4h-4zM248 208h4v4h-4zM448 212h4v4h-4zM336 216h4v4h-4zM448 216h4v4h-4zM252 220h4v4h-4zM448 220h4v4h-4zM740 228h4v4h-4zM256 232h4v4h-4zM740 232h4v4h-4zM256 236h4v4h-4zM260 240h4v4h-4zM264 244h4v4h-4zM268 248h4v4h-4zM272 252h4v4h-4zM276 260h4v4h-4zM256 312h4v4h-4zM252 316h4v4h-4zM724 324h4v4h-4zM780 336h4v4h-4zM240 360h4v4h-4zM240 368h4v4h-4zM708 436h4v4h-4zM696 440h4v4h-4zM748 444h4v4h-4zM776 448h4v4h-4zM680 456h4v4h-4zM676 460h4v4h-4zM672 464h4v4h-4zM236 496h4v4h-4zM440 580h4v4h-4zM516 588h8v4h-8zM492 592h8v4h-8zM472 596h12v4h-12zM464 600h8v4h-8zM456 604h8v4h-8zM448 608h8v4h-8zM436 612h8v4h-8zM348 616h8v4h-8zM376 616h16v4h-16zM124 636h4v4h-4zM144 640h4v4h-4zM284 684h4v4h-4zM248 688h4v4h-4zM584 692h4v4h-4zM584 696h4v4h-4zM584 700h8v4h-8zM584 704h8v4h-8zM588 708h8v4h-8zM596 712h4v4h-4zM604 716h4v4h-4zM612 720h4v4h-4zM624 732h4v4h-4zM628 740h4v4h-4zM632 752h4v4h-4zM632 756h4v4h-4z"/>
<path fill="#b0b0b0" d="M416 80h4v4h-4zM416 84h8v4h-8zM420 88h4v4h-4zM420 92h8v4h-8zM420 96h12v4h-12zM424 100h8v4h-8zM420 104h12v4h-12zM420 108h12v4h-12zM420 112h8v4h-8zM424 116h4v4h-4zM424 120h4v4h-4zM428 124h4v4h-4zM428 128h4v4h-4zM428 132h4v4h-4zM840 132h8v4h-8zM836 136h12v4h-12zM832 140h16v4h-16zM432 144h4v4h-4zM268 148h12v4h-12zM260 152h28v4h-28zM260 156h52v4h-52zM436 156h4v4h-4zM260 160h8v4h-8zM284 160h20v4h-20zM308 160h8v4h-8zM256 164h12v4h-12zM316 164h4v4h-4zM256 168h8v4h-8zM320 168h4v4h-4zM256 172h8v4h-8zM328 172h4v4h-4zM256 176h4v4h-4zM332 176h4v4h-4zM256 180h4v4h-4zM336 180h4v4h-4zM252 184h8v4h-8zM340 184h4v4h-4zM248 188h8v4h-8zM248 192h8v4h-8zM440 192h4v4h-4zM244 196h8v4h-8zM440 196h4v4h-4zM244 200h8v4h-8zM340 200h4v4h-4zM244 204h4v4h-4zM492 204h4v4h-4zM444 208h4v4h-4zM248 212h4v4h-4zM496 212h4v4h-4zM248 216h4v4h-4zM252 224h4v4h-4zM444 224h4v4h-4zM252 228h4v4h-4zM256 240h4v4h-4zM260 244h4v4h-4zM708 268h4v4h-4zM780 320h8v4h-8zM784 336h4v4h-4zM752 368h4v4h-4zM848 372h4v4h-4zM860 388h4v4h-4zM872 404h4v4h-4zM868 408h4v4h-4zM748 440h4v4h-4zM752 448h4v4h-4zM676 464h8v4h-8zM228 468h4v4h-4zM672 468h4v4h-4zM672 472h4v4h-4zM228 480h4v4h-4zM232 492h4v4h-4zM932 544h4v4h-4zM932 556h4v4h-4zM460 572h4v4h-4zM524 588h4v4h-4zM500 592h12v4h-12zM408 596h4v4h-4zM484 596h8v4h-8zM328 600h4v4h-4zM472 600h8v4h-8zM464 604h8v4h-8zM456 608h4v4h-4zM552 608h4v4h-4zM336 612h4v4h-4zM444 612h4v4h-4zM344 616h4v4h-4zM392 616h48v4h-48zM536 640h4v4h-4zM160 648h4v4h-4zM632 684h4v4h-4zM580 704h4v4h-4zM576 708h12v4h-12zM584 712h12v4h-12zM596 716h8v4h-8zM604 720h8v4h-8zM616 724h4v4h-4zM620 728h4v4h-4zM624 736h4v4h-4zM628 744h4v4h-4zM632 760h4v4h-4zM632 764h4v4h-4zM632 768h4v4h-4z"/>
<path fill="#b2b2b2" d="M412 76h4v4h-4zM412 80h4v4h-4zM412 84h4v4h-4zM416 88h4v4h-4zM416 92h4v4h-4zM416 96h4v4h-4zM416 100h8v4h-8zM416 104h4v4h-4zM416 108h4v4h-4zM416 112h4v4h-4zM416 116h8v4h-8zM420 120h4v4h-4zM420 124h8v4h-8zM260 128h24v4h-24zM424 128h4v4h-4zM256 132h32v4h-32zM252 136h40v4h-40zM428 136h4v4h-4zM248 140h52v4h-52zM428 140h4v4h-4zM248 144h64v4h-64zM248 148h20v4h-20zM280 148h36v4h-36zM432 148h4v4h-4zM248 152h12v4h-12zM288 152h32v4h-32zM252 156h8v4h-8zM312 156h8v4h-8zM252 160h8v4h-8zM316 160h8v4h-8zM436 160h4v4h-4zM252 164h4v4h-4zM320 164h4v4h-4zM436 164h4v4h-4zM248 168h8v4h-8zM324 168h4v4h-4zM248 172h8v4h-8zM332 172h4v4h-4zM728 172h4v4h-4zM248 176h8v4h-8zM336 176h4v4h-4zM724 176h4v4h-4zM244 180h12v4h-12zM340 180h4v4h-4zM240 184h12v4h-12zM548 184h4v4h-4zM240 188h8v4h-8zM236 192h12v4h-12zM236 196h8v4h-8zM240 200h4v4h-4zM440 200h4v4h-4zM240 204h4v4h-4zM624 204h4v4h-4zM632 204h4v4h-4zM240 208h8v4h-8zM244 212h4v4h-4zM444 212h4v4h-4zM488 212h4v4h-4zM244 216h4v4h-4zM340 216h8v4h-8zM444 216h4v4h-4zM248 220h4v4h-4zM444 220h4v4h-4zM248 224h4v4h-4zM440 224h4v4h-4zM252 232h4v4h-4zM252 236h4v4h-4zM256 244h4v4h-4zM264 248h4v4h-4zM272 256h4v4h-4zM700 260h4v4h-4zM708 276h4v4h-4zM704 284h4v4h-4zM252 320h4v4h-4zM852 372h4v4h-4zM708 440h4v4h-4zM700 452h4v4h-4zM680 460h4v4h-4zM684 464h4v4h-4zM232 472h4v4h-4zM656 480h4v4h-4zM232 488h4v4h-4zM248 508h4v4h-4zM572 532h4v4h-4zM944 544h4v4h-4zM948 548h4v4h-4zM948 552h4v4h-4zM944 556h4v4h-4zM432 584h8v4h-8zM528 588h8v4h-8zM512 592h8v4h-8zM540 592h4v4h-4zM492 596h8v4h-8zM480 600h12v4h-12zM472 604h8v4h-8zM460 608h8v4h-8zM448 612h4v4h-4zM340 616h4v4h-4zM440 616h4v4h-4zM352 620h20v4h-20zM292 680h4v4h-4zM544 688h4v4h-4zM580 700h4v4h-4zM572 704h8v4h-8zM568 708h8v4h-8zM568 712h16v4h-16zM580 716h16v4h-16zM596 720h8v4h-8zM608 724h8v4h-8zM616 728h4v4h-4zM620 732h4v4h-4zM624 740h4v4h-4zM628 748h4v4h-4zM628 752h4v4h-4z"/>
<path fill="#b4b4b4" d="M408 76h4v4h-4zM408 80h4v4h-4zM412 88h4v4h-4zM412 92h4v4h-4zM412 96h4v4h-4zM412 100h4v4h-4zM412 104h4v4h-4zM268 108h20v4h-20zM412 108h4v4h-4zM260 112h36v4h-36zM412 112h4v4h-4zM252 116h48v4h-48zM412 116h4v4h-4zM244 120h60v4h-60zM416 120h4v4h-4zM240 124h68v4h-68zM416 124h4v4h-4zM236 128h24v4h-24zM284 128h28v4h-28zM420 128h4v4h-4zM236 132h20v4h-20zM288 132h28v4h-28zM424 132h4v4h-4zM232 136h20v4h-20zM292 136h28v4h-28zM424 136h4v4h-4zM232 140h16v4h-16zM300 140h20v4h-20zM232 144h16v4h-16zM312 144h8v4h-8zM428 144h4v4h-4zM236 148h12v4h-12zM316 148h8v4h-8zM236 152h12v4h-12zM320 152h4v4h-4zM432 152h4v4h-4zM240 156h12v4h-12zM320 156h4v4h-4zM240 160h12v4h-12zM324 160h4v4h-4zM240 164h12v4h-12zM324 164h4v4h-4zM240 168h8v4h-8zM328 168h4v4h-4zM436 168h4v4h-4zM240 172h8v4h-8zM336 172h4v4h-4zM436 172h4v4h-4zM236 176h12v4h-12zM340 176h4v4h-4zM436 176h4v4h-4zM232 180h12v4h-12zM732 180h4v4h-4zM232 184h8v4h-8zM344 184h4v4h-4zM228 188h12v4h-12zM344 188h4v4h-4zM228 192h8v4h-8zM344 192h4v4h-4zM232 196h4v4h-4zM344 196h4v4h-4zM232 200h8v4h-8zM236 204h4v4h-4zM440 204h4v4h-4zM236 208h4v4h-4zM440 208h4v4h-4zM620 208h4v4h-4zM636 208h4v4h-4zM240 212h4v4h-4zM240 216h4v4h-4zM348 216h4v4h-4zM244 220h4v4h-4zM440 220h4v4h-4zM244 224h4v4h-4zM248 228h4v4h-4zM248 232h4v4h-4zM252 240h4v4h-4zM252 244h4v4h-4zM260 248h4v4h-4zM268 252h4v4h-4zM708 272h4v4h-4zM712 296h4v4h-4zM844 376h4v4h-4zM860 380h4v4h-4zM860 384h4v4h-4zM856 392h4v4h-4zM860 408h4v4h-4zM228 456h4v4h-4zM684 456h4v4h-4zM700 464h4v4h-4zM660 468h4v4h-4zM228 476h4v4h-4zM876 480h4v4h-4zM876 488h8v4h-8zM404 596h4v4h-4zM500 596h12v4h-12zM492 600h4v4h-4zM480 604h12v4h-12zM468 608h16v4h-16zM452 612h8v4h-8zM336 616h4v4h-4zM444 616h4v4h-4zM344 620h8v4h-8zM372 620h68v4h-68zM276 688h4v4h-4zM552 688h4v4h-4zM560 700h4v4h-4zM560 704h12v4h-12zM560 708h8v4h-8zM564 712h4v4h-4zM568 716h12v4h-12zM576 720h20v4h-20zM596 724h12v4h-12zM612 728h4v4h-4zM616 732h4v4h-4zM620 736h4v4h-4zM624 744h4v4h-4zM628 756h4v4h-4zM628 760h4v4h-4z"/>
<path fill="#b6b6b6" d="M268 76h20v4h-20zM264 80h28v4h-28zM260 84h36v4h-36zM408 84h4v4h-4zM260 88h40v4h-40zM408 88h4v4h-4zM256 92h44v4h-44zM408 92h4v4h-4zM252 96h52v4h-52zM408 96h4v4h-4zM248 100h56v4h-56zM408 100h4v4h-4zM240 104h68v4h-68zM408 104h4v4h-4zM232 108h36v4h-36zM288 108h24v4h-24zM408 108h4v4h-4zM228 112h32v4h-32zM296 112h20v4h-20zM408 112h4v4h-4zM224 116h28v4h-28zM300 116h16v4h-16zM220 120h24v4h-24zM304 120h16v4h-16zM412 120h4v4h-4zM220 124h20v4h-20zM308 124h16v4h-16zM412 124h4v4h-4zM216 128h20v4h-20zM312 128h12v4h-12zM416 128h4v4h-4zM216 132h20v4h-20zM316 132h12v4h-12zM420 132h4v4h-4zM216 136h16v4h-16zM320 136h8v4h-8zM420 136h4v4h-4zM216 140h16v4h-16zM320 140h8v4h-8zM424 140h4v4h-4zM216 144h16v4h-16zM320 144h8v4h-8zM216 148h20v4h-20zM324 148h4v4h-4zM428 148h4v4h-4zM220 152h16v4h-16zM324 152h4v4h-4zM220 156h20v4h-20zM324 156h4v4h-4zM432 156h4v4h-4zM224 160h16v4h-16zM328 160h4v4h-4zM224 164h16v4h-16zM328 164h8v4h-8zM224 168h16v4h-16zM332 168h8v4h-8zM224 172h16v4h-16zM340 172h4v4h-4zM220 176h16v4h-16zM344 176h4v4h-4zM220 180h12v4h-12zM344 180h4v4h-4zM436 180h4v4h-4zM220 184h12v4h-12zM436 184h4v4h-4zM220 188h8v4h-8zM436 188h4v4h-4zM224 192h4v4h-4zM436 192h4v4h-4zM548 192h4v4h-4zM596 192h8v4h-8zM224 196h8v4h-8zM228 200h4v4h-4zM344 200h4v4h-4zM228 204h8v4h-8zM628 204h4v4h-4zM232 208h4v4h-4zM496 208h4v4h-4zM232 212h8v4h-8zM440 212h4v4h-4zM236 216h4v4h-4zM352 216h4v4h-4zM440 216h4v4h-4zM240 220h4v4h-4zM240 224h4v4h-4zM244 228h4v4h-4zM748 228h4v4h-4zM248 236h4v4h-4zM248 240h4v4h-4zM256 248h4v4h-4zM264 252h4v4h-4zM692 272h4v4h-4zM260 324h4v4h-4zM700 444h8v4h-8zM760 448h8v4h-8zM224 464h4v4h-4zM668 468h4v4h-4zM656 472h4v4h-4zM880 480h4v4h-4zM232 496h4v4h-4zM484 500h4v4h-4zM936 544h8v4h-8zM932 548h16v4h-16zM932 552h16v4h-16zM936 556h8v4h-8zM432 576h4v4h-4zM292 580h4v4h-4zM308 584h4v4h-4zM520 592h4v4h-4zM512 596h4v4h-4zM324 600h4v4h-4zM496 600h8v4h-8zM492 604h4v4h-4zM336 608h4v4h-4zM484 608h8v4h-8zM332 612h4v4h-4zM460 612h20v4h-20zM448 616h4v4h-4zM440 620h4v4h-4zM352 624h16v4h-16zM400 624h32v4h-32zM556 692h4v4h-4zM556 696h8v4h-8zM580 696h4v4h-4zM556 700h4v4h-4zM564 700h4v4h-4zM556 704h4v4h-4zM684 704h4v4h-4zM692 704h4v4h-4zM556 708h4v4h-4zM556 712h8v4h-8zM684 712h4v4h-4zM692 712h4v4h-4zM556 716h12v4h-12zM560 720h16v4h-16zM572 724h24v4h-24zM600 728h12v4h-12zM612 732h4v4h-4zM616 736h4v4h-4zM620 740h4v4h-4zM624 748h4v4h-4zM624 752h4v4h-4zM628 764h4v4h-4zM628 768h4v4h-4z"/>
<path fill="#b8b8b8" d="M120 76h148v4h-148zM288 76h44v4h-44zM404 76h4v4h-4zM120 80h144v4h-144zM292 80h40v4h-40zM404 80h4v4h-4zM120 84h140v4h-140zM296 84h36v4h-36zM404 84h4v4h-4zM120 88h140v4h-140zM300 88h28v4h-28zM404 88h4v4h-4zM120 92h136v4h-136zM300 92h28v4h-28zM404 92h4v4h-4zM120 96h132v4h-132zM304 96h24v4h-24zM404 96h4v4h-4zM120 100h128v4h-128zM304 100h24v4h-24zM404 100h4v4h-4zM120 104h120v4h-120zM308 104h20v4h-20zM404 104h4v4h-4zM120 108h112v4h-112zM312 108h16v4h-16zM404 108h4v4h-4zM120 112h108v4h-108zM316 112h12v4h-12zM120 116h104v4h-104zM316 116h12v4h-12zM408 116h4v4h-4zM120 120h100v4h-100zM320 120h12v4h-12zM408 120h4v4h-4zM120 124h100v4h-100zM324 124h8v4h-8zM120 128h96v4h-96zM324 128h8v4h-8zM412 128h4v4h-4zM120 132h96v4h-96zM328 132h4v4h-4zM416 132h4v4h-4zM120 136h96v4h-96zM328 136h4v4h-4zM120 140h96v4h-96zM328 140h4v4h-4zM420 140h4v4h-4zM120 144h96v4h-96zM328 144h4v4h-4zM424 144h4v4h-4zM120 148h96v4h-96zM328 148h4v4h-4zM120 152h100v4h-100zM328 152h4v4h-4zM428 152h4v4h-4zM120 156h100v4h-100zM328 156h4v4h-4zM120 160h104v4h-104zM332 160h4v4h-4zM432 160h4v4h-4zM120 164h104v4h-104zM336 164h4v4h-4zM120 168h104v4h-104zM340 168h4v4h-4zM120 172h104v4h-104zM344 172h4v4h-4zM120 176h32v4h-32zM192 176h28v4h-28zM120 180h16v4h-16zM204 180h16v4h-16zM208 184h12v4h-12zM212 188h8v4h-8zM216 192h8v4h-8zM540 192h4v4h-4zM220 196h4v4h-4zM436 196h4v4h-4zM604 196h4v4h-4zM224 200h4v4h-4zM436 200h4v4h-4zM224 204h4v4h-4zM228 208h4v4h-4zM488 208h4v4h-4zM228 212h4v4h-4zM232 216h4v4h-4zM232 220h8v4h-8zM236 224h4v4h-4zM240 228h4v4h-4zM244 232h4v4h-4zM244 236h4v4h-4zM248 244h4v4h-4zM252 248h4v4h-4zM260 252h4v4h-4zM268 256h4v4h-4zM272 260h4v4h-4zM868 320h4v4h-4zM876 320h4v4h-4zM868 324h4v4h-4zM876 324h4v4h-4zM776 332h4v4h-4zM872 396h4v4h-4zM236 424h4v4h-4zM752 436h4v4h-4zM756 448h4v4h-4zM232 452h4v4h-4zM688 452h4v4h-4zM224 460h4v4h-4zM684 460h4v4h-4zM228 484h4v4h-4zM876 484h8v4h-8zM240 496h4v4h-4zM484 508h4v4h-4zM448 568h4v4h-4zM436 576h4v4h-4zM320 596h4v4h-4zM516 596h4v4h-4zM320 600h4v4h-4zM504 600h8v4h-8zM496 604h8v4h-8zM492 608h4v4h-4zM480 612h8v4h-8zM332 616h4v4h-4zM452 616h4v4h-4zM340 620h4v4h-4zM444 620h4v4h-4zM348 624h4v4h-4zM368 624h4v4h-4zM392 624h8v4h-8zM432 624h8v4h-8zM404 628h20v4h-20zM552 692h4v4h-4zM560 692h4v4h-4zM552 696h4v4h-4zM552 700h4v4h-4zM576 700h4v4h-4zM548 704h8v4h-8zM544 708h12v4h-12zM544 712h12v4h-12zM540 716h16v4h-16zM540 720h20v4h-20zM544 724h28v4h-28zM544 728h56v4h-56zM544 732h24v4h-24zM592 732h20v4h-20zM548 736h12v4h-12zM612 736h4v4h-4zM552 740h4v4h-4zM616 740h4v4h-4zM620 744h4v4h-4zM620 748h4v4h-4zM624 756h4v4h-4zM624 760h4v4h-4zM624 764h4v4h-4zM624 768h4v4h-4z"/>
<path fill="#bababa" d="M332 76h40v4h-40zM396 76h8v4h-8zM332 80h32v4h-32zM396 80h8v4h-8zM332 84h24v4h-24zM400 84h4v4h-4zM328 88h24v4h-24zM400 88h4v4h-4zM328 92h20v4h-20zM400 92h4v4h-4zM328 96h20v4h-20zM400 96h4v4h-4zM328 100h16v4h-16zM400 100h4v4h-4zM328 104h16v4h-16zM400 104h4v4h-4zM328 108h16v4h-16zM400 108h4v4h-4zM328 112h16v4h-16zM404 112h4v4h-4zM328 116h16v4h-16zM404 116h4v4h-4zM332 120h12v4h-12zM332 124h12v4h-12zM408 124h4v4h-4zM332 128h12v4h-12zM332 132h12v4h-12zM412 132h4v4h-4zM332 136h12v4h-12zM416 136h4v4h-4zM332 140h8v4h-8zM416 140h4v4h-4zM332 144h8v4h-8zM420 144h4v4h-4zM332 148h8v4h-8zM424 148h4v4h-4zM332 152h8v4h-8zM332 156h8v4h-8zM428 156h4v4h-4zM336 160h8v4h-8zM340 164h8v4h-8zM432 164h4v4h-4zM344 168h4v4h-4zM432 168h4v4h-4zM348 172h4v4h-4zM432 172h4v4h-4zM152 176h40v4h-40zM348 176h4v4h-4zM136 180h68v4h-68zM348 180h4v4h-4zM120 184h40v4h-40zM184 184h24v4h-24zM348 184h4v4h-4zM544 184h4v4h-4zM120 188h20v4h-20zM200 188h12v4h-12zM348 188h4v4h-4zM548 188h4v4h-4zM120 192h8v4h-8zM208 192h8v4h-8zM348 192h4v4h-4zM212 196h8v4h-8zM216 200h8v4h-8zM220 204h4v4h-4zM436 204h4v4h-4zM224 208h4v4h-4zM436 208h4v4h-4zM224 212h4v4h-4zM228 216h4v4h-4zM228 220h4v4h-4zM432 220h8v4h-8zM232 224h4v4h-4zM236 228h4v4h-4zM240 232h4v4h-4zM748 232h4v4h-4zM244 240h4v4h-4zM248 248h4v4h-4zM256 252h4v4h-4zM696 264h4v4h-4zM720 316h8v4h-8zM776 324h4v4h-4zM248 360h4v4h-4zM756 360h4v4h-4zM236 364h4v4h-4zM856 404h4v4h-4zM864 408h4v4h-4zM764 436h4v4h-4zM772 436h4v4h-4zM664 468h4v4h-4zM228 472h4v4h-4zM232 500h8v4h-8zM580 508h4v4h-4zM576 512h4v4h-4zM256 520h8v4h-8zM448 576h4v4h-4zM400 592h4v4h-4zM544 596h4v4h-4zM332 600h4v4h-4zM512 600h4v4h-4zM324 604h4v4h-4zM504 604h4v4h-4zM496 608h4v4h-4zM328 612h4v4h-4zM488 612h8v4h-8zM456 616h4v4h-4zM468 616h20v4h-20zM336 620h4v4h-4zM344 624h4v4h-4zM372 624h20v4h-20zM440 624h4v4h-4zM356 628h12v4h-12zM396 628h8v4h-8zM424 628h12v4h-12zM324 676h4v4h-4zM332 680h4v4h-4zM512 688h4v4h-4zM520 688h4v4h-4zM548 692h4v4h-4zM580 692h4v4h-4zM548 696h4v4h-4zM544 700h8v4h-8zM540 704h8v4h-8zM688 704h4v4h-4zM536 708h8v4h-8zM684 708h12v4h-12zM532 712h12v4h-12zM688 712h4v4h-4zM532 716h8v4h-8zM532 720h8v4h-8zM536 724h8v4h-8zM536 728h8v4h-8zM540 732h4v4h-4zM568 732h24v4h-24zM540 736h8v4h-8zM560 736h52v4h-52zM544 740h8v4h-8zM556 740h60v4h-60zM544 744h28v4h-28zM612 744h8v4h-8zM548 748h20v4h-20zM616 748h4v4h-4zM552 752h12v4h-12zM616 752h8v4h-8zM556 756h8v4h-8zM620 756h4v4h-4zM620 760h4v4h-4zM620 764h4v4h-4zM620 768h4v4h-4z"/>
<path fill="#bcbcbc" d="M372 76h24v4h-24zM364 80h32v4h-32zM356 84h44v4h-44zM352 88h48v4h-48zM348 92h52v4h-52zM348 96h52v4h-52zM344 100h56v4h-56zM344 104h32v4h-32zM392 104h8v4h-8zM344 108h24v4h-24zM396 108h4v4h-4zM344 112h24v4h-24zM396 112h8v4h-8zM344 116h20v4h-20zM400 116h4v4h-4zM344 120h16v4h-16zM404 120h4v4h-4zM344 124h16v4h-16zM404 124h4v4h-4zM344 128h16v4h-16zM408 128h4v4h-4zM344 132h12v4h-12zM408 132h4v4h-4zM344 136h12v4h-12zM412 136h4v4h-4zM340 140h16v4h-16zM412 140h4v4h-4zM340 144h12v4h-12zM416 144h4v4h-4zM340 148h12v4h-12zM420 148h4v4h-4zM340 152h12v4h-12zM424 152h4v4h-4zM340 156h12v4h-12zM344 160h8v4h-8zM428 160h4v4h-4zM348 164h4v4h-4zM348 168h4v4h-4zM432 176h4v4h-4zM432 180h4v4h-4zM160 184h24v4h-24zM140 188h60v4h-60zM128 192h24v4h-24zM192 192h16v4h-16zM120 196h16v4h-16zM204 196h8v4h-8zM348 196h4v4h-4zM120 200h4v4h-4zM212 200h4v4h-4zM216 204h4v4h-4zM336 204h4v4h-4zM220 208h4v4h-4zM348 212h4v4h-4zM436 212h4v4h-4zM224 216h4v4h-4zM436 216h4v4h-4zM224 220h4v4h-4zM228 224h4v4h-4zM228 228h8v4h-8zM232 232h8v4h-8zM236 236h8v4h-8zM240 240h4v4h-4zM244 244h4v4h-4zM252 252h4v4h-4zM264 256h4v4h-4zM704 300h4v4h-4zM252 312h4v4h-4zM256 324h4v4h-4zM788 324h4v4h-4zM788 332h4v4h-4zM872 400h4v4h-4zM768 436h4v4h-4zM768 448h8v4h-8zM228 452h4v4h-4zM224 456h4v4h-4zM688 464h4v4h-4zM224 468h4v4h-4zM244 496h4v4h-4zM276 556h4v4h-4zM456 576h4v4h-4zM524 592h4v4h-4zM520 596h4v4h-4zM320 604h4v4h-4zM336 604h4v4h-4zM508 604h4v4h-4zM552 604h4v4h-4zM324 608h4v4h-4zM500 608h8v4h-8zM496 612h4v4h-4zM460 616h8v4h-8zM488 616h8v4h-8zM448 620h4v4h-4zM476 620h8v4h-8zM352 628h4v4h-4zM368 628h4v4h-4zM392 628h4v4h-4zM436 628h4v4h-4zM400 632h28v4h-28zM524 664h4v4h-4zM232 680h4v4h-4zM640 680h4v4h-4zM508 684h4v4h-4zM640 684h4v4h-4zM548 688h4v4h-4zM576 688h4v4h-4zM348 692h4v4h-4zM544 692h4v4h-4zM540 696h8v4h-8zM540 700h4v4h-4zM532 704h8v4h-8zM528 708h8v4h-8zM528 712h4v4h-4zM528 716h4v4h-4zM528 720h4v4h-4zM528 724h8v4h-8zM532 728h4v4h-4zM532 732h8v4h-8zM536 736h4v4h-4zM540 740h4v4h-4zM540 744h4v4h-4zM572 744h40v4h-40zM544 748h4v4h-4zM568 748h48v4h-48zM544 752h8v4h-8zM564 752h52v4h-52zM548 756h8v4h-8zM564 756h56v4h-56zM548 760h72v4h-72zM552 764h68v4h-68zM552 768h68v4h-68z"/>
<path fill="#bebebe" d="M376 104h16v4h-16zM368 108h28v4h-28zM368 112h28v4h-28zM364 116h36v4h-36zM360 120h12v4h-12zM396 120h8v4h-8zM360 124h8v4h-8zM400 124h4v4h-4zM360 128h8v4h-8zM404 128h4v4h-4zM356 132h8v4h-8zM356 136h8v4h-8zM408 136h4v4h-4zM356 140h8v4h-8zM352 144h8v4h-8zM412 144h4v4h-4zM352 148h8v4h-8zM416 148h4v4h-4zM352 152h8v4h-8zM420 152h4v4h-4zM352 156h8v4h-8zM424 156h4v4h-4zM352 160h4v4h-4zM352 164h4v4h-4zM428 164h4v4h-4zM352 168h4v4h-4zM428 168h4v4h-4zM352 172h4v4h-4zM352 176h4v4h-4zM352 180h4v4h-4zM352 184h4v4h-4zM432 184h4v4h-4zM352 188h4v4h-4zM432 188h4v4h-4zM152 192h40v4h-40zM432 192h4v4h-4zM136 196h28v4h-28zM184 196h20v4h-20zM124 200h20v4h-20zM200 200h12v4h-12zM348 200h4v4h-4zM120 204h12v4h-12zM208 204h8v4h-8zM216 208h4v4h-4zM216 212h8v4h-8zM336 212h4v4h-4zM636 212h4v4h-4zM220 216h4v4h-4zM220 220h4v4h-4zM224 224h4v4h-4zM224 228h4v4h-4zM228 232h4v4h-4zM232 236h4v4h-4zM236 240h4v4h-4zM240 244h4v4h-4zM244 248h4v4h-4zM248 252h4v4h-4zM260 256h4v4h-4zM268 260h4v4h-4zM272 264h4v4h-4zM704 264h4v4h-4zM256 352h4v4h-4zM868 392h4v4h-4zM240 396h4v4h-4zM228 448h8v4h-8zM224 452h4v4h-4zM656 476h4v4h-4zM228 488h4v4h-4zM228 492h4v4h-4zM228 496h4v4h-4zM580 512h4v4h-4zM288 576h4v4h-4zM516 600h4v4h-4zM512 604h4v4h-4zM324 612h4v4h-4zM500 612h4v4h-4zM328 616h4v4h-4zM496 616h4v4h-4zM332 620h4v4h-4zM452 620h4v4h-4zM468 620h8v4h-8zM484 620h8v4h-8zM340 624h4v4h-4zM444 624h4v4h-4zM348 628h4v4h-4zM372 628h4v4h-4zM384 628h8v4h-8zM392 632h8v4h-8zM428 632h8v4h-8zM536 636h4v4h-4zM208 672h4v4h-4zM540 692h4v4h-4zM536 700h4v4h-4zM568 700h4v4h-4zM364 704h4v4h-4zM520 704h12v4h-12zM520 708h8v4h-8zM520 712h8v4h-8zM524 716h4v4h-4zM524 720h4v4h-4zM524 724h4v4h-4zM528 728h4v4h-4zM532 736h4v4h-4zM536 740h4v4h-4zM536 744h4v4h-4zM540 748h4v4h-4zM540 752h4v4h-4zM544 756h4v4h-4zM544 760h4v4h-4zM548 764h4v4h-4zM548 768h4v4h-4z"/>
<path fill="#c0c0c0" d="M372 120h24v4h-24zM368 124h16v4h-16zM388 124h12v4h-12zM368 128h8v4h-8zM400 128h4v4h-4zM364 132h8v4h-8zM404 132h4v4h-4zM364 136h4v4h-4zM404 136h4v4h-4zM364 140h4v4h-4zM408 140h4v4h-4zM360 144h8v4h-8zM360 148h4v4h-4zM412 148h4v4h-4zM360 152h4v4h-4zM416 152h4v4h-4zM360 156h4v4h-4zM416 156h8v4h-8zM356 160h4v4h-4zM420 160h8v4h-8zM356 164h4v4h-4zM424 164h4v4h-4zM356 168h4v4h-4zM356 172h4v4h-4zM428 172h4v4h-4zM356 176h4v4h-4zM428 176h4v4h-4zM356 180h4v4h-4zM540 188h8v4h-8zM352 192h4v4h-4zM544 192h4v4h-4zM164 196h20v4h-20zM432 196h4v4h-4zM144 200h56v4h-56zM432 200h4v4h-4zM132 204h24v4h-24zM192 204h16v4h-16zM348 204h4v4h-4zM432 204h4v4h-4zM120 208h20v4h-20zM204 208h12v4h-12zM492 208h4v4h-4zM120 212h8v4h-8zM212 212h4v4h-4zM492 212h4v4h-4zM620 212h4v4h-4zM216 216h4v4h-4zM216 220h4v4h-4zM220 224h4v4h-4zM220 228h4v4h-4zM744 228h4v4h-4zM224 232h4v4h-4zM744 232h4v4h-4zM228 236h4v4h-4zM232 240h4v4h-4zM236 244h4v4h-4zM240 248h4v4h-4zM244 252h4v4h-4zM252 256h8v4h-8zM700 284h4v4h-4zM872 320h4v4h-4zM872 324h4v4h-4zM236 360h4v4h-4zM700 436h8v4h-8zM700 440h8v4h-8zM232 444h4v4h-4zM224 448h4v4h-4zM220 456h4v4h-4zM220 460h4v4h-4zM220 464h4v4h-4zM668 480h4v4h-4zM228 500h4v4h-4zM232 504h8v4h-8zM572 528h8v4h-8zM576 532h4v4h-4zM432 580h8v4h-8zM536 592h4v4h-4zM316 596h4v4h-4zM540 596h4v4h-4zM548 600h4v4h-4zM508 608h4v4h-4zM504 612h4v4h-4zM500 616h4v4h-4zM540 616h4v4h-4zM456 620h12v4h-12zM492 620h8v4h-8zM448 624h4v4h-4zM472 624h24v4h-24zM344 628h4v4h-4zM376 628h8v4h-8zM440 628h4v4h-4zM352 632h20v4h-20zM388 632h4v4h-4zM436 632h4v4h-4zM128 636h4v4h-4zM396 636h28v4h-28zM216 676h4v4h-4zM636 680h4v4h-4zM636 684h4v4h-4zM516 692h4v4h-4zM516 696h8v4h-8zM512 700h24v4h-24zM572 700h4v4h-4zM512 704h8v4h-8zM516 708h4v4h-4zM516 712h4v4h-4zM516 716h8v4h-8zM520 720h4v4h-4zM520 724h4v4h-4zM524 728h4v4h-4zM528 732h4v4h-4zM528 736h4v4h-4zM532 740h4v4h-4zM532 744h4v4h-4zM536 748h4v4h-4zM536 752h4v4h-4zM540 756h4v4h-4zM540 760h4v4h-4zM544 764h4v4h-4zM544 768h4v4h-4z"/>
<path fill="#c2c2c2" d="M384 124h4v4h-4zM376 128h24v4h-24zM372 132h8v4h-8zM396 132h8v4h-8zM368 136h8v4h-8zM400 136h4v4h-4zM368 140h4v4h-4zM404 140h4v4h-4zM368 144h4v4h-4zM408 144h4v4h-4zM364 148h4v4h-4zM408 148h4v4h-4zM364 152h4v4h-4zM412 152h4v4h-4zM412 156h4v4h-4zM360 160h4v4h-4zM412 160h8v4h-8zM360 164h4v4h-4zM416 164h8v4h-8zM360 168h4v4h-4zM420 168h8v4h-8zM424 172h4v4h-4zM428 180h4v4h-4zM356 184h4v4h-4zM428 184h4v4h-4zM356 188h4v4h-4zM352 196h4v4h-4zM156 204h36v4h-36zM140 208h64v4h-64zM348 208h4v4h-4zM128 212h40v4h-40zM184 212h28v4h-28zM352 212h4v4h-4zM120 216h24v4h-24zM204 216h12v4h-12zM120 220h16v4h-16zM208 220h8v4h-8zM120 224h8v4h-8zM212 224h8v4h-8zM216 228h4v4h-4zM216 232h8v4h-8zM220 236h8v4h-8zM224 240h8v4h-8zM228 244h8v4h-8zM232 248h8v4h-8zM240 252h4v4h-4zM244 256h8v4h-8zM264 260h4v4h-4zM260 284h4v4h-4zM120 352h20v4h-20zM120 356h44v4h-44zM120 360h64v4h-64zM120 364h72v4h-72zM120 368h76v4h-76zM236 368h4v4h-4zM120 372h80v4h-80zM120 376h80v4h-80zM120 380h80v4h-80zM120 384h84v4h-84zM120 388h84v4h-84zM120 392h84v4h-84zM120 396h88v4h-88zM120 400h88v4h-88zM120 404h88v4h-88zM120 408h88v4h-88zM120 412h80v4h-80zM120 416h68v4h-68zM232 440h4v4h-4zM224 444h8v4h-8zM220 448h4v4h-4zM220 452h4v4h-4zM224 472h4v4h-4zM224 476h4v4h-4zM224 480h4v4h-4zM228 504h4v4h-4zM316 592h4v4h-4zM316 600h4v4h-4zM520 600h4v4h-4zM516 604h4v4h-4zM320 608h4v4h-4zM328 608h4v4h-4zM512 608h4v4h-4zM508 612h4v4h-4zM504 616h4v4h-4zM500 620h4v4h-4zM336 624h4v4h-4zM452 624h4v4h-4zM468 624h4v4h-4zM496 624h4v4h-4zM444 628h4v4h-4zM476 628h20v4h-20zM348 632h4v4h-4zM372 632h16v4h-16zM440 632h4v4h-4zM480 632h16v4h-16zM392 636h4v4h-4zM424 636h8v4h-8zM516 672h4v4h-4zM512 676h4v4h-4zM508 680h4v4h-4zM508 688h4v4h-4zM508 692h8v4h-8zM520 692h4v4h-4zM508 696h8v4h-8zM564 696h4v4h-4zM508 700h4v4h-4zM508 704h4v4h-4zM512 708h4v4h-4zM512 712h4v4h-4zM512 716h4v4h-4zM516 720h4v4h-4zM516 724h4v4h-4zM520 728h4v4h-4zM524 732h4v4h-4zM524 736h4v4h-4zM528 740h4v4h-4zM528 744h4v4h-4zM532 748h4v4h-4zM532 752h4v4h-4zM536 756h4v4h-4zM536 760h4v4h-4zM536 764h8v4h-8zM540 768h4v4h-4z"/>
<path fill="#c4c4c4" d="M380 132h16v4h-16zM376 136h24v4h-24zM372 140h8v4h-8zM396 140h8v4h-8zM372 144h4v4h-4zM404 144h4v4h-4zM368 148h4v4h-4zM404 148h4v4h-4zM408 152h4v4h-4zM364 156h4v4h-4zM408 156h4v4h-4zM364 160h4v4h-4zM408 160h4v4h-4zM412 164h4v4h-4zM412 168h8v4h-8zM360 172h4v4h-4zM416 172h8v4h-8zM360 176h4v4h-4zM424 176h4v4h-4zM360 180h4v4h-4zM424 180h4v4h-4zM428 188h4v4h-4zM356 192h4v4h-4zM428 192h4v4h-4zM432 208h4v4h-4zM168 212h16v4h-16zM144 216h60v4h-60zM136 220h72v4h-72zM128 224h84v4h-84zM120 228h96v4h-96zM120 232h96v4h-96zM120 236h100v4h-100zM120 240h20v4h-20zM160 240h64v4h-64zM120 244h8v4h-8zM180 244h48v4h-48zM192 248h40v4h-40zM204 252h36v4h-36zM236 256h8v4h-8zM260 260h4v4h-4zM268 264h4v4h-4zM248 316h4v4h-4zM248 320h4v4h-4zM252 324h4v4h-4zM120 332h8v4h-8zM120 336h32v4h-32zM120 340h56v4h-56zM120 344h76v4h-76zM120 348h84v4h-84zM140 352h68v4h-68zM164 356h44v4h-44zM184 360h24v4h-24zM192 364h16v4h-16zM196 368h12v4h-12zM200 372h8v4h-8zM200 376h8v4h-8zM200 380h8v4h-8zM204 384h4v4h-4zM204 388h8v4h-8zM204 392h8v4h-8zM208 396h4v4h-4zM856 396h4v4h-4zM208 400h8v4h-8zM208 404h12v4h-12zM208 408h20v4h-20zM200 412h40v4h-40zM188 416h52v4h-52zM120 420h120v4h-120zM120 424h116v4h-116zM120 428h116v4h-116zM132 432h104v4h-104zM160 436h76v4h-76zM760 436h4v4h-4zM180 440h52v4h-52zM776 440h4v4h-4zM204 444h20v4h-20zM776 444h4v4h-4zM212 448h8v4h-8zM212 452h8v4h-8zM216 456h4v4h-4zM216 460h4v4h-4zM216 464h4v4h-4zM220 468h4v4h-4zM224 484h4v4h-4zM224 492h4v4h-4zM224 496h4v4h-4zM232 508h4v4h-4zM312 588h4v4h-4zM324 616h4v4h-4zM328 620h4v4h-4zM504 620h4v4h-4zM456 624h12v4h-12zM500 624h4v4h-4zM340 628h4v4h-4zM448 628h4v4h-4zM468 628h8v4h-8zM496 628h8v4h-8zM476 632h4v4h-4zM496 632h8v4h-8zM372 636h4v4h-4zM388 636h4v4h-4zM432 636h8v4h-8zM476 636h24v4h-24zM400 640h16v4h-16zM480 640h16v4h-16zM484 644h8v4h-8zM176 652h4v4h-4zM520 668h4v4h-4zM300 676h4v4h-4zM504 676h8v4h-8zM504 680h4v4h-4zM504 684h4v4h-4zM272 688h4v4h-4zM504 688h4v4h-4zM524 688h4v4h-4zM504 692h4v4h-4zM504 696h4v4h-4zM536 696h4v4h-4zM508 708h4v4h-4zM508 712h4v4h-4zM508 716h4v4h-4zM512 720h4v4h-4zM512 724h4v4h-4zM516 728h4v4h-4zM516 732h8v4h-8zM520 736h4v4h-4zM520 740h8v4h-8zM524 744h4v4h-4zM524 748h8v4h-8zM528 752h4v4h-4zM528 756h8v4h-8zM532 760h4v4h-4zM532 764h4v4h-4zM532 768h8v4h-8z"/>
<path fill="#c6c6c6" d="M380 140h16v4h-16zM376 144h8v4h-8zM392 144h12v4h-12zM372 148h4v4h-4zM400 148h4v4h-4zM368 152h4v4h-4zM404 152h4v4h-4zM368 156h4v4h-4zM404 156h4v4h-4zM364 164h4v4h-4zM408 164h4v4h-4zM364 168h4v4h-4zM408 168h4v4h-4zM412 172h4v4h-4zM416 176h8v4h-8zM728 176h8v4h-8zM420 180h4v4h-4zM728 180h4v4h-4zM360 184h4v4h-4zM424 184h4v4h-4zM360 188h4v4h-4zM428 196h4v4h-4zM352 200h4v4h-4zM344 204h4v4h-4zM344 212h4v4h-4zM628 220h4v4h-4zM140 240h20v4h-20zM128 244h52v4h-52zM120 248h72v4h-72zM120 252h84v4h-84zM120 256h116v4h-116zM120 260h140v4h-140zM120 264h108v4h-108zM120 268h104v4h-104zM120 272h100v4h-100zM120 276h100v4h-100zM120 280h96v4h-96zM120 284h96v4h-96zM120 288h96v4h-96zM120 292h96v4h-96zM120 296h96v4h-96zM120 300h96v4h-96zM120 304h96v4h-96zM120 308h96v4h-96zM120 312h96v4h-96zM120 316h100v4h-100zM120 320h100v4h-100zM720 320h8v4h-8zM120 324h104v4h-104zM120 328h100v4h-100zM128 332h92v4h-92zM152 336h68v4h-68zM264 336h4v4h-4zM176 340h44v4h-44zM196 344h24v4h-24zM204 348h16v4h-16zM208 352h16v4h-16zM208 356h16v4h-16zM240 356h8v4h-8zM208 360h16v4h-16zM752 360h4v4h-4zM208 364h12v4h-12zM752 364h8v4h-8zM208 368h8v4h-8zM208 372h8v4h-8zM244 372h4v4h-4zM208 376h4v4h-4zM208 380h4v4h-4zM208 384h4v4h-4zM844 384h4v4h-4zM244 388h4v4h-4zM856 388h4v4h-4zM212 392h4v4h-4zM212 396h4v4h-4zM216 400h4v4h-4zM220 404h8v4h-8zM228 408h12v4h-12zM120 432h12v4h-12zM120 436h40v4h-40zM128 440h52v4h-52zM148 444h56v4h-56zM164 448h48v4h-48zM172 452h40v4h-40zM184 456h32v4h-32zM192 460h24v4h-24zM204 464h12v4h-12zM212 468h8v4h-8zM216 472h8v4h-8zM668 472h4v4h-4zM220 476h4v4h-4zM224 488h4v4h-4zM224 500h4v4h-4zM224 504h4v4h-4zM228 508h4v4h-4zM236 508h4v4h-4zM288 572h4v4h-4zM408 588h4v4h-4zM316 604h4v4h-4zM332 608h4v4h-4zM320 612h4v4h-4zM512 612h4v4h-4zM508 616h4v4h-4zM332 624h4v4h-4zM504 624h4v4h-4zM452 628h16v4h-16zM504 628h4v4h-4zM344 632h4v4h-4zM444 632h8v4h-8zM468 632h8v4h-8zM504 632h4v4h-4zM368 636h4v4h-4zM376 636h12v4h-12zM440 636h4v4h-4zM472 636h4v4h-4zM500 636h8v4h-8zM392 640h8v4h-8zM416 640h16v4h-16zM472 640h8v4h-8zM496 640h8v4h-8zM476 644h8v4h-8zM492 644h12v4h-12zM480 648h20v4h-20zM484 652h16v4h-16zM488 656h8v4h-8zM492 660h8v4h-8zM492 664h12v4h-12zM492 668h20v4h-20zM492 672h24v4h-24zM496 676h8v4h-8zM496 680h8v4h-8zM500 684h4v4h-4zM500 688h4v4h-4zM524 696h4v4h-4zM504 700h4v4h-4zM504 704h4v4h-4zM504 708h4v4h-4zM504 712h4v4h-4zM508 720h4v4h-4zM508 724h4v4h-4zM508 728h8v4h-8zM512 732h4v4h-4zM512 736h8v4h-8zM512 740h8v4h-8zM516 744h8v4h-8zM516 748h8v4h-8zM516 752h12v4h-12zM516 756h12v4h-12zM516 760h16v4h-16zM516 764h16v4h-16zM516 768h16v4h-16z"/>
<path fill="#c8c8c8" d="M384 144h8v4h-8zM376 148h24v4h-24zM372 152h8v4h-8zM396 152h8v4h-8zM372 156h4v4h-4zM400 156h4v4h-4zM368 160h4v4h-4zM404 160h4v4h-4zM368 164h4v4h-4zM404 164h4v4h-4zM364 172h4v4h-4zM408 172h4v4h-4zM364 176h4v4h-4zM412 176h4v4h-4zM416 180h4v4h-4zM420 184h4v4h-4zM424 188h4v4h-4zM356 196h4v4h-4zM428 200h4v4h-4zM352 204h4v4h-4zM352 208h4v4h-4zM228 264h20v4h-20zM224 268h16v4h-16zM220 272h12v4h-12zM220 276h8v4h-8zM216 280h12v4h-12zM216 284h8v4h-8zM216 288h8v4h-8zM216 292h8v4h-8zM704 292h8v4h-8zM216 296h8v4h-8zM216 300h8v4h-8zM708 300h4v4h-4zM216 304h8v4h-8zM216 308h8v4h-8zM216 312h12v4h-12zM220 316h16v4h-16zM220 320h28v4h-28zM224 324h16v4h-16zM220 328h12v4h-12zM220 332h8v4h-8zM220 336h8v4h-8zM220 340h8v4h-8zM220 344h8v4h-8zM220 348h8v4h-8zM260 348h4v4h-4zM224 352h4v4h-4zM224 356h4v4h-4zM224 360h4v4h-4zM232 360h4v4h-4zM220 364h8v4h-8zM232 364h4v4h-4zM216 368h4v4h-4zM216 372h4v4h-4zM212 376h4v4h-4zM856 376h4v4h-4zM212 380h4v4h-4zM212 384h4v4h-4zM212 388h4v4h-4zM216 396h4v4h-4zM220 400h4v4h-4zM228 404h12v4h-12zM756 436h4v4h-4zM120 440h8v4h-8zM120 444h28v4h-28zM132 448h32v4h-32zM148 452h24v4h-24zM692 452h8v4h-8zM156 456h28v4h-28zM700 456h4v4h-4zM168 460h24v4h-24zM700 460h4v4h-4zM176 464h28v4h-28zM184 468h28v4h-28zM188 472h28v4h-28zM196 476h24v4h-24zM204 480h20v4h-20zM216 484h8v4h-8zM220 488h4v4h-4zM220 492h4v4h-4zM220 496h4v4h-4zM456 568h4v4h-4zM524 596h4v4h-4zM520 604h4v4h-4zM516 608h4v4h-4zM508 620h4v4h-4zM508 624h4v4h-4zM336 628h4v4h-4zM452 632h16v4h-16zM444 636h28v4h-28zM372 640h20v4h-20zM432 640h12v4h-12zM464 640h8v4h-8zM504 640h4v4h-4zM468 644h8v4h-8zM504 644h4v4h-4zM472 648h8v4h-8zM500 648h8v4h-8zM480 652h4v4h-4zM500 652h8v4h-8zM480 656h8v4h-8zM496 656h12v4h-12zM528 656h4v4h-4zM484 660h8v4h-8zM500 660h8v4h-8zM488 664h4v4h-4zM504 664h12v4h-12zM488 668h4v4h-4zM512 668h8v4h-8zM488 672h4v4h-4zM492 676h4v4h-4zM492 680h4v4h-4zM496 684h4v4h-4zM252 688h4v4h-4zM496 688h4v4h-4zM500 692h4v4h-4zM564 692h4v4h-4zM500 696h4v4h-4zM500 700h4v4h-4zM504 716h4v4h-4zM504 720h4v4h-4zM504 724h4v4h-4zM504 728h4v4h-4zM508 732h4v4h-4zM508 736h4v4h-4zM508 740h4v4h-4zM508 744h8v4h-8zM508 748h8v4h-8zM508 752h8v4h-8zM508 756h8v4h-8zM508 760h8v4h-8zM508 764h8v4h-8zM508 768h8v4h-8z"/>
<path fill="#cacaca" d="M380 152h16v4h-16zM376 156h4v4h-4zM392 156h8v4h-8zM372 160h4v4h-4zM400 160h4v4h-4zM400 164h4v4h-4zM368 168h4v4h-4zM404 168h4v4h-4zM404 172h4v4h-4zM408 176h4v4h-4zM364 180h4v4h-4zM412 180h4v4h-4zM364 184h4v4h-4zM416 184h4v4h-4zM420 188h4v4h-4zM360 192h4v4h-4zM424 192h4v4h-4zM428 204h4v4h-4zM624 208h4v4h-4zM632 208h4v4h-4zM248 264h8v4h-8zM264 264h4v4h-4zM240 268h8v4h-8zM268 268h4v4h-4zM232 272h12v4h-12zM228 276h12v4h-12zM228 280h8v4h-8zM704 280h4v4h-4zM224 284h8v4h-8zM224 288h4v4h-4zM224 292h4v4h-4zM224 296h4v4h-4zM224 300h4v4h-4zM224 304h4v4h-4zM224 308h4v4h-4zM256 308h4v4h-4zM228 312h8v4h-8zM248 312h4v4h-4zM236 316h12v4h-12zM240 324h12v4h-12zM232 328h8v4h-8zM228 332h4v4h-4zM228 336h4v4h-4zM228 348h4v4h-4zM228 352h4v4h-4zM228 356h12v4h-12zM228 360h4v4h-4zM228 364h4v4h-4zM220 368h8v4h-8zM232 368h4v4h-4zM220 372h4v4h-4zM240 372h4v4h-4zM216 376h4v4h-4zM216 380h4v4h-4zM844 380h4v4h-4zM216 388h4v4h-4zM216 392h4v4h-4zM860 392h4v4h-4zM220 396h4v4h-4zM224 400h4v4h-4zM752 444h4v4h-4zM120 448h12v4h-12zM120 452h28v4h-28zM128 456h28v4h-28zM144 460h24v4h-24zM152 464h24v4h-24zM696 464h4v4h-4zM160 468h24v4h-24zM168 472h20v4h-20zM176 476h20v4h-20zM184 480h20v4h-20zM188 484h28v4h-28zM196 488h24v4h-24zM208 492h12v4h-12zM216 496h4v4h-4zM220 500h4v4h-4zM240 500h4v4h-4zM220 504h4v4h-4zM224 508h4v4h-4zM240 508h4v4h-4zM452 576h4v4h-4zM528 592h4v4h-4zM316 608h4v4h-4zM512 616h4v4h-4zM324 620h4v4h-4zM328 624h4v4h-4zM332 628h4v4h-4zM508 628h4v4h-4zM340 632h4v4h-4zM508 632h4v4h-4zM348 636h8v4h-8zM508 636h4v4h-4zM444 640h20v4h-20zM508 640h4v4h-4zM392 644h40v4h-40zM436 644h32v4h-32zM508 644h4v4h-4zM464 648h8v4h-8zM508 648h4v4h-4zM532 648h4v4h-4zM472 652h8v4h-8zM508 652h4v4h-4zM508 656h4v4h-4zM480 660h4v4h-4zM508 660h8v4h-8zM484 664h4v4h-4zM516 664h8v4h-8zM484 668h4v4h-4zM484 672h4v4h-4zM488 676h4v4h-4zM488 680h4v4h-4zM492 684h4v4h-4zM344 688h4v4h-4zM496 692h4v4h-4zM500 704h4v4h-4zM500 708h4v4h-4zM500 712h4v4h-4zM500 716h4v4h-4zM500 720h4v4h-4zM504 732h4v4h-4zM504 736h4v4h-4zM504 740h4v4h-4zM504 744h4v4h-4zM504 748h4v4h-4zM504 752h4v4h-4zM504 756h4v4h-4zM504 760h4v4h-4zM504 764h4v4h-4zM504 768h4v4h-4z"/>
<path fill="#cccccc" d="M380 156h12v4h-12zM376 160h8v4h-8zM388 160h12v4h-12zM372 164h4v4h-4zM396 164h4v4h-4zM400 168h4v4h-4zM368 172h4v4h-4zM404 176h4v4h-4zM408 180h4v4h-4zM408 184h8v4h-8zM364 188h4v4h-4zM416 188h4v4h-4zM424 196h4v4h-4zM596 196h8v4h-8zM596 200h8v4h-8zM356 212h4v4h-4zM432 212h4v4h-4zM256 264h4v4h-4zM248 268h4v4h-4zM244 272h4v4h-4zM240 276h8v4h-8zM236 280h8v4h-8zM232 284h4v4h-4zM228 288h4v4h-4zM228 292h4v4h-4zM228 304h4v4h-4zM228 308h4v4h-4zM236 312h12v4h-12zM240 328h4v4h-4zM776 328h4v4h-4zM232 332h4v4h-4zM232 336h4v4h-4zM228 340h4v4h-4zM228 344h4v4h-4zM232 352h4v4h-4zM228 368h4v4h-4zM224 372h4v4h-4zM220 376h4v4h-4zM216 384h4v4h-4zM220 392h4v4h-4zM224 396h4v4h-4zM228 400h12v4h-12zM120 456h8v4h-8zM688 456h4v4h-4zM120 460h24v4h-24zM120 464h32v4h-32zM692 464h4v4h-4zM128 468h32v4h-32zM140 472h28v4h-28zM148 476h28v4h-28zM156 480h28v4h-28zM164 484h24v4h-24zM172 488h24v4h-24zM180 492h28v4h-28zM188 496h28v4h-28zM196 500h24v4h-24zM208 504h12v4h-12zM240 504h4v4h-4zM216 508h8v4h-8zM224 512h16v4h-16zM408 592h4v4h-4zM312 596h4v4h-4zM524 600h4v4h-4zM328 604h8v4h-8zM520 608h4v4h-4zM516 612h4v4h-4zM320 616h4v4h-4zM512 620h4v4h-4zM336 632h4v4h-4zM344 636h4v4h-4zM364 636h4v4h-4zM512 636h4v4h-4zM148 640h4v4h-4zM512 640h4v4h-4zM372 644h20v4h-20zM432 644h4v4h-4zM512 644h4v4h-4zM440 648h24v4h-24zM512 648h4v4h-4zM464 652h8v4h-8zM512 652h4v4h-4zM476 656h4v4h-4zM512 656h8v4h-8zM516 660h12v4h-12zM480 664h4v4h-4zM484 676h4v4h-4zM488 684h4v4h-4zM492 688h4v4h-4zM524 692h4v4h-4zM536 692h4v4h-4zM496 696h4v4h-4zM576 696h4v4h-4zM496 700h4v4h-4zM500 724h4v4h-4zM500 728h4v4h-4zM500 732h4v4h-4zM500 736h4v4h-4zM500 740h4v4h-4zM500 744h4v4h-4zM500 748h4v4h-4zM500 752h4v4h-4zM500 756h4v4h-4zM500 760h4v4h-4zM500 764h4v4h-4zM412 768h4v4h-4zM500 768h4v4h-4z"/>
<path fill="#cecece" d="M384 160h4v4h-4zM376 164h20v4h-20zM372 168h4v4h-4zM396 168h4v4h-4zM400 172h4v4h-4zM368 176h4v4h-4zM368 180h4v4h-4zM404 180h4v4h-4zM404 184h4v4h-4zM408 188h8v4h-8zM420 192h4v4h-4zM360 196h4v4h-4zM356 200h4v4h-4zM260 264h4v4h-4zM248 272h4v4h-4zM248 276h4v4h-4zM244 280h4v4h-4zM236 284h8v4h-8zM232 288h4v4h-4zM232 292h4v4h-4zM228 296h4v4h-4zM228 300h4v4h-4zM232 304h4v4h-4zM232 308h8v4h-8zM244 328h4v4h-4zM788 328h4v4h-4zM236 332h4v4h-4zM232 340h4v4h-4zM232 344h4v4h-4zM232 348h4v4h-4zM248 356h4v4h-4zM228 372h4v4h-4zM236 372h4v4h-4zM220 380h4v4h-4zM220 384h4v4h-4zM220 388h4v4h-4zM856 400h4v4h-4zM764 444h4v4h-4zM688 460h4v4h-4zM120 468h8v4h-8zM120 472h20v4h-20zM120 476h28v4h-28zM120 480h36v4h-36zM120 484h44v4h-44zM120 488h52v4h-52zM120 492h60v4h-60zM120 496h68v4h-68zM120 500h76v4h-76zM120 504h88v4h-88zM120 508h96v4h-96zM120 512h104v4h-104zM240 512h4v4h-4zM248 512h4v4h-4zM120 516h112v4h-112zM120 520h96v4h-96zM120 524h36v4h-36zM120 528h12v4h-12zM312 592h4v4h-4zM312 600h4v4h-4zM540 600h4v4h-4zM524 604h4v4h-4zM324 624h4v4h-4zM512 624h4v4h-4zM328 628h4v4h-4zM512 628h4v4h-4zM512 632h4v4h-4zM368 640h4v4h-4zM516 644h4v4h-4zM164 648h4v4h-4zM372 648h8v4h-8zM400 648h40v4h-40zM516 648h4v4h-4zM440 652h24v4h-24zM516 652h4v4h-4zM468 656h8v4h-8zM520 656h8v4h-8zM476 660h4v4h-4zM480 668h4v4h-4zM480 672h4v4h-4zM484 680h4v4h-4zM488 688h4v4h-4zM492 692h4v4h-4zM496 704h4v4h-4zM496 708h4v4h-4zM496 712h4v4h-4zM496 716h4v4h-4zM496 720h4v4h-4zM496 724h4v4h-4zM496 728h4v4h-4zM496 732h4v4h-4zM496 736h4v4h-4zM496 740h4v4h-4zM496 744h4v4h-4zM496 748h4v4h-4zM496 752h4v4h-4zM496 756h4v4h-4zM496 760h4v4h-4zM496 764h4v4h-4zM496 768h4v4h-4z"/>
<path fill="#d0d0d0" d="M376 168h20v4h-20zM372 172h4v4h-4zM396 172h4v4h-4zM400 176h4v4h-4zM400 180h4v4h-4zM368 184h4v4h-4zM404 188h4v4h-4zM364 192h4v4h-4zM412 192h8v4h-8zM424 200h4v4h-4zM432 216h4v4h-4zM252 268h4v4h-4zM248 280h4v4h-4zM244 284h4v4h-4zM236 288h4v4h-4zM236 292h4v4h-4zM232 296h4v4h-4zM232 300h4v4h-4zM240 308h4v4h-4zM252 308h4v4h-4zM248 328h8v4h-8zM240 332h4v4h-4zM236 336h4v4h-4zM236 352h4v4h-4zM252 356h4v4h-4zM232 372h4v4h-4zM224 376h4v4h-4zM848 388h4v4h-4zM224 392h4v4h-4zM864 392h4v4h-4zM228 396h8v4h-8zM232 516h4v4h-4zM216 520h12v4h-12zM156 524h68v4h-68zM132 528h76v4h-76zM120 532h68v4h-68zM120 536h20v4h-20zM120 540h8v4h-8zM532 592h4v4h-4zM544 600h4v4h-4zM312 604h4v4h-4zM316 612h4v4h-4zM516 616h4v4h-4zM320 620h4v4h-4zM332 632h4v4h-4zM536 632h4v4h-4zM340 636h4v4h-4zM356 636h4v4h-4zM516 636h4v4h-4zM348 640h4v4h-4zM516 640h4v4h-4zM532 644h4v4h-4zM380 648h20v4h-20zM520 648h4v4h-4zM412 652h28v4h-28zM520 652h12v4h-12zM424 656h44v4h-44zM472 660h4v4h-4zM476 664h4v4h-4zM480 676h4v4h-4zM484 684h4v4h-4zM268 688h4v4h-4zM488 692h4v4h-4zM492 696h4v4h-4zM528 696h8v4h-8zM412 764h16v4h-16zM492 764h4v4h-4zM416 768h24v4h-24zM492 768h4v4h-4z"/>
<path fill="#d2d2d2" d="M376 172h8v4h-8zM388 172h8v4h-8zM372 176h4v4h-4zM396 176h4v4h-4zM400 184h4v4h-4zM368 188h4v4h-4zM408 192h4v4h-4zM420 196h4v4h-4zM356 204h4v4h-4zM424 204h4v4h-4zM356 208h4v4h-4zM428 208h4v4h-4zM700 264h4v4h-4zM252 280h4v4h-4zM248 284h4v4h-4zM240 288h4v4h-4zM236 296h4v4h-4zM236 300h4v4h-4zM236 304h4v4h-4zM244 308h8v4h-8zM256 328h4v4h-4zM244 332h4v4h-4zM240 336h4v4h-4zM236 340h4v4h-4zM236 344h4v4h-4zM236 348h4v4h-4zM240 352h4v4h-4zM228 376h4v4h-4zM224 380h4v4h-4zM224 384h4v4h-4zM224 388h4v4h-4zM228 392h4v4h-4zM236 396h4v4h-4zM868 404h4v4h-4zM764 440h4v4h-4zM668 476h4v4h-4zM660 480h4v4h-4zM480 504h8v4h-8zM244 508h4v4h-4zM244 512h4v4h-4zM236 516h4v4h-4zM228 520h8v4h-8zM224 524h4v4h-4zM208 528h12v4h-12zM188 532h20v4h-20zM140 536h48v4h-48zM128 540h16v4h-16zM120 544h12v4h-12zM448 572h4v4h-4zM404 588h4v4h-4zM404 592h4v4h-4zM524 608h4v4h-4zM544 608h4v4h-4zM520 612h4v4h-4zM516 620h4v4h-4zM324 628h4v4h-4zM328 632h4v4h-4zM516 632h4v4h-4zM132 636h4v4h-4zM336 636h4v4h-4zM360 636h4v4h-4zM344 640h4v4h-4zM520 640h4v4h-4zM532 640h4v4h-4zM520 644h12v4h-12zM524 648h8v4h-8zM372 652h4v4h-4zM404 652h8v4h-8zM412 656h12v4h-12zM416 660h28v4h-28zM468 660h4v4h-4zM424 664h8v4h-8zM472 664h4v4h-4zM476 668h4v4h-4zM476 672h4v4h-4zM480 680h4v4h-4zM240 684h4v4h-4zM480 684h4v4h-4zM484 688h4v4h-4zM568 688h4v4h-4zM488 696h4v4h-4zM492 700h4v4h-4zM492 704h4v4h-4zM492 708h4v4h-4zM492 712h4v4h-4zM492 716h4v4h-4zM492 720h4v4h-4zM492 724h4v4h-4zM492 728h4v4h-4zM492 732h4v4h-4zM492 736h4v4h-4zM492 740h4v4h-4zM492 744h4v4h-4zM492 748h4v4h-4zM492 752h4v4h-4zM492 756h4v4h-4zM412 760h12v4h-12zM492 760h4v4h-4zM428 764h12v4h-12zM440 768h4v4h-4z"/>
<path fill="#d4d4d4" d="M384 172h4v4h-4zM376 176h4v4h-4zM392 176h4v4h-4zM372 180h4v4h-4zM396 180h4v4h-4zM400 188h4v4h-4zM404 192h4v4h-4zM416 196h4v4h-4zM420 200h4v4h-4zM252 272h4v4h-4zM252 276h4v4h-4zM252 284h4v4h-4zM244 288h4v4h-4zM240 292h4v4h-4zM240 304h4v4h-4zM260 328h4v4h-4zM248 332h4v4h-4zM240 340h4v4h-4zM244 352h4v4h-4zM232 376h4v4h-4zM228 380h4v4h-4zM228 388h4v4h-4zM752 440h4v4h-4zM660 472h4v4h-4zM240 516h4v4h-4zM236 520h4v4h-4zM228 524h8v4h-8zM220 528h8v4h-8zM208 532h8v4h-8zM188 536h16v4h-16zM144 540h40v4h-40zM132 544h8v4h-8zM120 548h8v4h-8zM456 572h4v4h-4zM536 596h4v4h-4zM528 604h4v4h-4zM316 616h4v4h-4zM320 624h4v4h-4zM516 624h4v4h-4zM516 628h4v4h-4zM332 636h4v4h-4zM520 636h4v4h-4zM340 640h4v4h-4zM524 640h4v4h-4zM368 644h4v4h-4zM368 648h4v4h-4zM368 652h4v4h-4zM376 652h12v4h-12zM392 652h12v4h-12zM408 656h4v4h-4zM412 660h4v4h-4zM444 660h24v4h-24zM196 664h4v4h-4zM416 664h8v4h-8zM432 664h8v4h-8zM468 664h4v4h-4zM424 668h8v4h-8zM472 668h4v4h-4zM328 676h4v4h-4zM476 676h4v4h-4zM288 680h4v4h-4zM476 680h4v4h-4zM340 684h4v4h-4zM256 688h4v4h-4zM480 688h4v4h-4zM484 692h4v4h-4zM488 700h4v4h-4zM488 724h4v4h-4zM488 728h4v4h-4zM488 732h4v4h-4zM488 736h4v4h-4zM488 740h4v4h-4zM488 744h4v4h-4zM488 748h4v4h-4zM488 752h4v4h-4zM412 756h4v4h-4zM488 756h4v4h-4zM424 760h16v4h-16zM488 760h4v4h-4zM440 764h8v4h-8zM488 764h4v4h-4zM444 768h8v4h-8zM488 768h4v4h-4z"/>
<path fill="#d6d6d6" d="M380 176h12v4h-12zM376 180h4v4h-4zM372 184h4v4h-4zM396 184h4v4h-4zM368 192h4v4h-4zM364 196h4v4h-4zM408 196h8v4h-8zM360 200h4v4h-4zM336 208h4v4h-4zM360 212h4v4h-4zM416 220h4v4h-4zM256 284h4v4h-4zM240 296h4v4h-4zM240 300h4v4h-4zM244 336h4v4h-4zM240 344h4v4h-4zM240 348h4v4h-4zM228 384h4v4h-4zM232 392h4v4h-4zM244 516h4v4h-4zM240 520h4v4h-4zM236 524h4v4h-4zM228 528h4v4h-4zM216 532h8v4h-8zM204 536h8v4h-8zM184 540h12v4h-12zM140 544h24v4h-24zM128 548h12v4h-12zM120 552h8v4h-8zM280 564h4v4h-4zM304 584h4v4h-4zM536 600h4v4h-4zM536 604h8v4h-8zM312 608h4v4h-4zM528 608h4v4h-4zM316 620h4v4h-4zM320 628h4v4h-4zM324 632h4v4h-4zM328 636h4v4h-4zM532 636h4v4h-4zM336 640h4v4h-4zM528 640h4v4h-4zM344 644h8v4h-8zM388 652h4v4h-4zM404 656h4v4h-4zM408 660h4v4h-4zM412 664h4v4h-4zM440 664h28v4h-28zM416 668h8v4h-8zM432 668h8v4h-8zM468 668h4v4h-4zM472 672h4v4h-4zM472 676h4v4h-4zM476 684h4v4h-4zM264 688h4v4h-4zM480 692h4v4h-4zM484 696h4v4h-4zM360 700h4v4h-4zM484 700h4v4h-4zM488 704h4v4h-4zM488 708h4v4h-4zM488 712h4v4h-4zM488 716h4v4h-4zM384 720h4v4h-4zM488 720h4v4h-4zM388 724h4v4h-4zM484 724h4v4h-4zM392 728h4v4h-4zM484 728h4v4h-4zM396 732h4v4h-4zM484 732h4v4h-4zM484 736h4v4h-4zM484 740h4v4h-4zM484 744h4v4h-4zM484 748h4v4h-4zM484 752h4v4h-4zM416 756h8v4h-8zM484 756h4v4h-4zM440 760h12v4h-12zM484 760h4v4h-4zM448 764h8v4h-8zM480 764h8v4h-8zM452 768h8v4h-8zM480 768h8v4h-8z"/>
<path fill="#d8d8d8" d="M380 180h4v4h-4zM388 180h8v4h-8zM372 188h4v4h-4zM396 188h4v4h-4zM400 192h4v4h-4zM416 200h4v4h-4zM420 204h4v4h-4zM628 208h4v4h-4zM400 216h4v4h-4zM704 268h4v4h-4zM256 280h4v4h-4zM696 280h4v4h-4zM704 296h8v4h-8zM244 304h4v4h-4zM252 332h4v4h-4zM244 340h4v4h-4zM244 344h4v4h-4zM244 348h4v4h-4zM248 352h4v4h-4zM244 376h4v4h-4zM848 376h4v4h-4zM236 392h4v4h-4zM248 516h4v4h-4zM244 520h4v4h-4zM240 524h4v4h-4zM232 528h8v4h-8zM224 532h4v4h-4zM212 536h4v4h-4zM196 540h8v4h-8zM164 544h24v4h-24zM140 548h8v4h-8zM128 552h8v4h-8zM120 556h4v4h-4zM532 604h4v4h-4zM312 612h4v4h-4zM524 612h4v4h-4zM540 612h4v4h-4zM520 616h4v4h-4zM316 624h4v4h-4zM320 632h4v4h-4zM520 632h4v4h-4zM324 636h4v4h-4zM524 636h8v4h-8zM328 640h8v4h-8zM352 640h4v4h-4zM336 644h8v4h-8zM344 648h8v4h-8zM364 656h16v4h-16zM396 656h8v4h-8zM404 660h4v4h-4zM408 664h4v4h-4zM412 668h4v4h-4zM440 668h12v4h-12zM460 668h8v4h-8zM420 672h16v4h-16zM468 672h4v4h-4zM468 676h4v4h-4zM472 680h4v4h-4zM472 684h4v4h-4zM476 688h4v4h-4zM532 688h4v4h-4zM476 692h4v4h-4zM480 696h4v4h-4zM480 700h4v4h-4zM484 704h4v4h-4zM484 708h4v4h-4zM484 712h4v4h-4zM380 716h4v4h-4zM484 716h4v4h-4zM480 720h8v4h-8zM476 724h8v4h-8zM476 728h8v4h-8zM472 732h12v4h-12zM472 736h12v4h-12zM404 740h4v4h-4zM468 740h16v4h-16zM468 744h16v4h-16zM464 748h20v4h-20zM412 752h4v4h-4zM460 752h24v4h-24zM424 756h60v4h-60zM452 760h32v4h-32zM456 764h24v4h-24zM460 768h20v4h-20z"/>
<path fill="#dadada" d="M384 180h4v4h-4zM376 184h4v4h-4zM392 184h4v4h-4zM404 196h4v4h-4zM412 200h4v4h-4zM340 204h4v4h-4zM424 208h4v4h-4zM340 212h4v4h-4zM428 220h4v4h-4zM256 268h4v4h-4zM264 268h4v4h-4zM248 336h4v4h-4zM232 380h4v4h-4zM232 388h4v4h-4zM240 392h4v4h-4zM760 444h4v4h-4zM244 524h4v4h-4zM240 528h4v4h-4zM228 532h8v4h-8zM216 536h4v4h-4zM204 540h8v4h-8zM188 544h12v4h-12zM148 548h32v4h-32zM136 552h8v4h-8zM272 552h4v4h-4zM124 556h8v4h-8zM120 560h4v4h-4zM308 596h4v4h-4zM308 600h4v4h-4zM532 608h12v4h-12zM316 628h4v4h-4zM320 636h4v4h-4zM324 640h4v4h-4zM328 644h8v4h-8zM332 648h12v4h-12zM340 652h12v4h-12zM364 652h4v4h-4zM352 656h12v4h-12zM380 656h16v4h-16zM400 660h4v4h-4zM452 668h8v4h-8zM416 672h4v4h-4zM436 672h32v4h-32zM220 676h4v4h-4zM460 676h8v4h-8zM464 680h8v4h-8zM468 684h4v4h-4zM260 688h4v4h-4zM468 688h8v4h-8zM528 688h4v4h-4zM472 692h4v4h-4zM576 692h4v4h-4zM472 696h8v4h-8zM568 696h4v4h-4zM476 700h4v4h-4zM476 704h8v4h-8zM476 708h8v4h-8zM476 712h8v4h-8zM472 716h12v4h-12zM468 720h12v4h-12zM468 724h8v4h-8zM464 728h12v4h-12zM464 732h8v4h-8zM400 736h4v4h-4zM460 736h12v4h-12zM460 740h8v4h-8zM456 744h12v4h-12zM452 748h12v4h-12zM416 752h4v4h-4zM448 752h12v4h-12z"/>
<path fill="#dcdcdc" d="M380 184h12v4h-12zM376 188h4v4h-4zM392 188h4v4h-4zM360 204h4v4h-4zM416 204h4v4h-4zM344 208h4v4h-4zM260 280h4v4h-4zM248 288h4v4h-4zM244 292h4v4h-4zM256 304h4v4h-4zM248 340h4v4h-4zM248 348h4v4h-4zM252 352h4v4h-4zM236 376h4v4h-4zM232 384h4v4h-4zM768 440h8v4h-8zM768 444h8v4h-8zM664 472h4v4h-4zM664 480h4v4h-4zM248 504h4v4h-4zM248 520h4v4h-4zM244 528h4v4h-4zM236 532h8v4h-8zM220 536h8v4h-8zM212 540h4v4h-4zM200 544h4v4h-4zM268 544h4v4h-4zM180 548h12v4h-12zM144 552h16v4h-16zM132 556h8v4h-8zM124 560h8v4h-8zM308 592h4v4h-4zM528 600h4v4h-4zM308 604h4v4h-4zM312 616h4v4h-4zM312 620h4v4h-4zM312 624h4v4h-4zM520 628h4v4h-4zM316 632h4v4h-4zM524 632h4v4h-4zM532 632h4v4h-4zM316 636h4v4h-4zM320 640h4v4h-4zM320 644h8v4h-8zM324 648h8v4h-8zM324 652h16v4h-16zM352 652h4v4h-4zM328 656h24v4h-24zM328 660h40v4h-40zM396 660h4v4h-4zM328 664h20v4h-20zM404 664h4v4h-4zM204 668h4v4h-4zM328 668h16v4h-16zM408 668h4v4h-4zM328 672h12v4h-12zM412 672h4v4h-4zM332 676h4v4h-4zM420 676h40v4h-40zM336 680h4v4h-4zM452 680h12v4h-12zM460 684h8v4h-8zM460 688h8v4h-8zM464 692h8v4h-8zM468 696h4v4h-4zM468 700h8v4h-8zM468 704h8v4h-8zM468 708h8v4h-8zM376 712h4v4h-4zM468 712h8v4h-8zM468 716h4v4h-4zM464 720h4v4h-4zM464 724h4v4h-4zM460 728h4v4h-4zM460 732h4v4h-4zM456 740h4v4h-4zM408 744h4v4h-4zM452 744h4v4h-4zM448 748h4v4h-4zM420 752h4v4h-4zM440 752h8v4h-8z"/>
<path fill="#dedede" d="M372 192h4v4h-4zM396 192h4v4h-4zM368 196h4v4h-4zM408 200h4v4h-4zM360 208h4v4h-4zM420 220h4v4h-4zM256 288h4v4h-4zM244 300h4v4h-4zM248 304h4v4h-4zM256 332h4v4h-4zM248 344h4v4h-4zM852 388h4v4h-4zM264 524h4v4h-4zM244 532h4v4h-4zM228 536h4v4h-4zM216 540h4v4h-4zM204 544h8v4h-8zM192 548h8v4h-8zM160 552h24v4h-24zM140 556h12v4h-12zM132 560h8v4h-8zM120 564h8v4h-8zM308 588h4v4h-4zM308 608h4v4h-4zM528 612h12v4h-12zM312 628h4v4h-4zM536 628h4v4h-4zM312 632h4v4h-4zM312 636h4v4h-4zM316 640h4v4h-4zM156 644h4v4h-4zM316 644h4v4h-4zM316 648h8v4h-8zM320 652h4v4h-4zM320 656h8v4h-8zM324 660h4v4h-4zM368 660h16v4h-16zM388 660h8v4h-8zM324 664h4v4h-4zM348 664h8v4h-8zM400 664h4v4h-4zM324 668h4v4h-4zM344 668h8v4h-8zM404 668h4v4h-4zM324 672h4v4h-4zM340 672h8v4h-8zM408 672h4v4h-4zM336 676h8v4h-8zM416 676h4v4h-4zM428 680h24v4h-24zM448 684h12v4h-12zM452 688h8v4h-8zM456 692h8v4h-8zM460 696h8v4h-8zM464 700h4v4h-4zM464 704h4v4h-4zM464 708h4v4h-4zM464 712h4v4h-4zM464 716h4v4h-4zM460 720h4v4h-4zM460 724h4v4h-4zM456 732h4v4h-4zM456 736h4v4h-4zM452 740h4v4h-4zM412 748h4v4h-4zM444 748h4v4h-4zM424 752h16v4h-16z"/>
<path fill="#e0e0e0" d="M380 188h12v4h-12zM400 196h4v4h-4zM364 200h4v4h-4zM412 204h4v4h-4zM264 276h4v4h-4zM252 348h4v4h-4zM240 376h4v4h-4zM756 440h8v4h-8zM756 444h4v4h-4zM660 476h8v4h-8zM248 524h4v4h-4zM232 536h12v4h-12zM220 540h4v4h-4zM212 544h4v4h-4zM200 548h4v4h-4zM184 552h12v4h-12zM152 556h28v4h-28zM140 560h12v4h-12zM128 564h12v4h-12zM120 568h12v4h-12zM452 568h4v4h-4zM120 572h4v4h-4zM452 572h4v4h-4zM528 596h8v4h-8zM532 600h4v4h-4zM544 604h8v4h-8zM548 608h4v4h-4zM308 612h4v4h-4zM308 616h4v4h-4zM308 620h4v4h-4zM520 620h4v4h-4zM308 624h4v4h-4zM308 628h4v4h-4zM308 632h4v4h-4zM528 632h4v4h-4zM308 636h4v4h-4zM308 640h8v4h-8zM308 644h8v4h-8zM308 648h8v4h-8zM352 648h4v4h-4zM312 652h8v4h-8zM356 652h8v4h-8zM316 656h4v4h-4zM320 660h4v4h-4zM384 660h4v4h-4zM320 664h4v4h-4zM356 664h8v4h-8zM396 664h4v4h-4zM320 668h4v4h-4zM352 668h4v4h-4zM320 672h4v4h-4zM348 672h4v4h-4zM296 676h4v4h-4zM344 676h4v4h-4zM412 676h4v4h-4zM340 680h4v4h-4zM420 680h8v4h-8zM436 684h12v4h-12zM448 688h4v4h-4zM572 688h4v4h-4zM452 692h4v4h-4zM528 692h8v4h-8zM456 696h4v4h-4zM456 700h8v4h-8zM460 704h4v4h-4zM460 708h4v4h-4zM460 712h4v4h-4zM460 716h4v4h-4zM456 728h4v4h-4zM448 744h4v4h-4z"/>
<path fill="#e2e2e2" d="M376 192h4v4h-4zM392 192h4v4h-4zM420 208h4v4h-4zM364 212h4v4h-4zM428 212h4v4h-4zM704 276h4v4h-4zM252 288h4v4h-4zM244 296h4v4h-4zM252 304h4v4h-4zM260 332h4v4h-4zM252 336h4v4h-4zM852 376h4v4h-4zM244 504h4v4h-4zM252 520h4v4h-4zM244 536h4v4h-4zM224 540h4v4h-4zM216 544h4v4h-4zM204 548h8v4h-8zM196 552h4v4h-4zM180 556h12v4h-12zM152 560h28v4h-28zM140 564h20v4h-20zM132 568h12v4h-12zM124 572h12v4h-12zM120 576h8v4h-8zM120 580h4v4h-4zM536 616h4v4h-4zM520 624h4v4h-4zM304 628h4v4h-4zM304 632h4v4h-4zM300 636h8v4h-8zM296 640h12v4h-12zM364 640h4v4h-4zM288 644h20v4h-20zM352 644h4v4h-4zM284 648h24v4h-24zM280 652h32v4h-32zM364 664h8v4h-8zM392 664h4v4h-4zM356 668h4v4h-4zM400 668h4v4h-4zM352 672h4v4h-4zM404 672h4v4h-4zM348 676h4v4h-4zM408 676h4v4h-4zM236 680h4v4h-4zM344 680h8v4h-8zM416 680h4v4h-4zM280 684h4v4h-4zM344 684h4v4h-4zM428 684h8v4h-8zM436 688h12v4h-12zM444 692h8v4h-8zM356 696h4v4h-4zM452 696h4v4h-4zM572 696h4v4h-4zM452 700h4v4h-4zM456 704h4v4h-4zM456 708h4v4h-4zM456 712h4v4h-4zM456 720h4v4h-4zM456 724h4v4h-4zM452 736h4v4h-4zM416 748h4v4h-4zM440 748h4v4h-4z"/>
<path fill="#e4e4e4" d="M388 192h4v4h-4zM404 200h4v4h-4zM416 208h4v4h-4zM236 388h4v4h-4zM868 396h4v4h-4zM860 404h4v4h-4zM248 528h4v4h-4zM248 532h4v4h-4zM248 536h4v4h-4zM228 540h8v4h-8zM220 544h4v4h-4zM212 548h4v4h-4zM200 552h8v4h-8zM192 556h8v4h-8zM180 560h12v4h-12zM160 564h24v4h-24zM144 568h32v4h-32zM136 572h28v4h-28zM128 576h28v4h-28zM124 580h20v4h-20zM120 584h16v4h-16zM120 588h12v4h-12zM120 592h4v4h-4zM304 600h4v4h-4zM304 604h4v4h-4zM304 616h4v4h-4zM304 620h4v4h-4zM300 624h8v4h-8zM536 624h4v4h-4zM300 628h4v4h-4zM292 632h12v4h-12zM136 636h4v4h-4zM280 636h20v4h-20zM272 640h24v4h-24zM272 644h16v4h-16zM168 648h4v4h-4zM268 648h16v4h-16zM180 652h4v4h-4zM268 652h12v4h-12zM264 656h40v4h-40zM312 656h4v4h-4zM264 660h36v4h-36zM264 664h36v4h-36zM372 664h20v4h-20zM264 668h8v4h-8zM292 668h8v4h-8zM360 668h4v4h-4zM396 668h4v4h-4zM260 672h8v4h-8zM296 672h4v4h-4zM316 672h4v4h-4zM356 672h4v4h-4zM400 672h4v4h-4zM260 676h4v4h-4zM352 676h4v4h-4zM404 676h4v4h-4zM260 680h4v4h-4zM352 680h4v4h-4zM412 680h4v4h-4zM256 684h12v4h-12zM348 684h4v4h-4zM420 684h8v4h-8zM348 688h4v4h-4zM428 688h8v4h-8zM352 692h4v4h-4zM436 692h8v4h-8zM444 696h8v4h-8zM448 700h4v4h-4zM452 704h4v4h-4zM372 708h4v4h-4zM456 716h4v4h-4zM452 732h4v4h-4zM448 740h4v4h-4zM444 744h4v4h-4zM436 748h4v4h-4z"/>
<path fill="#e6e6e6" d="M380 192h8v4h-8zM372 196h4v4h-4zM396 196h4v4h-4zM412 208h4v4h-4zM424 220h4v4h-4zM260 268h4v4h-4zM780 324h8v4h-8zM780 332h8v4h-8zM692 456h8v4h-8zM692 460h8v4h-8zM244 500h8v4h-8zM264 532h4v4h-4zM264 536h4v4h-4zM236 540h16v4h-16zM224 544h4v4h-4zM216 548h4v4h-4zM208 552h4v4h-4zM200 556h4v4h-4zM192 560h8v4h-8zM184 564h8v4h-8zM176 568h12v4h-12zM164 572h20v4h-20zM156 576h24v4h-24zM144 580h36v4h-36zM136 584h40v4h-40zM132 588h44v4h-44zM124 592h48v4h-48zM304 592h4v4h-4zM120 596h52v4h-52zM304 596h4v4h-4zM120 600h32v4h-32zM120 604h20v4h-20zM120 608h12v4h-12zM304 608h4v4h-4zM120 612h8v4h-8zM304 612h4v4h-4zM120 616h4v4h-4zM524 616h4v4h-4zM120 620h4v4h-4zM300 620h4v4h-4zM536 620h4v4h-4zM296 624h4v4h-4zM288 628h12v4h-12zM120 632h4v4h-4zM276 632h16v4h-16zM268 636h12v4h-12zM264 640h8v4h-8zM260 644h12v4h-12zM260 648h8v4h-8zM364 648h4v4h-4zM260 652h8v4h-8zM260 656h4v4h-4zM304 656h8v4h-8zM256 660h8v4h-8zM300 660h4v4h-4zM316 660h4v4h-4zM256 664h8v4h-8zM256 668h8v4h-8zM272 668h20v4h-20zM364 668h4v4h-4zM392 668h4v4h-4zM256 672h4v4h-4zM268 672h4v4h-4zM284 672h12v4h-12zM300 672h4v4h-4zM360 672h4v4h-4zM396 672h4v4h-4zM256 676h4v4h-4zM264 676h4v4h-4zM288 676h8v4h-8zM356 676h4v4h-4zM256 680h4v4h-4zM264 680h4v4h-4zM408 680h4v4h-4zM352 684h4v4h-4zM412 684h8v4h-8zM352 688h4v4h-4zM420 688h8v4h-8zM428 692h8v4h-8zM568 692h8v4h-8zM436 696h8v4h-8zM444 700h4v4h-4zM448 704h4v4h-4zM452 708h4v4h-4zM452 712h4v4h-4zM452 728h4v4h-4zM412 744h4v4h-4zM420 748h8v4h-8zM432 748h4v4h-4z"/>
<path fill="#e8e8e8" d="M408 204h4v4h-4zM408 216h8v4h-8zM704 272h4v4h-4zM256 276h4v4h-4zM700 280h4v4h-4zM252 340h4v4h-4zM252 344h4v4h-4zM264 344h4v4h-4zM252 540h4v4h-4zM228 544h4v4h-4zM264 544h4v4h-4zM220 548h4v4h-4zM212 552h4v4h-4zM204 556h8v4h-8zM200 560h8v4h-8zM280 560h4v4h-4zM192 564h12v4h-12zM188 568h12v4h-12zM184 572h12v4h-12zM180 576h16v4h-16zM180 580h12v4h-12zM176 584h16v4h-16zM176 588h16v4h-16zM304 588h4v4h-4zM172 592h20v4h-20zM172 596h24v4h-24zM152 600h44v4h-44zM140 604h56v4h-56zM132 608h64v4h-64zM128 612h68v4h-68zM300 612h4v4h-4zM124 616h68v4h-68zM300 616h4v4h-4zM124 620h16v4h-16zM164 620h24v4h-24zM296 620h4v4h-4zM120 624h16v4h-16zM168 624h16v4h-16zM288 624h8v4h-8zM120 628h12v4h-12zM172 628h8v4h-8zM276 628h12v4h-12zM524 628h4v4h-4zM532 628h4v4h-4zM124 632h8v4h-8zM264 632h12v4h-12zM256 636h12v4h-12zM256 640h8v4h-8zM252 644h8v4h-8zM252 648h8v4h-8zM252 652h8v4h-8zM252 656h8v4h-8zM252 660h4v4h-4zM252 664h4v4h-4zM300 664h4v4h-4zM252 668h4v4h-4zM300 668h4v4h-4zM368 668h4v4h-4zM388 668h4v4h-4zM284 676h4v4h-4zM400 676h4v4h-4zM356 680h4v4h-4zM404 680h4v4h-4zM356 684h4v4h-4zM408 684h4v4h-4zM412 688h8v4h-8zM356 692h4v4h-4zM420 692h8v4h-8zM432 696h4v4h-4zM440 700h4v4h-4zM444 704h4v4h-4zM448 708h4v4h-4zM452 716h4v4h-4zM452 720h4v4h-4zM452 724h4v4h-4zM448 736h4v4h-4zM440 744h4v4h-4zM428 748h4v4h-4z"/>
<path fill="#eaeaea" d="M364 204h4v4h-4zM412 212h4v4h-4zM424 212h4v4h-4zM424 216h8v4h-8zM256 348h4v4h-4zM236 380h4v4h-4zM856 384h4v4h-4zM252 536h4v4h-4zM256 540h12v4h-12zM232 544h32v4h-32zM224 548h4v4h-4zM260 548h12v4h-12zM216 552h4v4h-4zM212 556h4v4h-4zM208 560h4v4h-4zM204 564h4v4h-4zM200 568h8v4h-8zM196 572h8v4h-8zM196 576h8v4h-8zM192 580h12v4h-12zM192 584h12v4h-12zM192 588h12v4h-12zM192 592h12v4h-12zM196 596h8v4h-8zM196 600h8v4h-8zM196 604h8v4h-8zM196 608h8v4h-8zM300 608h4v4h-4zM196 612h4v4h-4zM192 616h4v4h-4zM296 616h4v4h-4zM532 616h4v4h-4zM140 620h24v4h-24zM188 620h4v4h-4zM288 620h8v4h-8zM136 624h32v4h-32zM184 624h4v4h-4zM280 624h8v4h-8zM132 628h28v4h-28zM164 628h8v4h-8zM180 628h4v4h-4zM264 628h12v4h-12zM132 632h20v4h-20zM172 632h12v4h-12zM252 632h12v4h-12zM140 636h8v4h-8zM176 636h4v4h-4zM252 636h4v4h-4zM248 640h8v4h-8zM248 644h4v4h-4zM248 648h4v4h-4zM248 652h4v4h-4zM248 656h4v4h-4zM248 660h4v4h-4zM244 664h8v4h-8zM248 668h4v4h-4zM316 668h4v4h-4zM372 668h8v4h-8zM384 668h4v4h-4zM252 672h4v4h-4zM272 672h4v4h-4zM280 672h4v4h-4zM304 672h4v4h-4zM364 672h4v4h-4zM392 672h4v4h-4zM360 676h4v4h-4zM396 676h4v4h-4zM284 680h4v4h-4zM400 680h4v4h-4zM252 684h4v4h-4zM268 684h4v4h-4zM404 684h4v4h-4zM356 688h4v4h-4zM404 688h8v4h-8zM408 692h12v4h-12zM420 696h12v4h-12zM436 700h4v4h-4zM448 712h4v4h-4zM384 716h8v4h-8zM388 720h8v4h-8zM392 724h4v4h-4zM396 728h4v4h-4zM448 732h4v4h-4zM408 740h4v4h-4zM444 740h4v4h-4z"/>
<path fill="#ececec" d="M376 196h4v4h-4zM392 196h4v4h-4zM368 200h4v4h-4zM400 200h4v4h-4zM364 208h4v4h-4zM624 212h4v4h-4zM632 212h4v4h-4zM404 216h4v4h-4zM624 216h4v4h-4zM632 216h4v4h-4zM856 380h4v4h-4zM228 548h4v4h-4zM252 548h8v4h-8zM220 552h8v4h-8zM268 552h4v4h-4zM216 556h4v4h-4zM212 560h4v4h-4zM208 564h8v4h-8zM208 568h4v4h-4zM204 572h8v4h-8zM204 576h8v4h-8zM204 580h8v4h-8zM204 584h8v4h-8zM204 588h8v4h-8zM204 592h8v4h-8zM204 596h8v4h-8zM300 596h4v4h-4zM204 600h8v4h-8zM300 600h4v4h-4zM204 604h8v4h-8zM300 604h4v4h-4zM204 608h8v4h-8zM200 612h8v4h-8zM296 612h4v4h-4zM196 616h8v4h-8zM292 616h4v4h-4zM192 620h4v4h-4zM284 620h4v4h-4zM188 624h4v4h-4zM272 624h8v4h-8zM160 628h4v4h-4zM184 628h4v4h-4zM252 628h12v4h-12zM152 632h4v4h-4zM184 632h4v4h-4zM248 632h4v4h-4zM148 636h8v4h-8zM172 636h4v4h-4zM180 636h4v4h-4zM248 636h4v4h-4zM172 640h8v4h-8zM172 644h8v4h-8zM172 648h4v4h-4zM244 652h4v4h-4zM244 656h4v4h-4zM244 660h4v4h-4zM240 664h4v4h-4zM316 664h4v4h-4zM240 668h8v4h-8zM380 668h4v4h-4zM276 672h4v4h-4zM312 672h4v4h-4zM232 676h4v4h-4zM252 676h4v4h-4zM268 676h4v4h-4zM252 680h4v4h-4zM360 680h4v4h-4zM400 684h4v4h-4zM400 688h4v4h-4zM400 692h8v4h-8zM360 696h4v4h-4zM400 696h20v4h-20zM400 700h16v4h-16zM424 700h12v4h-12zM368 704h4v4h-4zM396 704h12v4h-12zM440 704h4v4h-4zM388 708h16v4h-16zM444 708h4v4h-4zM380 712h20v4h-20zM392 716h8v4h-8zM448 716h4v4h-4zM396 720h4v4h-4zM396 724h4v4h-4zM448 728h4v4h-4zM400 732h4v4h-4zM404 736h4v4h-4zM416 744h4v4h-4zM436 744h4v4h-4z"/>
<path fill="#eeeeee" d="M420 216h4v4h-4zM696 268h4v4h-4zM256 272h4v4h-4zM264 272h4v4h-4zM244 380h4v4h-4zM236 384h4v4h-4zM240 388h4v4h-4zM868 400h4v4h-4zM864 404h4v4h-4zM252 524h4v4h-4zM232 548h20v4h-20zM228 552h4v4h-4zM260 552h8v4h-8zM220 556h8v4h-8zM216 560h8v4h-8zM216 564h4v4h-4zM212 568h8v4h-8zM284 568h4v4h-4zM212 572h8v4h-8zM212 576h4v4h-4zM212 580h4v4h-4zM212 584h4v4h-4zM300 584h4v4h-4zM212 588h8v4h-8zM300 588h4v4h-4zM212 592h8v4h-8zM300 592h4v4h-4zM212 596h8v4h-8zM212 600h8v4h-8zM212 604h8v4h-8zM212 608h8v4h-8zM296 608h4v4h-4zM208 612h8v4h-8zM292 612h4v4h-4zM204 616h4v4h-4zM288 616h4v4h-4zM528 616h4v4h-4zM196 620h4v4h-4zM276 620h8v4h-8zM192 624h4v4h-4zM260 624h12v4h-12zM188 628h4v4h-4zM244 628h8v4h-8zM528 628h4v4h-4zM156 632h4v4h-4zM168 632h4v4h-4zM244 632h4v4h-4zM184 636h4v4h-4zM244 636h4v4h-4zM152 640h4v4h-4zM180 640h4v4h-4zM244 640h4v4h-4zM356 640h4v4h-4zM244 644h4v4h-4zM176 648h4v4h-4zM244 648h4v4h-4zM188 656h4v4h-4zM240 660h4v4h-4zM304 660h4v4h-4zM236 668h4v4h-4zM232 672h8v4h-8zM248 672h4v4h-4zM308 672h4v4h-4zM368 672h4v4h-4zM388 672h4v4h-4zM224 676h8v4h-8zM364 676h4v4h-4zM268 680h4v4h-4zM396 680h4v4h-4zM360 684h4v4h-4zM360 688h4v4h-4zM360 692h4v4h-4zM364 700h4v4h-4zM396 700h4v4h-4zM416 700h8v4h-8zM392 704h4v4h-4zM408 704h4v4h-4zM436 704h4v4h-4zM376 708h12v4h-12zM404 708h4v4h-4zM400 712h4v4h-4zM444 712h4v4h-4zM400 716h4v4h-4zM400 720h4v4h-4zM448 720h4v4h-4zM400 724h4v4h-4zM448 724h4v4h-4zM400 728h4v4h-4zM444 736h4v4h-4z"/>
<path fill="#f0f0f0" d="M380 196h12v4h-12zM368 212h4v4h-4zM388 212h4v4h-4zM420 212h4v4h-4zM248 292h4v4h-4zM256 292h4v4h-4zM248 300h4v4h-4zM256 300h4v4h-4zM256 336h4v4h-4zM252 532h4v4h-4zM256 536h4v4h-4zM232 552h8v4h-8zM252 552h8v4h-8zM228 556h4v4h-4zM268 556h8v4h-8zM224 560h4v4h-4zM220 564h8v4h-8zM220 568h4v4h-4zM220 572h4v4h-4zM216 576h8v4h-8zM216 580h8v4h-8zM216 584h8v4h-8zM220 588h4v4h-4zM220 592h4v4h-4zM220 596h4v4h-4zM220 600h4v4h-4zM296 600h4v4h-4zM220 604h4v4h-4zM296 604h4v4h-4zM220 608h8v4h-8zM292 608h4v4h-4zM216 612h12v4h-12zM288 612h4v4h-4zM208 616h12v4h-12zM284 616h4v4h-4zM200 620h8v4h-8zM272 620h4v4h-4zM196 624h4v4h-4zM240 624h20v4h-20zM192 628h4v4h-4zM240 628h4v4h-4zM188 632h4v4h-4zM240 632h4v4h-4zM240 636h4v4h-4zM184 640h4v4h-4zM240 640h4v4h-4zM168 644h4v4h-4zM180 644h4v4h-4zM364 644h4v4h-4zM180 648h4v4h-4zM356 648h4v4h-4zM240 652h4v4h-4zM240 656h4v4h-4zM192 660h4v4h-4zM236 664h4v4h-4zM232 668h4v4h-4zM228 672h4v4h-4zM240 672h4v4h-4zM236 676h4v4h-4zM392 676h4v4h-4zM396 684h4v4h-4zM396 692h4v4h-4zM396 696h4v4h-4zM392 700h4v4h-4zM372 704h4v4h-4zM388 704h4v4h-4zM412 704h8v4h-8zM428 704h8v4h-8zM408 708h4v4h-4zM440 708h4v4h-4zM404 712h4v4h-4zM404 732h4v4h-4zM408 736h4v4h-4zM412 740h4v4h-4zM440 740h4v4h-4zM420 744h4v4h-4zM432 744h4v4h-4z"/>
<path fill="#f2f2f2" d="M404 204h4v4h-4zM340 208h4v4h-4zM408 208h4v4h-4zM376 212h4v4h-4zM384 212h4v4h-4zM392 212h4v4h-4zM780 328h8v4h-8zM240 552h12v4h-12zM232 556h8v4h-8zM260 556h8v4h-8zM228 560h8v4h-8zM228 564h4v4h-4zM224 568h4v4h-4zM280 568h4v4h-4zM224 572h4v4h-4zM224 576h4v4h-4zM296 584h4v4h-4zM296 588h4v4h-4zM224 592h4v4h-4zM296 592h4v4h-4zM224 596h4v4h-4zM296 596h4v4h-4zM224 600h4v4h-4zM224 604h4v4h-4zM292 604h4v4h-4zM228 608h4v4h-4zM288 608h4v4h-4zM228 612h4v4h-4zM284 612h4v4h-4zM220 616h16v4h-16zM276 616h8v4h-8zM208 620h4v4h-4zM228 620h24v4h-24zM260 620h12v4h-12zM200 624h4v4h-4zM236 624h4v4h-4zM236 628h4v4h-4zM160 632h8v4h-8zM188 636h4v4h-4zM184 644h4v4h-4zM240 644h4v4h-4zM240 648h4v4h-4zM236 660h4v4h-4zM312 660h4v4h-4zM232 664h4v4h-4zM228 668h4v4h-4zM224 672h4v4h-4zM244 672h4v4h-4zM372 672h4v4h-4zM384 672h4v4h-4zM280 676h4v4h-4zM364 680h4v4h-4zM244 684h8v4h-8zM396 688h4v4h-4zM364 696h4v4h-4zM368 700h4v4h-4zM376 704h12v4h-12zM420 704h8v4h-8zM412 708h4v4h-4zM436 708h4v4h-4zM408 712h4v4h-4zM404 716h4v4h-4zM444 716h4v4h-4zM404 720h4v4h-4zM404 724h4v4h-4zM404 728h4v4h-4zM444 732h4v4h-4zM424 744h8v4h-8z"/>
<path fill="#f4f4f4" d="M396 200h4v4h-4zM380 212h4v4h-4zM408 212h4v4h-4zM628 212h4v4h-4zM628 216h4v4h-4zM240 380h4v4h-4zM240 384h8v4h-8zM252 528h4v4h-4zM260 536h4v4h-4zM240 556h20v4h-20zM236 560h4v4h-4zM272 560h8v4h-8zM232 564h4v4h-4zM276 564h4v4h-4zM228 568h4v4h-4zM228 572h4v4h-4zM284 572h4v4h-4zM228 576h4v4h-4zM224 580h4v4h-4zM224 584h4v4h-4zM224 588h4v4h-4zM228 596h4v4h-4zM228 600h4v4h-4zM292 600h4v4h-4zM228 604h4v4h-4zM232 608h4v4h-4zM232 612h8v4h-8zM236 616h8v4h-8zM272 616h4v4h-4zM212 620h16v4h-16zM252 620h8v4h-8zM228 624h8v4h-8zM196 628h4v4h-4zM232 628h4v4h-4zM192 632h4v4h-4zM236 632h4v4h-4zM156 636h4v4h-4zM168 636h4v4h-4zM236 636h4v4h-4zM188 640h4v4h-4zM184 648h4v4h-4zM184 652h4v4h-4zM236 656h4v4h-4zM304 668h4v4h-4zM212 672h4v4h-4zM220 672h4v4h-4zM376 672h8v4h-8zM368 676h4v4h-4zM388 676h4v4h-4zM392 680h4v4h-4zM364 692h4v4h-4zM392 696h4v4h-4zM388 700h4v4h-4zM416 708h4v4h-4zM440 712h4v4h-4zM444 720h4v4h-4z"/>
<path fill="#f6f6f6" d="M372 200h4v4h-4zM400 204h4v4h-4zM372 212h4v4h-4zM416 212h4v4h-4zM416 216h4v4h-4zM240 560h8v4h-8zM264 560h8v4h-8zM236 564h4v4h-4zM232 568h4v4h-4zM232 572h4v4h-4zM228 580h4v4h-4zM228 584h4v4h-4zM292 584h4v4h-4zM228 588h4v4h-4zM292 588h4v4h-4zM228 592h4v4h-4zM292 592h4v4h-4zM292 596h4v4h-4zM232 600h4v4h-4zM232 604h4v4h-4zM288 604h4v4h-4zM236 608h4v4h-4zM284 608h4v4h-4zM240 612h4v4h-4zM280 612h4v4h-4zM244 616h8v4h-8zM268 616h4v4h-4zM524 620h4v4h-4zM532 620h4v4h-4zM204 624h8v4h-8zM224 624h4v4h-4zM524 624h4v4h-4zM532 624h4v4h-4zM232 632h4v4h-4zM192 636h4v4h-4zM156 640h4v4h-4zM168 640h4v4h-4zM236 640h4v4h-4zM360 640h4v4h-4zM188 644h4v4h-4zM236 644h4v4h-4zM188 648h4v4h-4zM236 648h4v4h-4zM236 652h4v4h-4zM232 660h4v4h-4zM228 664h4v4h-4zM224 668h4v4h-4zM216 672h4v4h-4zM364 684h4v4h-4zM364 688h4v4h-4zM392 692h4v4h-4zM372 700h4v4h-4zM420 708h4v4h-4zM432 708h4v4h-4zM412 712h4v4h-4zM408 716h4v4h-4zM444 724h4v4h-4zM444 728h4v4h-4zM408 732h4v4h-4zM440 736h4v4h-4zM416 740h4v4h-4zM436 740h4v4h-4z"/>
<path fill="#f8f8f8" d="M368 204h4v4h-4zM700 268h4v4h-4zM696 272h8v4h-8zM696 276h8v4h-8zM860 396h8v4h-8zM860 400h8v4h-8zM248 560h16v4h-16zM240 564h4v4h-4zM272 564h4v4h-4zM236 568h4v4h-4zM280 572h4v4h-4zM232 576h4v4h-4zM284 576h4v4h-4zM232 580h4v4h-4zM288 580h4v4h-4zM232 584h4v4h-4zM232 592h4v4h-4zM232 596h4v4h-4zM288 600h4v4h-4zM236 604h4v4h-4zM240 608h4v4h-4zM244 612h4v4h-4zM276 612h4v4h-4zM252 616h16v4h-16zM212 624h12v4h-12zM200 628h4v4h-4zM228 628h4v4h-4zM196 632h4v4h-4zM160 644h8v4h-8zM360 648h4v4h-4zM188 652h4v4h-4zM232 656h4v4h-4zM308 660h4v4h-4zM304 664h4v4h-4zM220 668h4v4h-4zM272 676h4v4h-4zM280 680h4v4h-4zM272 684h4v4h-4zM392 684h4v4h-4zM392 688h4v4h-4zM368 696h4v4h-4zM384 700h4v4h-4zM424 708h8v4h-8zM436 712h4v4h-4zM440 716h4v4h-4zM408 720h4v4h-4zM408 724h4v4h-4zM408 728h4v4h-4zM412 736h4v4h-4z"/>
<path fill="#fafafa" d="M392 200h4v4h-4zM368 208h4v4h-4zM396 208h12v4h-12zM396 212h12v4h-12zM260 272h4v4h-4zM260 276h4v4h-4zM260 336h4v4h-4zM256 344h4v4h-4zM848 380h8v4h-8zM848 384h8v4h-8zM244 564h4v4h-4zM268 564h4v4h-4zM240 568h4v4h-4zM276 568h4v4h-4zM236 572h4v4h-4zM236 576h4v4h-4zM288 584h4v4h-4zM232 588h4v4h-4zM288 588h4v4h-4zM288 592h4v4h-4zM288 596h4v4h-4zM236 600h4v4h-4zM284 604h4v4h-4zM280 608h4v4h-4zM248 612h4v4h-4zM272 612h4v4h-4zM528 620h4v4h-4zM528 624h4v4h-4zM204 628h4v4h-4zM224 628h4v4h-4zM232 636h4v4h-4zM192 640h4v4h-4zM192 644h4v4h-4zM356 644h8v4h-8zM192 656h4v4h-4zM228 660h4v4h-4zM200 664h4v4h-4zM224 664h4v4h-4zM216 668h4v4h-4zM240 676h4v4h-4zM248 676h4v4h-4zM372 676h4v4h-4zM384 676h4v4h-4zM388 696h4v4h-4zM376 700h8v4h-8zM416 712h4v4h-4zM412 716h4v4h-4zM420 740h4v4h-4zM432 740h4v4h-4z"/>
<path fill="#fcfcfc" d="M376 200h4v4h-4zM248 564h8v4h-8zM264 564h4v4h-4zM244 568h4v4h-4zM240 572h4v4h-4zM236 580h4v4h-4zM236 584h4v4h-4zM236 588h4v4h-4zM236 592h4v4h-4zM236 596h4v4h-4zM284 600h4v4h-4zM240 604h4v4h-4zM280 604h4v4h-4zM244 608h4v4h-4zM276 608h4v4h-4zM252 612h20v4h-20zM208 628h4v4h-4zM220 628h4v4h-4zM200 632h4v4h-4zM228 632h4v4h-4zM196 636h4v4h-4zM232 640h4v4h-4zM192 648h4v4h-4zM192 652h4v4h-4zM232 652h4v4h-4zM196 660h4v4h-4zM208 668h8v4h-8zM312 668h4v4h-4zM276 676h4v4h-4zM368 680h4v4h-4zM388 680h4v4h-4zM276 684h4v4h-4zM432 712h4v4h-4zM440 720h4v4h-4zM412 732h4v4h-4zM440 732h4v4h-4z"/>
<path fill="#fefefe" d="M396 204h4v4h-4zM392 208h4v4h-4zM252 292h4v4h-4zM248 296h12v4h-12zM252 300h4v4h-4zM256 340h4v4h-4zM264 340h4v4h-4zM256 524h4v4h-4zM264 528h4v4h-4zM256 532h4v4h-4zM256 564h8v4h-8zM248 568h4v4h-4zM272 568h4v4h-4zM240 576h4v4h-4zM280 576h4v4h-4zM284 580h4v4h-4zM284 596h4v4h-4zM240 600h4v4h-4zM244 604h4v4h-4zM248 608h4v4h-4zM272 608h4v4h-4zM212 628h8v4h-8zM196 640h4v4h-4zM232 644h4v4h-4zM232 648h4v4h-4zM196 656h4v4h-4zM228 656h4v4h-4zM200 660h4v4h-4zM204 664h4v4h-4zM220 664h4v4h-4zM376 676h8v4h-8zM240 680h4v4h-4zM248 680h4v4h-4zM368 692h4v4h-4zM420 712h4v4h-4zM412 720h4v4h-4zM440 724h4v4h-4zM440 728h4v4h-4zM416 736h4v4h-4zM436 736h4v4h-4zM424 740h8v4h-8z"/>
<path fill="#ffffff" d="M380 200h12v4h-12zM372 204h24v4h-24zM372 208h20v4h-20zM260 340h4v4h-4zM260 344h4v4h-4zM260 524h4v4h-4zM256 528h8v4h-8zM260 532h4v4h-4zM252 568h20v4h-20zM244 572h36v4h-36zM244 576h36v4h-36zM240 580h44v4h-44zM240 584h48v4h-48zM240 588h48v4h-48zM240 592h48v4h-48zM240 596h44v4h-44zM244 600h40v4h-40zM248 604h32v4h-32zM252 608h20v4h-20zM204 632h24v4h-24zM160 636h8v4h-8zM200 636h32v4h-32zM160 640h8v4h-8zM200 640h32v4h-32zM196 644h36v4h-36zM196 648h36v4h-36zM196 652h36v4h-36zM200 656h28v4h-28zM204 660h24v4h-24zM208 664h12v4h-12zM308 664h8v4h-8zM308 668h4v4h-4zM244 676h4v4h-4zM244 680h4v4h-4zM272 680h8v4h-8zM372 680h16v4h-16zM368 684h24v4h-24zM368 688h24v4h-24zM372 692h20v4h-20zM372 696h16v4h-16zM424 712h8v4h-8zM416 716h24v4h-24zM416 720h24v4h-24zM412 724h28v4h-28zM412 728h28v4h-28zM416 732h24v4h-24zM420 736h16v4h-16z"/>

</g>
<path d="M307.2 739L340.8 108.3M473.2 744.9L484.4 113.4M639.2 744.9L628 113.4M805.2 739L771.6 108.3M154 666.5L180.8 668.8L207.5 670.9L234.3 672.8L261.1 674.6L287.9 676.2L314.7 677.7L341.5 679L368.3 680.2L395.2 681.2L422 682.1L448.8 682.8L475.7 683.3L502.5 683.7L529.4 684L556.2 684L583 684L609.9 683.7L636.7 683.3L663.6 682.8L690.4 682.1L717.2 681.2L744.1 680.2L770.9 679L797.7 677.7L824.5 676.2L851.3 674.6L878.1 672.8L904.9 670.9L931.6 668.8L958.4 666.5M165.8 531.2L191.8 533.4L217.8 535.4L243.8 537.3L269.8 539L295.8 540.6L321.8 542.1L347.8 543.3L373.9 544.5L399.9 545.5L425.9 546.3L452 547L478 547.5L504.1 547.9L530.1 548.1L556.2 548.2L582.3 548.1L608.3 547.9L634.4 547.5L660.4 547L686.5 546.3L712.5 545.5L738.5 544.5L764.6 543.3L790.6 542.1L816.6 540.6L842.6 539L868.6 537.3L894.6 535.4L920.6 533.4L946.6 531.2M177.6 396.5L202.8 398.6L228 400.6L253.2 402.4L278.4 404.1L303.6 405.7L328.9 407L354.1 408.3L379.4 409.4L404.6 410.4L429.9 411.2L455.1 411.8L480.4 412.3L505.7 412.7L530.9 412.9L556.2 413L581.5 412.9L606.7 412.7L632 412.3L657.3 411.8L682.5 411.2L707.8 410.4L733 409.4L758.3 408.3L783.5 407L808.8 405.7L834 404.1L859.2 402.4L884.4 400.6L909.6 398.6L934.8 396.5M189.4 261.8L213.8 263.9L238.2 265.8L262.6 267.6L287 269.2L311.5 270.7L335.9 272L360.4 273.2L384.8 274.3L409.3 275.2L433.8 276L458.3 276.6L482.7 277.1L507.2 277.5L531.7 277.7L556.2 277.8L580.7 277.7L605.2 277.5L629.7 277.1L654.1 276.6L678.6 276L703.1 275.2L727.6 274.3L752 273.2L776.5 272L800.9 270.7L825.4 269.2L849.8 267.6L874.2 265.8L898.6 263.9L923 261.8M201.2 126.4L224.8 128.4L248.4 130.3L272.1 132L295.7 133.6L319.4 135L343 136.3L366.7 137.5L390.4 138.5L414.1 139.4L437.7 140.2L461.4 140.8L485.1 141.3L508.8 141.6L532.5 141.8L556.2 141.9L579.9 141.8L603.6 141.6L627.3 141.3L651 140.8L674.7 140.2L698.3 139.4L722 138.5L745.7 137.5L769.4 136.3L793 135L816.7 133.6L840.3 132L864 130.3L887.6 128.4L911.2 126.4" fill="none" stroke="#3a3a20" stroke-opacity=".4" stroke-width=".7" stroke-dasharray="2.4 8.6"/>
<path d="M781 106L779.6 108.6L778.1 109.7L776.8 111.1L775.5 112.4L773.5 112.8L772 114L770.6 115.5L768.2 114.8L766.7 116.1L765 117L763.5 118.5L762 120L762.9 123L760 124L761.5 127.2L758 127L756.6 130.7L753 129L750.5 129.1L750.4 131.7L749 133L748.2 135.2L746 136L744.4 137.9L743 140L744.4 142.9L742 145L739.1 146L740 149L740.5 151.3L739 153L738.7 155.3L737 157L737 159.1L736 161L735.4 163.2L734 165L734.2 167.6L733 170L732.4 172.5L733 175L733.5 177L733.3 179L731.6 181.1L733.6 183L735 193L738.4 207L743 219L748 231L754 241L758 247L762 249L765 254L763 258L764 263L763 270L769 280L775 294L779.6 306L781.6 318L782.4 330L781.6 342L780 352L777 360L772 368L766 374L760 378L755 376L752 371L754.1 368.1L749.9 367.3L750 365L751.1 363.4L750.7 361.4L752.1 359.9L752 358L750.9 355.5L750 353L747.2 352.6L746 350L743.5 350L742.1 347.8L740.7 345.5L738 346L736 345.1L733.9 344.1L732 343L732.3 340.8L730.5 339.5L729.2 338L729 336L730.1 333.6L727 332.3L726.8 330.2L727 328L725.1 325.8L726 323L723.8 323.1L722 322L720 321.3L718 322L717.1 320.5L716.4 318.7L714.9 317.6L714 316L711.9 314.5L711.5 312.2L711 310L710 308L708.5 306.2L708.7 303.6L706.6 302.2L706 300L704.1 298.4L704.4 295.8L703 294L702.7 291.1L700 290L698.4 288.3L699.1 285.8L697.7 284L697 282L695.2 280.3L696.2 277.9L695.3 276L695 274L694.8 271.8L696 270L696.9 268.3L696.9 266L699 265L699.5 262.5L700 260L699.5 257.9L699.7 255.9L700.9 254L701 252L700.9 250L701.9 247.7L700 246L699.9 243.8L698.5 242L697.4 240.1L697 238L695 237.1L693 236L691.1 236.7L689 237L687.5 235L686 233L684.5 231.8L681.8 231.4L683.9 227.9L682 227L680.2 225.7L680.8 223.1L679 221.7L678 220L676.5 218.5L675.3 216.7L672.9 216.1L672 214L669.7 212.9L668 211L665.9 210.4L665.3 208.3L664 207L662.6 204.8L660 205L657.5 205.5L655 205L652.9 205.1L651 206L649.2 207.5L647.6 209.3L646 211L644.8 212.4L642.4 212.5L641.8 214.6L640.8 216.2L639 217L638.3 219.6L635.2 218.2L634 220L631.3 220.4L629 222L627.1 221.3L625 221L623.4 220.2L622 219L622.3 216.5L619.9 215.5L618.4 214.1L618 212L617.2 210.3L615.3 209.4L614.3 207.8L612.9 206.7L612 205L609.9 204.2L607.3 204.4L606 202L603.6 201.8L601.7 200.7L599.4 200.2L598 198L596.1 196.9L594.8 195.2L593 194L590.5 195L588 194L585.1 192.5L583 195L581 195.5L578.9 195.4L577 196L575.2 197.4L573.1 197.6L571 197L569.1 198L567 198.2L564.9 198.2L563 199L561 199.2L559 199.5L556.8 197.7L555 199.7L553 200L551.1 199.3L548.8 200.7L547 199L547.3 196.9L544.5 195.3L545.1 193.1L547.6 190.6L545 189L541.6 184L539 191L539.6 193L540.8 194.8L539 197.1L540 199L539 201L537 200.5L534.7 202L533 200L531 199.5L528.9 199.7L527 199L525.1 198.1L522.7 198.5L521 197L519.1 195.8L517.4 193.9L515 196L512.7 193.9L511.1 197L509.1 197.6L507 197L505.3 198.6L502.8 197.7L501 199L500.4 201.3L498.2 201.7L496.6 202.8L495 204L496.6 205.9L498 208L498.1 211L501 212L500.1 214L498 215.5L498 218L500.9 220.5L500.2 222.5L497 224L500.9 223.6L500.1 227L501 229L502.5 230.5L502.2 233.8L504.8 234.2L507 235L509.1 236.4L511 238L508.5 239.1L506 240L502.6 240.6L503 244L501 245L499.8 243.1L498.9 241.1L498 239L494.9 239.1L493.8 237.4L494.8 234L493 233L490.1 234.9L489.7 229.7L487 231L485.2 229.6L483 229L481.2 227.8L480 226L480.7 228.7L479 231L479.4 233.3L481 235L478.2 234.4L477.3 237.6L475 238L473.2 239.8L470.9 238L469.1 239.7L467 239L465 237.4L463 239.3L461 239L458.9 239L457 239.7L455 240L452 239.9L451 237L449.4 235.9L449.7 233L447 233L445.6 231.4L444.4 229.4L442 229L442.4 225.7L438.1 227.9L436.6 226.8L436.4 224.2L435 223L432.9 223.4L431.2 221.2L428.8 224.1L427 222L416 222L404 218L392 215L380 215L368 216L358 218L350 221L345 223L342.8 223.8L342 226L343.4 230.1L339 228.4L338 230L334 228.8L334 233L334.4 236.7L332.2 237.3L329.1 237.1L327.2 238.2L326 240L324.1 240.6L323.1 242.5L321.1 242.9L319.7 244.1L318 245L316.2 246.4L314 246.7L312.4 248.5L309.6 247.2L308 249L305.1 247.6L305 253L302.6 252.9L299.7 251.5L298 253L298.1 256.9L294.8 255.2L292.9 255.8L292.8 259.5L289.7 258.1L288 259L286.3 259.9L285.7 262.4L285.1 265L282 263.6L280 264L277.2 263.7L276 265.3L275.7 268L274 269L272 270L267 278L265.5 279.3L265.4 281.4L263.4 282.5L262.1 283.9L262.9 286.4L262 288L260.9 289.9L261 291.9L260.9 294L261.8 296.2L259.5 297.9L260 300L260.4 302L261.4 303.9L260.3 306L260.4 308L260.8 310L261 312L261.8 313.9L260.8 316.1L261.9 318L261.3 320.2L263.4 321.9L263 324L262.9 326L262.1 328.1L262.3 330.1L264.8 331.9L263.9 334L264 336L264.2 338L262.4 339.9L263 342L263.8 344.1L263 346L262 347.6L261.3 349.4L258.6 349.9L259.8 352.9L258 354L256.3 355.2L256.1 357.2L254.4 358.5L253.1 359.9L253 362L251.6 363.8L250.5 365.6L251.4 368.3L250.6 370.3L249 372L249.9 374.5L247.3 375.9L247.3 378L246.6 380L246 382L245 383.9L245.5 386.1L243.9 387.8L244.8 390.1L243.9 392L243.6 394L243.5 396L243.2 398L242.2 399.9L243 402.1L241.4 403.9L241.6 406L241.1 408L242 410.1L241 412L240.6 414L242.2 416.3L240 418L238.9 419.9L240.3 422.1L240.6 424.2L236.6 425.7L239.9 428.1L238.5 430L238.7 431.9L238.9 433.8L237.1 435.5L238.1 437.5L239.1 439.5L239.6 441.5L238.3 443.2L237 445L236.8 447L236.2 449L235.4 450.9L235.7 453L235.3 455L235 457L235.7 458.9L235.2 461.1L236.2 463L235 465.2L236.3 467L236.3 469.1L237 471L237.7 472.7L238.2 474.5L238.3 476.4L239.4 478L239.8 479.9L240.4 481.6L240.7 483.5L241.3 485.3L242 487L242.6 488.7L242.8 490.5L243.1 492.4L244.6 493.7L245.2 495.5L245.8 497.2L246 499L247 500.6L247.6 502.4L247.9 504.2L248.2 506.1L249.5 507.6L249.6 509.6L250.6 511.2L251 513L250.9 515.3L252.9 516.5L253.7 518.3L255.5 519.6L256.4 521.3L257 523.3L258 525L259.5 526.2L260.3 528L261 529.8L262.8 530.8L264 532.2L264.7 534L266 535.4L267 537L267.6 538.8L268.8 540.4L270.1 541.9L271.4 543.4L271.2 545.6L272.5 547.1L273 549L273.8 550.7L275.4 552.1L275.6 554.1L275.9 556L276.3 557.9L277.1 559.7L277.7 561.5L279 563L280.2 564.6L281 566.6L282.4 568.1L283.8 569.6L285.1 571.2L286 573L287.6 574.3L288 576.5L289.6 577.8L291.1 579.2L292 581L294 581.5L295.7 583.1L298.2 582.2L300 583.6L310 585L316 590L322 592L328 601L333 605L342 603L352 601L362 598L370 597L383 597L384.2 595.3L386.7 596.2L387.5 593.5L390.1 594.5L391.1 592.4L393 592L395 591.8L397.2 592L399.2 591.6L401.1 590.9L403 590L404.8 590.3L406.7 590.5L408.5 591L410 592.6L412 592L413.8 591.6L415.7 591.7L416.8 588.8L419 590L420.5 588.9L422.4 588.5L423.8 587.2L426.3 587.9L426.9 585.1L429 585L431 583L432.8 582.3L434.6 581.5L435.7 579.4L437.9 579.5L439.5 578.2L441 577L443.9 577.8L445.4 575.9L447 573.9L449 573L454 565L456 557L460 551L462 541L462 529L464 519L465.5 517.2L466.2 515.1L467 513L468.4 511.5L470.4 510.9L472 509.6L473.9 508.9L475 507L476.7 505.5L478.8 505L480.9 504.7L483.1 504.9L485 504L487.1 504.3L489 503.2L491 503.1L493 502.6L494.8 501.3L497 502L498.9 501.1L501.1 501.8L503.1 501.5L505.1 501.3L507.1 500.7L509 500L511.4 501.1L513.2 499.7L514.9 497.9L516.8 497.3L519 497.7L521 497L523.1 496.6L524.9 495.4L527 495.2L529 494.6L530.8 493.3L532.9 493.3L534.8 492.3L537 492.6L539 493.2L540.7 494.7L543.1 493.6L545 494.4L547 495L549.2 494.4L551 496L553.3 494.9L554.9 497L557 497L558.8 495.4L560.9 495.7L563 496L565 496L566.5 494.8L568.4 494.4L570 493.4L572.6 493.4L573.1 496.1L575 497L576.5 498.8L576.1 501.4L578 503L577.6 505L577.3 507L577.8 509.2L577 511.1L576 513L575.2 514.7L573.6 516L572.9 517.7L572.8 519.8L572.5 521.7L571 523L570.7 525.3L567.6 525.6L567.4 527.9L567.1 530.2L564.2 530.7L564 533L562.9 534.6L562.1 536.2L561.3 537.9L560.9 539.8L560.9 541.7L561 543.8L559 545L559.8 547.2L558.9 549.1L555.9 550.7L558.5 553.1L557.5 555L557 557L557.8 559.2L556 560.9L555.1 562.8L553.8 564.7L555.1 567L555 569L555.7 571.2L555.1 573.1L554 575L553.9 577L554 579.1L553 581L552.9 583.1L551.6 584.9L551.9 587L550 588.7L549.5 590.7L549.3 592.8L550 595L548.9 596.9L549.9 599.2L547.2 600.7L547.4 602.9L548 605.1L547 607L545 609L541 621L539 635L537 647L532 657L525 669L517 677L511 683L511 687L517 690L521 691L520 686L527 689L535 693L543 689L545.1 688.9L547.1 688.8L548.7 686.3L551.1 687.7L553 687L553.5 689.1L555.6 689.8L557 691L559 690.6L561 690.6L563.2 691.5L565 690L566.9 691L568.9 691L571.3 688.6L573 691L575 690.8L577 690.5L579.2 692L581.1 691.7L583 690L593 688L606 684L616 685L626 687L638 683L650 688L661 688L670 697L678 703L690 707L700 715L694 721L697 731L698 744M150 636L157 640L166 644L178 648L188 651L196 659L206 664L216 671L226 674L236 676L246 680L256 685L264 686L272 685L282 681L292 677L302 673L310 670L320 670.6L330 673L340 679L350 687L360 695L373 704L385 715L397 727L413 744M755.9 127.1L755.2 127.9L754.3 127.3L754.6 126.6L755.4 126.1L755.9 127.1M741.6 145.6L741.5 147.4L740.5 147.9L738.8 147.1L739.6 145.4L741.6 145.6M737.9 156.2L737.8 154.5L738.8 153.9L739.8 155.3L739 156.7L737.9 156.2M728.5 180.8L729.7 180L730.6 181L730.9 182.6L728.9 182.5L728.5 180.8M749.6 352.4L748 354.4L746.2 352.9L746.2 351.2L748.2 349.7L749.6 352.4M730.3 337.4L730.1 339.5L728.1 339.7L727.8 337.6L729.1 337L730.3 337.4M704.8 308.7L704 308.3L704.3 307.6L705.4 307.7L705.5 308.5L704.8 308.7M573.6 190.8L573.4 192.7L571.7 193.7L570.8 191.6L571.6 189.8L573.6 190.8M544.1 190.3L544.4 192.3L542.5 193.1L541.1 191.7L542.4 189.9L544.1 190.3M511.5 194L511.2 194.9L510.1 194.7L509.9 193.9L510.8 193.7L511.5 194M505.2 197.6L503.9 197.6L503.6 196.1L505.1 195.7L505.9 196.7L505.2 197.6M496.9 219.1L499.2 218.1L500.6 220L499.5 221.7L497.4 222.1L496.9 219.1M499.4 231.4L500.7 232.2L500.8 233.9L499.4 235.1L498.3 233.4L499.4 231.4M506.9 230.1L509 231.9L507.4 234L505.8 233.7L505.3 231.4L506.9 230.1M497.9 240.1L499.7 240.1L499.8 242.9L497.5 243.3L496 241.2L497.9 240.1M497.2 239.2L495.7 238.8L495.2 237.6L496.2 237L497.3 237.5L497.2 239.2M495 237L494.1 236.4L494.7 235.1L495.7 235.3L496.4 236.8L495 237M484.7 230.6L485.1 231.8L484.3 232.5L483.1 232L483.7 231L484.7 230.6M480.3 240.6L479.8 239.3L480.3 238L481.4 238.9L481.7 239.8L480.3 240.6M473 242L470.7 240.8L472.2 239.4L474.8 238.6L474.6 241.3L473 242M448.5 232.9L449.5 231.8L450.5 232L450.8 233.1L449.9 233.9L448.5 232.9M445.1 230.7L443.9 231.6L443.1 230L443.2 228L444.8 228.7L445.1 230.7M439.3 224.6L440.7 223.1L441.9 223.5L442.7 224.9L441.2 225.9L439.3 224.6M430.5 222.8L428.2 222.4L427.4 220.6L428.9 219L430.4 220.1L430.5 222.8M346.1 225.7L346.1 226.5L345.3 227.7L344.6 226.5L344.7 225.4L346.1 225.7M324.1 244.7L323.3 244.3L323.4 243.5L324.2 242.9L324.6 243.9L324.1 244.7M315.3 246.4L315.3 248L313.1 248.8L313.1 246.7L314.1 246.1L315.3 246.4M304.2 248.5L305.9 248.1L307.5 248.9L306.7 250.8L304.4 250.1L304.2 248.5M290.8 252.7L292.6 252.9L292.9 254.7L291.5 255.2L290 254L290.8 252.7M286.9 262.6L285.3 261.1L285.8 259.9L288.2 259.8L288.1 261.2L286.9 262.6M281.1 261.5L282.3 262.2L282.9 263.5L281.1 264.2L280.4 262.8L281.1 261.5M267.7 284.7L266.7 285.2L266.3 284.1L266.9 283.2L267.9 283.9L267.7 284.7M256.9 306.3L255.1 305L256 302.7L257.7 302.2L258.9 305.1L256.9 306.3M260.5 347.4L261.4 345.7L263.2 346.6L262.7 348.4L261.3 349L260.5 347.4M247.9 387.3L246.8 387L246.6 386L247.7 385.5L248.8 386.4L247.9 387.3M246.5 403.2L245.4 403.3L244.2 402.7L245.2 401.8L246.5 401.8L246.5 403.2M236.3 442L235.7 440.6L237 440.1L237.5 441L237.6 441.8L236.3 442M506.4 501.1L505.7 499.8L507.2 499.1L507.8 500.2L507.3 501.2L506.4 501.1M544.9 494.9L546.2 496.4L544.9 497.7L543.2 497.1L543.8 495.6L544.9 494.9M556.8 545.5L557.7 546.5L557.2 547.9L556 547.4L555.7 546.3L556.8 545.5M557.5 576.6L556.9 578.8L554.6 578.8L554.2 577.2L555.4 574.9L557.5 576.6M549.6 605.6L551.1 604.5L553.6 605L552.5 606.9L550.1 607.4L549.6 605.6M571.5 694.5L570.3 694.8L569.7 694.3L569.9 692.9L571.5 693.4L571.5 694.5M580.6 690.5L579.6 689.4L580.4 688.3L582.2 688.3L582.1 690.1L580.6 690.5M636.2 484L641 481.2L647.8 478.5L655.4 477.1L652.6 471.6L652 466L656 462L663 456.5L671 451L679.4 448.3L687.6 445.6L695.8 444.2L704 442L711 440L717.7 438L726 437.3L734 437.3L741 438L741.7 440.8L746.5 438.7L753.4 436L757.5 433.2L760 433L772 436L784 439L794 445L804 452L814 457L826 460L840 464L850 469L860 474L870 479L880 484L890 488L900 492L910 493L920 496L930 496L932 502L927 507L934 509L943 509M948 535L936 535L926 533L912 536L900 538L888 540L876 542L867 542L869 533L874 533L882 526L885 518L880 513L872 513L860 514L850 510L842 504L839 496L835 488L829 485L820 487L808 486L796 483L790 480.5L783.5 476.4L776.7 473L768.5 473L760.2 473.7L755.4 471.6L754 466.8L752 473L746.5 473.7L737 471.6L728.7 468.9L724.6 465.4L726 462.7L732.8 462L738.3 460.6L738.3 457.2L734.2 454.5L723.2 454.5L712.3 454.5L704 454.5L700 460.6L694.4 464.8L689 468.9L682 471.6L673.9 473L668.4 475.7L665.6 481.2L660 482.6L656 485.3L652 487.4L650.6 482.6L643.7 484.6L638.2 486L636.2 484M699.2 474L704 477.4L708.8 480L710.9 485.3L712 490.8L708 495.2L701.3 496.8L694.4 494.6L692 490.8L695.8 487.4L694.7 483.7L698.3 479.8L699.2 474M706.8 457.2L708 459L707 461M712.3 462L714 460.5L717.7 461.3L719.8 464.8M677.3 479.2L681 480.4L686.2 480.5M850 596L854 591L864 590L866 587L880 587.6L896 589L904 594L914 596L918 600L921 604L914 606L906 605L900 604L898 608L892 607.6L891 613L886 610L880 608L872 609L866 605L862 600L854 599L850 596M757 299L762 302L764 308L763 314L759 318L754 316L751 310L751 305L753 302L757 299M468 200L472 196L480 195L487 198L488 203L482 207L474 206L468 200M465 197L469 198L469 202L465 203L463 200L465 197M412 593L423 598L433 594L436 588L429 586M511 687L503 692L495 699L496 703L503 703L509 698L513 693L517 690M539 587L535 594L530 602L534 603L536 610L533 618L536 622L541 612L543 601L546 594M841 358.6L844.8 364L848.5 371.4L853 377L857.6 382.4L861.3 389.7L863 397L866.8 404.3L869.5 409.8L867 414L859.5 414.4L854 408L850.3 398.8L843 391.5L837.5 386L831 381.5L839.4 378.7L842 371.4L840.3 364L841 358.6M812 312L817.4 316.6L823 319.3L832 315.6L841 313L846.7 311L845 305.6L841 309L832 312L828 309L825 306.5L824 311L817 314L812 312M829.3 293.7L839.4 298.3L850.3 302L857.6 303.8M845 305L855.8 305.6L863 311L868.6 313L874 314.7L876 322L873 327.5L870.4 335L868.6 339.4L863 334L868.6 329.4L866 322L862 316.6L859.5 311L852 307.4L845 305.6M846.7 341.2L852 344L854 349.5L852 354L846.7 355M812 336.7L815 337L819 338.5M807.4 345L805.5 349.5L807.4 354M809 357.7L811 363M860.4 367.7L865 365L872.3 363.2L877.7 361.4L876 364L868.6 366.8L862.2 369.2L860.4 367.7M879.6 349.5L885 348.6L892.4 353L899.7 358.6L904.3 364L904.3 371.4L902.4 377L897.9 371.4L899.7 375M917 375L921.6 382.4L927 387.9L931.7 391.5L925.3 393.4L929 389.7M909 378L912 379M883.2 371.4L884 378.7L888.7 386L896 393.4L903.3 402.5L910.7 409.8L918 415.3L929 417L910.7 417L921.6 414.4M931.7 408L934 412L936.3 417M916 437L921.6 430L928 426L934.4 424.4M790 404.3L794 406M794 410L797 415M799 418L803 422.6M572 536L575 530L580 527L581 530L577 536L572 539L572 536M584 673L590 670L598 668L601 668L596 671L588 674L584 673M543 640L545 633L548 630L547 637L544 643L543 640M751 565L753 568L760 567L762 566L756 565L751 565M792 553L797 551L804 549L802 551L796 553L792 553M367 137L370 142L372 150L375 155L376 160L379 166L376 165L374 160L372 156L370 150L368 143L367 137M368 213L369 208L371 206L372 210L370 214L368 213M384 212L385 206L386 204L387 209L385 213L384 212M342 226L340 221L336 219L335 215L338 215L340 213L343 212L344 216L342 220L345 223M272 270L268 274L263 282L259 290L256 296L257 303L260 309M258 354L253 358L249 365L246 374L243 384L242 392M237 471L238 478L241 484L244 488M668 703L672 700L680 705L684 709L678 708L672 706L668 703M730 193L728 198L730 204L729 210L731 216L730 222L731 226M729 229L731 228L733 232L732 235L730 234L729 229M517 209L518 214L516 220L512 225L507 228M197 296L199 300L202 304L204 309L202 310L199 305L196 300L197 296M205 323L208 322L210 325L208 329L206 327L205 323M237 166L240 169L237 172L236 169L237 166M237 175L240 177L238 179L237 175M381 670L384 668L386 672L389 671L391 675L394 674L396 678L399 678L401 682L405 685L403 681L399 680L397 676L393 677L391 673L388 674L385 671L381 670M386 672L385 677L388 680M391 675L392 681L390 683M461 651L463 649L465 650M468 648L470 646L472 647M476 650L479 649L483 648L485 649L481 651L477 651L476 650M493 647L496 646L497 648M444 625L446 623L449 624L450 627L447 630L445 629L444 625M441 640L443 641L442 643L441 640M436 648L438 648L438 650L436 648M438 658L440 659L439 661L438 658M432 668L434 668L434 670L432 668M432 724L435 723L437 728L435 726L433 728L432 724M454 733L456 734L455 736L454 733M469 736L471 736L471 738L469 736M487 742L490 740L492 742M539 720L541 720L541 725L539 724L539 720M556 632L557 634M554 640L556 643M546 658L548 656M552 652L553 654M756 246L759 251L761 257L762 264L765 272L769 282M533 612L531 620L529 628L527.5 637L528 646L528.5 655L527 663M286 258L284 250L286 244L289 247L288 252L290 256M296 253L292 246L294 243L297 247L299 251M299 251L300 245L298 243M276 266L271 262L268 264L271 268L274 269M281 262L278 255L281 253L283 258M266 278L260 276L257 272L262 271L267 274M260 292L253 290L248 291L251 286L257 286L261 288M211 464L213 463L214 466L212 467L211 464M218 451L220 451L220 454L218 453M225 456L227 455L229 458L227 460L225 458L225 456M232 462L234 461L236 464L235 467L233 466L232 462M212 570L216 571L217 574L213 573L212 570M197 509L199 510L198 512L197 509M180 533L182 534L181 536L180 533M240 476L243 482L246 488L247 492L244 489L241 483L240 476M631 178L633 183L636 181L639 179L637 184L633 185M262 593L266 595L270 600L268 603L264 600L262 593M273.3 264L271.9 263.2L272.3 261.2L274.6 262L275.1 263.6L273.3 264M261.2 283.2L263 283.6L262.5 285.9L261.3 286L260.3 285L261.2 283.2M266.1 267.8L266.4 266.5L267.1 266.2L268.7 266.7L267.7 267.8L266.1 267.8M253.4 297.2L251.6 297.1L250.6 294.4L253.2 294.5L254.1 295.5L253.4 297.2M255.5 291.5L256.5 292.2L256.9 293.5L255.5 294.1L254.6 292.9L255.5 291.5M265.6 278.1L265.5 276.8L267 276.5L267.5 277.5L266.7 278.5L265.6 278.1M264.7 277.8L263.3 279.4L261.7 279.7L261.6 277.6L262.8 276.3L264.7 277.8M264.2 281.6L264.9 283L263.3 283.5L262.9 282.3L263.3 281.6L264.2 281.6M251.9 297.1L252.1 294.7L253.6 293.8L254.8 295.2L254.5 296.9L251.9 297.1M253.9 295.5L251.6 294.8L252.9 293.4L254.4 292.2L254.9 294.5L253.9 295.5M261.4 291.8L260.9 292.9L259.6 292.9L259.2 292L260 291.4L261.4 291.8M267.3 268L267.1 269.3L265.1 269L264.8 267.7L266.3 266.5L267.3 268M260.6 279.6L259.3 279.6L258 279L259.2 277.6L260.8 278L260.6 279.6M259.9 278.1L259.7 275.5L261.4 274.2L263.3 275.9L262.4 278L259.9 278.1M253.5 298.6L251.3 299.3L250.6 297.4L251.9 295.8L254 297L253.5 298.6M263 274.1L262.2 275.6L261 274.8L261.2 273.3L262.5 272.9L263 274.1M261.3 279.7L259 280.8L257.2 279L258.4 277.8L260.6 277.5L261.3 279.7M261.6 277L260.4 278L258.1 277.1L259.2 275.1L261.2 274.5L261.6 277M279.5 260.4L280.5 261.4L280.1 262.8L278.9 262.3L278.1 261L279.5 260.4M261.5 275.6L262 274.9L263.3 274.8L263.4 276.5L262 276.8L261.5 275.6M258.6 293.9L257.7 294.8L256.7 293.7L257.2 292.5L258.4 293L258.6 293.9M257.5 288.4L258.7 290.4L257.8 292L255.6 291.5L255.7 289.8L257.5 288.4M270.4 272.3L269.1 272.3L269.2 271.4L269.6 270.7L270.4 271.4L270.4 272.3M270.8 265.8L269.4 265.7L267.9 264.5L269.5 263.2L270.9 263.8L270.8 265.8M306.4 241.5L306.5 243.4L305.4 243.4L303.9 242.8L305.2 241.1L306.4 241.5M308.8 243.5L307.7 244.5L306 244.9L305.7 243.1L307.5 242.3L308.8 243.5M307.6 243.8L308.7 242.8L309.8 242.3L310.6 244.3L309 244.5L307.6 243.8M304.6 248.6L303.5 247.9L303.9 246.7L305.4 246.3L306 248.1L304.6 248.6M316.1 236.9L318.1 238L317.9 240.4L315.9 240.2L314.5 239L316.1 236.9M303.3 243.1L302.3 243.3L301.3 242.3L302.2 240.9L303.8 241.4L303.3 243.1M286.6 256.4L284.8 255.7L285.2 254.1L286.2 253.6L286.9 254.6L286.6 256.4M277.8 254.6L277.8 252.7L280 252.4L281.7 254L279.8 255.8L277.8 254.6M314.7 236L315.5 237.4L313.8 238.6L312.5 237.5L313.4 236.5L314.7 236M311.1 244.5L309.1 245.6L308.4 243.9L309 242.5L311.4 242.9L311.1 244.5M308.6 241.8L309.6 241.2L310.1 242.9L309.2 243.6L307.5 243.1L308.6 241.8M312 242L312 241L313.2 241.4L313.7 242.2L312.6 243.1L312 242M290.9 251.6L291.8 251.2L292.5 252.1L291.6 253L290.2 252.5L290.9 251.6M286.7 258.3L285.7 258.5L285.3 257.3L286.4 257L287.5 257.6L286.7 258.3M281.7 252.5L282.5 252.9L283 254.5L281.3 254.7L281 253.2L281.7 252.5M289.9 252.2L290.8 250.7L292.1 250.8L291.9 252.4L291 253.7L289.9 252.2M294.8 247.8L293.6 247.3L294 245.4L295.1 245.4L296.2 246.8L294.8 247.8M297.2 249L297.3 250.4L295.4 250.6L294.4 249.7L295.1 248L297.2 249M323.2 235.1L325.3 234.9L325.6 236.6L323.9 237.1L322.5 236.5L323.2 235.1M324.4 234.4L322.6 235L320.9 234.6L321.6 233.3L323.3 233L324.4 234.4M339.1 222.1L339.3 223.3L338 223.6L337.4 222.9L337.9 222L339.1 222.1M336.1 222.2L335.8 223.3L335.3 224.2L333.8 223.3L334.2 222.2L336.1 222.2M330.3 231.2L331.5 231.9L331.5 233.2L329.9 233L329.8 232.3L330.3 231.2M344.8 217.3L345.2 218.9L343.3 220.2L341.9 218.5L343.2 217.3L344.8 217.3M341.4 222.9L340.2 222.3L340.6 220.9L341.8 221.4L342.5 222.1L341.4 222.9M335.9 224.2L333.8 224.1L334 222.3L335.8 221.2L337.3 223.1L335.9 224.2M322 230.9L322.7 229.7L323.9 230.3L324.1 231.9L322.6 232.4L322 230.9M324.7 232.5L325.1 231.6L326.2 231.2L326.7 232.3L325.8 233.6L324.7 232.5M742.1 298L741.9 297.1L743.1 296.2L743.8 297.3L743.5 298L742.1 298M730.5 257.3L731.8 256.3L733.2 255.9L733.4 257.7L732 257.9L730.5 257.3M737.5 257.2L736.6 256.9L736.7 256.1L737.6 255.4L737.8 256.6L737.5 257.2M736.2 284.7L736.1 283.3L737.1 282.1L738 283.4L737.6 284.9L736.2 284.7M739.5 254.2L738.4 252.7L738.8 251L740.6 251.8L740.4 253L739.5 254.2M740.5 292.2L740.2 294.3L738.8 294.3L738.1 293.1L738.9 291.2L740.5 292.2M727.8 248.7L729.8 249.1L730.2 250.6L728.4 252L727.5 250.5L727.8 248.7M731.6 267L733.8 266.7L733.9 268.9L732.3 270.4L730.7 268.7L731.6 267M739.9 284.7L738.3 285.7L736.6 283.9L738 282.3L740.3 282.8L739.9 284.7M751.9 489.2L751.5 488.5L751.5 487.9L752.4 488L753.1 488.6L751.9 489.2M744.7 487.9L743.7 487.7L744.3 487L745.1 486.7L745.3 487.6L744.7 487.9M742.4 488.5L743.3 489L743.8 489.9L742.5 490.8L741.8 489.6L742.4 488.5M748.9 489.9L748.8 490.6L748.3 491.4L747.8 490.4L747.9 489.7L748.9 489.9M720.3 490.2L719 490.7L718.2 489.8L718.9 488.5L720.1 488.7L720.3 490.2M729.6 491.1L729.8 489.6L730.7 489.5L731.7 490.2L731 491.1L729.6 491.1M718.2 489.9L718.2 488.7L719.2 488.1L720.3 489L719.6 490.2L718.2 489.9M716.7 489.3L716.2 488.7L716.8 487.6L717.7 487.7L717.8 489.2L716.7 489.3M750.6 490L750 489.8L750 489.1L750.8 488.8L750.9 489.5L750.6 490M722.7 491L721.3 492.1L720.4 490.9L720.9 489.6L722.1 489.4L722.7 491M751.6 489.8L751.6 488.9L752.4 488.7L752.6 489.5L752.3 490L751.6 489.8M745.7 488.4L745.6 487.6L746.3 487.5L747.1 488.3L746.3 489L745.7 488.4M714.3 733.6L714.7 732.9L715.6 732.9L715.4 733.8L714.9 734.5L714.3 733.6M716.5 732.7L717 733.1L716.4 733.7L716 733.4L715.8 732.7L716.5 732.7M718.2 732.1L719.3 732.3L718.6 733.1L717.9 733.5L717.5 732.5L718.2 732.1M718.8 732.3L717.7 732.8L717.2 732.2L717.4 731.1L718.1 731.2L718.8 732.3M716.7 728.6L716.7 729.2L716.2 729.1L715.8 728.7L716.2 728.3L716.7 728.6M708.3 722.5L709 722.4L709.6 723.3L708.9 723.7L707.9 723.5L708.3 722.5M716.5 739.8L717.1 739.5L717.6 740L717.3 740.9L716.6 740.6L716.5 739.8M720.6 725.6L720.7 724.5L721.7 724.2L722 725.3L721.4 725.8L720.6 725.6M712.4 732.6L711.6 732.9L710.9 731.9L711.6 730.9L712.6 731.4L712.4 732.6M724.2 734.8L724.3 735.4L723.8 735.9L723.2 735.5L723.4 734.7L724.2 734.8M714 728.5L714.4 728.9L714.6 729.4L714 729.7L713.8 729.2L714 728.5M719.6 726.2L720 725.2L720.7 725.3L720.9 726.2L720.5 726.8L719.6 726.2M713.2 726.8L713.1 727.7L712.5 727.4L712.2 726.9L712.5 726.2L713.2 726.8M716.7 731L717.3 730.1L717.9 730.3L718.5 731.1L717.5 731.7L716.7 731M713.5 723.5L714.1 723.5L714.7 724.1L714 724.8L713.3 724.3L713.5 723.5M715 736.3L714.6 736.6L713.8 736.4L714.3 735.4L714.9 735.3L715 736.3M715.2 733.7L716 733.8L715.9 734.5L715.3 734.7L714.5 734.3L715.2 733.7M706.9 739.4L706.5 738.8L707.2 738.5L707.7 738.7L707.8 739.3L706.9 739.4M706.1 727.6L706.3 727.1L706.7 727L706.9 727.5L706.6 727.7L706.1 727.6M716.2 739.9L717.1 739.6L717.7 740.8L716.7 741.5L715.7 740.7L716.2 739.9M707.7 726L708.4 727.1L707.7 727.7L706.5 727.4L706.3 726.4L707.7 726M706.5 737L705.7 738L704.7 737.1L705.1 736.1L705.9 736.3L706.5 737M715.3 706.1L716 706.1L716.2 706.9L715.5 707.3L715.2 706.7L715.3 706.1M716.8 711.2L716 710.3L716.9 709.8L717.8 709.8L717.7 710.7L716.8 711.2M714.1 708.8L714.4 709.5L713.6 709.8L713.2 709.3L713.5 708.9L714.1 708.8M720.7 705.3L720.9 704.9L721.5 704.9L721.4 705.5L721 705.6L720.7 705.3M716.1 711.1L716.3 711.4L716.2 711.9L715.7 711.7L715.5 711.3L716.1 711.1M713.9 708.5L713.9 709.2L712.8 709.1L712.7 708.6L713.3 708L713.9 708.5M704.8 690.2L704.2 690.3L703.8 689.9L704.1 689.5L704.9 689.5L704.8 690.2M707.4 702.9L707.9 703.3L707.6 703.9L707 703.7L707.1 703.3L707.4 702.9M707 694.4L707.8 695.2L706.9 696.1L706.3 696L706.2 694.8L707 694.4M705.8 700.7L705.6 701.4L704.8 701.8L704 701L704.8 700.3L705.8 700.7M707.7 698.8L708.1 699.6L707.4 700.2L706.6 699.6L707.1 698.8L707.7 698.8M697.2 684.4L696.8 684.7L696.4 684.5L696.6 684.1L697 683.9L697.2 684.4M696.1 680.7L695.6 680L695.7 678.9L696.5 679.2L697 680.3L696.1 680.7M692.2 679.7L691.4 679.4L691.7 678.4L692.5 678.4L693.1 679.6L692.2 679.7M793 730.5L793.1 731.2L792.4 731.3L792.1 730.7L792.5 730.4L793 730.5M793.7 738.5L792.8 738.1L792.7 737.5L793.5 736.8L794.1 737.5L793.7 738.5M793.1 727.5L792.9 726.6L793.6 726.7L793.9 726.9L793.8 727.8L793.1 727.5M803.8 682.5L804.4 682.6L804.9 682.9L804.4 683.5L803.9 683.4L803.8 682.5M808.8 678.6L809.2 678.3L810.1 678.6L809.6 679.3L808.9 679.1L808.8 678.6M811.1 679L810.8 679.9L810.1 679.8L809.6 679.4L810.2 679L811.1 679M760.9 366.9L758.5 367.1L756.7 365.7L758.9 364.4L761.5 364.9L760.9 366.9M759.5 371.8L759.1 370.6L760.2 369.8L760.6 371.2L760.1 372L759.5 371.8M762 372.4L761.1 371.8L761.5 370.3L762.5 370.7L763.1 371.8L762 372.4M767 369.1L767.8 367.4L769.3 368.3L770.1 369.4L768.5 369.8L767 369.1M767.2 374.5L765.3 375.8L764.6 373.6L766.2 372.3L767.6 373.2L767.2 374.5M758.6 373.6L757.2 374.9L755.8 373.6L756.5 371.9L758.7 371.4L758.6 373.6M767.7 366.6L768.6 365.6L770.1 365.8L770.2 366.8L769.1 367.7L767.7 366.6M760.4 367.4L761.8 365.4L763.7 367.3L763 370L760.6 369.7L760.4 367.4M764.4 365.5L764.3 366.8L763.5 367.5L761.7 367L761.8 365.5L764.4 365.5M756.5 375.4L756.6 374.3L757.7 374.1L758.5 375.1L757.5 375.6L756.5 375.4M769.1 366.6L770.2 365.5L771.4 366.3L771.2 367.5L769.9 367.9L769.1 366.6M764.4 368.5L765.9 369.8L764.2 371.2L762.5 370.8L762.3 368.3L764.4 368.5M769.3 364.2L771.1 365.4L769.6 366.6L768.4 366.5L768 364.9L769.3 364.2M765 372.6L763.6 373.1L762.7 372.5L763.4 371.7L764.4 371.8L765 372.6M759.5 367L759.8 365.6L760.9 365.4L761.5 367.3L760.4 367.5L759.5 367M758.3 376.1L758.6 377.1L757.5 378.3L756.7 377.4L756.7 375.9L758.3 376.1M742 386.8L742.3 385.2L743.6 385.2L744.6 386.5L743.2 388.1L742 386.8M727.3 391.4L726.5 390.7L726.6 389.8L727.8 389.6L728.1 390.6L727.3 391.4M740.3 390.9L739.8 392.6L738.1 393L737.5 391L738.5 389.5L740.3 390.9M732.2 390.5L731.3 391.2L730.5 390.1L731 389L732.2 389.4L732.2 390.5M730 390.5L731.1 390.7L731.4 391.8L730.3 392.2L729.7 391.6L730 390.5M740.4 386.1L741.4 387.5L740.1 388.6L739.2 387.8L739.1 386.1L740.4 386.1M727.6 390.4L728.1 389.9L728.6 390.6L728.4 391.2L727.7 391.2L727.6 390.4M738.1 388.3L738.9 386.9L740.2 387.5L740.2 389.1L739.3 389.6L738.1 388.3M729.9 392.7L731 392.7L731 393.5L730.4 394.2L730 393.4L729.9 392.7M727.8 392.9L728.4 391.7L729.6 391.8L730.5 393.1L728.9 394.1L727.8 392.9M748.4 358L748.1 358.7L747.2 358.1L747.3 357.5L748.4 357.3L748.4 358M739 347.9L739.2 347.2L739.9 346.7L740.1 347.8L739.6 348.1L739 347.9M737 340.9L738.2 341.5L738.1 342.8L736.9 342.7L736.4 342L737 340.9M747.1 353.4L746.1 352.3L746.8 351.7L748 351.6L748.3 352.7L747.1 353.4M740.1 344.4L739.4 343.9L739.3 342.6L740.4 342.8L741.1 343.8L740.1 344.4M740 347.5L738.9 346.8L739.2 345.4L740.6 345.1L741.4 346.3L740 347.5M736.9 345.3L736 344.2L737.5 342.9L738.8 344.2L738.4 345.5L736.9 345.3M737.6 343.3L736.5 343.6L735.8 342.3L736.8 341.6L738 342.1L737.6 343.3M497.6 218.2L498.8 217.2L499.3 219.2L498.7 220.5L496.5 219.5L497.6 218.2M498.5 210.1L499.6 210.7L500.7 212.8L498.6 213.7L497.8 211.8L498.5 210.1M497.2 217.4L497.4 214.7L499.1 215.4L499.5 217.2L498.3 218.2L497.2 217.4M503.1 208L502.2 209.4L501.5 207.8L501.4 206.3L503.3 206.7L503.1 208M496.9 206.6L495.8 208.2L494.1 206.8L493.8 205.2L496.3 204.1L496.9 206.6M495 226.7L496 226.2L497.2 226.2L496.7 227.7L495.7 227.8L495 226.7M501.1 217.9L501.2 220.2L499.2 220.4L498.1 219.4L498.9 217.4L501.1 217.9M500.5 214.7L499.4 214.2L500 212.2L501.5 212.8L501.4 214.2L500.5 214.7M499.5 210.9L500.5 210.3L501.6 211.3L500.6 212.4L499.7 212L499.5 210.9M495.1 208.5L494.2 208.1L494.2 206.6L495.3 206.4L495.8 207.7L495.1 208.5M500.7 215.2L499.6 216L498.2 215.5L498.6 214.4L499.9 214.5L500.7 215.2M498.1 217.4L496 217L495.6 215.6L497 214.5L499.2 215.6L498.1 217.4M505.5 207.1L504.2 206.6L504.5 205.4L505.7 204.5L506 205.8L505.5 207.1M504.3 207L503 206.6L503.7 204.9L505.4 205.3L506.3 206.5L504.3 207M462.1 241.2L462.6 239.8L463.8 239.8L464.9 240.8L463.3 242.3L462.1 241.2M473.1 230.1L473.9 228.5L475.1 229L475.2 230.8L474 231.4L473.1 230.1M469.5 237.7L468 236.6L468.1 235L470.7 235.4L471.5 236.6L469.5 237.7M471.3 236L472.5 235.4L473.2 235.7L473.3 236.9L472 237.2L471.3 236M469.1 232L469.1 233.8L468.2 234.7L466.2 233.7L466.8 232.4L469.1 232M456.6 234.6L456.7 233L458.8 232.6L460.4 233.7L459 234.9L456.6 234.6M490.2 230.2L488.8 230.7L487.7 229.5L488.7 227.8L489.6 228.1L490.2 230.2M485.5 228.7L486.1 230L485.4 230.9L483.5 230.5L483.2 229L485.5 228.7M481.4 229.1L481.8 231L480.8 232L479.7 231.7L479.9 230.1L481.4 229.1M493.2 230.7L493.5 231.8L493.2 232.7L492.2 232.3L492.2 231.4L493.2 230.7M475.5 230L475.5 228.6L476.7 228.9L477.1 230L476.4 230.4L475.5 230M466.9 237.6L464.9 237.7L464.3 236.2L465.2 234.7L467.7 235.6L466.9 237.6M466.3 239.3L467.5 238.5L468.6 239.8L468.3 241.5L465.9 240.9L466.3 239.3M466.8 238L468.3 239L466.6 240.2L465.5 239.3L465.4 237.9L466.8 238M462.8 233.2L463.7 234.3L462.4 235.9L461.3 234.6L461.7 232.6L462.8 233.2M455 240.1L456.7 238.9L457.9 240.5L457 241.8L455.6 241.4L455 240.1M492.4 230.5L491 231.8L490.1 230.1L490.2 228.8L492.3 229.1L492.4 230.5M468.3 235.2L468.6 237.4L467 238.6L465.2 236.5L466.6 235L468.3 235.2M443.6 230.6L443.2 231.7L442.3 231.8L441.8 230.4L442.8 229.6L443.6 230.6M445.6 220L445.4 221.2L444.8 222.3L443.5 221.1L443.9 219.9L445.6 220M446.1 229.6L445.9 230.8L444.3 230.9L443.8 229.5L445.1 228.4L446.1 229.6M447.6 229.5L447 230.1L446 229.7L446.1 228.8L447.1 228.8L447.6 229.5M438.2 223.8L439.2 222.6L440.6 223.1L440.7 224.3L439.3 224.3L438.2 223.8M449.8 230.9L450.7 230.7L451.3 231.8L450.2 232.8L449.7 231.9L449.8 230.9M444.8 228.4L445.3 229.8L443.7 230.8L442.9 229.3L443.3 227.8L444.8 228.4M434.9 218.2L434.2 218.3L433.7 217.3L434.7 217.2L435.2 217.6L434.9 218.2M436.9 223.6L438.4 223.7L439 224.8L437.7 225.1L436.6 224.5L436.9 223.6M500.5 235L500.4 233.8L501.6 232.5L502.7 233.8L502.5 235.6L500.5 235M503 235.7L501.5 235.5L501 234.6L502.5 234.3L503.9 234.6L503 235.7M499.2 235.6L500.1 235.3L500.7 236.5L500.1 237.4L499.1 237.1L499.2 235.6M504.7 231.7L504 232.5L503.1 232.3L502.8 231L503.8 230.7L504.7 231.7M502.8 232.2L501.1 231.9L501.2 230.2L502.7 230.3L503.8 231.1L502.8 232.2M507.6 238.8L508.1 239.4L508.2 240.6L506.5 240.8L506 239L507.6 238.8M807.2 445L805.2 446.8L803.5 445.8L803.6 443.2L805.5 442.8L807.2 445M826.6 452L824 450.8L824.2 448.3L826.2 447.5L827.9 449.5L826.6 452M763.7 433.3L764.4 434.3L764.6 435.3L763.4 435.6L763.1 434.3L763.7 433.3M842.7 461L844 460.1L845.9 459.9L845.4 462L844.3 461.8L842.7 461M796.4 438.4L796.3 439.8L795.2 440.1L794.3 438.9L795.2 438.3L796.4 438.4M774.3 436.4L774.5 438.4L773.4 438.1L771.8 437.3L773 436.3L774.3 436.4M854.7 465.6L854.6 464.3L856.1 463.1L856.4 464.9L855.8 465.8L854.7 465.6M876.8 478.7L878.1 479.1L877.6 480.3L876.5 480.6L875.9 479.5L876.8 478.7M768.7 432.4L769.8 432.6L770 433.2L769.4 434.3L768.4 433.5L768.7 432.4M867.8 472.9L869 470.3L871.4 471.5L871.1 472.9L869.9 474.3L867.8 472.9M775.2 434.7L773.8 434.3L773.3 432.8L774.8 431.7L775.7 432.9L775.2 434.7M794 438.9L794.9 438.8L795 439.9L794.2 440.8L793.4 439.6L794 438.9M851.8 463.9L851.5 461.8L853.4 460.7L854.1 462.5L853.9 464.6L851.8 463.9M773.3 435.5L772.9 434.4L774.2 434.4L774.9 435L774.2 435.7L773.3 435.5M860.9 471.1L862.7 471.5L862.9 472.6L861.1 474.1L860.2 472L860.9 471.1M753 431.7L754 432.6L753.4 433.4L752.2 433.8L752.2 432.5L753 431.7M843.9 460.5L843.8 461.4L842.5 461.8L841.9 460.8L842.8 459.8L843.9 460.5M855 464.6L854.3 463.8L854.1 462.8L855.1 462.6L856.1 463.6L855 464.6M799.9 442.5L799.4 444.8L797.9 445.6L796.6 443.3L797.9 441.2L799.9 442.5M811.6 448.7L810.8 447.6L811.5 446.2L812.9 447.1L812.8 448.2L811.6 448.7M771.2 438.7L769.6 439.6L769 438.2L769.3 436.7L770.5 437.2L771.2 438.7M874 474.3L875.1 475.2L873.9 476.1L873 475.6L873.2 474.5L874 474.3M873 479.1L871.7 478.6L871.9 477.5L873.3 477.3L874.1 478.1L873 479.1M761.1 433.2L760.6 432.4L761.4 431.9L762.4 432L762.3 433.5L761.1 433.2M790.5 439.4L789.3 440.5L788.2 440.3L787.3 439.1L789 438.4L790.5 439.4M797.1 443.7L794.6 442.2L795.8 440.9L797.2 439.6L798.5 441.7L797.1 443.7M787.7 436.4L788.7 434.4L790.9 434.2L790.9 436.5L789.5 437.5L787.7 436.4M824.1 447.6L824.8 448.4L824.8 449.5L823.8 449.4L823.4 448.5L824.1 447.6M769.4 433.8L769 434.8L767.7 435L767.4 433.4L768.7 432.9L769.4 433.8M816.7 449.6L814.4 450.1L813.2 448.9L814 447.6L816 447.1L816.7 449.6M808 444.8L808.5 446L807.3 446.6L806.6 445.8L807.1 444.6L808 444.8M787.3 440.4L785.5 440.9L784.3 439.6L785.4 438.3L786.4 438.8L787.3 440.4M824.6 453.6L825.9 453.6L825.8 455.8L824.3 456L823.1 454.2L824.6 453.6M790.5 439.4L791.2 437.9L792.4 438.2L793.2 439.2L792.1 440.4L790.5 439.4M811.4 445.9L813.7 445.7L813.6 447.4L812.4 447.8L811.5 447.2L811.4 445.9M852.3 464.8L851.7 463.5L852.6 462.4L854.3 462.7L854.5 464.9L852.3 464.8M810.7 445.3L812.4 445.2L812.8 446.8L812.2 448L811.2 447L810.7 445.3M759.1 434.4L757.8 434.2L757.8 433.1L758.6 432.7L759.4 433.3L759.1 434.4M793.7 438.8L793.2 437.3L795.6 437.2L795.8 438.5L795.1 439.3L793.7 438.8M808.7 442L810 443L809.6 444.1L807.9 444.4L807.2 442.7L808.7 442M844.2 459.2L842.6 458.1L843.3 456.4L844.4 455.9L845 457.9L844.2 459.2M781.1 437.5L782.5 438.7L781.5 440.3L780 439.6L779.1 438.4L781.1 437.5M863 475.2L861.1 473.9L861.8 472.3L863.2 471.1L864.1 473.1L863 475.2M809.6 442.2L809.2 443.4L808 444.1L806.7 442.4L808.1 441.5L809.6 442.2M795.2 437.1L796.6 436.6L797.4 438.4L795.7 438.9L794.4 438.2L795.2 437.1M855.4 520.9L856.7 522.3L856.1 523.4L854.3 523.7L854.5 522.2L855.4 520.9M814 504.8L812.7 504.4L812.4 503.5L813 502.5L814.4 503.2L814 504.8M842.4 516.8L842.7 517.9L842 518.5L841.4 517.7L841.6 516.9L842.4 516.8M816.6 506.4L816.4 504.5L817.3 503.4L818.1 504.7L817.8 506.2L816.6 506.4M828.2 507.1L829 507.7L828.8 508.7L828.2 508.7L827.3 508L828.2 507.1M821 507.7L819.3 508.5L818.6 507.1L819.5 506.3L821.2 506.6L821 507.7M841.7 516.1L840.4 514.9L840.8 513.2L842.5 513.2L842.3 514.8L841.7 516.1M839.4 513.2L838.4 512.5L838.4 510.7L839.5 510.4L840.5 511.7L839.4 513.2M819.6 509.9L820.3 508.8L821.7 509.7L821.4 510.9L819.9 510.9L819.6 509.9M826.9 509.5L826.4 508.1L827.9 507.7L828.7 508.8L828.1 510.2L826.9 509.5M845.1 517.2L845.7 518.1L844.3 518.7L843.8 517.8L844.1 516.7L845.1 517.2M818 508.8L816.9 508.8L817.1 507.5L817.8 507.2L818.7 507.9L818 508.8M810.2 503L810.8 503.5L811.2 504.4L810.2 504.5L809.8 503.9L810.2 503M841.7 513.3L842.1 512.5L843.7 512.1L843.4 513.5L842.8 514.1L841.7 513.3M848.9 509.4L849.8 508.8L849.8 510L849.4 510.6L848.7 510.1L848.9 509.4M845.9 503.9L844.6 503.9L844 503.3L844.8 502.5L845.7 502.8L845.9 503.9M852.7 508.5L853.2 510L852.3 510.5L851.3 509.8L851.6 508.9L852.7 508.5M853.3 510L852.3 510.7L851.6 509.9L852.2 508.8L853.3 508.9L853.3 510M843.3 506.2L844.9 505.8L844.7 507.3L843.8 507.5L843.2 506.8L843.3 506.2M841.1 503.2L841.3 504.4L840.8 505.3L839.9 504.3L840.2 503.3L841.1 503.2M850.9 506.9L850.4 508L849.6 507.9L849.1 506.8L849.9 506.1L850.9 506.9M850.8 508.3L852 508.3L852.6 509.3L851.6 509.7L850.9 509.5L850.8 508.3M863.5 408.8L863.6 410.3L861.8 410.6L860.6 409.7L862.1 408.8L863.5 408.8M850.8 390.3L850.1 388.4L850.7 386.4L852.6 387.4L853 388.8L850.8 390.3M848.1 381.4L847.6 382.7L846.3 382.6L845.4 381.9L846.5 381L848.1 381.4M848.8 397.4L850 397.6L850.2 399.3L849.1 399.8L848.4 398.7L848.8 397.4M855.8 403.1L855.7 404.4L854.2 405.1L853.7 403.5L854.2 402.6L855.8 403.1M854.9 404.8L853.7 404.7L853.2 403.7L853.9 401.8L855.1 402.5L854.9 404.8M855.6 393.8L856.7 394.6L857.7 396.1L855.6 396L854.5 395.2L855.6 393.8M849.5 388.4L848.4 389.8L846.9 389.4L846.6 387.2L848.7 387L849.5 388.4M849.4 401.3L850 399.7L851.9 400.2L851.7 401.6L850.8 402.2L849.4 401.3M853.8 403.5L854.6 404.9L854.3 405.9L852 405.8L851.9 404.4L853.8 403.5M853.8 401.7L854.3 402.9L853.4 403.7L852.4 403.3L852.1 401.7L853.8 401.7M850.4 388.2L852.3 386.8L853.8 388.4L853.1 389.8L851.2 390.3L850.4 388.2M848 379.7L849.3 380.2L848.5 381.7L846.9 381.2L846.7 379.7L848 379.7M843.6 381L845.6 380.9L846 381.8L845.6 383.7L844.4 382.4L843.6 381M856.2 403.1L857.6 402L858.4 403.6L857.6 404.9L856 404.5L856.2 403.1M855.4 405.9L854.6 406.6L853.8 406.6L853.5 405.6L854.4 405.4L855.4 405.9M838.2 386.9L836.2 386L836.2 384.8L837.2 383.4L838.7 384.8L838.2 386.9M847.7 381.9L849.5 381.3L850.4 382L850 383.8L848.7 383.2L847.7 381.9M839.9 382L840.8 381.8L842 382.3L841.1 383.6L840.2 382.8L839.9 382M849.9 399.2L848.7 398.6L848.5 397.2L850 396.8L850.8 398.1L849.9 399.2M745.2 469.2L746.6 467.8L748.2 468.8L748 470.3L746.1 470.1L745.2 469.2M751.6 474.1L751 472.3L752.4 470.8L753.9 472.4L753 473.8L751.6 474.1M732.1 470.4L731.2 470.4L729.8 469.8L730.9 468.3L732 469.2L732.1 470.4M748.2 471L748.9 470.2L749.5 471.3L749 472.1L748 472.1L748.2 471M744.4 470.4L745.6 470.8L745.8 472L744.9 472.7L743.9 471.9L744.4 470.4M744.7 472.5L744.3 471.5L745 470.4L746.3 471.3L746.2 472.3L744.7 472.5M744.4 470.8L743.7 472L742.8 470.9L742.7 470L744.4 469.7L744.4 470.8M734.3 472.1L732.8 471.2L734.1 470.2L735.3 470.2L735.9 471.7L734.3 472.1M747.5 468.7L747.3 469.9L746.4 469.9L745.8 468.6L746.9 468.1L747.5 468.7M730.1 468.8L729.7 469.7L728.7 470.2L728.5 469L729 467.9L730.1 468.8M267.9 269.3L269 268.4L269.8 269.2L269.7 270.2L268.6 270.2L267.9 269.3M285.5 263.9L285.5 263.1L286.2 262.9L287 263.4L286.4 264.1L285.5 263.9M280.7 260.7L280.9 259.4L282.4 259.2L282.6 260.7L281.9 261.2L280.7 260.7M277 268.5L278.4 268.3L279.1 269L278.7 270.3L277.5 269.7L277 268.5M271.5 272.2L272.9 271.3L273.8 272.6L273.4 273.8L272.1 274.4L271.5 272.2M285.3 264.5L283.6 265L283.2 263.3L284 262.4L285.9 262.9L285.3 264.5M292.1 258.4L292.8 258.7L293.3 259.3L292.5 259.6L291.4 259.3L292.1 258.4M290.8 255.8L291.4 254.6L292.5 255.5L292.8 257.2L290.8 257.6L290.8 255.8M284.9 260.6L283.7 259.8L283.8 258.9L285 258.6L285.3 259.4L284.9 260.6M265.6 274.2L267.1 273.1L268.8 274L268.2 275.5L266.9 275.7L265.6 274.2M260.8 290.2L260.6 291.1L259.1 291.2L258.4 290.3L259.7 289.2L260.8 290.2M259 288.1L260 288.6L260.1 289.8L259 290.7L258.6 289.5L259 288.1M258.7 289.3L259 287.6L260.1 287.5L260.7 288.2L260.5 289L258.7 289.3M256.8 300.2L255.9 299.7L256.4 299.2L257.5 299.2L258 300.2L256.8 300.2M254.8 298.9L256.2 299.1L257.1 300L255.7 300.7L254.8 300.5L254.8 298.9M260 291.6L261.1 292.2L261.9 293.7L260.2 294.3L258.7 293.1L260 291.6M260.7 293L259.8 293.6L259 293.2L259.4 292L260.2 292.3L260.7 293M257.5 302L258.4 302.4L258.7 303.2L257.6 303.4L256.6 303L257.5 302M313.1 243.5L312.4 242.5L312.7 241.2L314.2 241.8L314.4 242.7L313.1 243.5M324.5 236.5L325.4 236.6L325.3 237.9L324.5 237.9L324.2 237.2L324.5 236.5M331.5 228.7L332.3 227.3L333.8 229L333.2 230.7L331.3 230.1L331.5 228.7M303.3 248.1L303 246.6L304 245.6L305.3 246.8L304.5 247.8L303.3 248.1M331.5 233.2L332.7 234L332.8 234.7L331.5 235.6L330.7 234.4L331.5 233.2M312.3 245.3L311.4 244.5L312.5 243.4L313.7 244.3L313.3 245.2L312.3 245.3M312.1 242.4L311.9 243.5L310.9 243.2L310.8 242.2L311.7 241.6L312.1 242.4M322.6 234.2L323 233.1L324.1 233.7L324 235L322.9 235.6L322.6 234.2M735.7 145.1L737.1 145.6L736.2 146.7L735.1 146.7L734.2 145.7L735.7 145.1M734.8 145.8L734 145.2L734.5 144.6L735.6 144.3L735.8 145.7L734.8 145.8M748.6 121.8L749.3 122.8L748.9 123.7L747.9 123.7L747.2 122.5L748.6 121.8M732.9 141.3L733.9 141.1L734.5 141.8L734 143.3L732.6 142.5L732.9 141.3M731.6 144.9L733.5 145.6L734.2 146.7L732.5 147.6L731.5 146.5L731.6 144.9M731.5 144L731.4 142.6L732.8 142.3L733.6 143.8L732.3 144.6L731.5 144M732.5 140.8L733.6 140.3L734.5 140.6L734.1 141.6L733.3 141.4L732.5 140.8M757.1 120.6L758.2 120L759.8 120.1L759 121.7L757.9 122.1L757.1 120.6M733.8 151.8L732 152.2L731 151L731.6 149.7L732.8 150.1L733.8 151.8M732.9 149.3L731.5 148.7L730.9 147.6L732.3 147.2L733.8 147.8L732.9 149.3M745.3 129.1L744.3 129.1L743.3 128.5L744.2 127.6L745 128L745.3 129.1M736.2 137.6L735.5 136.2L737.2 135.6L738.5 136.8L737.4 138L736.2 137.6M735.1 137.2L734.3 137.9L733.5 138.4L732.8 136.9L734 136.4L735.1 137.2M751.5 122.5L749.6 123.6L748.1 122.9L748.7 120.7L750.7 120.5L751.5 122.5M701 276.9L700.6 276.2L701.7 276L702.1 276.4L702 277.3L701 276.9M703.4 275.8L702.5 277.9L701 277.6L700.1 276.2L701.6 274.9L703.4 275.8M707.3 284.3L706.1 284.7L704.9 284.1L705.5 283.1L707.6 283.1L707.3 284.3M698.7 273L699.8 273.2L699.8 274.3L699 274.9L698.1 273.9L698.7 273M701.7 280.1L702 281.3L700.9 281.8L700.2 281.3L700.5 280.4L701.7 280.1M700.7 274.5L702 275.6L701.2 277.1L700.2 276.9L699.6 275.4L700.7 274.5M706.4 280.2L705.1 281.2L704.4 280.5L704.2 279.2L705.3 279.4L706.4 280.2M708.2 282.6L708.8 283.4L707.8 284L706.7 283.8L706.9 282.8L708.2 282.6M722.3 314.9L723.3 314.9L723.5 316L722.8 316.5L722 316.2L722.3 314.9M719.4 323.1L719 322.1L719.2 321.4L720.4 321.3L720.1 322.3L719.4 323.1M720 317.3L721.5 316.9L722.2 318.3L721.4 318.8L719.8 318.6L720 317.3M722.9 317.8L724.3 319L723.8 320.1L722.5 320.3L721.9 319.1L722.9 317.8M716.9 315.4L717.5 314.8L718 315.7L717.8 316.5L716.6 316.2L716.9 315.4M718.3 318.6L718.2 319.6L717.4 319.4L717.1 318.4L717.9 318.2L718.3 318.6M553.8 569L554.6 567.6L555.8 568.2L555.6 569.8L554.7 570.3L553.8 569M557.7 560.8L556.8 562L555.2 561.3L556.1 559.5L557.3 559.2L557.7 560.8M555.4 561.3L555 560.6L555.5 559.7L556.2 560.3L556.2 561.3L555.4 561.3M556.8 573.9L556.5 575L555.7 574.9L555.6 574L556.2 573.7L556.8 573.9M556.6 561L555.9 561.3L555.6 560.1L556.4 559.7L557.3 560.3L556.6 561M558.1 567.5L556.2 567.4L556.1 566.2L556.8 565.2L558.7 566L558.1 567.5M872.2 320.3L871.5 319.7L871.5 318.7L872.8 318.6L873 319.9L872.2 320.3M864.4 313.5L863.6 312.7L863.9 311.8L864.9 311.8L865.1 312.8L864.4 313.5M869.9 326.3L870.2 325.8L871.2 325.7L870.9 326.6L870.3 326.8L869.9 326.3M871 324.5L869.8 325.9L868.7 325.7L868.6 323.9L869.5 323.3L871 324.5M872 324.3L870 324.7L869.4 323.2L870.2 322L872.2 323L872 324.3M869.7 325.1L868.4 325.2L867.4 324.7L868.1 323.4L869.2 323.8L869.7 325.1M866.3 316.5L867.6 316.6L868 317.8L866.8 318.5L865.8 317.5L866.3 316.5M868.6 316.9L870.2 317.3L871.4 318.1L870.1 319.5L868.7 318.8L868.6 316.9M875.2 315.1L875 315.9L873.5 316.3L872.8 315.3L874 314.5L875.2 315.1M869.2 314.4L871.1 313.7L871.4 314.9L871 316.2L869.4 315.4L869.2 314.4" fill="none" stroke="#6a4408" stroke-width="1.25" stroke-linejoin="round"/>
<path d="M584.5 672.5L590 670.3L596 668.8L600.5 668.2" fill="none" stroke="#6a4408" stroke-width="2.6" stroke-linecap="round" stroke-linejoin="round"/>
<path d="M573 680.3L575.5 679.3" fill="none" stroke="#6a4408" stroke-width="2.4" stroke-linecap="round" stroke-linejoin="round"/>
<path d="M608 667.8L610 666" fill="none" stroke="#6a4408" stroke-width="2.6" stroke-linecap="round" stroke-linejoin="round"/>
<path d="M544.5 640L546 634L547.5 630.5" fill="none" stroke="#6a4408" stroke-width="2.6" stroke-linecap="round" stroke-linejoin="round"/>
<path d="M541 613L543 606" fill="none" stroke="#6a4408" stroke-width="2.2" stroke-linecap="round" stroke-linejoin="round"/>
<path d="M517 677.5L521 674.5" fill="none" stroke="#6a4408" stroke-width="2.6" stroke-linecap="round" stroke-linejoin="round"/>
<path d="M503 207L500 213L497 220L496 225" fill="none" stroke="#6a4408" stroke-width="4.5" stroke-linecap="round" stroke-linejoin="round"/>
<path d="M496 225L502 231L508 236" fill="none" stroke="#6a4408" stroke-width="2.5" stroke-linecap="round" stroke-linejoin="round"/>
<path d="M500 229L503 238L501 245" fill="none" stroke="#6a4408" stroke-width="2.0" stroke-linecap="round" stroke-linejoin="round"/>
<path d="M474 228L480 231L486 230" fill="none" stroke="#6a4408" stroke-width="3.0" stroke-linecap="round" stroke-linejoin="round"/>
<path d="M455 238L461 236L467 238L473 237" fill="none" stroke="#6a4408" stroke-width="3.0" stroke-linecap="round" stroke-linejoin="round"/>
<path d="M430 215L436 219L440 224L446 228" fill="none" stroke="#6a4408" stroke-width="1.8" stroke-linecap="round" stroke-linejoin="round"/>
<path d="M746 387L741 389L736 391L731 393" fill="none" stroke="#6a4408" stroke-width="3.8" stroke-linecap="round" stroke-linejoin="round"/>
<path d="M731 393L726 395" fill="none" stroke="#6a4408" stroke-width="2.0" stroke-linecap="round" stroke-linejoin="round"/>
<path d="M766 372L760 377L754 382L749 386" fill="none" stroke="#6a4408" stroke-width="1.6" stroke-linecap="round" stroke-linejoin="round"/>
<path d="M752 366L758 370L764 370L768 366" fill="none" stroke="#6a4408" stroke-width="3.0" stroke-linecap="round" stroke-linejoin="round"/>
<path d="M699 270L702 275L701 281L706 286" fill="none" stroke="#6a4408" stroke-width="5.0" stroke-linecap="round" stroke-linejoin="round"/>
<path d="M704 268L705 274" fill="none" stroke="#6a4408" stroke-width="3.0" stroke-linecap="round" stroke-linejoin="round"/>
<path d="M689 236L692 238" fill="none" stroke="#6a4408" stroke-width="2.5" stroke-linecap="round" stroke-linejoin="round"/>
<path d="M716 314L718 320L722 323" fill="none" stroke="#6a4408" stroke-width="4.5" stroke-linecap="round" stroke-linejoin="round"/>
<path d="M724 316L725 322" fill="none" stroke="#6a4408" stroke-width="2.5" stroke-linecap="round" stroke-linejoin="round"/>
<path d="M752 433L764 432L776 434L786 437L796 441L806 448L816 452L828 453L840 456L850 460L860 466L870 472L878 478" fill="none" stroke="#6a4408" stroke-width="3.2" stroke-linecap="round" stroke-linejoin="round"/>
<path d="M810 503L820 508L830 513L840 517L850 520L860 523" fill="none" stroke="#6a4408" stroke-width="2.2" stroke-linecap="round" stroke-linejoin="round"/>
<path d="M729 468L736 471L744 472.5L751 472.5" fill="none" stroke="#6a4408" stroke-width="3.2" stroke-linecap="round" stroke-linejoin="round"/>
<path d="M712 490.8L719 490L726 489.4L734 488.2L743.8 488.6L748 486.7" fill="none" stroke="#6a4408" stroke-width="2.2" stroke-linecap="round" stroke-linejoin="round"/>
<path d="M855 384L860 394L864 404L862 411" fill="none" stroke="#6a4408" stroke-width="4.5" stroke-linecap="round" stroke-linejoin="round"/>
<path d="M846 366L850 376" fill="none" stroke="#6a4408" stroke-width="2.5" stroke-linecap="round" stroke-linejoin="round"/>
<path d="M862 311L868 316L872 322L871 328" fill="none" stroke="#6a4408" stroke-width="3.4" stroke-linecap="round" stroke-linejoin="round"/>
<path d="M880 349L885 348" fill="none" stroke="#6a4408" stroke-width="3.0" stroke-linecap="round" stroke-linejoin="round"/>
<path d="M826 308L829 311" fill="none" stroke="#6a4408" stroke-width="2.6" stroke-linecap="round" stroke-linejoin="round"/>
<path d="M262 282L258 292L257 302" fill="none" stroke="#6a4408" stroke-width="2.6" stroke-linecap="round" stroke-linejoin="round"/>
<path d="M268 272L275 266L282 261L290 256" fill="none" stroke="#6a4408" stroke-width="2.2" stroke-linecap="round" stroke-linejoin="round"/>
<path d="M296 252L304 249L312 246" fill="none" stroke="#6a4408" stroke-width="1.8" stroke-linecap="round" stroke-linejoin="round"/>
<path d="M256 354L250 364L246 376" fill="none" stroke="#6a4408" stroke-width="2.5" stroke-linecap="round" stroke-linejoin="round"/>
<path d="M240 384L239 394" fill="none" stroke="#6a4408" stroke-width="2.0" stroke-linecap="round" stroke-linejoin="round"/>
<path d="M557 557L556 565L554 572" fill="none" stroke="#6a4408" stroke-width="2.5" stroke-linecap="round" stroke-linejoin="round"/>
<path d="M541 612L538 626L537 640" fill="none" stroke="#6a4408" stroke-width="1.5" stroke-linecap="round" stroke-linejoin="round"/>
<path d="M738 140L741 148L737 158L734 166" fill="none" stroke="#6a4408" stroke-width="2.2" stroke-linecap="round" stroke-linejoin="round"/>
<path d="M745 133L752 128L758 123" fill="none" stroke="#6a4408" stroke-width="2.0" stroke-linecap="round" stroke-linejoin="round"/>
</g>
<path d="M196.7 90.1L214.6 91.7L232.5 93.2L250.5 94.6L268.4 95.9L286.4 97.1L304.4 98.3L322.3 99.4L340.3 100.4L358.3 101.3L376.3 102.1L394.2 102.9L412.2 103.6L430.2 104.2L448.2 104.7L466.2 105.1L484.2 105.5L502.2 105.8L520.2 106L538.2 106.1L556.2 106.1L574.2 106.1L592.2 106L610.2 105.8L628.2 105.5L646.2 105.1L664.2 104.7L682.2 104.2L700.2 103.6L718.2 102.9L736.1 102.1L754.1 101.3L772.1 100.4L790.1 99.4L808 98.3L826 97.1L844 95.9L861.9 94.6L879.9 93.2L897.8 91.7L915.7 90.1L972.2 735.7L951.4 737.5L930.7 739.2L909.9 740.9L889.1 742.4L868.4 743.8L847.6 745.2L826.8 746.4L806 747.6L785.2 748.6L764.4 749.6L743.6 750.5L722.8 751.3L702 752L681.1 752.6L660.3 753.1L639.5 753.5L618.7 753.8L597.9 754L577 754.2L556.2 754.2L535.4 754.2L514.5 754L493.7 753.8L472.9 753.5L452.1 753.1L431.3 752.6L410.4 752L389.6 751.3L368.8 750.5L348 749.6L327.2 748.6L306.4 747.6L285.6 746.4L264.8 745.2L244 743.8L223.3 742.4L202.5 740.9L181.7 739.2L161 737.5L140.2 735.7Z" fill="none" stroke="#222" stroke-width=".7"/>
<path d="M203.6 98.7L221.2 100.2L238.8 101.6L256.4 102.9L274 104.2L291.6 105.4L309.2 106.5L326.9 107.6L344.5 108.5L362.1 109.4L379.7 110.2L397.4 110.9L415 111.6L432.7 112.2L450.3 112.7L468 113.1L485.6 113.4L503.2 113.7L520.9 113.9L538.5 114L556.2 114L573.9 114L591.5 113.9L609.2 113.7L626.8 113.4L644.4 113.1L662.1 112.7L679.7 112.2L697.4 111.6L715 110.9L732.7 110.2L750.3 109.4L767.9 108.5L785.5 107.6L803.2 106.5L820.8 105.4L838.4 104.2L856 102.9L873.6 101.6L891.2 100.2L908.8 98.7L963.7 727.9L943.4 729.6L923.1 731.2L902.7 732.8L882.4 734.2L862 735.6L841.7 736.9L821.3 738.1L800.9 739.2L780.5 740.2L760.2 741.2L739.8 742L719.4 742.8L699 743.4L678.6 744L658.2 744.5L637.8 744.9L617.4 745.2L597 745.4L576.6 745.6L556.2 745.6L535.8 745.6L515.4 745.4L495 745.2L474.6 744.9L454.2 744.5L433.8 744L413.4 743.4L393 742.8L372.6 742L352.2 741.2L331.9 740.2L311.5 739.2L291.1 738.1L270.7 736.9L250.4 735.6L230 734.2L209.7 732.8L189.3 731.2L169 729.6L148.7 727.9Z" fill="none" stroke="#222" stroke-width=".5"/>
<path d="M203.6 98.7L196.7 90.1" stroke="#111" stroke-width=".9"/>
<path d="M908.8 98.7L915.7 90.1" stroke="#111" stroke-width=".9"/>
<path d="M963.7 727.9L972.2 735.7" stroke="#111" stroke-width=".9"/>
<path d="M148.7 727.9L140.2 735.7" stroke="#111" stroke-width=".9"/>
<path d="M269.1 103.9L269.7 96M224.4 733.8L223.7 742.4M340.8 108.3L341.2 100.4M307.2 739L306.8 747.6M412.6 111.5L412.8 103.6M390.2 742.7L389.9 751.3M484.4 113.4L484.5 105.5M473.2 744.9L473 753.5M556.2 114L556.2 106.1M556.2 745.6L556.2 754.2M628 113.4L627.9 105.5M639.2 744.9L639.4 753.5M699.8 111.5L699.6 103.6M722.2 742.7L722.5 751.3M771.6 108.3L771.2 100.4M805.2 739L805.6 747.6M843.3 103.9L842.7 96M888 733.8L888.7 742.4M151.1 700.5L143.4 699.8M961.3 700.5L969 699.8M154 666.5L146.4 665.8M958.4 666.5L966 665.8M159.9 598.7L152.3 598M952.5 598.7L960.1 598M165.8 531.2L158.2 530.5M946.6 531.2L954.2 530.5M171.7 463.8L164.1 463.1M940.7 463.8L948.3 463.1M177.6 396.5L169.9 395.8M934.8 396.5L942.5 395.8M183.5 329.2L175.8 328.5M928.9 329.2L936.6 328.5M189.4 261.8L181.7 261.1M923 261.8L930.7 261.1M195.3 194.2L187.6 193.6M917.1 194.2L924.8 193.6M201.2 126.4L193.5 125.8M911.2 126.4L918.9 125.8M202.7 109.4L195 108.8M909.7 109.4L917.4 108.8" fill="none" stroke="#222" stroke-width=".7"/>
<path d="M143.7 731.9L157.1 733.1L170.4 734.2L183.8 735.3L197.2 736.3L210.6 737.3L224 738.3M269.4 99.8L281.3 100.6L293.3 101.4L305.2 102.2L317.1 102.9L329.1 103.6L341 104.2M307 743.5L320.8 744.2L334.7 744.9L348.5 745.5L362.3 746.1L376.2 746.6L390 747.1M412.7 107.4L424.7 107.8L436.6 108.2L448.6 108.5L460.5 108.8L472.5 109.1L484.4 109.3M473.1 749.4L486.9 749.6L500.8 749.8L514.6 749.9L528.5 750L542.3 750.1L556.2 750.1M556.2 109.9L568.2 109.9L580.1 109.9L592.1 109.8L604 109.7L616 109.5L628 109.3M639.3 749.4L653.2 749.1L667 748.8L680.9 748.4L694.7 748L708.5 747.6L722.4 747.1M699.7 107.4L711.6 107L723.6 106.5L735.5 106L747.5 105.4L759.4 104.8L771.4 104.2M805.4 743.5L819.2 742.7L833.1 741.9L846.9 741.1L860.7 740.2L874.5 739.3L888.4 738.3M843 99.8L854.6 98.9L866.1 98.1L877.7 97.2L889.3 96.2L900.8 95.2L912.4 94.2M144.3 732L147.1 700.2M965.3 700.2L962.4 666.2M150 666.2L156 598.4M956.4 598.4L950.5 530.8M161.9 530.8L167.7 463.4M944.7 463.4L938.8 396.1M173.6 396.1L179.5 328.8M932.9 328.8L927 261.4M185.4 261.4L191.3 193.9M921.1 193.9L915.2 126.1M197.2 126.1L198.7 109.1M913.7 109.1L912.4 94.2" fill="none" stroke="#111" stroke-width="1.3"/>
<path d="M140.2 735.7L139.5 743.9M196.7 90.1L197.4 81.7M307.2 739L306.3 755.8M340.8 108.3L341.7 91.5M473.2 744.9L472.9 761.7M484.4 113.4L484.7 96.6M639.2 744.9L639.5 761.7M628 113.4L627.7 96.6M805.2 739L806.1 755.8M771.6 108.3L770.7 91.5M972.2 735.7L972.9 743.9M915.7 90.1L915 81.7M154 666.5L137.3 665M958.4 666.5L975.1 665M165.8 531.2L149.1 529.7M946.6 531.2L963.3 529.7M177.6 396.5L160.9 395M934.8 396.5L951.5 395M189.4 261.8L172.6 260.3M923 261.8L939.8 260.3M201.2 126.4L184.5 125M911.2 126.4L927.9 125" fill="none" stroke="#000" stroke-width="1"/>
<g font-family="DejaVu Sans, Liberation Sans, sans-serif" font-size="20.4" letter-spacing=".15" fill="#000"><text x="140.7" y="757.1" text-anchor="middle" dy="7.4" transform="rotate(4.99 140.7 757.1)">100°W</text><text x="308.0" y="769.0" text-anchor="middle" dy="7.4" transform="rotate(3.05 308.0 769.0)">95°W</text><text x="475.0" y="774.9" text-anchor="middle" dy="7.4" transform="rotate(1.02 475.0 774.9)">90°W</text><text x="642.0" y="774.9" text-anchor="middle" dy="7.4" transform="rotate(-1.02 642.0 774.9)">85°W</text><text x="809.0" y="769.0" text-anchor="middle" dy="7.4" transform="rotate(-3.05 809.0 769.0)">80°W</text><text x="976.3" y="757.1" text-anchor="middle" dy="7.4" transform="rotate(-4.99 976.3 757.1)">75°W</text><text x="129.3" y="664.3" text-anchor="end" dy="7.3" transform="rotate(4.99 129.3 664.3)">16°N</text><text x="141.1" y="529.0" text-anchor="end" dy="7.3" transform="rotate(4.99 141.1 529.0)">20°N</text><text x="152.9" y="394.3" text-anchor="end" dy="7.3" transform="rotate(4.99 152.9 394.3)">24°N</text><text x="164.7" y="259.6" text-anchor="end" dy="7.3" transform="rotate(4.99 164.7 259.6)">28°N</text><text x="176.5" y="124.3" text-anchor="end" dy="7.3" transform="rotate(4.99 176.5 124.3)">32°N</text></g>
<rect x="989.5" y="89.2" width="34.299999999999955" height="665.0" fill="url(#cb)" stroke="#262626" stroke-width="1"/>
<path d="M1023.8 155.7h-7.5M1023.8 222.2h-7.5M1023.8 288.7h-7.5M1023.8 355.2h-7.5M1023.8 421.7h-7.5M1023.8 488.2h-7.5M1023.8 554.7h-7.5M1023.8 621.2h-7.5M1023.8 687.7h-7.5" stroke="#262626" stroke-width="1" fill="none"/>
<g font-family="DejaVu Sans, Liberation Sans, sans-serif" font-size="18.5" fill="#262626"><text x="1031.2" y="89.2" dy="6.6">50</text><text x="1031.2" y="155.7" dy="6.6">40</text><text x="1031.2" y="222.2" dy="6.6">30</text><text x="1031.2" y="288.7" dy="6.6">20</text><text x="1031.2" y="355.2" dy="6.6">10</text><text x="1031.2" y="421.7" dy="6.6">0</text><text x="1031.2" y="488.2" dy="6.6">-10</text><text x="1031.2" y="554.7" dy="6.6">-20</text><text x="1031.2" y="621.2" dy="6.6">-30</text><text x="1031.2" y="687.7" dy="6.6">-40</text><text x="1031.2" y="754.2" dy="6.6">-50</text></g>
</svg>
</body></html>
